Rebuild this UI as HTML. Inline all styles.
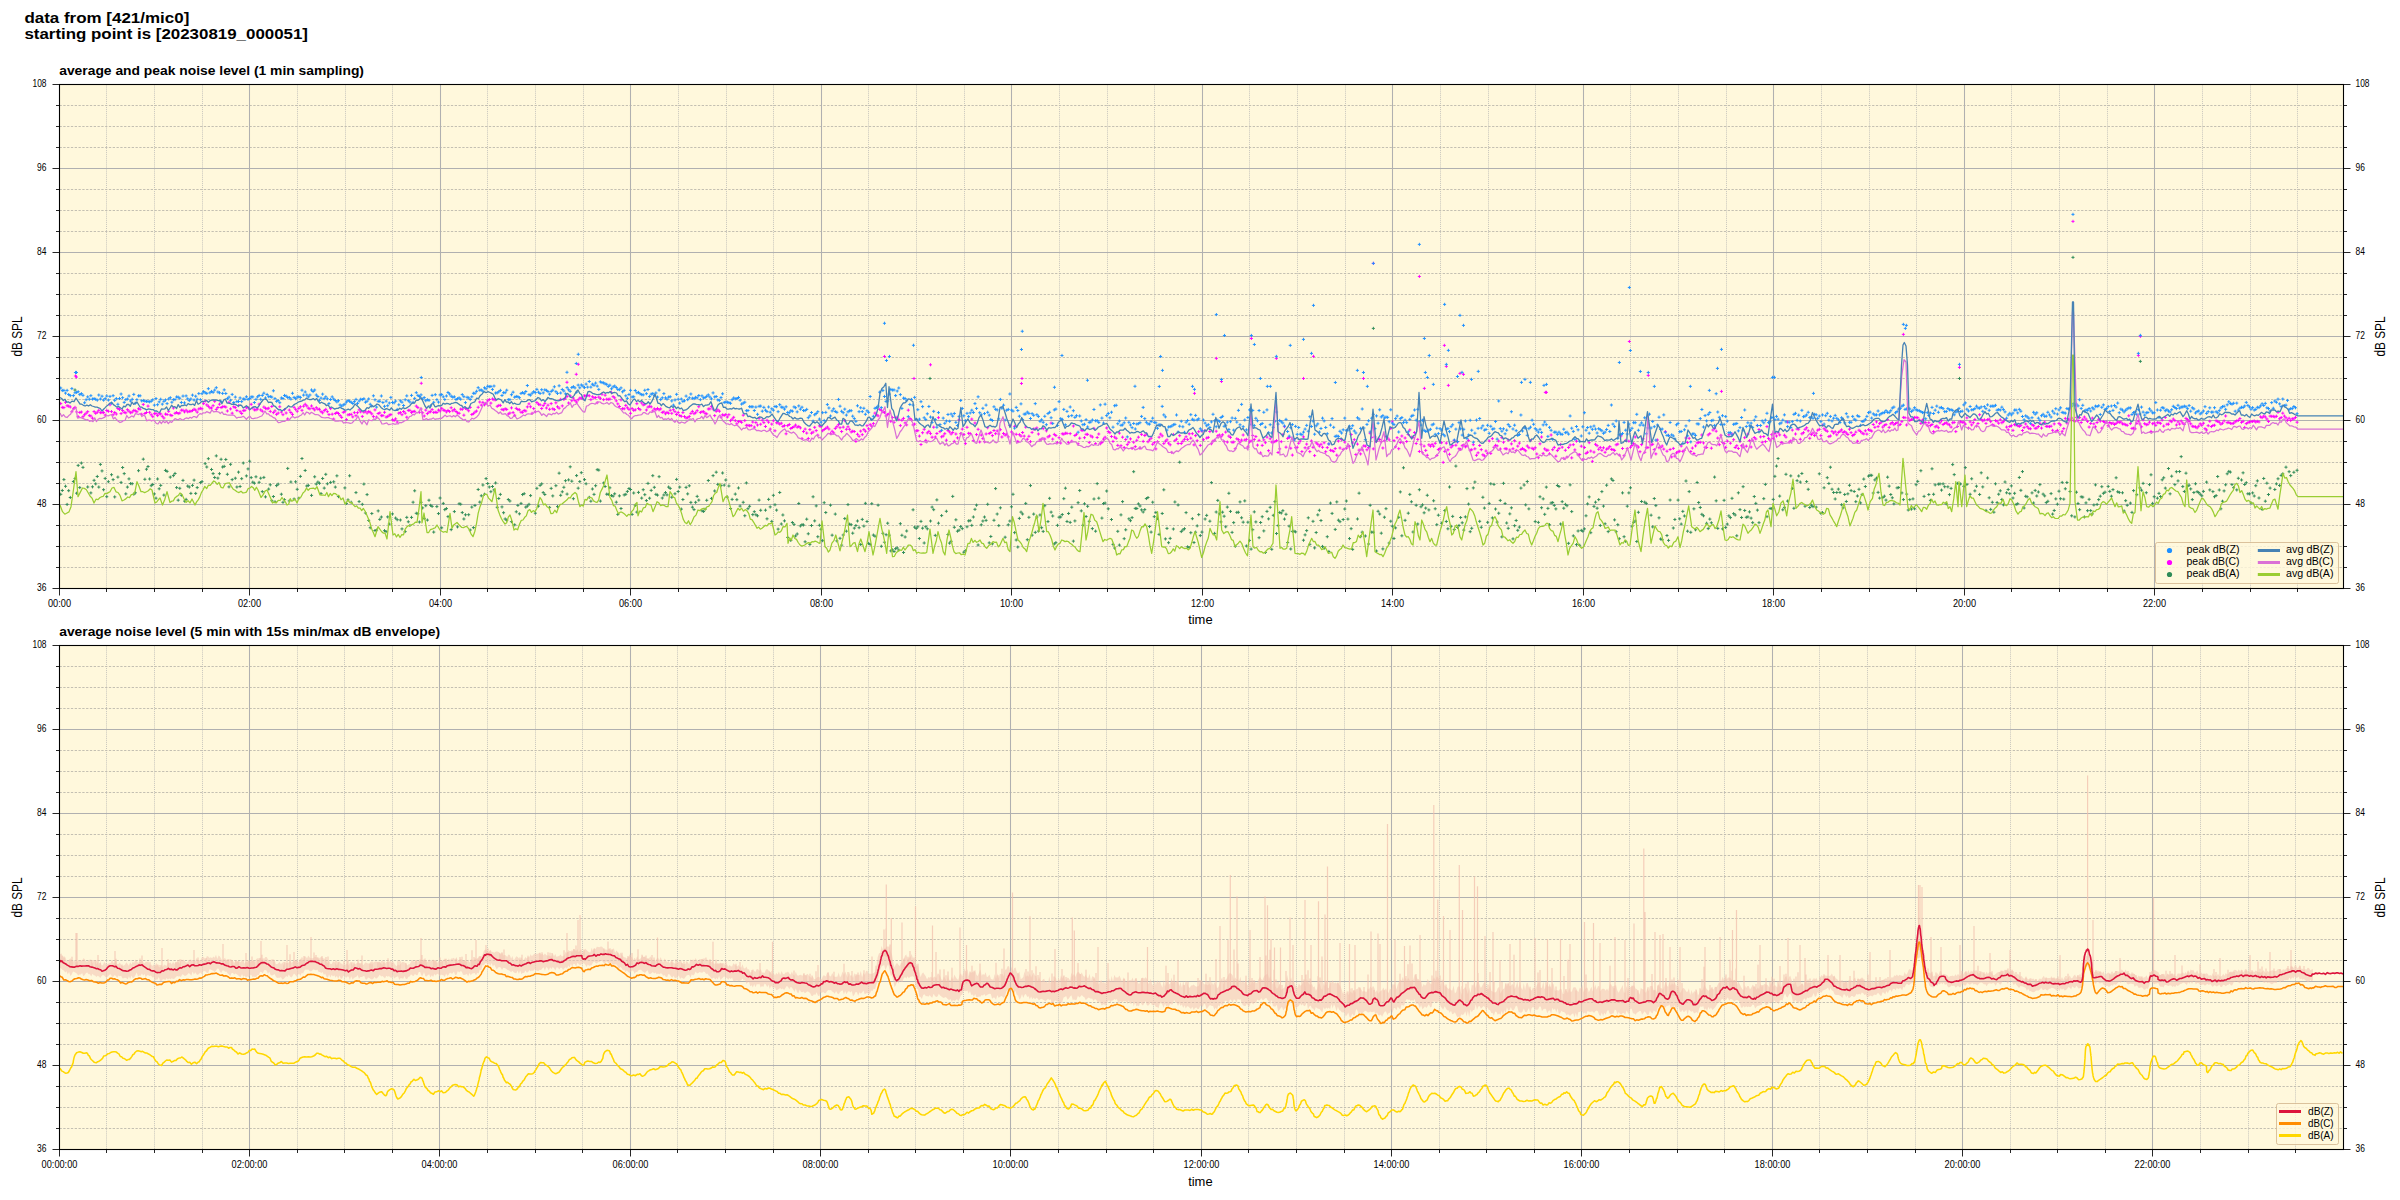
<!DOCTYPE html>
<html><head><meta charset="utf-8"><style>html,body{margin:0;padding:0;background:#fff;width:2400px;height:1200px;overflow:hidden}</style></head><body>
<svg width="2400" height="1200" viewBox="0 0 2400 1200" style="display:block;font-family:'Liberation Sans', sans-serif">
<rect width="2400" height="1200" fill="#ffffff"/>
<text x="24.40" y="22.90" font-size="15.00" text-anchor="start" font-weight="bold" textLength="164.90" lengthAdjust="spacingAndGlyphs">data from [421/mic0]</text>
<text x="24.40" y="38.70" font-size="15.00" text-anchor="start" font-weight="bold" textLength="283.60" lengthAdjust="spacingAndGlyphs">starting point is [20230819_000051]</text>
<text x="59.20" y="74.60" font-size="13.60" text-anchor="start" font-weight="bold" textLength="304.80" lengthAdjust="spacingAndGlyphs">average and peak noise level (1 min sampling)</text>
<text x="59.20" y="636.40" font-size="13.60" text-anchor="start" font-weight="bold" textLength="380.80" lengthAdjust="spacingAndGlyphs">average noise level (5 min with 15s min/max dB envelope)</text>
<rect x="59.5" y="84.5" width="2284.0" height="504.0" fill="#fff8dc"/>
<path d="M106.50 84.5V588.5M154.50 84.5V588.5M202.50 84.5V588.5M297.50 84.5V588.5M345.50 84.5V588.5M392.50 84.5V588.5M487.50 84.5V588.5M535.50 84.5V588.5M583.50 84.5V588.5M678.50 84.5V588.5M726.50 84.5V588.5M773.50 84.5V588.5M868.50 84.5V588.5M916.50 84.5V588.5M964.50 84.5V588.5M1059.50 84.5V588.5M1107.50 84.5V588.5M1154.50 84.5V588.5M1249.50 84.5V588.5M1297.50 84.5V588.5M1345.50 84.5V588.5M1440.50 84.5V588.5M1488.50 84.5V588.5M1535.50 84.5V588.5M1630.50 84.5V588.5M1678.50 84.5V588.5M1726.50 84.5V588.5M1821.50 84.5V588.5M1869.50 84.5V588.5M1916.50 84.5V588.5M2011.50 84.5V588.5M2059.50 84.5V588.5M2107.50 84.5V588.5M2202.50 84.5V588.5M2250.50 84.5V588.5M2297.50 84.5V588.5" stroke="#b0b0b0" stroke-opacity="0.72" stroke-width="1" stroke-dasharray="1 1.05" fill="none"/>
<path d="M59.5 567.50H2343.5M59.5 546.50H2343.5M59.5 525.50H2343.5M59.5 483.50H2343.5M59.5 462.50H2343.5M59.5 441.50H2343.5M59.5 399.50H2343.5M59.5 378.50H2343.5M59.5 357.50H2343.5M59.5 315.50H2343.5M59.5 294.50H2343.5M59.5 273.50H2343.5M59.5 231.50H2343.5M59.5 210.50H2343.5M59.5 189.50H2343.5M59.5 147.50H2343.5M59.5 126.50H2343.5M59.5 105.50H2343.5" stroke="#bdb9ad" stroke-width="0.9" stroke-dasharray="2.3 1.5" fill="none"/>
<path d="M59.5 504.50H2343.5M59.5 420.50H2343.5M59.5 336.50H2343.5M59.5 252.50H2343.5M59.5 168.50H2343.5M249.50 84.5V588.5M440.50 84.5V588.5M630.50 84.5V588.5M821.50 84.5V588.5M1011.50 84.5V588.5M1202.50 84.5V588.5M1392.50 84.5V588.5M1583.50 84.5V588.5M1773.50 84.5V588.5M1964.50 84.5V588.5M2154.50 84.5V588.5" stroke="#b0b0b0" stroke-width="1.05" fill="none"/>
<g id="data0"><path d="M59.2 494.3h3.1M60.7 492.7v3.1M60.8 490.5h3.1M62.3 488.9v3.1M62.4 479.6h3.1M63.9 478.0v3.1M64.0 486.3h3.1M65.5 484.7v3.1M65.5 504.4h3.1M67.1 502.9v3.1M67.1 490.7h3.1M68.7 489.1v3.1M68.7 497.5h3.1M70.3 495.9v3.1M71.9 481.5h3.1M73.4 480.0v3.1M73.5 478.6h3.1M75.0 477.0v3.1M75.1 493.2h3.1M76.6 491.7v3.1M76.6 465.4h3.1M78.2 463.9v3.1M78.2 487.6h3.1M79.8 486.0v3.1M79.8 463.1h3.1M81.4 461.5v3.1M81.4 467.4h3.1M83.0 465.8v3.1M86.2 487.0h3.1M87.7 485.4v3.1M89.3 492.9h3.1M90.9 491.4v3.1M90.9 486.8h3.1M92.5 485.3v3.1M92.5 480.3h3.1M94.1 478.8v3.1M94.1 483.9h3.1M95.7 482.3v3.1M95.7 476.5h3.1M97.3 474.9v3.1M97.3 487.1h3.1M98.8 485.5v3.1M98.9 464.4h3.1M100.4 462.8v3.1M100.5 470.9h3.1M102.0 469.4v3.1M102.0 489.7h3.1M103.6 488.2v3.1M103.6 478.4h3.1M105.2 476.9v3.1M105.2 496.7h3.1M106.8 495.1v3.1M106.8 481.7h3.1M108.4 480.1v3.1M110.0 474.7h3.1M111.5 473.2v3.1M111.6 479.6h3.1M113.1 478.1v3.1M113.2 496.9h3.1M114.7 495.4v3.1M116.3 477.1h3.1M117.9 475.5v3.1M119.5 482.4h3.1M121.1 480.9v3.1M121.1 467.5h3.1M122.6 466.0v3.1M122.7 473.6h3.1M124.2 472.1v3.1M124.3 493.9h3.1M125.8 492.3v3.1M125.9 487.1h3.1M127.4 485.5v3.1M127.4 478.9h3.1M129.0 477.3v3.1M129.0 483.6h3.1M130.6 482.0v3.1M130.6 483.7h3.1M132.2 482.2v3.1M132.2 494.2h3.1M133.8 492.6v3.1M133.8 492.8h3.1M135.3 491.3v3.1M137.0 470.7h3.1M138.5 469.1v3.1M141.7 459.2h3.1M143.3 457.6v3.1M143.3 479.3h3.1M144.9 477.7v3.1M144.9 469.2h3.1M146.5 467.7v3.1M146.5 466.5h3.1M148.0 465.0v3.1M148.1 479.0h3.1M149.6 477.4v3.1M149.7 485.7h3.1M151.2 484.1v3.1M151.2 484.5h3.1M152.8 482.9v3.1M152.8 493.9h3.1M154.4 492.4v3.1M154.4 498.2h3.1M156.0 496.6v3.1M156.0 479.0h3.1M157.6 477.4v3.1M157.6 488.8h3.1M159.2 487.2v3.1M159.2 485.4h3.1M160.7 483.8v3.1M162.4 495.1h3.1M163.9 493.5v3.1M163.9 470.4h3.1M165.5 468.8v3.1M165.5 471.4h3.1M167.1 469.8v3.1M168.7 477.1h3.1M170.3 475.6v3.1M171.9 475.6h3.1M173.4 474.1v3.1M173.5 473.5h3.1M175.0 471.9v3.1M175.1 487.6h3.1M176.6 486.0v3.1M176.6 500.2h3.1M178.2 498.6v3.1M178.2 488.3h3.1M179.8 486.8v3.1M179.8 495.2h3.1M181.4 493.6v3.1M181.4 480.4h3.1M183.0 478.8v3.1M183.0 501.1h3.1M184.5 499.5v3.1M184.6 499.4h3.1M186.1 497.8v3.1M186.2 486.1h3.1M187.7 484.5v3.1M187.7 487.0h3.1M189.3 485.5v3.1M189.3 493.4h3.1M190.9 491.8v3.1M190.9 485.4h3.1M192.5 483.8v3.1M192.5 480.1h3.1M194.1 478.6v3.1M194.1 493.4h3.1M195.7 491.9v3.1M195.7 487.6h3.1M197.2 486.0v3.1M198.9 482.6h3.1M200.4 481.1v3.1M200.4 481.6h3.1M202.0 480.0v3.1M203.6 463.7h3.1M205.2 462.1v3.1M205.2 467.0h3.1M206.8 465.4v3.1M206.8 458.7h3.1M208.4 457.1v3.1M210.0 469.5h3.1M211.5 467.9v3.1M211.6 473.6h3.1M213.1 472.0v3.1M213.1 477.5h3.1M214.7 475.9v3.1M214.7 455.9h3.1M216.3 454.3v3.1M216.3 478.1h3.1M217.9 476.6v3.1M217.9 473.7h3.1M219.5 472.1v3.1M219.5 459.3h3.1M221.1 457.7v3.1M221.1 467.0h3.1M222.6 465.4v3.1M222.7 466.4h3.1M224.2 464.8v3.1M224.3 459.5h3.1M225.8 457.9v3.1M225.8 474.3h3.1M227.4 472.7v3.1M227.4 486.9h3.1M229.0 485.3v3.1M229.0 464.3h3.1M230.6 462.8v3.1M230.6 479.6h3.1M232.2 478.1v3.1M233.8 478.2h3.1M235.3 476.7v3.1M235.4 487.0h3.1M236.9 485.5v3.1M237.0 472.1h3.1M238.5 470.6v3.1M238.5 486.5h3.1M240.1 484.9v3.1M240.1 478.7h3.1M241.7 477.1v3.1M241.7 463.0h3.1M243.3 461.5v3.1M244.9 475.9h3.1M246.4 474.4v3.1M246.5 468.9h3.1M248.0 467.4v3.1M248.1 461.2h3.1M249.6 459.6v3.1M249.6 477.6h3.1M251.2 476.0v3.1M251.2 482.2h3.1M252.8 480.6v3.1M252.8 483.2h3.1M254.4 481.6v3.1M254.4 476.8h3.1M256.0 475.2v3.1M257.6 482.3h3.1M259.1 480.8v3.1M259.2 478.2h3.1M260.7 476.6v3.1M260.8 491.6h3.1M262.3 490.1v3.1M262.3 477.4h3.1M263.9 475.9v3.1M263.9 496.9h3.1M265.5 495.3v3.1M267.1 489.1h3.1M268.7 487.5v3.1M268.7 484.8h3.1M270.3 483.3v3.1M270.3 500.7h3.1M271.8 499.1v3.1M271.9 496.5h3.1M273.4 495.0v3.1M273.5 501.7h3.1M275.0 500.2v3.1M275.0 485.6h3.1M276.6 484.1v3.1M276.6 484.1h3.1M278.2 482.6v3.1M279.8 494.2h3.1M281.4 492.7v3.1M281.4 502.3h3.1M283.0 500.7v3.1M283.0 499.7h3.1M284.5 498.2v3.1M286.2 468.4h3.1M287.7 466.9v3.1M287.7 500.9h3.1M289.3 499.3v3.1M289.3 482.0h3.1M290.9 480.4v3.1M292.5 499.0h3.1M294.1 497.5v3.1M294.1 481.8h3.1M295.6 480.2v3.1M295.7 489.3h3.1M297.2 487.7v3.1M297.3 498.2h3.1M298.8 496.7v3.1M298.9 476.4h3.1M300.4 474.8v3.1M300.4 458.5h3.1M302.0 457.0v3.1M303.6 470.5h3.1M305.2 468.9v3.1M305.2 486.0h3.1M306.8 484.5v3.1M306.8 485.4h3.1M308.3 483.9v3.1M310.0 495.4h3.1M311.5 493.8v3.1M313.1 476.8h3.1M314.7 475.2v3.1M314.7 484.1h3.1M316.3 482.5v3.1M316.3 482.1h3.1M317.9 480.5v3.1M317.9 483.3h3.1M319.5 481.7v3.1M319.5 493.6h3.1M321.0 492.0v3.1M321.1 478.5h3.1M322.6 476.9v3.1M322.7 488.1h3.1M324.2 486.5v3.1M324.2 474.3h3.1M325.8 472.8v3.1M325.8 483.8h3.1M327.4 482.2v3.1M329.0 482.4h3.1M330.6 480.8v3.1M332.2 481.8h3.1M333.7 480.2v3.1M333.8 487.1h3.1M335.3 485.5v3.1M335.4 475.8h3.1M336.9 474.3v3.1M336.9 496.6h3.1M338.5 495.1v3.1M343.3 487.9h3.1M344.9 486.4v3.1M344.9 503.4h3.1M346.4 501.9v3.1M346.5 499.9h3.1M348.0 498.3v3.1M348.1 475.8h3.1M349.6 474.2v3.1M349.6 502.3h3.1M351.2 500.7v3.1M354.4 492.6h3.1M356.0 491.0v3.1M357.6 501.6h3.1M359.1 500.0v3.1M360.8 504.3h3.1M362.3 502.8v3.1M362.3 484.1h3.1M363.9 482.5v3.1M363.9 513.0h3.1M365.5 511.4v3.1M365.5 494.6h3.1M367.1 493.0v3.1M367.1 520.4h3.1M368.7 518.9v3.1M368.7 527.7h3.1M370.2 526.2v3.1M370.3 513.5h3.1M371.8 512.0v3.1M373.4 530.5h3.1M375.0 529.0v3.1M375.0 530.1h3.1M376.6 528.6v3.1M376.6 510.9h3.1M378.2 509.4v3.1M378.2 519.4h3.1M379.8 517.8v3.1M379.8 517.0h3.1M381.4 515.5v3.1M383.0 530.7h3.1M384.5 529.1v3.1M384.6 531.6h3.1M386.1 530.1v3.1M386.1 516.9h3.1M387.7 515.4v3.1M387.7 524.1h3.1M389.3 522.5v3.1M390.9 513.9h3.1M392.5 512.4v3.1M394.1 518.1h3.1M395.6 516.5v3.1M395.7 519.7h3.1M397.2 518.2v3.1M398.8 520.0h3.1M400.4 518.5v3.1M400.4 528.9h3.1M402.0 527.4v3.1M403.6 531.6h3.1M405.2 530.0v3.1M405.2 517.4h3.1M406.8 515.8v3.1M406.8 521.8h3.1M408.3 520.2v3.1M408.4 525.5h3.1M409.9 523.9v3.1M410.0 517.4h3.1M411.5 515.8v3.1M411.5 502.2h3.1M413.1 500.7v3.1M413.1 490.8h3.1M414.7 489.2v3.1M414.7 513.3h3.1M416.3 511.7v3.1M416.3 513.7h3.1M417.9 512.1v3.1M417.9 522.0h3.1M419.4 520.5v3.1M419.5 502.3h3.1M421.0 500.7v3.1M421.1 507.9h3.1M422.6 506.4v3.1M422.7 518.4h3.1M424.2 516.9v3.1M424.2 505.7h3.1M425.8 504.1v3.1M425.8 520.1h3.1M427.4 518.5v3.1M427.4 500.2h3.1M429.0 498.7v3.1M429.0 505.3h3.1M430.6 503.8v3.1M430.6 506.4h3.1M432.1 504.8v3.1M432.2 532.1h3.1M433.7 530.5v3.1M435.3 506.6h3.1M436.9 505.0v3.1M436.9 513.6h3.1M438.5 512.0v3.1M438.5 498.0h3.1M440.1 496.5v3.1M440.1 527.8h3.1M441.7 526.3v3.1M441.7 503.4h3.1M443.3 501.9v3.1M443.3 509.6h3.1M444.8 508.1v3.1M444.9 508.6h3.1M446.4 507.0v3.1M446.5 516.6h3.1M448.0 515.1v3.1M449.6 529.6h3.1M451.2 528.1v3.1M452.8 511.6h3.1M454.4 510.0v3.1M456.0 526.9h3.1M457.5 525.3v3.1M457.6 503.8h3.1M459.1 502.2v3.1M459.2 504.2h3.1M460.7 502.6v3.1M460.7 512.6h3.1M462.3 511.0v3.1M462.3 519.0h3.1M463.9 517.4v3.1M463.9 514.8h3.1M465.5 513.3v3.1M467.1 514.7h3.1M468.7 513.2v3.1M468.7 530.0h3.1M470.2 528.5v3.1M470.3 507.1h3.1M471.8 505.5v3.1M471.9 527.6h3.1M473.4 526.1v3.1M473.4 505.5h3.1M475.0 503.9v3.1M476.6 489.5h3.1M478.2 487.9v3.1M478.2 502.1h3.1M479.8 500.5v3.1M479.8 495.8h3.1M481.3 494.2v3.1M481.4 485.0h3.1M482.9 483.5v3.1M483.0 494.2h3.1M484.5 492.7v3.1M484.5 478.6h3.1M486.1 477.0v3.1M486.1 483.5h3.1M487.7 482.0v3.1M487.7 487.0h3.1M489.3 485.5v3.1M489.3 491.7h3.1M490.9 490.1v3.1M490.9 486.5h3.1M492.5 485.0v3.1M492.5 489.9h3.1M494.0 488.4v3.1M494.1 483.0h3.1M495.6 481.4v3.1M495.7 507.3h3.1M497.2 505.8v3.1M497.2 498.5h3.1M498.8 496.9v3.1M498.8 494.4h3.1M500.4 492.8v3.1M500.4 506.9h3.1M502.0 505.4v3.1M502.0 512.7h3.1M503.6 511.2v3.1M503.6 519.0h3.1M505.2 517.4v3.1M505.2 520.2h3.1M506.7 518.6v3.1M506.8 499.5h3.1M508.3 498.0v3.1M508.4 501.0h3.1M509.9 499.5v3.1M509.9 521.7h3.1M511.5 520.1v3.1M513.1 524.8h3.1M514.7 523.3v3.1M514.7 511.8h3.1M516.3 510.2v3.1M516.3 505.4h3.1M517.9 503.8v3.1M517.9 513.8h3.1M519.4 512.3v3.1M519.5 503.4h3.1M521.0 501.9v3.1M521.1 494.5h3.1M522.6 493.0v3.1M522.6 493.7h3.1M524.2 492.1v3.1M524.2 507.1h3.1M525.8 505.6v3.1M525.8 506.1h3.1M527.4 504.5v3.1M527.4 504.3h3.1M529.0 502.8v3.1M529.0 495.6h3.1M530.6 494.0v3.1M533.8 513.2h3.1M535.3 511.7v3.1M535.3 488.3h3.1M536.9 486.8v3.1M536.9 506.1h3.1M538.5 504.5v3.1M538.5 485.4h3.1M540.1 483.8v3.1M540.1 483.9h3.1M541.7 482.3v3.1M541.7 492.6h3.1M543.2 491.0v3.1M543.3 494.5h3.1M544.8 492.9v3.1M548.0 507.4h3.1M549.6 505.9v3.1M549.6 488.4h3.1M551.2 486.8v3.1M551.2 495.9h3.1M552.8 494.4v3.1M554.4 485.7h3.1M555.9 484.1v3.1M556.0 506.6h3.1M557.5 505.0v3.1M557.6 473.2h3.1M559.1 471.6v3.1M559.1 495.3h3.1M560.7 493.7v3.1M560.7 491.8h3.1M562.3 490.2v3.1M562.3 487.3h3.1M563.9 485.7v3.1M563.9 480.7h3.1M565.5 479.2v3.1M565.5 494.1h3.1M567.1 492.5v3.1M567.1 479.9h3.1M568.6 478.3v3.1M568.7 466.8h3.1M570.2 465.3v3.1M570.3 481.2h3.1M571.8 479.6v3.1M571.8 498.7h3.1M573.4 497.2v3.1M575.0 475.6h3.1M576.6 474.0v3.1M576.6 488.2h3.1M578.2 486.6v3.1M578.2 481.6h3.1M579.8 480.0v3.1M579.8 472.7h3.1M581.3 471.1v3.1M583.0 479.6h3.1M584.5 478.0v3.1M584.5 483.8h3.1M586.1 482.2v3.1M587.7 497.3h3.1M589.3 495.8v3.1M589.3 501.2h3.1M590.9 499.6v3.1M590.9 489.0h3.1M592.4 487.4v3.1M592.5 494.4h3.1M594.0 492.8v3.1M594.1 485.7h3.1M595.6 484.2v3.1M595.7 469.7h3.1M597.2 468.1v3.1M597.2 470.1h3.1M598.8 468.5v3.1M598.8 501.1h3.1M600.4 499.5v3.1M602.0 483.0h3.1M603.6 481.5v3.1M603.6 486.5h3.1M605.1 484.9v3.1M605.2 494.2h3.1M606.7 492.6v3.1M606.8 494.3h3.1M608.3 492.8v3.1M608.3 487.8h3.1M609.9 486.2v3.1M609.9 495.5h3.1M611.5 494.0v3.1M611.5 496.2h3.1M613.1 494.6v3.1M613.1 493.8h3.1M614.7 492.3v3.1M614.7 502.2h3.1M616.3 500.6v3.1M616.3 514.4h3.1M617.8 512.8v3.1M617.9 495.9h3.1M619.4 494.3v3.1M619.5 508.5h3.1M621.0 507.0v3.1M622.6 494.9h3.1M624.2 493.4v3.1M624.2 494.3h3.1M625.8 492.8v3.1M625.8 491.4h3.1M627.4 489.9v3.1M627.4 488.5h3.1M629.0 487.0v3.1M629.0 489.5h3.1M630.5 487.9v3.1M630.6 514.4h3.1M632.1 512.8v3.1M632.2 493.0h3.1M633.7 491.4v3.1M633.7 505.3h3.1M635.3 503.8v3.1M635.3 512.1h3.1M636.9 510.5v3.1M636.9 492.4h3.1M638.5 490.8v3.1M640.1 498.1h3.1M641.7 496.5v3.1M641.7 489.7h3.1M643.2 488.2v3.1M643.3 494.7h3.1M644.8 493.1v3.1M644.9 500.6h3.1M646.4 499.0v3.1M646.4 483.4h3.1M648.0 481.8v3.1M648.0 498.2h3.1M649.6 496.7v3.1M649.6 490.4h3.1M651.2 488.8v3.1M651.2 475.7h3.1M652.8 474.1v3.1M652.8 487.3h3.1M654.3 485.8v3.1M654.4 494.4h3.1M655.9 492.8v3.1M656.0 495.1h3.1M657.5 493.5v3.1M657.6 476.7h3.1M659.1 475.1v3.1M660.7 498.0h3.1M662.3 496.5v3.1M662.3 495.0h3.1M663.9 493.4v3.1M663.9 492.6h3.1M665.5 491.0v3.1M665.5 494.9h3.1M667.0 493.3v3.1M667.1 487.1h3.1M668.6 485.5v3.1M668.7 488.4h3.1M670.2 486.9v3.1M670.2 497.2h3.1M671.8 495.7v3.1M673.4 493.8h3.1M675.0 492.2v3.1M675.0 479.4h3.1M676.6 477.8v3.1M676.6 491.5h3.1M678.2 490.0v3.1M678.2 487.1h3.1M679.7 485.6v3.1M679.8 509.1h3.1M681.3 507.5v3.1M681.4 499.5h3.1M682.9 498.0v3.1M684.5 487.4h3.1M686.1 485.8v3.1M686.1 493.9h3.1M687.7 492.3v3.1M687.7 485.8h3.1M689.3 484.2v3.1M689.3 502.4h3.1M690.9 500.9v3.1M690.9 507.2h3.1M692.4 505.6v3.1M692.5 509.6h3.1M694.0 508.0v3.1M694.1 502.3h3.1M695.6 500.8v3.1M695.6 496.4h3.1M697.2 494.8v3.1M697.2 500.1h3.1M698.8 498.6v3.1M700.4 510.8h3.1M702.0 509.3v3.1M702.0 511.5h3.1M703.6 509.9v3.1M703.6 509.2h3.1M705.1 507.6v3.1M705.2 500.3h3.1M706.7 498.7v3.1M706.8 480.5h3.1M708.3 479.0v3.1M709.9 498.4h3.1M711.5 496.9v3.1M711.5 475.6h3.1M713.1 474.1v3.1M713.1 491.0h3.1M714.7 489.4v3.1M714.7 472.2h3.1M716.2 470.6v3.1M716.3 484.4h3.1M717.8 482.8v3.1M719.5 485.6h3.1M721.0 484.1v3.1M721.0 473.0h3.1M722.6 471.4v3.1M722.6 485.1h3.1M724.2 483.6v3.1M724.2 480.0h3.1M725.8 478.5v3.1M725.8 497.1h3.1M727.4 495.5v3.1M727.4 486.0h3.1M728.9 484.4v3.1M729.0 508.5h3.1M730.5 506.9v3.1M730.6 499.4h3.1M732.1 497.8v3.1M733.7 494.1h3.1M735.3 492.5v3.1M735.3 499.7h3.1M736.9 498.1v3.1M736.9 488.0h3.1M738.5 486.4v3.1M738.5 506.1h3.1M740.1 504.5v3.1M741.7 502.3h3.1M743.2 500.7v3.1M743.3 515.7h3.1M744.8 514.2v3.1M744.8 482.9h3.1M746.4 481.4v3.1M746.4 508.7h3.1M748.0 507.1v3.1M748.0 506.3h3.1M749.6 504.7v3.1M751.2 514.6h3.1M752.8 513.1v3.1M752.8 511.7h3.1M754.3 510.2v3.1M754.4 514.8h3.1M755.9 513.2v3.1M756.0 515.8h3.1M757.5 514.2v3.1M757.5 500.1h3.1M759.1 498.5v3.1M759.1 510.3h3.1M760.7 508.7v3.1M763.9 510.2h3.1M765.5 508.6v3.1M765.5 518.8h3.1M767.0 517.3v3.1M767.1 499.4h3.1M768.6 497.8v3.1M768.7 506.9h3.1M770.2 505.4v3.1M770.2 521.4h3.1M771.8 519.8v3.1M771.8 495.3h3.1M773.4 493.8v3.1M773.4 504.8h3.1M775.0 503.2v3.1M775.0 510.1h3.1M776.6 508.6v3.1M776.6 529.1h3.1M778.1 527.6v3.1M778.2 492.5h3.1M779.7 490.9v3.1M779.8 524.0h3.1M781.3 522.4v3.1M781.3 515.0h3.1M782.9 513.4v3.1M782.9 520.9h3.1M784.5 519.3v3.1M786.1 537.4h3.1M787.7 535.9v3.1M789.3 540.4h3.1M790.8 538.9v3.1M790.9 522.5h3.1M792.4 521.0v3.1M792.5 524.4h3.1M794.0 522.9v3.1M794.0 536.0h3.1M795.6 534.4v3.1M795.6 534.0h3.1M797.2 532.4v3.1M797.2 503.5h3.1M798.8 501.9v3.1M798.8 525.9h3.1M800.4 524.4v3.1M800.4 524.7h3.1M802.0 523.1v3.1M802.0 525.0h3.1M803.5 523.4v3.1M803.6 541.8h3.1M805.1 540.2v3.1M805.2 519.2h3.1M806.7 517.6v3.1M806.7 533.8h3.1M808.3 532.2v3.1M808.3 544.4h3.1M809.9 542.8v3.1M809.9 525.5h3.1M811.5 524.0v3.1M811.5 496.8h3.1M813.1 495.2v3.1M813.1 520.9h3.1M814.7 519.3v3.1M814.7 505.9h3.1M816.2 504.3v3.1M816.3 536.7h3.1M817.8 535.2v3.1M817.9 525.3h3.1M819.4 523.7v3.1M819.4 529.2h3.1M821.0 527.6v3.1M821.0 540.7h3.1M822.6 539.1v3.1M822.6 502.7h3.1M824.2 501.1v3.1M824.2 512.5h3.1M825.8 511.0v3.1M829.0 505.2h3.1M830.5 503.6v3.1M830.6 535.2h3.1M832.1 533.6v3.1M833.7 514.1h3.1M835.3 512.5v3.1M835.3 540.9h3.1M836.9 539.4v3.1M838.5 538.3h3.1M840.0 536.8v3.1M840.1 545.1h3.1M841.6 543.6v3.1M841.7 535.0h3.1M843.2 533.5v3.1M843.2 518.6h3.1M844.8 517.0v3.1M844.8 531.2h3.1M846.4 529.6v3.1M846.4 504.6h3.1M848.0 503.0v3.1M848.0 524.2h3.1M849.6 522.6v3.1M849.6 524.7h3.1M851.2 523.1v3.1M851.2 533.2h3.1M852.7 531.6v3.1M852.8 528.1h3.1M854.3 526.6v3.1M854.4 525.5h3.1M855.9 524.0v3.1M855.9 521.0h3.1M857.5 519.4v3.1M857.5 527.7h3.1M859.1 526.1v3.1M859.1 544.5h3.1M860.7 543.0v3.1M860.7 519.4h3.1M862.3 517.8v3.1M862.3 526.1h3.1M863.9 524.5v3.1M863.9 503.3h3.1M865.4 501.8v3.1M865.5 521.5h3.1M867.0 519.9v3.1M867.1 543.4h3.1M868.6 541.8v3.1M868.6 544.4h3.1M870.2 542.8v3.1M870.2 503.7h3.1M871.8 502.1v3.1M871.8 535.1h3.1M873.4 533.5v3.1M873.4 536.2h3.1M875.0 534.6v3.1M876.6 505.2h3.1M878.1 503.6v3.1M879.8 546.3h3.1M881.3 544.7v3.1M881.3 533.3h3.1M882.9 531.7v3.1M882.9 542.2h3.1M884.5 540.7v3.1M884.5 534.7h3.1M886.1 533.2v3.1M886.1 523.2h3.1M887.7 521.7v3.1M887.7 535.2h3.1M889.3 533.6v3.1M889.3 550.9h3.1M890.8 549.3v3.1M890.9 549.9h3.1M892.4 548.3v3.1M892.5 551.5h3.1M894.0 549.9v3.1M894.0 548.7h3.1M895.6 547.2v3.1M895.6 547.9h3.1M897.2 546.4v3.1M897.2 550.1h3.1M898.8 548.5v3.1M898.8 523.7h3.1M900.4 522.1v3.1M900.4 535.3h3.1M901.9 533.7v3.1M902.0 552.5h3.1M903.5 550.9v3.1M903.6 537.0h3.1M905.1 535.4v3.1M905.1 531.0h3.1M906.7 529.4v3.1M911.5 509.8h3.1M913.1 508.2v3.1M913.1 527.1h3.1M914.6 525.6v3.1M914.7 528.4h3.1M916.2 526.9v3.1M916.3 526.8h3.1M917.8 525.2v3.1M917.8 538.5h3.1M919.4 537.0v3.1M919.4 521.4h3.1M921.0 519.8v3.1M921.0 528.2h3.1M922.6 526.6v3.1M922.6 543.0h3.1M924.2 541.4v3.1M924.2 526.7h3.1M925.8 525.2v3.1M925.8 528.8h3.1M927.3 527.3v3.1M929.0 521.0h3.1M930.5 519.5v3.1M930.5 507.1h3.1M932.1 505.6v3.1M932.1 509.7h3.1M933.7 508.1v3.1M933.7 535.4h3.1M935.3 533.8v3.1M935.3 499.9h3.1M936.9 498.3v3.1M936.9 523.2h3.1M938.5 521.6v3.1M940.1 515.6h3.1M941.6 514.0v3.1M944.8 511.3h3.1M946.4 509.7v3.1M946.4 534.5h3.1M948.0 532.9v3.1M948.0 543.1h3.1M949.6 541.6v3.1M949.6 541.3h3.1M951.1 539.8v3.1M951.2 496.4h3.1M952.7 494.8v3.1M952.8 527.3h3.1M954.3 525.7v3.1M954.4 519.8h3.1M955.9 518.2v3.1M955.9 531.2h3.1M957.5 529.6v3.1M957.5 530.2h3.1M959.1 528.6v3.1M959.1 526.6h3.1M960.7 525.0v3.1M960.7 528.6h3.1M962.3 527.1v3.1M962.3 552.2h3.1M963.8 550.6v3.1M963.9 550.8h3.1M965.4 549.2v3.1M965.5 526.8h3.1M967.0 525.2v3.1M967.0 520.9h3.1M968.6 519.3v3.1M968.6 520.7h3.1M970.2 519.1v3.1M970.2 525.4h3.1M971.8 523.8v3.1M971.8 517.0h3.1M973.4 515.4v3.1M973.4 509.3h3.1M975.0 507.8v3.1M975.0 505.1h3.1M976.5 503.6v3.1M976.6 545.0h3.1M978.1 543.4v3.1M979.7 524.8h3.1M981.3 523.3v3.1M981.3 521.0h3.1M982.9 519.5v3.1M982.9 517.0h3.1M984.5 515.5v3.1M984.5 520.4h3.1M986.1 518.8v3.1M986.1 504.3h3.1M987.7 502.7v3.1M987.7 542.9h3.1M989.2 541.3v3.1M989.3 536.5h3.1M990.8 534.9v3.1M990.9 543.8h3.1M992.4 542.3v3.1M992.4 520.3h3.1M994.0 518.7v3.1M994.0 488.6h3.1M995.6 487.0v3.1M995.6 514.0h3.1M997.2 512.5v3.1M997.2 525.6h3.1M998.8 524.0v3.1M998.8 507.8h3.1M1000.4 506.3v3.1M1003.6 537.2h3.1M1005.1 535.7v3.1M1006.7 524.8h3.1M1008.3 523.3v3.1M1008.3 521.0h3.1M1009.9 519.5v3.1M1009.9 506.8h3.1M1011.5 505.2v3.1M1011.5 494.3h3.1M1013.0 492.7v3.1M1013.1 532.6h3.1M1014.6 531.1v3.1M1014.7 540.0h3.1M1016.2 538.4v3.1M1016.3 547.0h3.1M1017.8 545.5v3.1M1017.8 518.4h3.1M1019.4 516.8v3.1M1019.4 512.1h3.1M1021.0 510.6v3.1M1021.0 514.0h3.1M1022.6 512.4v3.1M1024.2 503.4h3.1M1025.7 501.9v3.1M1025.8 539.7h3.1M1027.3 538.2v3.1M1027.4 517.3h3.1M1028.9 515.8v3.1M1028.9 485.6h3.1M1030.5 484.0v3.1M1030.5 535.2h3.1M1032.1 533.7v3.1M1032.1 514.1h3.1M1033.7 512.5v3.1M1033.7 532.4h3.1M1035.3 530.8v3.1M1035.3 517.0h3.1M1036.9 515.4v3.1M1036.9 531.1h3.1M1038.4 529.5v3.1M1038.5 515.0h3.1M1040.0 513.4v3.1M1040.1 527.7h3.1M1041.6 526.2v3.1M1041.6 531.4h3.1M1043.2 529.9v3.1M1043.2 505.7h3.1M1044.8 504.2v3.1M1046.4 521.6h3.1M1048.0 520.0v3.1M1048.0 498.3h3.1M1049.6 496.8v3.1M1049.6 512.1h3.1M1051.1 510.6v3.1M1051.2 516.0h3.1M1052.7 514.4v3.1M1052.8 543.9h3.1M1054.3 542.3v3.1M1054.3 542.7h3.1M1055.9 541.1v3.1M1055.9 525.3h3.1M1057.5 523.8v3.1M1057.5 517.2h3.1M1059.1 515.7v3.1M1059.1 517.0h3.1M1060.7 515.4v3.1M1060.7 514.5h3.1M1062.3 513.0v3.1M1062.3 498.7h3.1M1063.8 497.1v3.1M1063.9 488.2h3.1M1065.4 486.6v3.1M1065.5 521.5h3.1M1067.0 519.9v3.1M1067.0 513.5h3.1M1068.6 511.9v3.1M1068.6 522.4h3.1M1070.2 520.8v3.1M1070.2 507.2h3.1M1071.8 505.6v3.1M1071.8 541.1h3.1M1073.4 539.6v3.1M1073.4 520.9h3.1M1074.9 519.4v3.1M1076.6 502.7h3.1M1078.1 501.1v3.1M1078.2 490.5h3.1M1079.7 489.0v3.1M1079.7 510.9h3.1M1081.3 509.3v3.1M1081.3 525.3h3.1M1082.9 523.7v3.1M1082.9 503.8h3.1M1084.5 502.2v3.1M1084.5 516.5h3.1M1086.1 515.0v3.1M1086.1 506.3h3.1M1087.6 504.8v3.1M1087.7 521.3h3.1M1089.2 519.7v3.1M1090.8 528.6h3.1M1092.4 527.1v3.1M1092.4 499.0h3.1M1094.0 497.4v3.1M1094.0 531.2h3.1M1095.6 529.6v3.1M1095.6 483.6h3.1M1097.2 482.1v3.1M1097.2 498.2h3.1M1098.8 496.6v3.1M1100.4 518.1h3.1M1101.9 516.5v3.1M1102.0 503.5h3.1M1103.5 502.0v3.1M1103.5 503.0h3.1M1105.1 501.5v3.1M1105.1 491.0h3.1M1106.7 489.5v3.1M1106.7 508.8h3.1M1108.3 507.3v3.1M1109.9 519.5h3.1M1111.5 518.0v3.1M1111.5 544.4h3.1M1113.0 542.8v3.1M1113.1 548.0h3.1M1114.6 546.5v3.1M1116.2 531.3h3.1M1117.8 529.8v3.1M1117.8 545.1h3.1M1119.4 543.5v3.1M1119.4 514.9h3.1M1121.0 513.3v3.1M1121.0 501.6h3.1M1122.6 500.1v3.1M1122.6 538.7h3.1M1124.2 537.1v3.1M1124.2 529.8h3.1M1125.7 528.2v3.1M1127.4 518.8h3.1M1128.9 517.3v3.1M1128.9 520.7h3.1M1130.5 519.1v3.1M1130.5 517.6h3.1M1132.1 516.0v3.1M1132.1 471.7h3.1M1133.7 470.1v3.1M1133.7 508.4h3.1M1135.3 506.9v3.1M1135.3 508.5h3.1M1136.8 506.9v3.1M1136.9 503.9h3.1M1138.4 502.3v3.1M1138.5 506.0h3.1M1140.0 504.4v3.1M1140.0 509.9h3.1M1141.6 508.4v3.1M1141.6 512.0h3.1M1143.2 510.4v3.1M1143.2 509.6h3.1M1144.8 508.0v3.1M1144.8 498.6h3.1M1146.4 497.0v3.1M1146.4 497.5h3.1M1148.0 496.0v3.1M1148.0 526.5h3.1M1149.5 525.0v3.1M1149.6 532.1h3.1M1151.1 530.5v3.1M1151.2 502.2h3.1M1152.7 500.7v3.1M1152.7 516.7h3.1M1154.3 515.1v3.1M1154.3 512.5h3.1M1155.9 510.9v3.1M1155.9 518.5h3.1M1157.5 517.0v3.1M1157.5 534.4h3.1M1159.1 532.8v3.1M1160.7 513.5h3.1M1162.2 511.9v3.1M1162.3 489.8h3.1M1163.8 488.2v3.1M1163.9 538.9h3.1M1165.4 537.4v3.1M1165.4 528.4h3.1M1167.0 526.9v3.1M1167.0 542.7h3.1M1168.6 541.1v3.1M1168.6 538.4h3.1M1170.2 536.8v3.1M1171.8 529.0h3.1M1173.4 527.5v3.1M1173.4 502.0h3.1M1174.9 500.4v3.1M1176.6 505.0h3.1M1178.1 503.4v3.1M1178.1 462.2h3.1M1179.7 460.6v3.1M1179.7 531.6h3.1M1181.3 530.0v3.1M1181.3 529.9h3.1M1182.9 528.3v3.1M1182.9 528.7h3.1M1184.5 527.2v3.1M1184.5 512.6h3.1M1186.1 511.1v3.1M1186.1 546.8h3.1M1187.6 545.3v3.1M1187.7 547.6h3.1M1189.2 546.0v3.1M1189.3 532.7h3.1M1190.8 531.2v3.1M1190.8 518.7h3.1M1192.4 517.1v3.1M1192.4 542.5h3.1M1194.0 541.0v3.1M1194.0 532.2h3.1M1195.6 530.6v3.1M1195.6 525.9h3.1M1197.2 524.3v3.1M1197.2 514.6h3.1M1198.7 513.1v3.1M1198.8 535.6h3.1M1200.3 534.0v3.1M1200.4 532.1h3.1M1201.9 530.5v3.1M1203.5 519.0h3.1M1205.1 517.5v3.1M1205.1 515.4h3.1M1206.7 513.8v3.1M1208.3 521.2h3.1M1209.9 519.6v3.1M1209.9 482.6h3.1M1211.4 481.1v3.1M1213.1 533.4h3.1M1214.6 531.8v3.1M1214.6 512.0h3.1M1216.2 510.5v3.1M1216.2 500.4h3.1M1217.8 498.9v3.1M1217.8 513.8h3.1M1219.4 512.3v3.1M1219.4 521.9h3.1M1221.0 520.4v3.1M1221.0 512.2h3.1M1222.6 510.6v3.1M1222.6 516.2h3.1M1224.1 514.7v3.1M1224.2 526.8h3.1M1225.7 525.2v3.1M1225.8 507.1h3.1M1227.3 505.5v3.1M1227.3 493.3h3.1M1228.9 491.7v3.1M1228.9 511.4h3.1M1230.5 509.9v3.1M1230.5 532.4h3.1M1232.1 530.8v3.1M1232.1 522.6h3.1M1233.7 521.1v3.1M1233.7 546.3h3.1M1235.3 544.7v3.1M1235.3 512.4h3.1M1236.8 510.9v3.1M1236.9 512.3h3.1M1238.4 510.7v3.1M1238.5 501.9h3.1M1240.0 500.4v3.1M1240.0 517.8h3.1M1241.6 516.2v3.1M1241.6 522.2h3.1M1243.2 520.6v3.1M1243.2 500.9h3.1M1244.8 499.3v3.1M1244.8 546.0h3.1M1246.4 544.4v3.1M1246.4 522.2h3.1M1247.9 520.7v3.1M1248.0 540.4h3.1M1249.5 538.8v3.1M1249.6 549.1h3.1M1251.1 547.5v3.1M1251.2 529.7h3.1M1252.7 528.2v3.1M1252.7 511.9h3.1M1254.3 510.3v3.1M1254.3 521.9h3.1M1255.9 520.4v3.1M1257.5 537.7h3.1M1259.1 536.1v3.1M1259.1 522.5h3.1M1260.6 521.0v3.1M1260.7 516.7h3.1M1262.2 515.2v3.1M1262.3 530.9h3.1M1263.8 529.4v3.1M1263.8 552.5h3.1M1265.4 550.9v3.1M1265.4 511.4h3.1M1267.0 509.8v3.1M1267.0 518.9h3.1M1268.6 517.3v3.1M1268.6 507.3h3.1M1270.2 505.8v3.1M1270.2 549.3h3.1M1271.8 547.7v3.1M1271.8 515.3h3.1M1273.3 513.8v3.1M1273.4 501.6h3.1M1274.9 500.1v3.1M1275.0 533.5h3.1M1276.5 532.0v3.1M1276.5 525.6h3.1M1278.1 524.1v3.1M1278.1 512.5h3.1M1279.7 510.9v3.1M1279.7 513.0h3.1M1281.3 511.5v3.1M1281.3 510.7h3.1M1282.9 509.1v3.1M1282.9 519.1h3.1M1284.5 517.5v3.1M1284.5 514.3h3.1M1286.0 512.7v3.1M1286.1 542.6h3.1M1287.6 541.0v3.1M1287.7 526.2h3.1M1289.2 524.6v3.1M1289.2 549.0h3.1M1290.8 547.4v3.1M1290.8 531.4h3.1M1292.4 529.8v3.1M1292.4 531.2h3.1M1294.0 529.7v3.1M1294.0 531.9h3.1M1295.6 530.3v3.1M1301.9 540.2h3.1M1303.5 538.7v3.1M1303.5 534.9h3.1M1305.1 533.3v3.1M1305.1 530.6h3.1M1306.7 529.1v3.1M1306.7 517.8h3.1M1308.3 516.3v3.1M1308.3 544.3h3.1M1309.8 542.8v3.1M1311.5 521.3h3.1M1313.0 519.8v3.1M1313.1 547.9h3.1M1314.6 546.4v3.1M1314.6 532.5h3.1M1316.2 531.0v3.1M1316.2 514.9h3.1M1317.8 513.3v3.1M1317.8 510.3h3.1M1319.4 508.7v3.1M1319.4 520.5h3.1M1321.0 519.0v3.1M1321.0 546.4h3.1M1322.5 544.9v3.1M1322.6 548.4h3.1M1324.1 546.8v3.1M1325.7 536.7h3.1M1327.3 535.2v3.1M1327.3 551.5h3.1M1328.9 549.9v3.1M1328.9 503.1h3.1M1330.5 501.6v3.1M1330.5 513.4h3.1M1332.1 511.9v3.1M1333.7 529.4h3.1M1335.2 527.9v3.1M1335.3 501.9h3.1M1336.8 500.4v3.1M1336.9 520.2h3.1M1338.4 518.6v3.1M1338.4 521.7h3.1M1340.0 520.1v3.1M1341.6 519.5h3.1M1343.2 518.0v3.1M1343.2 509.0h3.1M1344.8 507.4v3.1M1344.8 501.0h3.1M1346.4 499.5v3.1M1346.4 519.1h3.1M1347.9 517.5v3.1M1348.0 538.6h3.1M1349.5 537.0v3.1M1349.6 528.7h3.1M1351.1 527.1v3.1M1351.1 549.4h3.1M1352.7 547.8v3.1M1355.9 519.0h3.1M1357.5 517.4v3.1M1357.5 493.2h3.1M1359.1 491.6v3.1M1359.1 536.7h3.1M1360.6 535.1v3.1M1360.7 532.2h3.1M1362.2 530.6v3.1M1363.8 536.0h3.1M1365.4 534.4v3.1M1367.0 544.0h3.1M1368.6 542.4v3.1M1368.6 505.3h3.1M1370.2 503.7v3.1M1370.2 532.1h3.1M1371.7 530.6v3.1M1371.8 532.2h3.1M1373.3 530.7v3.1M1375.0 551.0h3.1M1376.5 549.5v3.1M1376.5 511.3h3.1M1378.1 509.7v3.1M1378.1 514.0h3.1M1379.7 512.4v3.1M1379.7 533.2h3.1M1381.3 531.6v3.1M1381.3 548.9h3.1M1382.9 547.4v3.1M1382.9 517.2h3.1M1384.4 515.7v3.1M1384.5 508.7h3.1M1386.0 507.1v3.1M1387.6 543.0h3.1M1389.2 541.5v3.1M1389.2 521.2h3.1M1390.8 519.7v3.1M1390.8 526.2h3.1M1392.4 524.6v3.1M1392.4 538.5h3.1M1394.0 536.9v3.1M1394.0 527.9h3.1M1395.6 526.3v3.1M1397.2 517.3h3.1M1398.7 515.8v3.1M1398.8 491.9h3.1M1400.3 490.4v3.1M1400.3 535.8h3.1M1401.9 534.2v3.1M1401.9 467.8h3.1M1403.5 466.2v3.1M1403.5 520.3h3.1M1405.1 518.8v3.1M1406.7 513.2h3.1M1408.3 511.6v3.1M1408.3 494.4h3.1M1409.8 492.9v3.1M1409.9 501.8h3.1M1411.4 500.2v3.1M1411.5 532.0h3.1M1413.0 530.4v3.1M1414.6 505.3h3.1M1416.2 503.7v3.1M1416.2 524.0h3.1M1417.8 522.5v3.1M1417.8 489.7h3.1M1419.4 488.2v3.1M1419.4 506.8h3.1M1421.0 505.2v3.1M1421.0 504.9h3.1M1422.5 503.3v3.1M1422.6 512.8h3.1M1424.1 511.2v3.1M1424.2 508.1h3.1M1425.7 506.6v3.1M1425.7 495.3h3.1M1427.3 493.7v3.1M1427.3 509.9h3.1M1428.9 508.4v3.1M1432.1 500.8h3.1M1433.6 499.2v3.1M1433.7 508.8h3.1M1435.2 507.2v3.1M1435.3 524.7h3.1M1436.8 523.1v3.1M1436.8 515.2h3.1M1438.4 513.6v3.1M1440.0 523.2h3.1M1441.6 521.6v3.1M1443.2 510.6h3.1M1444.8 509.0v3.1M1444.8 521.5h3.1M1446.3 519.9v3.1M1446.4 528.8h3.1M1447.9 527.2v3.1M1448.0 487.0h3.1M1449.5 485.4v3.1M1449.5 526.4h3.1M1451.1 524.8v3.1M1451.1 516.4h3.1M1452.7 514.8v3.1M1452.7 529.6h3.1M1454.3 528.0v3.1M1454.3 466.1h3.1M1455.9 464.5v3.1M1455.9 527.4h3.1M1457.5 525.8v3.1M1457.5 525.5h3.1M1459.0 523.9v3.1M1459.1 517.5h3.1M1460.6 516.0v3.1M1460.7 522.8h3.1M1462.2 521.2v3.1M1462.2 530.1h3.1M1463.8 528.5v3.1M1463.8 516.9h3.1M1465.4 515.3v3.1M1465.4 488.6h3.1M1467.0 487.1v3.1M1467.0 504.1h3.1M1468.6 502.5v3.1M1468.6 531.7h3.1M1470.2 530.1v3.1M1470.2 528.3h3.1M1471.7 526.7v3.1M1471.8 487.9h3.1M1473.3 486.4v3.1M1473.4 482.0h3.1M1474.9 480.5v3.1M1478.1 521.3h3.1M1479.7 519.8v3.1M1479.7 527.3h3.1M1481.3 525.7v3.1M1481.3 497.3h3.1M1482.9 495.7v3.1M1482.9 508.1h3.1M1484.4 506.5v3.1M1486.1 522.3h3.1M1487.6 520.8v3.1M1487.6 503.4h3.1M1489.2 501.9v3.1M1489.2 483.8h3.1M1490.8 482.2v3.1M1490.8 517.9h3.1M1492.4 516.4v3.1M1492.4 484.4h3.1M1494.0 482.8v3.1M1494.0 509.0h3.1M1495.5 507.5v3.1M1495.6 522.1h3.1M1497.1 520.5v3.1M1497.2 513.2h3.1M1498.7 511.7v3.1M1498.7 500.4h3.1M1500.3 498.9v3.1M1500.3 536.9h3.1M1501.9 535.3v3.1M1501.9 483.3h3.1M1503.5 481.8v3.1M1503.5 503.5h3.1M1505.1 501.9v3.1M1505.1 523.0h3.1M1506.7 521.4v3.1M1506.7 528.3h3.1M1508.2 526.7v3.1M1508.3 513.9h3.1M1509.8 512.3v3.1M1509.9 507.8h3.1M1511.4 506.3v3.1M1511.4 538.9h3.1M1513.0 537.3v3.1M1513.0 525.7h3.1M1514.6 524.2v3.1M1514.6 520.5h3.1M1516.2 518.9v3.1M1516.2 530.3h3.1M1517.8 528.8v3.1M1517.8 527.1h3.1M1519.4 525.6v3.1M1519.4 488.1h3.1M1520.9 486.5v3.1M1522.6 485.0h3.1M1524.1 483.5v3.1M1524.1 504.9h3.1M1525.7 503.3v3.1M1525.7 481.5h3.1M1527.3 479.9v3.1M1527.3 508.9h3.1M1528.9 507.3v3.1M1533.7 521.6h3.1M1535.2 520.0v3.1M1536.8 522.4h3.1M1538.4 520.8v3.1M1538.4 496.8h3.1M1540.0 495.2v3.1M1540.0 507.7h3.1M1541.6 506.2v3.1M1541.6 498.9h3.1M1543.2 497.3v3.1M1543.2 514.3h3.1M1544.7 512.8v3.1M1544.8 487.1h3.1M1546.3 485.6v3.1M1546.4 508.4h3.1M1547.9 506.8v3.1M1548.0 524.8h3.1M1549.5 523.2v3.1M1549.5 503.0h3.1M1551.1 501.4v3.1M1551.1 502.5h3.1M1552.7 501.0v3.1M1552.7 505.4h3.1M1554.3 503.8v3.1M1554.3 508.9h3.1M1555.9 507.4v3.1M1555.9 485.5h3.1M1557.4 483.9v3.1M1557.5 486.5h3.1M1559.0 485.0v3.1M1559.1 524.0h3.1M1560.6 522.5v3.1M1560.6 501.7h3.1M1562.2 500.1v3.1M1562.2 508.2h3.1M1563.8 506.7v3.1M1563.8 504.4h3.1M1565.4 502.8v3.1M1565.4 505.7h3.1M1567.0 504.2v3.1M1567.0 543.3h3.1M1568.6 541.8v3.1M1568.6 484.9h3.1M1570.1 483.3v3.1M1570.2 511.6h3.1M1571.7 510.0v3.1M1571.8 535.9h3.1M1573.3 534.3v3.1M1574.9 544.6h3.1M1576.5 543.1v3.1M1576.5 531.0h3.1M1578.1 529.4v3.1M1578.1 545.3h3.1M1579.7 543.7v3.1M1579.7 530.4h3.1M1581.3 528.8v3.1M1581.3 531.2h3.1M1582.8 529.6v3.1M1582.9 528.9h3.1M1584.4 527.3v3.1M1584.5 515.8h3.1M1586.0 514.2v3.1M1586.0 503.9h3.1M1587.6 502.3v3.1M1587.6 496.9h3.1M1589.2 495.4v3.1M1589.2 532.7h3.1M1590.8 531.1v3.1M1592.4 506.4h3.1M1594.0 504.9v3.1M1594.0 502.2h3.1M1595.5 500.6v3.1M1595.6 508.2h3.1M1597.1 506.7v3.1M1597.2 499.6h3.1M1598.7 498.1v3.1M1598.7 525.5h3.1M1600.3 523.9v3.1M1600.3 491.6h3.1M1601.9 490.1v3.1M1601.9 506.1h3.1M1603.5 504.6v3.1M1603.5 523.8h3.1M1605.1 522.3v3.1M1605.1 485.2h3.1M1606.6 483.7v3.1M1606.7 531.6h3.1M1608.2 530.1v3.1M1609.9 478.9h3.1M1611.4 477.4v3.1M1611.4 480.5h3.1M1613.0 478.9v3.1M1613.0 519.9h3.1M1614.6 518.3v3.1M1614.6 531.7h3.1M1616.2 530.2v3.1M1616.2 524.7h3.1M1617.8 523.2v3.1M1617.8 538.7h3.1M1619.3 537.1v3.1M1621.0 492.9h3.1M1622.5 491.3v3.1M1622.5 536.7h3.1M1624.1 535.2v3.1M1624.1 541.4h3.1M1625.7 539.8v3.1M1625.7 506.2h3.1M1627.3 504.6v3.1M1627.3 492.9h3.1M1628.9 491.3v3.1M1628.9 487.8h3.1M1630.5 486.2v3.1M1630.5 526.2h3.1M1632.0 524.7v3.1M1632.1 522.3h3.1M1633.6 520.7v3.1M1633.7 521.0h3.1M1635.2 519.4v3.1M1635.2 541.5h3.1M1636.8 540.0v3.1M1636.8 512.3h3.1M1638.4 510.7v3.1M1640.0 501.5h3.1M1641.6 499.9v3.1M1643.2 502.2h3.1M1644.7 500.6v3.1M1644.8 503.4h3.1M1646.3 501.8v3.1M1649.5 515.2h3.1M1651.1 513.6v3.1M1651.1 526.9h3.1M1652.7 525.3v3.1M1652.7 498.5h3.1M1654.3 497.0v3.1M1654.3 505.6h3.1M1655.9 504.0v3.1M1657.5 517.8h3.1M1659.0 516.3v3.1M1659.1 539.0h3.1M1660.6 537.4v3.1M1660.6 539.7h3.1M1662.2 538.1v3.1M1665.4 535.5h3.1M1667.0 534.0v3.1M1667.0 540.4h3.1M1668.5 538.8v3.1M1668.6 500.0h3.1M1670.1 498.5v3.1M1671.8 528.0h3.1M1673.3 526.5v3.1M1673.3 519.5h3.1M1674.9 517.9v3.1M1676.5 500.1h3.1M1678.1 498.5v3.1M1678.1 518.8h3.1M1679.7 517.3v3.1M1679.7 524.1h3.1M1681.2 522.5v3.1M1681.3 511.4h3.1M1682.8 509.8v3.1M1682.9 516.0h3.1M1684.4 514.4v3.1M1684.4 481.0h3.1M1686.0 479.4v3.1M1686.0 531.2h3.1M1687.6 529.6v3.1M1687.6 491.6h3.1M1689.2 490.0v3.1M1689.2 532.3h3.1M1690.8 530.7v3.1M1692.4 508.8h3.1M1693.9 507.3v3.1M1694.0 529.8h3.1M1695.5 528.2v3.1M1695.6 482.5h3.1M1697.1 480.9v3.1M1697.1 502.5h3.1M1698.7 501.0v3.1M1698.7 507.5h3.1M1700.3 505.9v3.1M1700.3 514.3h3.1M1701.9 512.8v3.1M1701.9 515.8h3.1M1703.5 514.2v3.1M1705.1 523.3h3.1M1706.6 521.7v3.1M1706.7 528.6h3.1M1708.2 527.0v3.1M1708.3 519.1h3.1M1709.8 517.5v3.1M1709.8 522.8h3.1M1711.4 521.3v3.1M1713.0 477.1h3.1M1714.6 475.5v3.1M1714.6 500.8h3.1M1716.2 499.3v3.1M1716.2 528.4h3.1M1717.8 526.8v3.1M1721.0 528.9h3.1M1722.5 527.3v3.1M1722.5 500.3h3.1M1724.1 498.8v3.1M1724.1 527.4h3.1M1725.7 525.9v3.1M1725.7 524.1h3.1M1727.3 522.6v3.1M1727.3 515.9h3.1M1728.9 514.3v3.1M1728.9 517.6h3.1M1730.4 516.1v3.1M1730.5 498.3h3.1M1732.0 496.8v3.1M1732.1 513.6h3.1M1733.6 512.1v3.1M1733.6 515.0h3.1M1735.2 513.4v3.1M1735.2 535.8h3.1M1736.8 534.2v3.1M1736.8 492.8h3.1M1738.4 491.3v3.1M1738.4 509.6h3.1M1740.0 508.0v3.1M1740.0 517.5h3.1M1741.6 515.9v3.1M1741.6 486.7h3.1M1743.1 485.1v3.1M1743.2 510.5h3.1M1744.7 508.9v3.1M1744.8 517.3h3.1M1746.3 515.7v3.1M1746.3 516.9h3.1M1747.9 515.3v3.1M1747.9 511.9h3.1M1749.5 510.3v3.1M1749.5 518.1h3.1M1751.1 516.6v3.1M1751.1 522.7h3.1M1752.7 521.1v3.1M1752.7 496.5h3.1M1754.3 495.0v3.1M1754.3 503.4h3.1M1755.8 501.8v3.1M1755.9 510.1h3.1M1757.4 508.6v3.1M1757.5 522.7h3.1M1759.0 521.1v3.1M1762.2 498.7h3.1M1763.8 497.1v3.1M1763.8 484.4h3.1M1765.4 482.8v3.1M1765.4 516.7h3.1M1767.0 515.1v3.1M1768.6 508.5h3.1M1770.1 506.9v3.1M1770.2 508.6h3.1M1771.7 507.0v3.1M1771.7 499.4h3.1M1773.3 497.8v3.1M1773.3 476.3h3.1M1774.9 474.8v3.1M1774.9 466.1h3.1M1776.5 464.5v3.1M1776.5 458.5h3.1M1778.1 457.0v3.1M1778.1 496.1h3.1M1779.7 494.5v3.1M1781.3 509.8h3.1M1782.8 508.2v3.1M1782.9 507.4h3.1M1784.4 505.9v3.1M1784.4 474.3h3.1M1786.0 472.7v3.1M1786.0 501.1h3.1M1787.6 499.5v3.1M1789.2 475.9h3.1M1790.8 474.3v3.1M1790.8 488.4h3.1M1792.3 486.9v3.1M1792.4 508.3h3.1M1793.9 506.7v3.1M1795.5 480.7h3.1M1797.1 479.1v3.1M1797.1 476.0h3.1M1798.7 474.4v3.1M1798.7 482.1h3.1M1800.3 480.5v3.1M1800.3 473.5h3.1M1801.9 471.9v3.1M1803.5 506.2h3.1M1805.0 504.7v3.1M1805.1 481.6h3.1M1806.6 480.1v3.1M1806.7 489.3h3.1M1808.2 487.8v3.1M1808.2 507.5h3.1M1809.8 506.0v3.1M1809.8 505.2h3.1M1811.4 503.7v3.1M1811.4 506.6h3.1M1813.0 505.1v3.1M1814.6 507.1h3.1M1816.2 505.6v3.1M1817.8 473.8h3.1M1819.3 472.3v3.1M1819.4 513.3h3.1M1820.9 511.8v3.1M1820.9 512.7h3.1M1822.5 511.1v3.1M1822.5 487.8h3.1M1824.1 486.2v3.1M1825.7 477.7h3.1M1827.3 476.1v3.1M1827.3 483.5h3.1M1828.9 481.9v3.1M1828.9 467.2h3.1M1830.4 465.7v3.1M1830.5 489.2h3.1M1832.0 487.7v3.1M1832.1 492.5h3.1M1833.6 490.9v3.1M1833.6 499.0h3.1M1835.2 497.4v3.1M1835.2 492.5h3.1M1836.8 490.9v3.1M1836.8 489.1h3.1M1838.4 487.6v3.1M1838.4 492.4h3.1M1840.0 490.8v3.1M1840.0 504.8h3.1M1841.6 503.2v3.1M1841.6 507.8h3.1M1843.1 506.3v3.1M1843.2 494.5h3.1M1844.7 492.9v3.1M1844.8 501.5h3.1M1846.3 499.9v3.1M1846.3 493.8h3.1M1847.9 492.3v3.1M1847.9 485.3h3.1M1849.5 483.7v3.1M1849.5 490.6h3.1M1851.1 489.0v3.1M1852.7 491.5h3.1M1854.2 489.9v3.1M1854.3 501.7h3.1M1855.8 500.1v3.1M1855.9 496.0h3.1M1857.4 494.4v3.1M1857.4 489.3h3.1M1859.0 487.7v3.1M1859.0 502.9h3.1M1860.6 501.3v3.1M1860.6 494.4h3.1M1862.2 492.9v3.1M1862.2 479.1h3.1M1863.8 477.5v3.1M1863.8 486.5h3.1M1865.4 485.0v3.1M1867.0 476.1h3.1M1868.5 474.5v3.1M1868.6 475.3h3.1M1870.1 473.7v3.1M1870.1 475.3h3.1M1871.7 473.8v3.1M1871.7 493.0h3.1M1873.3 491.5v3.1M1873.3 479.9h3.1M1874.9 478.4v3.1M1874.9 478.2h3.1M1876.5 476.6v3.1M1876.5 492.4h3.1M1878.1 490.8v3.1M1878.1 498.1h3.1M1879.6 496.5v3.1M1881.3 497.6h3.1M1882.8 496.1v3.1M1882.8 496.2h3.1M1884.4 494.6v3.1M1884.4 500.1h3.1M1886.0 498.6v3.1M1886.0 477.2h3.1M1887.6 475.6v3.1M1887.6 486.1h3.1M1889.2 484.6v3.1M1889.2 494.5h3.1M1890.8 493.0v3.1M1890.8 497.8h3.1M1892.3 496.2v3.1M1892.4 503.9h3.1M1893.9 502.3v3.1M1895.5 487.9h3.1M1897.1 486.3v3.1M1897.1 487.5h3.1M1898.7 486.0v3.1M1900.3 492.9h3.1M1901.9 491.4v3.1M1901.9 499.6h3.1M1903.4 498.0v3.1M1905.1 494.1h3.1M1906.6 492.5v3.1M1906.7 510.0h3.1M1908.2 508.4v3.1M1908.2 499.6h3.1M1909.8 498.1v3.1M1909.8 509.1h3.1M1911.4 507.6v3.1M1911.4 498.9h3.1M1913.0 497.3v3.1M1913.0 508.8h3.1M1914.6 507.2v3.1M1914.6 484.7h3.1M1916.1 483.1v3.1M1916.2 481.4h3.1M1917.7 479.8v3.1M1919.3 470.7h3.1M1920.9 469.2v3.1M1922.5 496.4h3.1M1924.1 494.8v3.1M1927.3 494.5h3.1M1928.8 493.0v3.1M1928.9 500.4h3.1M1930.4 498.8v3.1M1930.5 468.8h3.1M1932.0 467.2v3.1M1932.0 494.3h3.1M1933.6 492.7v3.1M1933.6 484.9h3.1M1935.2 483.3v3.1M1936.8 484.2h3.1M1938.4 482.6v3.1M1938.4 483.9h3.1M1940.0 482.4v3.1M1940.0 490.1h3.1M1941.5 488.6v3.1M1941.6 483.9h3.1M1943.1 482.3v3.1M1943.2 486.7h3.1M1944.7 485.2v3.1M1944.7 503.9h3.1M1946.3 502.3v3.1M1946.3 486.8h3.1M1947.9 485.3v3.1M1947.9 494.6h3.1M1949.5 493.1v3.1M1949.5 488.4h3.1M1951.1 486.8v3.1M1951.1 464.6h3.1M1952.7 463.0v3.1M1952.7 474.6h3.1M1954.2 473.1v3.1M1955.9 483.4h3.1M1957.4 481.8v3.1M1959.0 484.0h3.1M1960.6 482.4v3.1M1962.2 486.3h3.1M1963.8 484.7v3.1M1963.8 467.6h3.1M1965.3 466.1v3.1M1965.4 484.4h3.1M1966.9 482.9v3.1M1968.6 494.3h3.1M1970.1 492.7v3.1M1970.1 478.8h3.1M1971.7 477.2v3.1M1973.3 490.9h3.1M1974.9 489.3v3.1M1974.9 486.2h3.1M1976.5 484.7v3.1M1978.1 494.5h3.1M1979.6 492.9v3.1M1979.7 472.8h3.1M1981.2 471.3v3.1M1981.2 486.9h3.1M1982.8 485.4v3.1M1984.4 510.4h3.1M1986.0 508.9v3.1M1986.0 478.0h3.1M1987.6 476.4v3.1M1987.6 497.8h3.1M1989.2 496.2v3.1M1989.2 509.4h3.1M1990.7 507.8v3.1M1990.8 502.3h3.1M1992.3 500.7v3.1M1992.4 512.2h3.1M1993.9 510.6v3.1M1993.9 483.8h3.1M1995.5 482.3v3.1M1995.5 502.6h3.1M1997.1 501.0v3.1M1997.1 494.2h3.1M1998.7 492.7v3.1M1998.7 490.8h3.1M2000.3 489.2v3.1M2000.3 499.5h3.1M2001.9 497.9v3.1M2001.9 504.9h3.1M2003.4 503.3v3.1M2003.5 482.0h3.1M2005.0 480.4v3.1M2005.1 492.8h3.1M2006.6 491.2v3.1M2006.6 489.5h3.1M2008.2 487.9v3.1M2008.2 493.6h3.1M2009.8 492.1v3.1M2009.8 485.9h3.1M2011.4 484.4v3.1M2011.4 498.0h3.1M2013.0 496.5v3.1M2013.0 493.3h3.1M2014.6 491.8v3.1M2014.6 504.4h3.1M2016.1 502.9v3.1M2016.2 503.7h3.1M2017.7 502.2v3.1M2017.8 477.5h3.1M2019.3 475.9v3.1M2019.3 490.3h3.1M2020.9 488.8v3.1M2020.9 471.6h3.1M2022.5 470.0v3.1M2022.5 508.0h3.1M2024.1 506.4v3.1M2024.1 496.3h3.1M2025.7 494.7v3.1M2025.7 496.8h3.1M2027.2 495.3v3.1M2030.5 492.9h3.1M2032.0 491.3v3.1M2032.0 503.0h3.1M2033.6 501.4v3.1M2033.6 490.4h3.1M2035.2 488.9v3.1M2035.2 496.0h3.1M2036.8 494.4v3.1M2036.8 492.0h3.1M2038.4 490.4v3.1M2038.4 484.6h3.1M2039.9 483.1v3.1M2041.6 494.1h3.1M2043.1 492.6v3.1M2043.1 495.9h3.1M2044.7 494.3v3.1M2044.7 502.6h3.1M2046.3 501.1v3.1M2046.3 501.3h3.1M2047.9 499.7v3.1M2049.5 493.6h3.1M2051.1 492.0v3.1M2051.1 514.1h3.1M2052.6 512.5v3.1M2052.7 510.5h3.1M2054.2 508.9v3.1M2054.3 498.9h3.1M2055.8 497.3v3.1M2055.8 504.2h3.1M2057.4 502.6v3.1M2057.4 491.2h3.1M2059.0 489.6v3.1M2059.0 498.7h3.1M2060.6 497.2v3.1M2060.6 482.4h3.1M2062.2 480.9v3.1M2062.2 499.1h3.1M2063.8 497.6v3.1M2063.8 488.8h3.1M2065.3 487.2v3.1M2065.4 482.5h3.1M2066.9 480.9v3.1M2068.5 491.5h3.1M2070.1 490.0v3.1M2070.1 515.8h3.1M2071.7 514.3v3.1M2073.3 516.9h3.1M2074.9 515.4v3.1M2074.9 492.2h3.1M2076.5 490.6v3.1M2076.5 503.5h3.1M2078.0 501.9v3.1M2078.1 509.7h3.1M2079.6 508.1v3.1M2079.7 496.8h3.1M2081.2 495.3v3.1M2081.2 497.1h3.1M2082.8 495.6v3.1M2082.8 517.0h3.1M2084.4 515.4v3.1M2084.4 502.9h3.1M2086.0 501.3v3.1M2086.0 510.7h3.1M2087.6 509.1v3.1M2087.6 499.3h3.1M2089.1 497.8v3.1M2089.2 510.6h3.1M2090.7 509.1v3.1M2090.8 513.9h3.1M2092.3 512.4v3.1M2092.3 505.0h3.1M2093.9 503.4v3.1M2093.9 484.9h3.1M2095.5 483.3v3.1M2095.5 504.4h3.1M2097.1 502.9v3.1M2097.1 499.6h3.1M2098.7 498.1v3.1M2098.7 496.2h3.1M2100.3 494.6v3.1M2100.3 486.7h3.1M2101.8 485.1v3.1M2101.9 493.3h3.1M2103.4 491.8v3.1M2103.5 492.2h3.1M2105.0 490.6v3.1M2106.6 486.4h3.1M2108.2 484.9v3.1M2108.2 491.4h3.1M2109.8 489.8v3.1M2109.8 496.2h3.1M2111.4 494.7v3.1M2111.4 489.6h3.1M2113.0 488.1v3.1M2114.6 477.8h3.1M2116.1 476.2v3.1M2116.2 491.8h3.1M2117.7 490.2v3.1M2117.7 492.4h3.1M2119.3 490.9v3.1M2120.9 492.8h3.1M2122.5 491.2v3.1M2122.5 511.0h3.1M2124.1 509.4v3.1M2124.1 500.7h3.1M2125.7 499.1v3.1M2125.7 505.3h3.1M2127.2 503.7v3.1M2128.9 503.1h3.1M2130.4 501.6v3.1M2130.4 512.4h3.1M2132.0 510.8v3.1M2132.0 490.6h3.1M2133.6 489.1v3.1M2135.2 494.7h3.1M2136.8 493.1v3.1M2138.4 487.9h3.1M2139.9 486.4v3.1M2140.0 490.2h3.1M2141.5 488.6v3.1M2141.6 483.4h3.1M2143.1 481.8v3.1M2144.7 492.7h3.1M2146.3 491.2v3.1M2147.9 484.6h3.1M2149.5 483.0v3.1M2149.5 474.8h3.1M2151.0 473.2v3.1M2151.1 503.4h3.1M2152.6 501.8v3.1M2152.7 496.7h3.1M2154.2 495.2v3.1M2155.8 498.2h3.1M2157.4 496.6v3.1M2157.4 493.4h3.1M2159.0 491.8v3.1M2159.0 496.5h3.1M2160.6 495.0v3.1M2160.6 479.8h3.1M2162.2 478.3v3.1M2162.2 477.8h3.1M2163.7 476.2v3.1M2163.8 488.1h3.1M2165.3 486.6v3.1M2166.9 468.5h3.1M2168.5 467.0v3.1M2168.5 493.8h3.1M2170.1 492.3v3.1M2170.1 476.2h3.1M2171.7 474.6v3.1M2173.3 484.6h3.1M2174.9 483.1v3.1M2174.9 471.7h3.1M2176.4 470.2v3.1M2176.5 480.9h3.1M2178.0 479.3v3.1M2178.1 471.5h3.1M2179.6 470.0v3.1M2179.6 456.6h3.1M2181.2 455.1v3.1M2181.2 486.6h3.1M2182.8 485.0v3.1M2182.8 491.5h3.1M2184.4 489.9v3.1M2184.4 473.2h3.1M2186.0 471.6v3.1M2186.0 486.2h3.1M2187.6 484.6v3.1M2187.6 485.2h3.1M2189.1 483.6v3.1M2189.2 488.9h3.1M2190.7 487.4v3.1M2190.8 499.6h3.1M2192.3 498.0v3.1M2192.3 492.5h3.1M2193.9 491.0v3.1M2193.9 483.8h3.1M2195.5 482.2v3.1M2195.5 491.7h3.1M2197.1 490.2v3.1M2197.1 492.5h3.1M2198.7 490.9v3.1M2198.7 494.2h3.1M2200.2 492.7v3.1M2200.3 495.8h3.1M2201.8 494.3v3.1M2201.9 491.4h3.1M2203.4 489.8v3.1M2205.0 482.1h3.1M2206.6 480.6v3.1M2208.2 489.9h3.1M2209.8 488.4v3.1M2211.4 491.6h3.1M2212.9 490.1v3.1M2213.0 496.7h3.1M2214.5 495.2v3.1M2214.6 495.6h3.1M2216.1 494.0v3.1M2216.1 476.5h3.1M2217.7 475.0v3.1M2217.7 490.0h3.1M2219.3 488.4v3.1M2219.3 508.8h3.1M2220.9 507.3v3.1M2220.9 501.2h3.1M2222.5 499.7v3.1M2222.5 490.9h3.1M2224.1 489.4v3.1M2224.1 484.8h3.1M2225.6 483.2v3.1M2225.7 473.8h3.1M2227.2 472.2v3.1M2227.3 471.4h3.1M2228.8 469.9v3.1M2228.8 472.1h3.1M2230.4 470.5v3.1M2230.4 484.6h3.1M2232.0 483.0v3.1M2232.0 487.7h3.1M2233.6 486.1v3.1M2235.2 489.9h3.1M2236.8 488.4v3.1M2236.8 478.3h3.1M2238.3 476.7v3.1M2240.0 480.0h3.1M2241.5 478.4v3.1M2241.5 472.8h3.1M2243.1 471.3v3.1M2243.1 484.5h3.1M2244.7 482.9v3.1M2244.7 482.7h3.1M2246.3 481.2v3.1M2246.3 493.8h3.1M2247.9 492.2v3.1M2247.9 493.9h3.1M2249.5 492.3v3.1M2249.5 502.9h3.1M2251.0 501.4v3.1M2251.1 492.9h3.1M2252.6 491.4v3.1M2252.7 496.0h3.1M2254.2 494.4v3.1M2254.2 485.7h3.1M2255.8 484.1v3.1M2255.8 480.9h3.1M2257.4 479.3v3.1M2257.4 498.0h3.1M2259.0 496.4v3.1M2260.6 509.4h3.1M2262.1 507.8v3.1M2262.2 478.5h3.1M2263.7 476.9v3.1M2263.8 501.2h3.1M2265.3 499.6v3.1M2265.4 483.2h3.1M2266.9 481.6v3.1M2266.9 494.5h3.1M2268.5 493.0v3.1M2268.5 488.1h3.1M2270.1 486.5v3.1M2273.3 489.5h3.1M2274.8 487.9v3.1M2274.9 483.9h3.1M2276.4 482.3v3.1M2276.5 478.8h3.1M2278.0 477.2v3.1M2278.0 485.5h3.1M2279.6 483.9v3.1M2279.6 475.4h3.1M2281.2 473.8v3.1M2281.2 473.8h3.1M2282.8 472.3v3.1M2284.4 467.2h3.1M2286.0 465.6v3.1M2287.6 471.7h3.1M2289.1 470.1v3.1M2289.2 475.6h3.1M2290.7 474.1v3.1M2292.3 472.3h3.1M2293.9 470.7v3.1M2295.5 470.3h3.1M2297.1 468.8v3.1M2071.4 257.4h3.1M2073.0 255.8v3.1M1957.9 378.5h3.1M1959.5 376.9v3.1M2138.8 361.4h3.1M2140.4 359.8v3.1M928.4 378.5h3.1M930.0 376.9v3.1M73.4 390.0h3.1M75.0 388.4v3.1M1371.8 328.4h3.1M1373.4 326.8v3.1" stroke="#2e8b57" stroke-width="0.95" fill="none"/>
<path d="M59.2 403.6h3.1M60.7 402.0v3.1M60.8 407.4h3.1M62.3 405.8v3.1M62.4 407.6h3.1M63.9 406.1v3.1M64.0 402.3h3.1M65.5 400.8v3.1M65.5 405.8h3.1M67.1 404.2v3.1M67.1 406.1h3.1M68.7 404.6v3.1M68.7 407.0h3.1M70.3 405.4v3.1M70.3 411.7h3.1M71.9 410.1v3.1M71.9 408.8h3.1M73.4 407.2v3.1M73.5 407.4h3.1M75.0 405.8v3.1M75.1 411.9h3.1M76.6 410.3v3.1M76.6 416.7h3.1M78.2 415.2v3.1M78.2 412.5h3.1M79.8 410.9v3.1M79.8 412.0h3.1M81.4 410.5v3.1M81.4 416.7h3.1M83.0 415.2v3.1M83.0 414.8h3.1M84.6 413.2v3.1M84.6 413.2h3.1M86.1 411.7v3.1M86.2 411.7h3.1M87.7 410.2v3.1M87.8 415.6h3.1M89.3 414.0v3.1M89.3 416.0h3.1M90.9 414.5v3.1M90.9 418.2h3.1M92.5 416.6v3.1M92.5 411.6h3.1M94.1 410.1v3.1M94.1 413.3h3.1M95.7 411.8v3.1M95.7 412.2h3.1M97.3 410.7v3.1M97.3 410.3h3.1M98.8 408.8v3.1M98.9 412.7h3.1M100.4 411.1v3.1M100.5 412.6h3.1M102.0 411.0v3.1M102.0 412.5h3.1M103.6 410.9v3.1M103.6 415.0h3.1M105.2 413.5v3.1M105.2 410.5h3.1M106.8 408.9v3.1M106.8 411.3h3.1M108.4 409.7v3.1M108.4 404.8h3.1M110.0 403.2v3.1M110.0 411.6h3.1M111.5 410.0v3.1M111.6 414.8h3.1M113.1 413.2v3.1M113.2 412.5h3.1M114.7 411.0v3.1M114.7 414.0h3.1M116.3 412.5v3.1M116.3 408.5h3.1M117.9 407.0v3.1M117.9 409.4h3.1M119.5 407.9v3.1M119.5 413.6h3.1M121.1 412.0v3.1M121.1 410.5h3.1M122.6 409.0v3.1M122.7 412.4h3.1M124.2 410.8v3.1M124.3 412.8h3.1M125.8 411.3v3.1M125.9 409.7h3.1M127.4 408.2v3.1M127.4 411.2h3.1M129.0 409.6v3.1M129.0 412.8h3.1M130.6 411.2v3.1M130.6 412.1h3.1M132.2 410.5v3.1M132.2 410.4h3.1M133.8 408.8v3.1M133.8 410.8h3.1M135.3 409.3v3.1M135.4 411.8h3.1M136.9 410.2v3.1M137.0 408.8h3.1M138.5 407.2v3.1M138.5 409.2h3.1M140.1 407.7v3.1M140.1 414.3h3.1M141.7 412.7v3.1M141.7 404.4h3.1M143.3 402.9v3.1M143.3 413.5h3.1M144.9 412.0v3.1M144.9 412.5h3.1M146.5 410.9v3.1M146.5 406.1h3.1M148.0 404.5v3.1M148.1 412.3h3.1M149.6 410.8v3.1M149.7 414.8h3.1M151.2 413.2v3.1M151.2 416.7h3.1M152.8 415.1v3.1M152.8 413.7h3.1M154.4 412.1v3.1M154.4 413.6h3.1M156.0 412.0v3.1M156.0 415.6h3.1M157.6 414.0v3.1M157.6 413.7h3.1M159.2 412.1v3.1M159.2 413.9h3.1M160.7 412.4v3.1M160.8 416.3h3.1M162.3 414.7v3.1M162.4 418.0h3.1M163.9 416.5v3.1M163.9 414.1h3.1M165.5 412.5v3.1M165.5 414.5h3.1M167.1 412.9v3.1M167.1 411.3h3.1M168.7 409.8v3.1M168.7 415.0h3.1M170.3 413.5v3.1M170.3 415.5h3.1M171.9 414.0v3.1M171.9 408.0h3.1M173.4 406.5v3.1M173.5 413.3h3.1M175.0 411.7v3.1M175.1 412.5h3.1M176.6 411.0v3.1M176.6 413.5h3.1M178.2 412.0v3.1M178.2 413.0h3.1M179.8 411.5v3.1M179.8 410.2h3.1M181.4 408.6v3.1M181.4 410.3h3.1M183.0 408.7v3.1M183.0 411.9h3.1M184.5 410.3v3.1M184.6 410.2h3.1M186.1 408.7v3.1M186.2 411.9h3.1M187.7 410.3v3.1M187.7 411.4h3.1M189.3 409.8v3.1M189.3 411.2h3.1M190.9 409.7v3.1M190.9 410.6h3.1M192.5 409.0v3.1M192.5 409.2h3.1M194.1 407.7v3.1M194.1 410.1h3.1M195.7 408.6v3.1M195.7 412.1h3.1M197.2 410.6v3.1M197.3 409.0h3.1M198.8 407.5v3.1M198.9 408.3h3.1M200.4 406.7v3.1M200.4 408.8h3.1M202.0 407.3v3.1M202.0 403.6h3.1M203.6 402.0v3.1M203.6 401.2h3.1M205.2 399.6v3.1M205.2 404.9h3.1M206.8 403.3v3.1M206.8 406.3h3.1M208.4 404.7v3.1M208.4 407.9h3.1M209.9 406.4v3.1M210.0 408.0h3.1M211.5 406.5v3.1M211.6 405.7h3.1M213.1 404.1v3.1M213.1 401.3h3.1M214.7 399.8v3.1M214.7 409.4h3.1M216.3 407.8v3.1M216.3 407.5h3.1M217.9 405.9v3.1M217.9 404.2h3.1M219.5 402.6v3.1M219.5 407.5h3.1M221.1 406.0v3.1M221.1 406.8h3.1M222.6 405.3v3.1M222.7 406.5h3.1M224.2 405.0v3.1M224.3 407.1h3.1M225.8 405.5v3.1M225.8 411.0h3.1M227.4 409.4v3.1M227.4 402.3h3.1M229.0 400.7v3.1M229.0 408.9h3.1M230.6 407.3v3.1M230.6 413.2h3.1M232.2 411.7v3.1M232.2 406.8h3.1M233.8 405.3v3.1M233.8 407.6h3.1M235.3 406.1v3.1M235.4 410.5h3.1M236.9 409.0v3.1M237.0 405.6h3.1M238.5 404.1v3.1M238.5 411.7h3.1M240.1 410.2v3.1M240.1 413.5h3.1M241.7 412.0v3.1M241.7 410.7h3.1M243.3 409.1v3.1M243.3 410.4h3.1M244.9 408.9v3.1M244.9 407.7h3.1M246.4 406.1v3.1M246.5 407.6h3.1M248.0 406.1v3.1M248.1 409.3h3.1M249.6 407.7v3.1M249.6 404.3h3.1M251.2 402.8v3.1M251.2 407.8h3.1M252.8 406.3v3.1M252.8 409.9h3.1M254.4 408.3v3.1M254.4 409.8h3.1M256.0 408.3v3.1M256.0 409.0h3.1M257.6 407.4v3.1M257.6 404.2h3.1M259.1 402.7v3.1M259.2 409.9h3.1M260.7 408.3v3.1M260.8 411.2h3.1M262.3 409.6v3.1M262.3 407.1h3.1M263.9 405.5v3.1M263.9 408.3h3.1M265.5 406.7v3.1M265.5 408.8h3.1M267.1 407.2v3.1M267.1 408.2h3.1M268.7 406.7v3.1M268.7 411.4h3.1M270.3 409.8v3.1M270.3 406.5h3.1M271.8 404.9v3.1M271.9 412.6h3.1M273.4 411.1v3.1M273.5 410.9h3.1M275.0 409.3v3.1M275.0 414.3h3.1M276.6 412.8v3.1M276.6 413.1h3.1M278.2 411.5v3.1M278.2 406.8h3.1M279.8 405.2v3.1M279.8 412.1h3.1M281.4 410.5v3.1M281.4 414.7h3.1M283.0 413.1v3.1M283.0 409.6h3.1M284.5 408.1v3.1M284.6 413.0h3.1M286.1 411.4v3.1M286.2 418.9h3.1M287.7 417.4v3.1M287.7 410.1h3.1M289.3 408.5v3.1M289.3 412.5h3.1M290.9 410.9v3.1M290.9 414.4h3.1M292.5 412.9v3.1M292.5 407.3h3.1M294.1 405.7v3.1M294.1 409.3h3.1M295.6 407.8v3.1M295.7 411.2h3.1M297.2 409.7v3.1M297.3 408.4h3.1M298.8 406.8v3.1M298.9 406.8h3.1M300.4 405.2v3.1M300.4 410.3h3.1M302.0 408.8v3.1M302.0 406.2h3.1M303.6 404.6v3.1M303.6 404.3h3.1M305.2 402.7v3.1M305.2 405.9h3.1M306.8 404.4v3.1M306.8 408.2h3.1M308.3 406.6v3.1M308.4 408.8h3.1M309.9 407.2v3.1M310.0 406.0h3.1M311.5 404.4v3.1M311.5 408.5h3.1M313.1 407.0v3.1M313.1 409.9h3.1M314.7 408.4v3.1M314.7 407.7h3.1M316.3 406.1v3.1M316.3 409.2h3.1M317.9 407.6v3.1M317.9 409.3h3.1M319.5 407.7v3.1M319.5 411.7h3.1M321.0 410.1v3.1M321.1 412.8h3.1M322.6 411.3v3.1M322.7 410.6h3.1M324.2 409.1v3.1M324.2 409.4h3.1M325.8 407.8v3.1M325.8 411.7h3.1M327.4 410.2v3.1M327.4 414.6h3.1M329.0 413.0v3.1M329.0 408.6h3.1M330.6 407.0v3.1M330.6 414.2h3.1M332.2 412.6v3.1M332.2 419.1h3.1M333.7 417.6v3.1M333.8 413.5h3.1M335.3 411.9v3.1M335.4 412.6h3.1M336.9 411.0v3.1M336.9 413.5h3.1M338.5 411.9v3.1M338.5 415.6h3.1M340.1 414.0v3.1M340.1 417.4h3.1M341.7 415.8v3.1M341.7 412.3h3.1M343.3 410.7v3.1M343.3 411.7h3.1M344.9 410.2v3.1M344.9 419.6h3.1M346.4 418.0v3.1M346.5 414.9h3.1M348.0 413.3v3.1M348.1 414.6h3.1M349.6 413.0v3.1M349.6 414.4h3.1M351.2 412.8v3.1M351.2 416.9h3.1M352.8 415.3v3.1M352.8 412.7h3.1M354.4 411.1v3.1M354.4 415.7h3.1M356.0 414.2v3.1M356.0 412.7h3.1M357.5 411.2v3.1M357.6 409.9h3.1M359.1 408.3v3.1M359.2 411.8h3.1M360.7 410.2v3.1M360.8 416.4h3.1M362.3 414.9v3.1M362.3 412.2h3.1M363.9 410.6v3.1M363.9 411.1h3.1M365.5 409.5v3.1M365.5 413.0h3.1M367.1 411.5v3.1M367.1 411.5h3.1M368.7 410.0v3.1M368.7 412.3h3.1M370.2 410.7v3.1M370.3 413.9h3.1M371.8 412.3v3.1M371.9 416.6h3.1M373.4 415.0v3.1M373.4 409.9h3.1M375.0 408.3v3.1M375.0 417.1h3.1M376.6 415.5v3.1M376.6 413.5h3.1M378.2 412.0v3.1M378.2 412.9h3.1M379.8 411.4v3.1M379.8 415.7h3.1M381.4 414.1v3.1M381.4 415.6h3.1M382.9 414.0v3.1M383.0 412.3h3.1M384.5 410.8v3.1M384.6 417.1h3.1M386.1 415.5v3.1M386.1 416.6h3.1M387.7 415.0v3.1M387.7 415.1h3.1M389.3 413.6v3.1M389.3 414.6h3.1M390.9 413.1v3.1M390.9 419.8h3.1M392.5 418.2v3.1M392.5 420.5h3.1M394.1 418.9v3.1M394.1 418.9h3.1M395.6 417.3v3.1M395.7 422.0h3.1M397.2 420.4v3.1M397.3 413.2h3.1M398.8 411.7v3.1M398.8 412.5h3.1M400.4 411.0v3.1M400.4 414.7h3.1M402.0 413.1v3.1M402.0 411.5h3.1M403.6 409.9v3.1M403.6 413.2h3.1M405.2 411.6v3.1M405.2 417.2h3.1M406.8 415.7v3.1M406.8 410.4h3.1M408.3 408.8v3.1M408.4 410.4h3.1M409.9 408.8v3.1M410.0 412.4h3.1M411.5 410.9v3.1M411.5 411.5h3.1M413.1 410.0v3.1M413.1 411.4h3.1M414.7 409.8v3.1M414.7 406.1h3.1M416.3 404.6v3.1M416.3 407.6h3.1M417.9 406.0v3.1M417.9 412.3h3.1M419.4 410.7v3.1M419.5 409.0h3.1M421.0 407.4v3.1M421.1 412.8h3.1M422.6 411.3v3.1M422.7 416.0h3.1M424.2 414.5v3.1M424.2 410.1h3.1M425.8 408.5v3.1M425.8 413.6h3.1M427.4 412.1v3.1M427.4 412.0h3.1M429.0 410.5v3.1M429.0 411.7h3.1M430.6 410.2v3.1M430.6 409.6h3.1M432.1 408.0v3.1M432.2 412.5h3.1M433.7 410.9v3.1M433.8 412.2h3.1M435.3 410.6v3.1M435.3 412.5h3.1M436.9 410.9v3.1M436.9 410.1h3.1M438.5 408.5v3.1M438.5 410.9h3.1M440.1 409.4v3.1M440.1 408.3h3.1M441.7 406.8v3.1M441.7 410.1h3.1M443.3 408.5v3.1M443.3 410.4h3.1M444.8 408.9v3.1M444.9 411.9h3.1M446.4 410.4v3.1M446.5 410.5h3.1M448.0 408.9v3.1M448.0 411.6h3.1M449.6 410.0v3.1M449.6 407.8h3.1M451.2 406.3v3.1M451.2 410.8h3.1M452.8 409.2v3.1M452.8 409.4h3.1M454.4 407.8v3.1M454.4 411.5h3.1M456.0 409.9v3.1M456.0 412.9h3.1M457.5 411.4v3.1M457.6 413.3h3.1M459.1 411.7v3.1M459.2 409.1h3.1M460.7 407.6v3.1M460.7 409.3h3.1M462.3 407.7v3.1M462.3 415.2h3.1M463.9 413.6v3.1M463.9 408.4h3.1M465.5 406.8v3.1M465.5 409.2h3.1M467.1 407.6v3.1M467.1 410.8h3.1M468.7 409.3v3.1M468.7 407.4h3.1M470.2 405.8v3.1M470.3 414.5h3.1M471.8 413.0v3.1M471.9 413.7h3.1M473.4 412.1v3.1M473.4 412.1h3.1M475.0 410.5v3.1M475.0 411.1h3.1M476.6 409.5v3.1M476.6 407.3h3.1M478.2 405.7v3.1M478.2 402.0h3.1M479.8 400.5v3.1M479.8 405.1h3.1M481.3 403.5v3.1M481.4 402.4h3.1M482.9 400.8v3.1M483.0 404.8h3.1M484.5 403.3v3.1M484.5 403.5h3.1M486.1 402.0v3.1M486.1 400.9h3.1M487.7 399.4v3.1M487.7 399.5h3.1M489.3 398.0v3.1M489.3 403.1h3.1M490.9 401.6v3.1M490.9 399.0h3.1M492.5 397.4v3.1M492.5 399.7h3.1M494.0 398.2v3.1M494.1 399.8h3.1M495.6 398.2v3.1M495.7 406.3h3.1M497.2 404.8v3.1M497.2 405.4h3.1M498.8 403.9v3.1M498.8 405.4h3.1M500.4 403.8v3.1M500.4 409.4h3.1M502.0 407.9v3.1M502.0 409.9h3.1M503.6 408.3v3.1M503.6 408.8h3.1M505.2 407.3v3.1M505.2 409.4h3.1M506.7 407.8v3.1M506.8 414.0h3.1M508.3 412.5v3.1M508.4 413.1h3.1M509.9 411.5v3.1M509.9 407.9h3.1M511.5 406.3v3.1M511.5 412.6h3.1M513.1 411.0v3.1M513.1 415.3h3.1M514.7 413.7v3.1M514.7 408.4h3.1M516.3 406.8v3.1M516.3 409.5h3.1M517.9 408.0v3.1M517.9 409.8h3.1M519.4 408.2v3.1M519.5 412.2h3.1M521.0 410.6v3.1M521.1 412.3h3.1M522.6 410.7v3.1M522.6 410.5h3.1M524.2 408.9v3.1M524.2 411.0h3.1M525.8 409.4v3.1M525.8 406.9h3.1M527.4 405.4v3.1M527.4 403.9h3.1M529.0 402.3v3.1M529.0 406.8h3.1M530.6 405.2v3.1M530.6 413.3h3.1M532.1 411.8v3.1M532.2 408.6h3.1M533.7 407.1v3.1M533.8 411.7h3.1M535.3 410.2v3.1M535.3 402.6h3.1M536.9 401.0v3.1M536.9 404.2h3.1M538.5 402.7v3.1M538.5 404.8h3.1M540.1 403.2v3.1M540.1 408.5h3.1M541.7 407.0v3.1M541.7 405.6h3.1M543.2 404.1v3.1M543.3 403.4h3.1M544.8 401.9v3.1M544.9 408.0h3.1M546.4 406.4v3.1M546.4 405.2h3.1M548.0 403.6v3.1M548.0 409.3h3.1M549.6 407.7v3.1M549.6 403.6h3.1M551.2 402.1v3.1M551.2 408.8h3.1M552.8 407.3v3.1M552.8 409.6h3.1M554.4 408.0v3.1M554.4 402.8h3.1M555.9 401.2v3.1M556.0 406.8h3.1M557.5 405.2v3.1M557.6 408.2h3.1M559.1 406.6v3.1M559.1 399.4h3.1M560.7 397.8v3.1M560.7 405.9h3.1M562.3 404.4v3.1M562.3 399.5h3.1M563.9 397.9v3.1M563.9 398.0h3.1M565.5 396.5v3.1M565.5 396.4h3.1M567.1 394.8v3.1M567.1 403.0h3.1M568.6 401.5v3.1M568.7 396.0h3.1M570.2 394.4v3.1M570.3 400.7h3.1M571.8 399.2v3.1M571.8 398.1h3.1M573.4 396.5v3.1M573.4 400.6h3.1M575.0 399.0v3.1M575.0 402.1h3.1M576.6 400.6v3.1M576.6 399.8h3.1M578.2 398.3v3.1M578.2 398.1h3.1M579.8 396.6v3.1M579.8 398.0h3.1M581.3 396.5v3.1M581.4 398.7h3.1M582.9 397.1v3.1M583.0 395.8h3.1M584.5 394.3v3.1M584.5 395.8h3.1M586.1 394.2v3.1M586.1 395.4h3.1M587.7 393.8v3.1M587.7 395.8h3.1M589.3 394.2v3.1M589.3 399.7h3.1M590.9 398.1v3.1M590.9 396.8h3.1M592.4 395.2v3.1M592.5 397.9h3.1M594.0 396.3v3.1M594.1 397.5h3.1M595.6 396.0v3.1M595.7 402.7h3.1M597.2 401.1v3.1M597.2 397.1h3.1M598.8 395.5v3.1M598.8 398.3h3.1M600.4 396.8v3.1M600.4 394.2h3.1M602.0 392.7v3.1M602.0 399.7h3.1M603.6 398.1v3.1M603.6 395.2h3.1M605.1 393.6v3.1M605.2 399.2h3.1M606.7 397.7v3.1M606.8 399.4h3.1M608.3 397.8v3.1M608.3 399.1h3.1M609.9 397.5v3.1M609.9 392.7h3.1M611.5 391.1v3.1M611.5 396.7h3.1M613.1 395.1v3.1M613.1 397.9h3.1M614.7 396.3v3.1M614.7 400.9h3.1M616.3 399.3v3.1M616.3 403.9h3.1M617.8 402.4v3.1M617.9 406.5h3.1M619.4 404.9v3.1M619.5 399.9h3.1M621.0 398.3v3.1M621.0 408.6h3.1M622.6 407.1v3.1M622.6 408.8h3.1M624.2 407.2v3.1M624.2 405.4h3.1M625.8 403.9v3.1M625.8 407.8h3.1M627.4 406.2v3.1M627.4 409.3h3.1M629.0 407.8v3.1M629.0 413.3h3.1M630.5 411.7v3.1M630.6 408.6h3.1M632.1 407.0v3.1M632.2 410.4h3.1M633.7 408.8v3.1M633.7 409.9h3.1M635.3 408.3v3.1M635.3 403.7h3.1M636.9 402.1v3.1M636.9 408.5h3.1M638.5 406.9v3.1M638.5 409.7h3.1M640.1 408.1v3.1M640.1 402.9h3.1M641.7 401.4v3.1M641.7 404.9h3.1M643.2 403.3v3.1M643.3 404.3h3.1M644.8 402.8v3.1M644.9 410.0h3.1M646.4 408.5v3.1M646.4 407.1h3.1M648.0 405.5v3.1M648.0 406.3h3.1M649.6 404.7v3.1M649.6 406.9h3.1M651.2 405.3v3.1M651.2 411.0h3.1M652.8 409.4v3.1M652.8 408.9h3.1M654.3 407.3v3.1M654.4 409.8h3.1M655.9 408.2v3.1M656.0 408.5h3.1M657.5 406.9v3.1M657.6 409.8h3.1M659.1 408.3v3.1M659.1 408.9h3.1M660.7 407.3v3.1M660.7 412.4h3.1M662.3 410.8v3.1M662.3 411.9h3.1M663.9 410.3v3.1M663.9 413.8h3.1M665.5 412.2v3.1M665.5 412.4h3.1M667.0 410.8v3.1M667.1 413.2h3.1M668.6 411.6v3.1M668.7 410.3h3.1M670.2 408.7v3.1M670.2 413.3h3.1M671.8 411.8v3.1M671.8 409.7h3.1M673.4 408.2v3.1M673.4 411.7h3.1M675.0 410.2v3.1M675.0 414.5h3.1M676.6 413.0v3.1M676.6 412.6h3.1M678.2 411.0v3.1M678.2 415.5h3.1M679.7 414.0v3.1M679.8 416.3h3.1M681.3 414.7v3.1M681.4 412.6h3.1M682.9 411.0v3.1M682.9 416.6h3.1M684.5 415.1v3.1M684.5 418.0h3.1M686.1 416.4v3.1M686.1 417.7h3.1M687.7 416.2v3.1M687.7 416.4h3.1M689.3 414.8v3.1M689.3 413.4h3.1M690.9 411.8v3.1M690.9 411.4h3.1M692.4 409.8v3.1M692.5 413.7h3.1M694.0 412.1v3.1M694.1 412.8h3.1M695.6 411.2v3.1M695.6 410.7h3.1M697.2 409.1v3.1M697.2 406.7h3.1M698.8 405.2v3.1M698.8 412.4h3.1M700.4 410.9v3.1M700.4 411.8h3.1M702.0 410.2v3.1M702.0 411.7h3.1M703.6 410.1v3.1M703.6 413.3h3.1M705.1 411.8v3.1M705.2 413.9h3.1M706.7 412.4v3.1M706.8 409.0h3.1M708.3 407.4v3.1M708.3 408.8h3.1M709.9 407.3v3.1M709.9 406.4h3.1M711.5 404.8v3.1M711.5 409.0h3.1M713.1 407.4v3.1M713.1 415.6h3.1M714.7 414.1v3.1M714.7 411.3h3.1M716.2 409.7v3.1M716.3 409.9h3.1M717.8 408.3v3.1M717.9 411.2h3.1M719.4 409.7v3.1M719.5 417.2h3.1M721.0 415.6v3.1M721.0 414.8h3.1M722.6 413.3v3.1M722.6 415.4h3.1M724.2 413.8v3.1M724.2 414.6h3.1M725.8 413.0v3.1M725.8 417.0h3.1M727.4 415.4v3.1M727.4 414.7h3.1M728.9 413.2v3.1M729.0 420.7h3.1M730.5 419.2v3.1M730.6 419.1h3.1M732.1 417.6v3.1M732.1 417.3h3.1M733.7 415.8v3.1M733.7 420.7h3.1M735.3 419.1v3.1M735.3 423.8h3.1M736.9 422.2v3.1M736.9 421.5h3.1M738.5 420.0v3.1M738.5 421.4h3.1M740.1 419.9v3.1M740.1 422.3h3.1M741.6 420.7v3.1M741.7 415.2h3.1M743.2 413.6v3.1M743.3 420.6h3.1M744.8 419.0v3.1M744.8 425.3h3.1M746.4 423.8v3.1M746.4 425.4h3.1M748.0 423.8v3.1M748.0 425.7h3.1M749.6 424.1v3.1M749.6 425.6h3.1M751.2 424.0v3.1M751.2 422.0h3.1M752.8 420.4v3.1M752.8 427.1h3.1M754.3 425.6v3.1M754.4 422.6h3.1M755.9 421.1v3.1M756.0 425.0h3.1M757.5 423.5v3.1M757.5 418.3h3.1M759.1 416.7v3.1M759.1 424.2h3.1M760.7 422.7v3.1M760.7 420.2h3.1M762.3 418.6v3.1M762.3 422.6h3.1M763.9 421.0v3.1M763.9 426.5h3.1M765.5 424.9v3.1M765.5 420.3h3.1M767.0 418.7v3.1M767.1 422.2h3.1M768.6 420.7v3.1M768.7 429.1h3.1M770.2 427.5v3.1M770.2 424.1h3.1M771.8 422.6v3.1M771.8 420.8h3.1M773.4 419.2v3.1M773.4 430.8h3.1M775.0 429.2v3.1M775.0 422.8h3.1M776.6 421.2v3.1M776.6 422.9h3.1M778.1 421.4v3.1M778.2 424.1h3.1M779.7 422.5v3.1M779.8 423.2h3.1M781.3 421.7v3.1M781.3 426.4h3.1M782.9 424.8v3.1M782.9 425.7h3.1M784.5 424.2v3.1M784.5 433.8h3.1M786.1 432.2v3.1M786.1 425.6h3.1M787.7 424.1v3.1M787.7 424.5h3.1M789.3 422.9v3.1M789.3 428.5h3.1M790.8 427.0v3.1M790.9 427.5h3.1M792.4 426.0v3.1M792.5 426.8h3.1M794.0 425.2v3.1M794.0 425.1h3.1M795.6 423.5v3.1M795.6 427.2h3.1M797.2 425.6v3.1M797.2 426.5h3.1M798.8 424.9v3.1M798.8 427.9h3.1M800.4 426.3v3.1M800.4 438.6h3.1M802.0 437.0v3.1M802.0 431.5h3.1M803.5 430.0v3.1M803.6 429.1h3.1M805.1 427.5v3.1M805.2 433.1h3.1M806.7 431.5v3.1M806.7 438.5h3.1M808.3 436.9v3.1M808.3 429.6h3.1M809.9 428.0v3.1M809.9 433.2h3.1M811.5 431.6v3.1M811.5 432.1h3.1M813.1 430.6v3.1M813.1 427.3h3.1M814.7 425.8v3.1M814.7 430.6h3.1M816.2 429.1v3.1M816.3 435.2h3.1M817.8 433.6v3.1M817.9 425.9h3.1M819.4 424.3v3.1M819.4 426.6h3.1M821.0 425.0v3.1M821.0 430.8h3.1M822.6 429.2v3.1M822.6 429.5h3.1M824.2 427.9v3.1M824.2 428.4h3.1M825.8 426.8v3.1M825.8 427.1h3.1M827.4 425.6v3.1M827.4 429.0h3.1M828.9 427.5v3.1M829.0 433.7h3.1M830.5 432.1v3.1M830.6 431.3h3.1M832.1 429.7v3.1M832.1 432.9h3.1M833.7 431.3v3.1M833.7 428.4h3.1M835.3 426.9v3.1M835.3 426.7h3.1M836.9 425.2v3.1M836.9 424.7h3.1M838.5 423.1v3.1M838.5 427.7h3.1M840.0 426.2v3.1M840.1 431.5h3.1M841.6 430.0v3.1M841.7 427.1h3.1M843.2 425.5v3.1M843.2 420.7h3.1M844.8 419.1v3.1M844.8 429.3h3.1M846.4 427.7v3.1M846.4 426.8h3.1M848.0 425.3v3.1M848.0 429.3h3.1M849.6 427.7v3.1M849.6 431.9h3.1M851.2 430.4v3.1M851.2 431.2h3.1M852.7 429.7v3.1M852.8 431.5h3.1M854.3 430.0v3.1M854.4 441.4h3.1M855.9 439.8v3.1M855.9 434.3h3.1M857.5 432.7v3.1M857.5 436.3h3.1M859.1 434.7v3.1M859.1 431.1h3.1M860.7 429.6v3.1M860.7 434.7h3.1M862.3 433.1v3.1M862.3 429.6h3.1M863.9 428.0v3.1M863.9 431.2h3.1M865.4 429.7v3.1M865.5 425.7h3.1M867.0 424.2v3.1M867.1 428.8h3.1M868.6 427.2v3.1M868.6 424.7h3.1M870.2 423.1v3.1M870.2 426.2h3.1M871.8 424.7v3.1M871.8 423.6h3.1M873.4 422.0v3.1M873.4 413.1h3.1M875.0 411.5v3.1M875.0 414.8h3.1M876.6 413.3v3.1M876.6 415.9h3.1M878.1 414.3v3.1M878.2 409.4h3.1M879.7 407.8v3.1M879.8 410.3h3.1M881.3 408.7v3.1M881.3 411.9h3.1M882.9 410.3v3.1M882.9 412.6h3.1M884.5 411.0v3.1M884.5 415.9h3.1M886.1 414.4v3.1M886.1 414.5h3.1M887.7 413.0v3.1M887.7 413.4h3.1M889.3 411.9v3.1M889.3 421.3h3.1M890.8 419.8v3.1M890.9 417.5h3.1M892.4 415.9v3.1M892.5 422.3h3.1M894.0 420.8v3.1M894.0 417.8h3.1M895.6 416.3v3.1M895.6 417.2h3.1M897.2 415.7v3.1M897.2 419.6h3.1M898.8 418.1v3.1M898.8 425.6h3.1M900.4 424.0v3.1M900.4 420.2h3.1M901.9 418.6v3.1M902.0 418.4h3.1M903.5 416.8v3.1M903.6 422.9h3.1M905.1 421.4v3.1M905.1 424.9h3.1M906.7 423.3v3.1M906.7 410.2h3.1M908.3 408.6v3.1M908.3 418.5h3.1M909.9 416.9v3.1M909.9 420.0h3.1M911.5 418.4v3.1M911.5 424.9h3.1M913.1 423.3v3.1M913.1 424.1h3.1M914.6 422.6v3.1M914.7 430.9h3.1M916.2 429.4v3.1M916.3 430.7h3.1M917.8 429.1v3.1M917.8 436.1h3.1M919.4 434.5v3.1M919.4 444.5h3.1M921.0 443.0v3.1M921.0 432.7h3.1M922.6 431.2v3.1M922.6 429.3h3.1M924.2 427.7v3.1M924.2 440.4h3.1M925.8 438.8v3.1M925.8 432.9h3.1M927.3 431.3v3.1M927.4 431.4h3.1M928.9 429.8v3.1M929.0 433.6h3.1M930.5 432.0v3.1M930.5 437.2h3.1M932.1 435.7v3.1M932.1 427.2h3.1M933.7 425.6v3.1M933.7 437.0h3.1M935.3 435.5v3.1M935.3 433.5h3.1M936.9 432.0v3.1M936.9 417.7h3.1M938.5 416.1v3.1M938.5 431.6h3.1M940.0 430.0v3.1M940.1 436.8h3.1M941.6 435.3v3.1M941.7 436.0h3.1M943.2 434.4v3.1M943.2 433.7h3.1M944.8 432.1v3.1M944.8 440.2h3.1M946.4 438.6v3.1M946.4 430.6h3.1M948.0 429.0v3.1M948.0 431.9h3.1M949.6 430.3v3.1M949.6 434.0h3.1M951.1 432.4v3.1M951.2 432.5h3.1M952.7 431.0v3.1M952.8 441.4h3.1M954.3 439.8v3.1M954.4 434.0h3.1M955.9 432.4v3.1M955.9 437.9h3.1M957.5 436.3v3.1M957.5 419.8h3.1M959.1 418.2v3.1M959.1 433.7h3.1M960.7 432.1v3.1M960.7 429.1h3.1M962.3 427.5v3.1M962.3 434.5h3.1M963.8 432.9v3.1M963.9 443.6h3.1M965.4 442.0v3.1M965.5 427.3h3.1M967.0 425.7v3.1M967.0 433.3h3.1M968.6 431.8v3.1M968.6 433.5h3.1M970.2 432.0v3.1M970.2 419.1h3.1M971.8 417.6v3.1M971.8 440.6h3.1M973.4 439.0v3.1M973.4 423.0h3.1M975.0 421.5v3.1M975.0 434.6h3.1M976.5 433.0v3.1M976.6 429.3h3.1M978.1 427.7v3.1M978.2 442.0h3.1M979.7 440.4v3.1M979.7 435.1h3.1M981.3 433.5v3.1M981.3 438.6h3.1M982.9 437.0v3.1M982.9 441.8h3.1M984.5 440.2v3.1M984.5 434.0h3.1M986.1 432.4v3.1M986.1 427.7h3.1M987.7 426.2v3.1M987.7 433.5h3.1M989.2 431.9v3.1M989.3 432.6h3.1M990.8 431.0v3.1M990.9 435.6h3.1M992.4 434.1v3.1M992.4 430.5h3.1M994.0 428.9v3.1M994.0 433.7h3.1M995.6 432.1v3.1M995.6 431.0h3.1M997.2 429.4v3.1M997.2 434.0h3.1M998.8 432.4v3.1M998.8 429.7h3.1M1000.4 428.1v3.1M1000.4 437.0h3.1M1001.9 435.4v3.1M1002.0 433.5h3.1M1003.5 432.0v3.1M1003.6 435.1h3.1M1005.1 433.5v3.1M1005.1 434.2h3.1M1006.7 432.6v3.1M1006.7 436.9h3.1M1008.3 435.3v3.1M1008.3 425.5h3.1M1009.9 423.9v3.1M1009.9 432.0h3.1M1011.5 430.4v3.1M1011.5 433.7h3.1M1013.0 432.2v3.1M1013.1 426.4h3.1M1014.6 424.8v3.1M1014.7 434.3h3.1M1016.2 432.7v3.1M1016.3 441.4h3.1M1017.8 439.9v3.1M1017.8 434.7h3.1M1019.4 433.1v3.1M1019.4 436.1h3.1M1021.0 434.5v3.1M1021.0 432.5h3.1M1022.6 431.0v3.1M1022.6 436.1h3.1M1024.2 434.6v3.1M1024.2 427.1h3.1M1025.7 425.5v3.1M1025.8 439.2h3.1M1027.3 437.7v3.1M1027.4 436.3h3.1M1028.9 434.7v3.1M1028.9 441.7h3.1M1030.5 440.1v3.1M1030.5 432.4h3.1M1032.1 430.8v3.1M1032.1 429.1h3.1M1033.7 427.5v3.1M1033.7 429.1h3.1M1035.3 427.5v3.1M1035.3 428.0h3.1M1036.9 426.4v3.1M1036.9 434.0h3.1M1038.4 432.5v3.1M1038.5 439.9h3.1M1040.0 438.3v3.1M1040.1 439.2h3.1M1041.6 437.6v3.1M1041.6 428.6h3.1M1043.2 427.1v3.1M1043.2 439.0h3.1M1044.8 437.4v3.1M1044.8 430.8h3.1M1046.4 429.3v3.1M1046.4 436.9h3.1M1048.0 435.4v3.1M1048.0 435.9h3.1M1049.6 434.4v3.1M1049.6 423.1h3.1M1051.1 421.5v3.1M1051.2 439.1h3.1M1052.7 437.6v3.1M1052.8 434.4h3.1M1054.3 432.8v3.1M1054.3 435.6h3.1M1055.9 434.0v3.1M1055.9 442.6h3.1M1057.5 441.0v3.1M1057.5 437.7h3.1M1059.1 436.2v3.1M1059.1 443.0h3.1M1060.7 441.4v3.1M1060.7 433.8h3.1M1062.3 432.3v3.1M1062.3 434.2h3.1M1063.8 432.6v3.1M1063.9 433.2h3.1M1065.4 431.7v3.1M1065.5 433.4h3.1M1067.0 431.8v3.1M1067.0 442.4h3.1M1068.6 440.9v3.1M1068.6 433.6h3.1M1070.2 432.1v3.1M1070.2 441.2h3.1M1071.8 439.7v3.1M1071.8 426.0h3.1M1073.4 424.5v3.1M1073.4 435.5h3.1M1074.9 434.0v3.1M1075.0 434.2h3.1M1076.5 432.7v3.1M1076.6 443.8h3.1M1078.1 442.3v3.1M1078.2 438.2h3.1M1079.7 436.6v3.1M1079.7 430.1h3.1M1081.3 428.6v3.1M1081.3 430.5h3.1M1082.9 428.9v3.1M1082.9 437.7h3.1M1084.5 436.1v3.1M1084.5 434.3h3.1M1086.1 432.8v3.1M1086.1 434.4h3.1M1087.6 432.8v3.1M1087.7 442.4h3.1M1089.2 440.9v3.1M1089.3 435.9h3.1M1090.8 434.4v3.1M1090.8 437.0h3.1M1092.4 435.4v3.1M1092.4 428.4h3.1M1094.0 426.9v3.1M1094.0 443.6h3.1M1095.6 442.1v3.1M1095.6 437.5h3.1M1097.2 435.9v3.1M1097.2 434.0h3.1M1098.8 432.5v3.1M1098.8 443.8h3.1M1100.3 442.2v3.1M1100.4 442.5h3.1M1101.9 440.9v3.1M1102.0 439.1h3.1M1103.5 437.5v3.1M1103.5 437.2h3.1M1105.1 435.7v3.1M1105.1 428.0h3.1M1106.7 426.4v3.1M1106.7 431.7h3.1M1108.3 430.2v3.1M1108.3 432.7h3.1M1109.9 431.1v3.1M1109.9 436.5h3.1M1111.5 435.0v3.1M1111.5 441.4h3.1M1113.0 439.8v3.1M1113.1 437.1h3.1M1114.6 435.5v3.1M1114.7 438.3h3.1M1116.2 436.8v3.1M1116.2 445.4h3.1M1117.8 443.8v3.1M1117.8 433.1h3.1M1119.4 431.5v3.1M1119.4 445.7h3.1M1121.0 444.2v3.1M1121.0 437.2h3.1M1122.6 435.6v3.1M1122.6 447.6h3.1M1124.2 446.0v3.1M1124.2 439.5h3.1M1125.7 437.9v3.1M1125.8 444.6h3.1M1127.3 443.1v3.1M1127.4 442.3h3.1M1128.9 440.8v3.1M1128.9 438.9h3.1M1130.5 437.4v3.1M1130.5 448.4h3.1M1132.1 446.9v3.1M1132.1 442.2h3.1M1133.7 440.7v3.1M1133.7 446.6h3.1M1135.3 445.1v3.1M1135.3 440.3h3.1M1136.8 438.7v3.1M1136.9 437.2h3.1M1138.4 435.6v3.1M1138.5 448.3h3.1M1140.0 446.8v3.1M1140.0 434.4h3.1M1141.6 432.9v3.1M1141.6 441.4h3.1M1143.2 439.8v3.1M1143.2 435.5h3.1M1144.8 434.0v3.1M1144.8 434.0h3.1M1146.4 432.4v3.1M1146.4 441.8h3.1M1148.0 440.2v3.1M1148.0 439.9h3.1M1149.5 438.3v3.1M1149.6 438.2h3.1M1151.1 436.6v3.1M1151.2 444.3h3.1M1152.7 442.7v3.1M1152.7 442.6h3.1M1154.3 441.1v3.1M1154.3 448.9h3.1M1155.9 447.4v3.1M1155.9 441.7h3.1M1157.5 440.2v3.1M1157.5 437.2h3.1M1159.1 435.6v3.1M1159.1 434.1h3.1M1160.7 432.6v3.1M1160.7 435.9h3.1M1162.2 434.3v3.1M1162.3 443.6h3.1M1163.8 442.0v3.1M1163.9 441.2h3.1M1165.4 439.7v3.1M1165.4 439.9h3.1M1167.0 438.3v3.1M1167.0 443.1h3.1M1168.6 441.6v3.1M1168.6 444.8h3.1M1170.2 443.3v3.1M1170.2 452.4h3.1M1171.8 450.9v3.1M1171.8 434.5h3.1M1173.4 432.9v3.1M1173.4 440.7h3.1M1174.9 439.1v3.1M1175.0 439.2h3.1M1176.5 437.6v3.1M1176.6 443.5h3.1M1178.1 442.0v3.1M1178.1 435.7h3.1M1179.7 434.1v3.1M1179.7 443.5h3.1M1181.3 441.9v3.1M1181.3 441.3h3.1M1182.9 439.7v3.1M1182.9 439.3h3.1M1184.5 437.7v3.1M1184.5 436.8h3.1M1186.1 435.3v3.1M1186.1 439.6h3.1M1187.6 438.0v3.1M1187.7 433.8h3.1M1189.2 432.3v3.1M1189.3 438.2h3.1M1190.8 436.6v3.1M1190.8 433.7h3.1M1192.4 432.1v3.1M1192.4 444.9h3.1M1194.0 443.3v3.1M1194.0 435.6h3.1M1195.6 434.1v3.1M1195.6 440.7h3.1M1197.2 439.2v3.1M1197.2 431.7h3.1M1198.7 430.1v3.1M1198.8 445.4h3.1M1200.3 443.8v3.1M1200.4 431.0h3.1M1201.9 429.4v3.1M1201.9 439.7h3.1M1203.5 438.1v3.1M1203.5 430.7h3.1M1205.1 429.1v3.1M1205.1 438.1h3.1M1206.7 436.5v3.1M1206.7 437.4h3.1M1208.3 435.9v3.1M1208.3 431.5h3.1M1209.9 430.0v3.1M1209.9 443.7h3.1M1211.4 442.2v3.1M1211.5 441.1h3.1M1213.0 439.6v3.1M1213.1 440.3h3.1M1214.6 438.7v3.1M1214.6 431.2h3.1M1216.2 429.7v3.1M1216.2 435.8h3.1M1217.8 434.3v3.1M1217.8 435.0h3.1M1219.4 433.5v3.1M1219.4 436.7h3.1M1221.0 435.1v3.1M1221.0 434.8h3.1M1222.6 433.2v3.1M1222.6 441.5h3.1M1224.1 440.0v3.1M1224.2 432.1h3.1M1225.7 430.5v3.1M1225.8 442.1h3.1M1227.3 440.5v3.1M1227.3 436.1h3.1M1228.9 434.5v3.1M1228.9 437.4h3.1M1230.5 435.8v3.1M1230.5 442.3h3.1M1232.1 440.7v3.1M1232.1 442.1h3.1M1233.7 440.5v3.1M1233.7 448.7h3.1M1235.3 447.1v3.1M1235.3 438.8h3.1M1236.8 437.2v3.1M1236.9 439.7h3.1M1238.4 438.1v3.1M1238.5 442.1h3.1M1240.0 440.5v3.1M1240.0 440.1h3.1M1241.6 438.5v3.1M1241.6 435.0h3.1M1243.2 433.4v3.1M1243.2 440.1h3.1M1244.8 438.5v3.1M1244.8 439.4h3.1M1246.4 437.8v3.1M1246.4 446.9h3.1M1247.9 445.4v3.1M1248.0 441.9h3.1M1249.5 440.3v3.1M1249.6 440.9h3.1M1251.1 439.4v3.1M1251.2 435.5h3.1M1252.7 433.9v3.1M1252.7 439.5h3.1M1254.3 437.9v3.1M1254.3 436.6h3.1M1255.9 435.1v3.1M1255.9 445.1h3.1M1257.5 443.6v3.1M1257.5 440.4h3.1M1259.1 438.8v3.1M1259.1 453.0h3.1M1260.6 451.4v3.1M1260.7 445.4h3.1M1262.2 443.8v3.1M1262.3 439.9h3.1M1263.8 438.4v3.1M1263.8 442.7h3.1M1265.4 441.1v3.1M1265.4 437.1h3.1M1267.0 435.5v3.1M1267.0 450.7h3.1M1268.6 449.2v3.1M1268.6 438.8h3.1M1270.2 437.2v3.1M1270.2 442.0h3.1M1271.8 440.5v3.1M1271.8 442.1h3.1M1273.3 440.5v3.1M1273.4 441.6h3.1M1274.9 440.1v3.1M1275.0 440.6h3.1M1276.5 439.1v3.1M1276.5 452.5h3.1M1278.1 450.9v3.1M1278.1 448.9h3.1M1279.7 447.4v3.1M1279.7 441.7h3.1M1281.3 440.1v3.1M1281.3 434.5h3.1M1282.9 433.0v3.1M1282.9 426.7h3.1M1284.5 425.1v3.1M1284.5 447.2h3.1M1286.0 445.6v3.1M1286.1 438.4h3.1M1287.6 436.8v3.1M1287.7 437.5h3.1M1289.2 436.0v3.1M1289.2 448.2h3.1M1290.8 446.7v3.1M1290.8 455.1h3.1M1292.4 453.5v3.1M1292.4 439.7h3.1M1294.0 438.1v3.1M1294.0 447.7h3.1M1295.6 446.1v3.1M1295.6 447.3h3.1M1297.2 445.8v3.1M1297.2 443.2h3.1M1298.7 441.6v3.1M1298.8 441.0h3.1M1300.3 439.4v3.1M1300.4 451.6h3.1M1301.9 450.1v3.1M1301.9 436.9h3.1M1303.5 435.4v3.1M1303.5 447.8h3.1M1305.1 446.3v3.1M1305.1 444.1h3.1M1306.7 442.6v3.1M1306.7 448.1h3.1M1308.3 446.5v3.1M1308.3 451.6h3.1M1309.8 450.1v3.1M1309.9 441.0h3.1M1311.4 439.4v3.1M1311.5 447.3h3.1M1313.0 445.7v3.1M1313.1 455.6h3.1M1314.6 454.0v3.1M1314.6 442.9h3.1M1316.2 441.3v3.1M1316.2 444.2h3.1M1317.8 442.6v3.1M1317.8 446.1h3.1M1319.4 444.5v3.1M1319.4 444.3h3.1M1321.0 442.7v3.1M1321.0 447.3h3.1M1322.5 445.7v3.1M1322.6 442.8h3.1M1324.1 441.2v3.1M1324.2 451.7h3.1M1325.7 450.2v3.1M1325.7 447.6h3.1M1327.3 446.0v3.1M1327.3 444.0h3.1M1328.9 442.5v3.1M1328.9 450.3h3.1M1330.5 448.7v3.1M1330.5 450.7h3.1M1332.1 449.1v3.1M1332.1 451.4h3.1M1333.7 449.8v3.1M1333.7 448.6h3.1M1335.2 447.0v3.1M1335.3 455.2h3.1M1336.8 453.6v3.1M1336.9 441.0h3.1M1338.4 439.5v3.1M1338.4 448.0h3.1M1340.0 446.4v3.1M1340.0 439.6h3.1M1341.6 438.0v3.1M1341.6 449.4h3.1M1343.2 447.8v3.1M1343.2 442.1h3.1M1344.8 440.5v3.1M1344.8 448.2h3.1M1346.4 446.6v3.1M1346.4 446.2h3.1M1347.9 444.6v3.1M1348.0 446.3h3.1M1349.5 444.8v3.1M1349.6 434.5h3.1M1351.1 433.0v3.1M1351.1 442.9h3.1M1352.7 441.3v3.1M1352.7 439.7h3.1M1354.3 438.1v3.1M1354.3 454.5h3.1M1355.9 452.9v3.1M1355.9 444.1h3.1M1357.5 442.5v3.1M1357.5 450.1h3.1M1359.1 448.5v3.1M1359.1 453.9h3.1M1360.6 452.4v3.1M1360.7 449.8h3.1M1362.2 448.3v3.1M1362.3 445.9h3.1M1363.8 444.3v3.1M1363.8 446.2h3.1M1365.4 444.6v3.1M1365.4 449.8h3.1M1367.0 448.3v3.1M1367.0 447.6h3.1M1368.6 446.0v3.1M1368.6 433.3h3.1M1370.2 431.7v3.1M1370.2 437.4h3.1M1371.7 435.8v3.1M1371.8 448.9h3.1M1373.3 447.3v3.1M1373.4 436.9h3.1M1374.9 435.4v3.1M1375.0 441.5h3.1M1376.5 439.9v3.1M1376.5 439.1h3.1M1378.1 437.6v3.1M1378.1 439.5h3.1M1379.7 437.9v3.1M1379.7 441.8h3.1M1381.3 440.3v3.1M1381.3 448.0h3.1M1382.9 446.5v3.1M1382.9 440.7h3.1M1384.4 439.1v3.1M1384.5 436.5h3.1M1386.0 434.9v3.1M1386.1 438.0h3.1M1387.6 436.4v3.1M1387.6 439.9h3.1M1389.2 438.3v3.1M1389.2 428.4h3.1M1390.8 426.9v3.1M1390.8 421.9h3.1M1392.4 420.3v3.1M1392.4 440.6h3.1M1394.0 439.1v3.1M1394.0 446.8h3.1M1395.6 445.2v3.1M1395.6 437.7h3.1M1397.1 436.2v3.1M1397.2 448.7h3.1M1398.7 447.2v3.1M1398.8 442.5h3.1M1400.3 441.0v3.1M1400.3 436.0h3.1M1401.9 434.5v3.1M1401.9 443.1h3.1M1403.5 441.5v3.1M1403.5 438.0h3.1M1405.1 436.4v3.1M1405.1 441.5h3.1M1406.7 440.0v3.1M1406.7 434.5h3.1M1408.3 433.0v3.1M1408.3 430.0h3.1M1409.8 428.5v3.1M1409.9 437.3h3.1M1411.4 435.7v3.1M1411.5 437.4h3.1M1413.0 435.8v3.1M1413.0 432.5h3.1M1414.6 431.0v3.1M1414.6 443.5h3.1M1416.2 442.0v3.1M1416.2 439.4h3.1M1417.8 437.9v3.1M1417.8 451.5h3.1M1419.4 449.9v3.1M1419.4 444.4h3.1M1421.0 442.8v3.1M1421.0 452.8h3.1M1422.5 451.3v3.1M1422.6 446.1h3.1M1424.1 444.5v3.1M1424.2 450.4h3.1M1425.7 448.9v3.1M1425.7 455.3h3.1M1427.3 453.7v3.1M1427.3 444.8h3.1M1428.9 443.2v3.1M1428.9 446.2h3.1M1430.5 444.6v3.1M1430.5 444.4h3.1M1432.1 442.8v3.1M1432.1 446.2h3.1M1433.6 444.7v3.1M1433.7 443.3h3.1M1435.2 441.7v3.1M1435.3 455.5h3.1M1436.8 453.9v3.1M1436.8 449.6h3.1M1438.4 448.0v3.1M1438.4 448.4h3.1M1440.0 446.8v3.1M1440.0 442.7h3.1M1441.6 441.1v3.1M1441.6 462.4h3.1M1443.2 460.8v3.1M1443.2 451.4h3.1M1444.8 449.8v3.1M1444.8 443.1h3.1M1446.3 441.5v3.1M1446.4 449.8h3.1M1447.9 448.3v3.1M1448.0 454.3h3.1M1449.5 452.7v3.1M1449.5 447.2h3.1M1451.1 445.6v3.1M1451.1 445.7h3.1M1452.7 444.1v3.1M1452.7 440.6h3.1M1454.3 439.0v3.1M1454.3 445.2h3.1M1455.9 443.6v3.1M1455.9 442.0h3.1M1457.5 440.5v3.1M1457.5 448.8h3.1M1459.0 447.3v3.1M1459.1 449.3h3.1M1460.6 447.8v3.1M1460.7 445.7h3.1M1462.2 444.1v3.1M1462.2 445.0h3.1M1463.8 443.5v3.1M1463.8 446.8h3.1M1465.4 445.3v3.1M1465.4 445.9h3.1M1467.0 444.3v3.1M1467.0 440.6h3.1M1468.6 439.0v3.1M1468.6 450.2h3.1M1470.2 448.7v3.1M1470.2 449.8h3.1M1471.7 448.2v3.1M1471.8 444.7h3.1M1473.3 443.1v3.1M1473.4 448.8h3.1M1474.9 447.2v3.1M1474.9 455.3h3.1M1476.5 453.7v3.1M1476.5 452.8h3.1M1478.1 451.3v3.1M1478.1 445.5h3.1M1479.7 443.9v3.1M1479.7 449.6h3.1M1481.3 448.1v3.1M1481.3 454.8h3.1M1482.9 453.3v3.1M1482.9 455.9h3.1M1484.4 454.3v3.1M1484.5 451.0h3.1M1486.0 449.4v3.1M1486.1 453.4h3.1M1487.6 451.9v3.1M1487.6 440.9h3.1M1489.2 439.3v3.1M1489.2 453.4h3.1M1490.8 451.9v3.1M1490.8 438.7h3.1M1492.4 437.1v3.1M1492.4 447.3h3.1M1494.0 445.7v3.1M1494.0 445.4h3.1M1495.5 443.8v3.1M1495.6 445.9h3.1M1497.1 444.4v3.1M1497.2 441.0h3.1M1498.7 439.4v3.1M1498.7 449.0h3.1M1500.3 447.4v3.1M1500.3 437.6h3.1M1501.9 436.0v3.1M1501.9 442.2h3.1M1503.5 440.7v3.1M1503.5 448.7h3.1M1505.1 447.1v3.1M1505.1 448.9h3.1M1506.7 447.3v3.1M1506.7 440.1h3.1M1508.2 438.5v3.1M1508.3 450.0h3.1M1509.8 448.4v3.1M1509.9 443.9h3.1M1511.4 442.3v3.1M1511.4 448.8h3.1M1513.0 447.2v3.1M1513.0 440.7h3.1M1514.6 439.2v3.1M1514.6 450.5h3.1M1516.2 448.9v3.1M1516.2 446.1h3.1M1517.8 444.6v3.1M1517.8 443.1h3.1M1519.4 441.6v3.1M1519.4 449.5h3.1M1520.9 447.9v3.1M1521.0 448.4h3.1M1522.5 446.9v3.1M1522.6 449.6h3.1M1524.1 448.0v3.1M1524.1 450.8h3.1M1525.7 449.2v3.1M1525.7 446.0h3.1M1527.3 444.4v3.1M1527.3 447.7h3.1M1528.9 446.2v3.1M1528.9 440.6h3.1M1530.5 439.0v3.1M1530.5 448.3h3.1M1532.1 446.7v3.1M1532.1 449.2h3.1M1533.6 447.7v3.1M1533.7 447.8h3.1M1535.2 446.2v3.1M1535.3 454.0h3.1M1536.8 452.4v3.1M1536.8 457.7h3.1M1538.4 456.1v3.1M1538.4 443.8h3.1M1540.0 442.3v3.1M1540.0 437.0h3.1M1541.6 435.4v3.1M1541.6 453.4h3.1M1543.2 451.9v3.1M1543.2 448.9h3.1M1544.7 447.3v3.1M1544.8 450.2h3.1M1546.3 448.7v3.1M1546.4 450.2h3.1M1547.9 448.7v3.1M1548.0 453.8h3.1M1549.5 452.2v3.1M1549.5 435.0h3.1M1551.1 433.4v3.1M1551.1 449.7h3.1M1552.7 448.1v3.1M1552.7 447.4h3.1M1554.3 445.8v3.1M1554.3 456.2h3.1M1555.9 454.6v3.1M1555.9 450.6h3.1M1557.4 449.0v3.1M1557.5 448.4h3.1M1559.0 446.9v3.1M1559.1 444.4h3.1M1560.6 442.9v3.1M1560.6 447.2h3.1M1562.2 445.7v3.1M1562.2 458.4h3.1M1563.8 456.9v3.1M1563.8 450.3h3.1M1565.4 448.7v3.1M1565.4 457.1h3.1M1567.0 455.6v3.1M1567.0 447.5h3.1M1568.6 445.9v3.1M1568.6 445.0h3.1M1570.1 443.5v3.1M1570.2 457.9h3.1M1571.7 456.3v3.1M1571.8 444.7h3.1M1573.3 443.1v3.1M1573.3 449.9h3.1M1574.9 448.3v3.1M1574.9 441.2h3.1M1576.5 439.6v3.1M1576.5 454.8h3.1M1578.1 453.2v3.1M1578.1 454.6h3.1M1579.7 453.1v3.1M1579.7 446.2h3.1M1581.3 444.7v3.1M1581.3 459.7h3.1M1582.8 458.1v3.1M1582.9 447.5h3.1M1584.4 445.9v3.1M1584.5 453.4h3.1M1586.0 451.8v3.1M1586.0 452.3h3.1M1587.6 450.7v3.1M1587.6 442.7h3.1M1589.2 441.1v3.1M1589.2 451.0h3.1M1590.8 449.5v3.1M1590.8 461.3h3.1M1592.4 459.8v3.1M1592.4 452.1h3.1M1594.0 450.6v3.1M1594.0 444.3h3.1M1595.5 442.8v3.1M1595.6 445.7h3.1M1597.1 444.2v3.1M1597.2 449.3h3.1M1598.7 447.7v3.1M1598.7 447.4h3.1M1600.3 445.9v3.1M1600.3 450.3h3.1M1601.9 448.7v3.1M1601.9 447.8h3.1M1603.5 446.2v3.1M1603.5 452.3h3.1M1605.1 450.7v3.1M1605.1 449.2h3.1M1606.6 447.6v3.1M1606.7 448.2h3.1M1608.2 446.7v3.1M1608.3 446.6h3.1M1609.8 445.0v3.1M1609.9 449.4h3.1M1611.4 447.8v3.1M1611.4 449.6h3.1M1613.0 448.1v3.1M1613.0 450.4h3.1M1614.6 448.8v3.1M1614.6 444.8h3.1M1616.2 443.2v3.1M1616.2 444.1h3.1M1617.8 442.6v3.1M1617.8 455.1h3.1M1619.3 453.6v3.1M1619.4 435.9h3.1M1620.9 434.4v3.1M1621.0 448.5h3.1M1622.5 446.9v3.1M1622.5 455.7h3.1M1624.1 454.1v3.1M1624.1 440.3h3.1M1625.7 438.8v3.1M1625.7 448.6h3.1M1627.3 447.0v3.1M1627.3 441.2h3.1M1628.9 439.6v3.1M1628.9 447.3h3.1M1630.5 445.7v3.1M1630.5 445.5h3.1M1632.0 443.9v3.1M1632.1 443.6h3.1M1633.6 442.0v3.1M1633.7 437.0h3.1M1635.2 435.5v3.1M1635.2 445.8h3.1M1636.8 444.2v3.1M1636.8 447.1h3.1M1638.4 445.6v3.1M1638.4 451.7h3.1M1640.0 450.2v3.1M1640.0 444.6h3.1M1641.6 443.1v3.1M1641.6 438.8h3.1M1643.2 437.3v3.1M1643.2 452.3h3.1M1644.7 450.8v3.1M1644.8 447.7h3.1M1646.3 446.1v3.1M1646.4 447.6h3.1M1647.9 446.0v3.1M1647.9 441.9h3.1M1649.5 440.3v3.1M1649.5 444.9h3.1M1651.1 443.3v3.1M1651.1 444.3h3.1M1652.7 442.7v3.1M1652.7 449.6h3.1M1654.3 448.0v3.1M1654.3 453.9h3.1M1655.9 452.4v3.1M1655.9 440.0h3.1M1657.4 438.4v3.1M1657.5 447.7h3.1M1659.0 446.2v3.1M1659.1 447.4h3.1M1660.6 445.8v3.1M1660.6 446.0h3.1M1662.2 444.4v3.1M1662.2 449.1h3.1M1663.8 447.5v3.1M1663.8 431.6h3.1M1665.4 430.1v3.1M1665.4 451.2h3.1M1667.0 449.6v3.1M1667.0 435.4h3.1M1668.5 433.8v3.1M1668.6 449.5h3.1M1670.1 447.9v3.1M1670.2 456.9h3.1M1671.7 455.4v3.1M1671.8 448.4h3.1M1673.3 446.9v3.1M1673.3 456.1h3.1M1674.9 454.5v3.1M1674.9 452.9h3.1M1676.5 451.3v3.1M1676.5 451.8h3.1M1678.1 450.3v3.1M1678.1 451.2h3.1M1679.7 449.7v3.1M1679.7 446.0h3.1M1681.2 444.4v3.1M1681.3 451.4h3.1M1682.8 449.8v3.1M1682.9 450.2h3.1M1684.4 448.7v3.1M1684.4 438.0h3.1M1686.0 436.4v3.1M1686.0 442.5h3.1M1687.6 440.9v3.1M1687.6 438.3h3.1M1689.2 436.8v3.1M1689.2 451.5h3.1M1690.8 450.0v3.1M1690.8 448.1h3.1M1692.4 446.5v3.1M1692.4 453.5h3.1M1693.9 451.9v3.1M1694.0 445.9h3.1M1695.5 444.3v3.1M1695.6 442.9h3.1M1697.1 441.4v3.1M1697.1 442.5h3.1M1698.7 441.0v3.1M1698.7 442.3h3.1M1700.3 440.7v3.1M1700.3 435.0h3.1M1701.9 433.4v3.1M1701.9 442.9h3.1M1703.5 441.4v3.1M1703.5 447.3h3.1M1705.1 445.7v3.1M1705.1 447.5h3.1M1706.6 445.9v3.1M1706.7 434.9h3.1M1708.2 433.4v3.1M1708.3 433.7h3.1M1709.8 432.1v3.1M1709.8 448.2h3.1M1711.4 446.6v3.1M1711.4 430.0h3.1M1713.0 428.5v3.1M1713.0 428.4h3.1M1714.6 426.9v3.1M1714.6 431.2h3.1M1716.2 429.6v3.1M1716.2 438.1h3.1M1717.8 436.5v3.1M1717.8 444.7h3.1M1719.3 443.1v3.1M1719.4 435.3h3.1M1720.9 433.8v3.1M1721.0 442.4h3.1M1722.5 440.9v3.1M1722.5 443.5h3.1M1724.1 442.0v3.1M1724.1 447.4h3.1M1725.7 445.9v3.1M1725.7 441.1h3.1M1727.3 439.5v3.1M1727.3 434.8h3.1M1728.9 433.3v3.1M1728.9 443.2h3.1M1730.4 441.6v3.1M1730.5 434.0h3.1M1732.0 432.4v3.1M1732.1 439.7h3.1M1733.6 438.1v3.1M1733.6 447.5h3.1M1735.2 445.9v3.1M1735.2 445.7h3.1M1736.8 444.2v3.1M1736.8 448.5h3.1M1738.4 446.9v3.1M1738.4 441.4h3.1M1740.0 439.9v3.1M1740.0 445.8h3.1M1741.6 444.2v3.1M1741.6 447.3h3.1M1743.1 445.7v3.1M1743.2 437.7h3.1M1744.7 436.1v3.1M1744.8 446.2h3.1M1746.3 444.6v3.1M1746.3 434.1h3.1M1747.9 432.5v3.1M1747.9 440.6h3.1M1749.5 439.1v3.1M1749.5 447.0h3.1M1751.1 445.5v3.1M1751.1 440.2h3.1M1752.7 438.6v3.1M1752.7 437.5h3.1M1754.3 436.0v3.1M1754.3 439.0h3.1M1755.8 437.4v3.1M1755.9 425.6h3.1M1757.4 424.0v3.1M1757.5 429.5h3.1M1759.0 428.0v3.1M1759.0 436.9h3.1M1760.6 435.3v3.1M1760.6 442.3h3.1M1762.2 440.7v3.1M1762.2 436.5h3.1M1763.8 435.0v3.1M1763.8 441.6h3.1M1765.4 440.1v3.1M1765.4 426.6h3.1M1767.0 425.1v3.1M1767.0 438.4h3.1M1768.5 436.9v3.1M1768.6 440.1h3.1M1770.1 438.5v3.1M1770.2 434.6h3.1M1771.7 433.1v3.1M1771.7 438.4h3.1M1773.3 436.8v3.1M1773.3 433.6h3.1M1774.9 432.0v3.1M1774.9 436.0h3.1M1776.5 434.5v3.1M1776.5 432.7h3.1M1778.1 431.1v3.1M1778.1 434.9h3.1M1779.7 433.3v3.1M1779.7 442.4h3.1M1781.2 440.9v3.1M1781.3 443.3h3.1M1782.8 441.7v3.1M1782.9 435.3h3.1M1784.4 433.7v3.1M1784.4 437.1h3.1M1786.0 435.5v3.1M1786.0 422.1h3.1M1787.6 420.5v3.1M1787.6 442.2h3.1M1789.2 440.7v3.1M1789.2 440.9h3.1M1790.8 439.4v3.1M1790.8 430.1h3.1M1792.3 428.5v3.1M1792.4 439.2h3.1M1793.9 437.7v3.1M1794.0 434.0h3.1M1795.5 432.4v3.1M1795.5 429.0h3.1M1797.1 427.4v3.1M1797.1 429.1h3.1M1798.7 427.6v3.1M1798.7 439.3h3.1M1800.3 437.7v3.1M1800.3 433.8h3.1M1801.9 432.3v3.1M1801.9 432.7h3.1M1803.5 431.1v3.1M1803.5 429.3h3.1M1805.0 427.8v3.1M1805.1 427.8h3.1M1806.6 426.3v3.1M1806.7 430.8h3.1M1808.2 429.3v3.1M1808.2 438.3h3.1M1809.8 436.7v3.1M1809.8 434.6h3.1M1811.4 433.0v3.1M1811.4 433.0h3.1M1813.0 431.4v3.1M1813.0 435.5h3.1M1814.6 434.0v3.1M1814.6 433.3h3.1M1816.2 431.8v3.1M1816.2 430.2h3.1M1817.7 428.7v3.1M1817.8 429.3h3.1M1819.3 427.7v3.1M1819.4 435.6h3.1M1820.9 434.0v3.1M1820.9 425.3h3.1M1822.5 423.7v3.1M1822.5 428.8h3.1M1824.1 427.2v3.1M1824.1 430.2h3.1M1825.7 428.6v3.1M1825.7 431.3h3.1M1827.3 429.7v3.1M1827.3 436.6h3.1M1828.9 435.0v3.1M1828.9 436.0h3.1M1830.4 434.4v3.1M1830.5 431.3h3.1M1832.0 429.7v3.1M1832.1 433.1h3.1M1833.6 431.5v3.1M1833.6 431.8h3.1M1835.2 430.2v3.1M1835.2 434.8h3.1M1836.8 433.2v3.1M1836.8 432.4h3.1M1838.4 430.8v3.1M1838.4 431.3h3.1M1840.0 429.8v3.1M1840.0 429.9h3.1M1841.6 428.3v3.1M1841.6 432.4h3.1M1843.1 430.8v3.1M1843.2 431.7h3.1M1844.7 430.1v3.1M1844.8 433.0h3.1M1846.3 431.5v3.1M1846.3 434.5h3.1M1847.9 432.9v3.1M1847.9 429.2h3.1M1849.5 427.7v3.1M1849.5 432.7h3.1M1851.1 431.1v3.1M1851.1 435.6h3.1M1852.7 434.0v3.1M1852.7 434.5h3.1M1854.2 433.0v3.1M1854.3 432.1h3.1M1855.8 430.5v3.1M1855.9 441.2h3.1M1857.4 439.7v3.1M1857.4 430.2h3.1M1859.0 428.7v3.1M1859.0 431.4h3.1M1860.6 429.9v3.1M1860.6 433.1h3.1M1862.2 431.6v3.1M1862.2 433.9h3.1M1863.8 432.3v3.1M1863.8 430.8h3.1M1865.4 429.2v3.1M1865.4 434.1h3.1M1866.9 432.5v3.1M1867.0 429.7h3.1M1868.5 428.1v3.1M1868.6 430.3h3.1M1870.1 428.7v3.1M1870.1 431.1h3.1M1871.7 429.5v3.1M1871.7 424.5h3.1M1873.3 422.9v3.1M1873.3 427.3h3.1M1874.9 425.7v3.1M1874.9 421.9h3.1M1876.5 420.4v3.1M1876.5 426.6h3.1M1878.1 425.0v3.1M1878.1 423.6h3.1M1879.6 422.1v3.1M1879.7 422.1h3.1M1881.2 420.6v3.1M1881.3 427.1h3.1M1882.8 425.6v3.1M1882.8 425.3h3.1M1884.4 423.8v3.1M1884.4 424.6h3.1M1886.0 423.0v3.1M1886.0 419.5h3.1M1887.6 417.9v3.1M1887.6 427.4h3.1M1889.2 425.8v3.1M1889.2 423.8h3.1M1890.8 422.2v3.1M1890.8 422.5h3.1M1892.3 420.9v3.1M1892.4 424.7h3.1M1893.9 423.1v3.1M1894.0 423.5h3.1M1895.5 421.9v3.1M1895.5 422.7h3.1M1897.1 421.1v3.1M1897.1 425.3h3.1M1898.7 423.7v3.1M1898.7 424.4h3.1M1900.3 422.8v3.1M1900.3 421.6h3.1M1901.9 420.1v3.1M1901.9 417.4h3.1M1903.4 415.9v3.1M1903.5 417.7h3.1M1905.0 416.2v3.1M1905.1 425.0h3.1M1906.6 423.4v3.1M1906.7 418.1h3.1M1908.2 416.6v3.1M1908.2 420.5h3.1M1909.8 418.9v3.1M1909.8 419.4h3.1M1911.4 417.9v3.1M1911.4 419.2h3.1M1913.0 417.6v3.1M1913.0 417.5h3.1M1914.6 415.9v3.1M1914.6 417.5h3.1M1916.1 415.9v3.1M1916.2 417.7h3.1M1917.7 416.2v3.1M1917.8 420.1h3.1M1919.3 418.6v3.1M1919.3 423.4h3.1M1920.9 421.9v3.1M1920.9 420.1h3.1M1922.5 418.5v3.1M1922.5 422.5h3.1M1924.1 421.0v3.1M1924.1 422.7h3.1M1925.7 421.1v3.1M1925.7 425.6h3.1M1927.3 424.0v3.1M1927.3 422.8h3.1M1928.8 421.2v3.1M1928.9 425.6h3.1M1930.4 424.1v3.1M1930.5 424.5h3.1M1932.0 422.9v3.1M1932.0 431.6h3.1M1933.6 430.1v3.1M1933.6 426.8h3.1M1935.2 425.3v3.1M1935.2 426.0h3.1M1936.8 424.5v3.1M1936.8 427.7h3.1M1938.4 426.2v3.1M1938.4 422.8h3.1M1940.0 421.2v3.1M1940.0 420.7h3.1M1941.5 419.1v3.1M1941.6 424.5h3.1M1943.1 423.0v3.1M1943.2 423.4h3.1M1944.7 421.8v3.1M1944.7 422.8h3.1M1946.3 421.2v3.1M1946.3 424.1h3.1M1947.9 422.5v3.1M1947.9 424.9h3.1M1949.5 423.4v3.1M1949.5 427.1h3.1M1951.1 425.5v3.1M1951.1 422.8h3.1M1952.7 421.2v3.1M1952.7 422.4h3.1M1954.2 420.8v3.1M1954.3 431.6h3.1M1955.8 430.0v3.1M1955.9 426.5h3.1M1957.4 424.9v3.1M1957.4 422.3h3.1M1959.0 420.7v3.1M1959.0 421.7h3.1M1960.6 420.1v3.1M1960.6 422.3h3.1M1962.2 420.8v3.1M1962.2 422.2h3.1M1963.8 420.6v3.1M1963.8 424.1h3.1M1965.3 422.5v3.1M1965.4 417.9h3.1M1966.9 416.3v3.1M1967.0 428.2h3.1M1968.5 426.6v3.1M1968.6 421.9h3.1M1970.1 420.3v3.1M1970.1 424.9h3.1M1971.7 423.4v3.1M1971.7 422.6h3.1M1973.3 421.1v3.1M1973.3 419.5h3.1M1974.9 417.9v3.1M1974.9 426.0h3.1M1976.5 424.5v3.1M1976.5 423.5h3.1M1978.0 422.0v3.1M1978.1 414.7h3.1M1979.6 413.2v3.1M1979.7 419.4h3.1M1981.2 417.8v3.1M1981.2 420.9h3.1M1982.8 419.4v3.1M1982.8 419.9h3.1M1984.4 418.3v3.1M1984.4 423.4h3.1M1986.0 421.8v3.1M1986.0 419.6h3.1M1987.6 418.1v3.1M1987.6 419.2h3.1M1989.2 417.6v3.1M1989.2 421.6h3.1M1990.7 420.1v3.1M1990.8 424.8h3.1M1992.3 423.3v3.1M1992.4 425.4h3.1M1993.9 423.8v3.1M1993.9 420.6h3.1M1995.5 419.1v3.1M1995.5 421.2h3.1M1997.1 419.7v3.1M1997.1 423.2h3.1M1998.7 421.7v3.1M1998.7 419.8h3.1M2000.3 418.2v3.1M2000.3 422.7h3.1M2001.9 421.2v3.1M2001.9 421.7h3.1M2003.4 420.1v3.1M2003.5 419.5h3.1M2005.0 418.0v3.1M2005.1 427.1h3.1M2006.6 425.5v3.1M2006.6 429.8h3.1M2008.2 428.2v3.1M2008.2 426.5h3.1M2009.8 424.9v3.1M2009.8 425.7h3.1M2011.4 424.2v3.1M2011.4 430.4h3.1M2013.0 428.8v3.1M2013.0 424.6h3.1M2014.6 423.1v3.1M2014.6 424.9h3.1M2016.1 423.4v3.1M2016.2 425.6h3.1M2017.7 424.1v3.1M2017.8 426.5h3.1M2019.3 424.9v3.1M2019.3 425.3h3.1M2020.9 423.7v3.1M2020.9 430.5h3.1M2022.5 429.0v3.1M2022.5 427.6h3.1M2024.1 426.0v3.1M2024.1 424.0h3.1M2025.7 422.4v3.1M2025.7 426.7h3.1M2027.2 425.1v3.1M2027.3 428.4h3.1M2028.8 426.9v3.1M2028.9 428.8h3.1M2030.4 427.2v3.1M2030.5 424.7h3.1M2032.0 423.2v3.1M2032.0 425.7h3.1M2033.6 424.1v3.1M2033.6 428.3h3.1M2035.2 426.8v3.1M2035.2 428.1h3.1M2036.8 426.5v3.1M2036.8 426.5h3.1M2038.4 424.9v3.1M2038.4 423.3h3.1M2039.9 421.7v3.1M2040.0 428.1h3.1M2041.5 426.5v3.1M2041.6 424.0h3.1M2043.1 422.4v3.1M2043.1 422.2h3.1M2044.7 420.7v3.1M2044.7 426.4h3.1M2046.3 424.8v3.1M2046.3 426.4h3.1M2047.9 424.9v3.1M2047.9 426.6h3.1M2049.5 425.1v3.1M2049.5 426.2h3.1M2051.1 424.6v3.1M2051.1 430.3h3.1M2052.6 428.8v3.1M2052.7 423.9h3.1M2054.2 422.4v3.1M2054.3 431.7h3.1M2055.8 430.1v3.1M2055.8 430.4h3.1M2057.4 428.8v3.1M2057.4 423.4h3.1M2059.0 421.9v3.1M2059.0 424.9h3.1M2060.6 423.4v3.1M2060.6 431.3h3.1M2062.2 429.8v3.1M2062.2 428.6h3.1M2063.8 427.1v3.1M2063.8 418.4h3.1M2065.3 416.9v3.1M2065.4 423.0h3.1M2066.9 421.5v3.1M2067.0 419.4h3.1M2068.5 417.8v3.1M2068.5 419.9h3.1M2070.1 418.4v3.1M2070.1 418.0h3.1M2071.7 416.5v3.1M2071.7 420.4h3.1M2073.3 418.8v3.1M2073.3 421.3h3.1M2074.9 419.8v3.1M2074.9 417.4h3.1M2076.5 415.9v3.1M2076.5 420.6h3.1M2078.0 419.1v3.1M2078.1 417.6h3.1M2079.6 416.0v3.1M2079.7 422.5h3.1M2081.2 421.0v3.1M2081.2 419.3h3.1M2082.8 417.8v3.1M2082.8 417.0h3.1M2084.4 415.5v3.1M2084.4 419.1h3.1M2086.0 417.5v3.1M2086.0 421.4h3.1M2087.6 419.9v3.1M2087.6 427.1h3.1M2089.1 425.5v3.1M2089.2 423.5h3.1M2090.7 421.9v3.1M2090.8 418.1h3.1M2092.3 416.6v3.1M2092.3 423.9h3.1M2093.9 422.4v3.1M2093.9 426.8h3.1M2095.5 425.3v3.1M2095.5 422.5h3.1M2097.1 421.0v3.1M2097.1 419.3h3.1M2098.7 417.8v3.1M2098.7 421.1h3.1M2100.3 419.6v3.1M2100.3 428.2h3.1M2101.8 426.7v3.1M2101.9 421.5h3.1M2103.4 419.9v3.1M2103.5 422.4h3.1M2105.0 420.9v3.1M2105.0 422.2h3.1M2106.6 420.7v3.1M2106.6 425.8h3.1M2108.2 424.3v3.1M2108.2 422.5h3.1M2109.8 421.0v3.1M2109.8 423.7h3.1M2111.4 422.1v3.1M2111.4 423.0h3.1M2113.0 421.5v3.1M2113.0 424.5h3.1M2114.5 422.9v3.1M2114.6 423.4h3.1M2116.1 421.9v3.1M2116.2 421.9h3.1M2117.7 420.3v3.1M2117.7 422.3h3.1M2119.3 420.8v3.1M2119.3 422.0h3.1M2120.9 420.4v3.1M2120.9 423.9h3.1M2122.5 422.3v3.1M2122.5 424.1h3.1M2124.1 422.5v3.1M2124.1 424.7h3.1M2125.7 423.2v3.1M2125.7 425.3h3.1M2127.2 423.7v3.1M2127.3 415.8h3.1M2128.8 414.2v3.1M2128.9 423.6h3.1M2130.4 422.0v3.1M2130.4 428.4h3.1M2132.0 426.9v3.1M2132.0 428.2h3.1M2133.6 426.7v3.1M2133.6 428.8h3.1M2135.2 427.2v3.1M2135.2 423.4h3.1M2136.8 421.8v3.1M2136.8 421.2h3.1M2138.4 419.6v3.1M2138.4 424.0h3.1M2139.9 422.5v3.1M2140.0 426.8h3.1M2141.5 425.3v3.1M2141.6 419.9h3.1M2143.1 418.3v3.1M2143.1 423.7h3.1M2144.7 422.1v3.1M2144.7 424.7h3.1M2146.3 423.2v3.1M2146.3 424.3h3.1M2147.9 422.8v3.1M2147.9 422.2h3.1M2149.5 420.6v3.1M2149.5 431.5h3.1M2151.0 429.9v3.1M2151.1 423.7h3.1M2152.6 422.2v3.1M2152.7 423.1h3.1M2154.2 421.6v3.1M2154.2 425.3h3.1M2155.8 423.7v3.1M2155.8 422.7h3.1M2157.4 421.1v3.1M2157.4 422.8h3.1M2159.0 421.2v3.1M2159.0 423.3h3.1M2160.6 421.8v3.1M2160.6 420.0h3.1M2162.2 418.4v3.1M2162.2 426.1h3.1M2163.7 424.5v3.1M2163.8 417.4h3.1M2165.3 415.8v3.1M2165.4 424.2h3.1M2166.9 422.7v3.1M2166.9 424.2h3.1M2168.5 422.6v3.1M2168.5 420.9h3.1M2170.1 419.4v3.1M2170.1 421.7h3.1M2171.7 420.1v3.1M2171.7 419.1h3.1M2173.3 417.5v3.1M2173.3 420.6h3.1M2174.9 419.0v3.1M2174.9 425.0h3.1M2176.4 423.4v3.1M2176.5 421.9h3.1M2178.0 420.4v3.1M2178.1 424.1h3.1M2179.6 422.5v3.1M2179.6 421.1h3.1M2181.2 419.5v3.1M2181.2 423.0h3.1M2182.8 421.5v3.1M2182.8 424.4h3.1M2184.4 422.8v3.1M2184.4 418.4h3.1M2186.0 416.8v3.1M2186.0 419.7h3.1M2187.6 418.1v3.1M2187.6 421.4h3.1M2189.1 419.8v3.1M2189.2 423.8h3.1M2190.7 422.2v3.1M2190.8 426.2h3.1M2192.3 424.7v3.1M2192.3 426.6h3.1M2193.9 425.0v3.1M2193.9 426.9h3.1M2195.5 425.3v3.1M2195.5 427.9h3.1M2197.1 426.3v3.1M2197.1 426.2h3.1M2198.7 424.6v3.1M2198.7 423.8h3.1M2200.2 422.3v3.1M2200.3 425.2h3.1M2201.8 423.7v3.1M2201.9 423.2h3.1M2203.4 421.7v3.1M2203.5 428.7h3.1M2205.0 427.2v3.1M2205.0 430.0h3.1M2206.6 428.4v3.1M2206.6 425.7h3.1M2208.2 424.1v3.1M2208.2 421.2h3.1M2209.8 419.7v3.1M2209.8 426.5h3.1M2211.4 425.0v3.1M2211.4 425.5h3.1M2212.9 423.9v3.1M2213.0 425.2h3.1M2214.5 423.7v3.1M2214.6 420.8h3.1M2216.1 419.3v3.1M2216.1 421.4h3.1M2217.7 419.8v3.1M2217.7 422.3h3.1M2219.3 420.7v3.1M2219.3 424.2h3.1M2220.9 422.6v3.1M2220.9 423.2h3.1M2222.5 421.6v3.1M2222.5 420.9h3.1M2224.1 419.4v3.1M2224.1 416.0h3.1M2225.6 414.4v3.1M2225.7 422.6h3.1M2227.2 421.1v3.1M2227.3 422.4h3.1M2228.8 420.8v3.1M2228.8 423.3h3.1M2230.4 421.8v3.1M2230.4 423.6h3.1M2232.0 422.1v3.1M2232.0 423.2h3.1M2233.6 421.7v3.1M2233.6 421.8h3.1M2235.2 420.2v3.1M2235.2 420.8h3.1M2236.8 419.3v3.1M2236.8 420.5h3.1M2238.3 418.9v3.1M2238.4 418.6h3.1M2239.9 417.1v3.1M2240.0 422.3h3.1M2241.5 420.7v3.1M2241.5 421.3h3.1M2243.1 419.7v3.1M2243.1 427.5h3.1M2244.7 425.9v3.1M2244.7 423.6h3.1M2246.3 422.1v3.1M2246.3 422.7h3.1M2247.9 421.1v3.1M2247.9 421.9h3.1M2249.5 420.4v3.1M2249.5 421.6h3.1M2251.0 420.0v3.1M2251.1 421.4h3.1M2252.6 419.9v3.1M2252.7 421.0h3.1M2254.2 419.4v3.1M2254.2 422.0h3.1M2255.8 420.5v3.1M2255.8 421.4h3.1M2257.4 419.8v3.1M2257.4 421.9h3.1M2259.0 420.3v3.1M2259.0 416.9h3.1M2260.6 415.3v3.1M2260.6 417.7h3.1M2262.1 416.1v3.1M2262.2 416.1h3.1M2263.7 414.6v3.1M2263.8 417.0h3.1M2265.3 415.4v3.1M2265.4 419.0h3.1M2266.9 417.5v3.1M2266.9 421.5h3.1M2268.5 419.9v3.1M2268.5 416.1h3.1M2270.1 414.5v3.1M2270.1 416.3h3.1M2271.7 414.8v3.1M2271.7 416.4h3.1M2273.3 414.8v3.1M2273.3 416.9h3.1M2274.8 415.3v3.1M2274.9 416.3h3.1M2276.4 414.7v3.1M2276.5 412.3h3.1M2278.0 410.7v3.1M2278.0 418.8h3.1M2279.6 417.3v3.1M2279.6 417.5h3.1M2281.2 416.0v3.1M2281.2 413.2h3.1M2282.8 411.6v3.1M2282.8 416.1h3.1M2284.4 414.5v3.1M2284.4 417.8h3.1M2286.0 416.3v3.1M2286.0 420.2h3.1M2287.5 418.7v3.1M2287.6 418.3h3.1M2289.1 416.7v3.1M2289.2 420.5h3.1M2290.7 419.0v3.1M2290.7 418.8h3.1M2292.3 417.2v3.1M2292.3 418.9h3.1M2293.9 417.3v3.1M2293.9 417.4h3.1M2295.5 415.8v3.1M2295.5 422.2h3.1M2297.1 420.6v3.1M2071.4 221.4h3.1M2073.0 219.8v3.1M1901.8 334.4h3.1M1903.4 332.8v3.1M1957.9 367.4h3.1M1959.5 365.8v3.1M2136.8 355.4h3.1M2138.4 353.8v3.1M2138.8 336.4h3.1M2140.4 334.8v3.1M882.9 356.5h3.1M884.5 354.9v3.1M928.9 364.8h3.1M930.5 363.2v3.1M912.4 378.5h3.1M914.0 376.9v3.1M1020.4 378.5h3.1M1022.0 376.9v3.1M1019.9 383.5h3.1M1021.5 381.9v3.1M1371.8 263.4h3.1M1373.4 261.8v3.1M1417.8 276.5h3.1M1419.4 274.9v3.1M1249.8 338.5h3.1M1251.4 336.9v3.1M1442.8 345.4h3.1M1444.4 343.8v3.1M1214.8 358.4h3.1M1216.4 356.8v3.1M1274.8 358.4h3.1M1276.4 356.8v3.1M1311.9 356.4h3.1M1313.5 354.8v3.1M1361.9 378.5h3.1M1363.5 376.9v3.1M1301.9 378.5h3.1M1303.5 376.9v3.1M1219.9 381.5h3.1M1221.5 379.9v3.1M1192.9 393.4h3.1M1194.5 391.8v3.1M1444.8 366.4h3.1M1446.4 364.8v3.1M1446.8 385.4h3.1M1448.4 383.8v3.1M1458.4 373.4h3.1M1460.0 371.8v3.1M1461.9 374.4h3.1M1463.5 372.8v3.1M1422.8 388.4h3.1M1424.4 386.8v3.1M1543.8 392.4h3.1M1545.4 390.8v3.1M1544.9 392.4h3.1M1546.5 390.8v3.1M1627.8 341.5h3.1M1629.4 339.9v3.1M1646.7 375.4h3.1M1648.3 373.8v3.1M1719.9 391.4h3.1M1721.5 389.8v3.1M73.9 376.0h3.1M75.5 374.4v3.1M74.9 377.0h3.1M76.5 375.4v3.1M419.7 383.3h3.1M421.3 381.7v3.1M576.7 364.3h3.1M578.3 362.7v3.1M574.7 374.3h3.1M576.3 372.7v3.1M565.4 382.3h3.1M567.0 380.7v3.1" stroke="#ff00ff" stroke-width="0.95" fill="none"/>
<path d="M59.2 388.0h3.1M60.7 386.5v3.1M60.8 390.6h3.1M62.3 389.0v3.1M62.4 390.4h3.1M63.9 388.8v3.1M64.0 393.1h3.1M65.5 391.6v3.1M65.5 390.4h3.1M67.1 388.8v3.1M67.1 394.5h3.1M68.7 393.0v3.1M68.7 395.6h3.1M70.3 394.1v3.1M70.3 388.6h3.1M71.9 387.0v3.1M71.9 395.6h3.1M73.4 394.1v3.1M73.5 392.8h3.1M75.0 391.2v3.1M75.1 392.3h3.1M76.6 390.8v3.1M76.6 391.7h3.1M78.2 390.2v3.1M78.2 394.6h3.1M79.8 393.0v3.1M79.8 393.6h3.1M81.4 392.1v3.1M81.4 395.3h3.1M83.0 393.7v3.1M83.0 402.8h3.1M84.6 401.2v3.1M84.6 399.8h3.1M86.1 398.2v3.1M86.2 396.9h3.1M87.7 395.3v3.1M87.8 399.2h3.1M89.3 397.7v3.1M89.3 395.7h3.1M90.9 394.1v3.1M90.9 399.1h3.1M92.5 397.5v3.1M92.5 398.6h3.1M94.1 397.1v3.1M94.1 399.3h3.1M95.7 397.7v3.1M95.7 400.1h3.1M97.3 398.6v3.1M97.3 395.0h3.1M98.8 393.5v3.1M98.9 399.0h3.1M100.4 397.4v3.1M100.5 396.2h3.1M102.0 394.7v3.1M102.0 400.2h3.1M103.6 398.6v3.1M103.6 398.6h3.1M105.2 397.1v3.1M105.2 396.0h3.1M106.8 394.4v3.1M106.8 400.1h3.1M108.4 398.5v3.1M108.4 396.4h3.1M110.0 394.9v3.1M110.0 403.2h3.1M111.5 401.6v3.1M111.6 395.7h3.1M113.1 394.1v3.1M113.2 400.4h3.1M114.7 398.9v3.1M114.7 398.6h3.1M116.3 397.0v3.1M116.3 404.3h3.1M117.9 402.7v3.1M117.9 398.5h3.1M119.5 396.9v3.1M119.5 394.0h3.1M121.1 392.5v3.1M121.1 397.7h3.1M122.6 396.2v3.1M122.7 402.4h3.1M124.2 400.8v3.1M124.3 399.7h3.1M125.8 398.1v3.1M125.9 399.0h3.1M127.4 397.4v3.1M127.4 396.0h3.1M129.0 394.4v3.1M129.0 401.0h3.1M130.6 399.4v3.1M130.6 399.3h3.1M132.2 397.7v3.1M132.2 394.4h3.1M133.8 392.8v3.1M133.8 403.3h3.1M135.3 401.7v3.1M135.4 399.7h3.1M136.9 398.2v3.1M137.0 395.8h3.1M138.5 394.3v3.1M138.5 395.8h3.1M140.1 394.2v3.1M140.1 400.8h3.1M141.7 399.3v3.1M141.7 400.5h3.1M143.3 398.9v3.1M143.3 401.2h3.1M144.9 399.6v3.1M144.9 401.4h3.1M146.5 399.8v3.1M146.5 401.4h3.1M148.0 399.9v3.1M148.1 401.8h3.1M149.6 400.3v3.1M149.7 401.2h3.1M151.2 399.6v3.1M151.2 399.8h3.1M152.8 398.2v3.1M152.8 405.1h3.1M154.4 403.6v3.1M154.4 398.5h3.1M156.0 397.0v3.1M156.0 404.7h3.1M157.6 403.2v3.1M157.6 401.9h3.1M159.2 400.3v3.1M159.2 399.3h3.1M160.7 397.7v3.1M160.8 404.1h3.1M162.3 402.6v3.1M162.4 401.3h3.1M163.9 399.7v3.1M163.9 399.9h3.1M165.5 398.4v3.1M165.5 403.6h3.1M167.1 402.0v3.1M167.1 399.0h3.1M168.7 397.4v3.1M168.7 397.7h3.1M170.3 396.2v3.1M170.3 402.2h3.1M171.9 400.7v3.1M171.9 399.6h3.1M173.4 398.1v3.1M173.5 399.6h3.1M175.0 398.0v3.1M175.1 397.0h3.1M176.6 395.4v3.1M176.6 397.2h3.1M178.2 395.6v3.1M178.2 398.2h3.1M179.8 396.7v3.1M179.8 402.5h3.1M181.4 400.9v3.1M181.4 396.1h3.1M183.0 394.5v3.1M183.0 402.9h3.1M184.5 401.3v3.1M184.6 395.9h3.1M186.1 394.4v3.1M186.2 398.8h3.1M187.7 397.3v3.1M187.7 400.6h3.1M189.3 399.0v3.1M189.3 399.0h3.1M190.9 397.4v3.1M190.9 395.1h3.1M192.5 393.6v3.1M192.5 400.1h3.1M194.1 398.5v3.1M194.1 396.2h3.1M195.7 394.7v3.1M195.7 399.2h3.1M197.2 397.7v3.1M197.3 393.6h3.1M198.8 392.0v3.1M198.9 399.7h3.1M200.4 398.1v3.1M200.4 393.7h3.1M202.0 392.1v3.1M202.0 391.6h3.1M203.6 390.1v3.1M203.6 392.8h3.1M205.2 391.2v3.1M205.2 393.4h3.1M206.8 391.8v3.1M206.8 388.7h3.1M208.4 387.1v3.1M208.4 392.8h3.1M209.9 391.2v3.1M210.0 391.4h3.1M211.5 389.9v3.1M211.6 392.3h3.1M213.1 390.8v3.1M213.1 390.1h3.1M214.7 388.5v3.1M214.7 387.7h3.1M216.3 386.1v3.1M216.3 392.0h3.1M217.9 390.5v3.1M217.9 392.8h3.1M219.5 391.2v3.1M219.5 401.7h3.1M221.1 400.1v3.1M221.1 393.4h3.1M222.6 391.8v3.1M222.7 389.9h3.1M224.2 388.3v3.1M224.3 393.5h3.1M225.8 391.9v3.1M225.8 398.6h3.1M227.4 397.0v3.1M227.4 397.1h3.1M229.0 395.6v3.1M229.0 400.2h3.1M230.6 398.7v3.1M230.6 394.4h3.1M232.2 392.9v3.1M232.2 402.5h3.1M233.8 401.0v3.1M233.8 397.1h3.1M235.3 395.5v3.1M235.4 401.6h3.1M236.9 400.0v3.1M237.0 401.5h3.1M238.5 399.9v3.1M238.5 397.9h3.1M240.1 396.4v3.1M240.1 401.6h3.1M241.7 400.0v3.1M241.7 398.9h3.1M243.3 397.4v3.1M243.3 399.3h3.1M244.9 397.7v3.1M244.9 396.8h3.1M246.4 395.2v3.1M246.5 399.3h3.1M248.0 397.8v3.1M248.1 398.5h3.1M249.6 396.9v3.1M249.6 396.9h3.1M251.2 395.4v3.1M251.2 396.9h3.1M252.8 395.4v3.1M252.8 402.5h3.1M254.4 401.0v3.1M254.4 399.3h3.1M256.0 397.8v3.1M256.0 396.9h3.1M257.6 395.3v3.1M257.6 395.5h3.1M259.1 393.9v3.1M259.2 399.3h3.1M260.7 397.7v3.1M260.8 395.4h3.1M262.3 393.8v3.1M262.3 393.2h3.1M263.9 391.6v3.1M263.9 398.0h3.1M265.5 396.4v3.1M265.5 394.5h3.1M267.1 392.9v3.1M267.1 396.7h3.1M268.7 395.1v3.1M268.7 396.6h3.1M270.3 395.0v3.1M270.3 397.1h3.1M271.8 395.5v3.1M271.9 390.8h3.1M273.4 389.2v3.1M273.5 398.6h3.1M275.0 397.0v3.1M275.0 401.3h3.1M276.6 399.7v3.1M276.6 400.5h3.1M278.2 399.0v3.1M278.2 402.7h3.1M279.8 401.1v3.1M279.8 398.0h3.1M281.4 396.4v3.1M281.4 398.5h3.1M283.0 397.0v3.1M283.0 395.5h3.1M284.5 393.9v3.1M284.6 396.1h3.1M286.1 394.5v3.1M286.2 397.4h3.1M287.7 395.9v3.1M287.7 397.6h3.1M289.3 396.0v3.1M289.3 399.1h3.1M290.9 397.5v3.1M290.9 393.3h3.1M292.5 391.7v3.1M292.5 397.4h3.1M294.1 395.9v3.1M294.1 398.7h3.1M295.6 397.2v3.1M295.7 397.0h3.1M297.2 395.4v3.1M297.3 396.8h3.1M298.8 395.3v3.1M298.9 397.4h3.1M300.4 395.8v3.1M300.4 390.2h3.1M302.0 388.7v3.1M302.0 395.1h3.1M303.6 393.5v3.1M303.6 392.0h3.1M305.2 390.4v3.1M305.2 395.0h3.1M306.8 393.4v3.1M306.8 396.9h3.1M308.3 395.3v3.1M308.4 395.0h3.1M309.9 393.5v3.1M310.0 390.0h3.1M311.5 388.4v3.1M311.5 391.5h3.1M313.1 390.0v3.1M313.1 390.0h3.1M314.7 388.5v3.1M314.7 395.0h3.1M316.3 393.4v3.1M316.3 396.5h3.1M317.9 395.0v3.1M317.9 400.4h3.1M319.5 398.8v3.1M319.5 398.1h3.1M321.0 396.5v3.1M321.1 394.1h3.1M322.6 392.6v3.1M322.7 398.6h3.1M324.2 397.1v3.1M324.2 396.8h3.1M325.8 395.3v3.1M325.8 398.8h3.1M327.4 397.3v3.1M327.4 403.5h3.1M329.0 402.0v3.1M329.0 399.5h3.1M330.6 397.9v3.1M330.6 396.9h3.1M332.2 395.3v3.1M332.2 399.0h3.1M333.7 397.5v3.1M333.8 400.5h3.1M335.3 399.0v3.1M335.4 401.9h3.1M336.9 400.3v3.1M336.9 400.7h3.1M338.5 399.2v3.1M338.5 405.0h3.1M340.1 403.4v3.1M340.1 406.1h3.1M341.7 404.6v3.1M341.7 404.9h3.1M343.3 403.4v3.1M343.3 404.2h3.1M344.9 402.7v3.1M344.9 402.0h3.1M346.4 400.5v3.1M346.5 400.6h3.1M348.0 399.0v3.1M348.1 401.3h3.1M349.6 399.7v3.1M349.6 402.3h3.1M351.2 400.7v3.1M351.2 403.5h3.1M352.8 402.0v3.1M352.8 401.6h3.1M354.4 400.0v3.1M354.4 399.4h3.1M356.0 397.8v3.1M356.0 403.4h3.1M357.5 401.9v3.1M357.6 401.0h3.1M359.1 399.5v3.1M359.2 399.2h3.1M360.7 397.7v3.1M360.8 399.5h3.1M362.3 398.0v3.1M362.3 398.7h3.1M363.9 397.2v3.1M363.9 402.2h3.1M365.5 400.6v3.1M365.5 401.2h3.1M367.1 399.6v3.1M367.1 398.9h3.1M368.7 397.4v3.1M368.7 404.3h3.1M370.2 402.7v3.1M370.3 406.2h3.1M371.8 404.6v3.1M371.9 395.8h3.1M373.4 394.3v3.1M373.4 399.8h3.1M375.0 398.3v3.1M375.0 407.1h3.1M376.6 405.6v3.1M376.6 401.3h3.1M378.2 399.7v3.1M378.2 401.3h3.1M379.8 399.7v3.1M379.8 396.0h3.1M381.4 394.4v3.1M381.4 402.5h3.1M382.9 400.9v3.1M383.0 406.3h3.1M384.5 404.8v3.1M384.6 401.1h3.1M386.1 399.6v3.1M386.1 405.7h3.1M387.7 404.2v3.1M387.7 403.0h3.1M389.3 401.5v3.1M389.3 397.4h3.1M390.9 395.9v3.1M390.9 402.5h3.1M392.5 400.9v3.1M392.5 402.8h3.1M394.1 401.3v3.1M394.1 401.1h3.1M395.6 399.5v3.1M395.7 409.5h3.1M397.2 407.9v3.1M397.3 404.8h3.1M398.8 403.2v3.1M398.8 400.8h3.1M400.4 399.3v3.1M400.4 402.2h3.1M402.0 400.6v3.1M402.0 405.5h3.1M403.6 403.9v3.1M403.6 399.8h3.1M405.2 398.2v3.1M405.2 395.9h3.1M406.8 394.3v3.1M406.8 400.7h3.1M408.3 399.1v3.1M408.4 402.0h3.1M409.9 400.5v3.1M410.0 395.4h3.1M411.5 393.8v3.1M411.5 402.4h3.1M413.1 400.8v3.1M413.1 398.4h3.1M414.7 396.8v3.1M414.7 392.7h3.1M416.3 391.1v3.1M416.3 395.4h3.1M417.9 393.8v3.1M417.9 396.5h3.1M419.4 394.9v3.1M419.5 394.9h3.1M421.0 393.3v3.1M421.1 399.2h3.1M422.6 397.6v3.1M422.7 397.6h3.1M424.2 396.1v3.1M424.2 400.7h3.1M425.8 399.2v3.1M425.8 399.8h3.1M427.4 398.2v3.1M427.4 400.3h3.1M429.0 398.8v3.1M429.0 405.9h3.1M430.6 404.3v3.1M430.6 395.4h3.1M432.1 393.8v3.1M432.2 402.3h3.1M433.7 400.8v3.1M433.8 394.7h3.1M435.3 393.1v3.1M435.3 399.7h3.1M436.9 398.2v3.1M436.9 402.1h3.1M438.5 400.6v3.1M438.5 394.9h3.1M440.1 393.4v3.1M440.1 394.6h3.1M441.7 393.0v3.1M441.7 396.9h3.1M443.3 395.3v3.1M443.3 399.5h3.1M444.8 398.0v3.1M444.9 396.0h3.1M446.4 394.4v3.1M446.5 392.5h3.1M448.0 390.9v3.1M448.0 394.0h3.1M449.6 392.5v3.1M449.6 396.2h3.1M451.2 394.6v3.1M451.2 397.2h3.1M452.8 395.6v3.1M452.8 396.9h3.1M454.4 395.3v3.1M454.4 399.5h3.1M456.0 398.0v3.1M456.0 398.7h3.1M457.5 397.2v3.1M457.6 397.9h3.1M459.1 396.4v3.1M459.2 399.2h3.1M460.7 397.7v3.1M460.7 394.6h3.1M462.3 393.1v3.1M462.3 396.7h3.1M463.9 395.1v3.1M463.9 402.6h3.1M465.5 401.1v3.1M465.5 397.3h3.1M467.1 395.7v3.1M467.1 397.9h3.1M468.7 396.3v3.1M468.7 399.5h3.1M470.2 398.0v3.1M470.3 396.8h3.1M471.8 395.3v3.1M471.9 393.3h3.1M473.4 391.7v3.1M473.4 393.3h3.1M475.0 391.8v3.1M475.0 391.3h3.1M476.6 389.7v3.1M476.6 387.7h3.1M478.2 386.1v3.1M478.2 390.2h3.1M479.8 388.6v3.1M479.8 390.0h3.1M481.3 388.5v3.1M481.4 391.1h3.1M482.9 389.5v3.1M483.0 387.8h3.1M484.5 386.3v3.1M484.5 388.8h3.1M486.1 387.3v3.1M486.1 386.3h3.1M487.7 384.7v3.1M487.7 386.7h3.1M489.3 385.1v3.1M489.3 386.4h3.1M490.9 384.9v3.1M490.9 389.4h3.1M492.5 387.8v3.1M492.5 386.0h3.1M494.0 384.5v3.1M494.1 393.0h3.1M495.6 391.5v3.1M495.7 392.8h3.1M497.2 391.3v3.1M497.2 391.8h3.1M498.8 390.2v3.1M498.8 390.4h3.1M500.4 388.8v3.1M500.4 395.5h3.1M502.0 393.9v3.1M502.0 392.7h3.1M503.6 391.2v3.1M503.6 392.7h3.1M505.2 391.1v3.1M505.2 390.2h3.1M506.7 388.7v3.1M506.8 399.6h3.1M508.3 398.0v3.1M508.4 399.7h3.1M509.9 398.1v3.1M509.9 394.7h3.1M511.5 393.2v3.1M511.5 392.2h3.1M513.1 390.6v3.1M513.1 397.2h3.1M514.7 395.6v3.1M514.7 396.5h3.1M516.3 394.9v3.1M516.3 396.7h3.1M517.9 395.2v3.1M517.9 397.7h3.1M519.4 396.2v3.1M519.5 393.4h3.1M521.0 391.9v3.1M521.1 392.6h3.1M522.6 391.0v3.1M522.6 393.6h3.1M524.2 392.0v3.1M524.2 391.5h3.1M525.8 390.0v3.1M525.8 385.5h3.1M527.4 384.0v3.1M527.4 394.6h3.1M529.0 393.1v3.1M529.0 395.1h3.1M530.6 393.6v3.1M530.6 393.2h3.1M532.1 391.7v3.1M532.2 391.7h3.1M533.7 390.1v3.1M533.8 392.6h3.1M535.3 391.0v3.1M535.3 389.4h3.1M536.9 387.8v3.1M536.9 392.2h3.1M538.5 390.6v3.1M538.5 393.5h3.1M540.1 391.9v3.1M540.1 389.7h3.1M541.7 388.2v3.1M541.7 392.9h3.1M543.2 391.4v3.1M543.3 389.9h3.1M544.8 388.3v3.1M544.9 390.3h3.1M546.4 388.8v3.1M546.4 391.6h3.1M548.0 390.0v3.1M548.0 394.1h3.1M549.6 392.6v3.1M549.6 391.4h3.1M551.2 389.8v3.1M551.2 390.2h3.1M552.8 388.6v3.1M552.8 386.8h3.1M554.4 385.2v3.1M554.4 391.7h3.1M555.9 390.2v3.1M556.0 393.4h3.1M557.5 391.9v3.1M557.6 385.8h3.1M559.1 384.2v3.1M559.1 393.0h3.1M560.7 391.4v3.1M560.7 389.5h3.1M562.3 387.9v3.1M562.3 391.0h3.1M563.9 389.4v3.1M563.9 393.9h3.1M565.5 392.4v3.1M565.5 387.6h3.1M567.1 386.1v3.1M567.1 389.8h3.1M568.6 388.2v3.1M568.7 391.3h3.1M570.2 389.7v3.1M570.3 387.6h3.1M571.8 386.0v3.1M571.8 386.7h3.1M573.4 385.1v3.1M573.4 387.9h3.1M575.0 386.3v3.1M575.0 392.2h3.1M576.6 390.6v3.1M576.6 385.1h3.1M578.2 383.6v3.1M578.2 387.8h3.1M579.8 386.2v3.1M579.8 385.0h3.1M581.3 383.4v3.1M581.4 386.1h3.1M582.9 384.5v3.1M583.0 387.6h3.1M584.5 386.0v3.1M584.5 384.1h3.1M586.1 382.5v3.1M586.1 387.1h3.1M587.7 385.6v3.1M587.7 381.5h3.1M589.3 379.9v3.1M589.3 387.1h3.1M590.9 385.5v3.1M590.9 384.2h3.1M592.4 382.7v3.1M592.5 385.3h3.1M594.0 383.7v3.1M594.1 383.1h3.1M595.6 381.5v3.1M595.7 386.1h3.1M597.2 384.5v3.1M597.2 389.4h3.1M598.8 387.8v3.1M598.8 381.9h3.1M600.4 380.3v3.1M600.4 382.6h3.1M602.0 381.0v3.1M602.0 382.8h3.1M603.6 381.3v3.1M603.6 383.9h3.1M605.1 382.3v3.1M605.2 384.3h3.1M606.7 382.8v3.1M606.8 386.4h3.1M608.3 384.8v3.1M608.3 385.2h3.1M609.9 383.6v3.1M609.9 388.8h3.1M611.5 387.3v3.1M611.5 386.9h3.1M613.1 385.3v3.1M613.1 386.0h3.1M614.7 384.5v3.1M614.7 387.5h3.1M616.3 386.0v3.1M616.3 389.4h3.1M617.8 387.9v3.1M617.9 389.7h3.1M619.4 388.1v3.1M619.5 387.9h3.1M621.0 386.4v3.1M621.0 391.8h3.1M622.6 390.3v3.1M622.6 390.4h3.1M624.2 388.8v3.1M624.2 395.8h3.1M625.8 394.3v3.1M625.8 398.4h3.1M627.4 396.8v3.1M627.4 394.5h3.1M629.0 392.9v3.1M629.0 390.3h3.1M630.5 388.8v3.1M630.6 397.0h3.1M632.1 395.4v3.1M632.2 396.8h3.1M633.7 395.3v3.1M633.7 390.5h3.1M635.3 388.9v3.1M635.3 392.8h3.1M636.9 391.3v3.1M636.9 392.4h3.1M638.5 390.9v3.1M638.5 393.8h3.1M640.1 392.3v3.1M640.1 394.6h3.1M641.7 393.1v3.1M641.7 394.9h3.1M643.2 393.3v3.1M643.3 390.3h3.1M644.8 388.7v3.1M644.9 393.7h3.1M646.4 392.1v3.1M646.4 389.5h3.1M648.0 388.0v3.1M648.0 396.6h3.1M649.6 395.0v3.1M649.6 394.1h3.1M651.2 392.6v3.1M651.2 393.6h3.1M652.8 392.0v3.1M652.8 395.4h3.1M654.3 393.9v3.1M654.4 393.0h3.1M655.9 391.4v3.1M656.0 397.1h3.1M657.5 395.5v3.1M657.6 390.1h3.1M659.1 388.5v3.1M659.1 399.6h3.1M660.7 398.1v3.1M660.7 397.8h3.1M662.3 396.3v3.1M662.3 393.6h3.1M663.9 392.1v3.1M663.9 397.9h3.1M665.5 396.3v3.1M665.5 399.2h3.1M667.0 397.6v3.1M667.1 397.1h3.1M668.6 395.5v3.1M668.7 396.8h3.1M670.2 395.2v3.1M670.2 400.9h3.1M671.8 399.4v3.1M671.8 405.1h3.1M673.4 403.6v3.1M673.4 400.0h3.1M675.0 398.4v3.1M675.0 394.3h3.1M676.6 392.8v3.1M676.6 399.2h3.1M678.2 397.6v3.1M678.2 403.2h3.1M679.7 401.6v3.1M679.8 399.0h3.1M681.3 397.5v3.1M681.4 401.4h3.1M682.9 399.8v3.1M682.9 400.8h3.1M684.5 399.2v3.1M684.5 396.1h3.1M686.1 394.5v3.1M686.1 399.7h3.1M687.7 398.1v3.1M687.7 397.8h3.1M689.3 396.3v3.1M689.3 394.0h3.1M690.9 392.5v3.1M690.9 398.2h3.1M692.4 396.7v3.1M692.5 398.6h3.1M694.0 397.1v3.1M694.1 397.3h3.1M695.6 395.8v3.1M695.6 397.9h3.1M697.2 396.3v3.1M697.2 395.5h3.1M698.8 394.0v3.1M698.8 399.7h3.1M700.4 398.1v3.1M700.4 395.9h3.1M702.0 394.4v3.1M702.0 397.9h3.1M703.6 396.4v3.1M703.6 397.6h3.1M705.1 396.0v3.1M705.2 396.3h3.1M706.7 394.7v3.1M706.8 394.9h3.1M708.3 393.4v3.1M708.3 397.0h3.1M709.9 395.4v3.1M709.9 398.9h3.1M711.5 397.3v3.1M711.5 392.9h3.1M713.1 391.3v3.1M713.1 396.9h3.1M714.7 395.4v3.1M714.7 396.5h3.1M716.2 395.0v3.1M716.3 399.9h3.1M717.8 398.4v3.1M717.9 400.3h3.1M719.4 398.8v3.1M719.5 397.6h3.1M721.0 396.1v3.1M721.0 393.8h3.1M722.6 392.2v3.1M722.6 402.4h3.1M724.2 400.9v3.1M724.2 402.0h3.1M725.8 400.5v3.1M725.8 402.3h3.1M727.4 400.7v3.1M727.4 402.6h3.1M728.9 401.1v3.1M729.0 403.3h3.1M730.5 401.7v3.1M730.6 399.7h3.1M732.1 398.1v3.1M732.1 398.0h3.1M733.7 396.4v3.1M733.7 398.9h3.1M735.3 397.3v3.1M735.3 398.5h3.1M736.9 397.0v3.1M736.9 397.5h3.1M738.5 395.9v3.1M738.5 400.2h3.1M740.1 398.6v3.1M740.1 404.1h3.1M741.6 402.5v3.1M741.7 403.1h3.1M743.2 401.6v3.1M743.3 402.2h3.1M744.8 400.7v3.1M744.8 410.7h3.1M746.4 409.1v3.1M746.4 410.5h3.1M748.0 409.0v3.1M748.0 406.7h3.1M749.6 405.1v3.1M749.6 406.8h3.1M751.2 405.2v3.1M751.2 406.8h3.1M752.8 405.2v3.1M752.8 410.5h3.1M754.3 408.9v3.1M754.4 407.1h3.1M755.9 405.5v3.1M756.0 414.3h3.1M757.5 412.8v3.1M757.5 406.3h3.1M759.1 404.7v3.1M759.1 406.1h3.1M760.7 404.5v3.1M760.7 411.2h3.1M762.3 409.6v3.1M762.3 407.4h3.1M763.9 405.8v3.1M763.9 410.2h3.1M765.5 408.6v3.1M765.5 411.6h3.1M767.0 410.0v3.1M767.1 407.0h3.1M768.6 405.4v3.1M768.7 412.2h3.1M770.2 410.6v3.1M770.2 408.8h3.1M771.8 407.3v3.1M771.8 410.2h3.1M773.4 408.6v3.1M773.4 406.5h3.1M775.0 404.9v3.1M775.0 406.7h3.1M776.6 405.1v3.1M776.6 411.7h3.1M778.1 410.1v3.1M778.2 404.7h3.1M779.7 403.1v3.1M779.8 407.1h3.1M781.3 405.6v3.1M781.3 407.3h3.1M782.9 405.8v3.1M782.9 409.1h3.1M784.5 407.6v3.1M784.5 406.8h3.1M786.1 405.2v3.1M786.1 412.5h3.1M787.7 410.9v3.1M787.7 412.7h3.1M789.3 411.1v3.1M789.3 410.7h3.1M790.8 409.1v3.1M790.9 411.2h3.1M792.4 409.6v3.1M792.5 406.9h3.1M794.0 405.4v3.1M794.0 407.7h3.1M795.6 406.2v3.1M795.6 411.9h3.1M797.2 410.3v3.1M797.2 405.9h3.1M798.8 404.4v3.1M798.8 409.2h3.1M800.4 407.6v3.1M800.4 407.2h3.1M802.0 405.7v3.1M802.0 410.5h3.1M803.5 409.0v3.1M803.6 410.6h3.1M805.1 409.0v3.1M805.2 409.4h3.1M806.7 407.8v3.1M806.7 417.7h3.1M808.3 416.2v3.1M808.3 415.9h3.1M809.9 414.3v3.1M809.9 412.5h3.1M811.5 411.0v3.1M811.5 421.2h3.1M813.1 419.6v3.1M813.1 414.8h3.1M814.7 413.2v3.1M814.7 413.5h3.1M816.2 412.0v3.1M816.3 411.7h3.1M817.8 410.2v3.1M817.9 419.1h3.1M819.4 417.5v3.1M819.4 422.1h3.1M821.0 420.6v3.1M821.0 412.7h3.1M822.6 411.1v3.1M822.6 420.5h3.1M824.2 418.9v3.1M824.2 412.4h3.1M825.8 410.8v3.1M825.8 404.6h3.1M827.4 403.0v3.1M827.4 408.0h3.1M828.9 406.4v3.1M829.0 416.0h3.1M830.5 414.5v3.1M830.6 410.9h3.1M832.1 409.4v3.1M832.1 408.8h3.1M833.7 407.3v3.1M833.7 411.5h3.1M835.3 409.9v3.1M835.3 412.3h3.1M836.9 410.7v3.1M836.9 399.4h3.1M838.5 397.9v3.1M838.5 406.2h3.1M840.0 404.6v3.1M840.1 411.3h3.1M841.6 409.7v3.1M841.7 412.7h3.1M843.2 411.2v3.1M843.2 409.1h3.1M844.8 407.6v3.1M844.8 415.1h3.1M846.4 413.5v3.1M846.4 411.8h3.1M848.0 410.3v3.1M848.0 410.8h3.1M849.6 409.2v3.1M849.6 410.7h3.1M851.2 409.1v3.1M851.2 416.2h3.1M852.7 414.6v3.1M852.8 418.6h3.1M854.3 417.1v3.1M854.4 421.4h3.1M855.9 419.8v3.1M855.9 405.8h3.1M857.5 404.2v3.1M857.5 411.7h3.1M859.1 410.1v3.1M859.1 407.8h3.1M860.7 406.2v3.1M860.7 411.6h3.1M862.3 410.0v3.1M862.3 408.3h3.1M863.9 406.7v3.1M863.9 414.3h3.1M865.4 412.7v3.1M865.5 410.8h3.1M867.0 409.3v3.1M867.1 412.3h3.1M868.6 410.7v3.1M868.6 396.5h3.1M870.2 395.0v3.1M870.2 419.5h3.1M871.8 417.9v3.1M871.8 416.3h3.1M873.4 414.7v3.1M873.4 408.3h3.1M875.0 406.7v3.1M875.0 407.6h3.1M876.6 406.0v3.1M876.6 406.1h3.1M878.1 404.6v3.1M878.2 392.2h3.1M879.7 390.6v3.1M879.8 407.6h3.1M881.3 406.1v3.1M881.3 390.4h3.1M882.9 388.9v3.1M882.9 396.5h3.1M884.5 394.9v3.1M884.5 401.4h3.1M886.1 399.9v3.1M886.1 401.0h3.1M887.7 399.4v3.1M887.7 394.1h3.1M889.3 392.5v3.1M889.3 389.4h3.1M890.8 387.8v3.1M890.9 390.0h3.1M892.4 388.5v3.1M892.5 389.9h3.1M894.0 388.4v3.1M894.0 395.6h3.1M895.6 394.0v3.1M895.6 391.0h3.1M897.2 389.5v3.1M897.2 388.0h3.1M898.8 386.4v3.1M898.8 394.6h3.1M900.4 393.1v3.1M900.4 408.4h3.1M901.9 406.8v3.1M902.0 398.2h3.1M903.5 396.6v3.1M903.6 398.5h3.1M905.1 396.9v3.1M905.1 400.7h3.1M906.7 399.1v3.1M906.7 416.7h3.1M908.3 415.1v3.1M908.3 404.5h3.1M909.9 402.9v3.1M909.9 399.4h3.1M911.5 397.9v3.1M911.5 405.1h3.1M913.1 403.5v3.1M913.1 397.4h3.1M914.6 395.8v3.1M914.7 419.4h3.1M916.2 417.8v3.1M916.3 409.7h3.1M917.8 408.1v3.1M917.8 419.2h3.1M919.4 417.7v3.1M919.4 401.7h3.1M921.0 400.1v3.1M921.0 406.6h3.1M922.6 405.1v3.1M922.6 417.8h3.1M924.2 416.2v3.1M924.2 419.6h3.1M925.8 418.0v3.1M925.8 413.8h3.1M927.3 412.3v3.1M927.4 406.5h3.1M928.9 404.9v3.1M929.0 417.1h3.1M930.5 415.5v3.1M930.5 422.4h3.1M932.1 420.8v3.1M932.1 411.3h3.1M933.7 409.8v3.1M933.7 419.5h3.1M935.3 418.0v3.1M935.3 427.2h3.1M936.9 425.7v3.1M936.9 412.6h3.1M938.5 411.0v3.1M938.5 424.6h3.1M940.0 423.1v3.1M940.1 430.3h3.1M941.6 428.8v3.1M941.7 418.1h3.1M943.2 416.6v3.1M943.2 423.3h3.1M944.8 421.8v3.1M944.8 421.0h3.1M946.4 419.5v3.1M946.4 414.5h3.1M948.0 412.9v3.1M948.0 421.3h3.1M949.6 419.7v3.1M949.6 414.0h3.1M951.1 412.5v3.1M951.2 416.1h3.1M952.7 414.5v3.1M952.8 413.5h3.1M954.3 411.9v3.1M954.4 422.4h3.1M955.9 420.8v3.1M955.9 425.5h3.1M957.5 423.9v3.1M957.5 416.4h3.1M959.1 414.9v3.1M959.1 400.5h3.1M960.7 398.9v3.1M960.7 408.5h3.1M962.3 406.9v3.1M962.3 415.8h3.1M963.8 414.3v3.1M963.9 420.7h3.1M965.4 419.1v3.1M965.5 413.3h3.1M967.0 411.8v3.1M967.0 416.6h3.1M968.6 415.0v3.1M968.6 412.9h3.1M970.2 411.4v3.1M970.2 410.2h3.1M971.8 408.7v3.1M971.8 412.5h3.1M973.4 410.9v3.1M973.4 403.6h3.1M975.0 402.0v3.1M975.0 408.4h3.1M976.5 406.9v3.1M976.6 396.8h3.1M978.1 395.3v3.1M978.2 412.7h3.1M979.7 411.2v3.1M979.7 414.9h3.1M981.3 413.3v3.1M981.3 408.3h3.1M982.9 406.8v3.1M982.9 413.6h3.1M984.5 412.0v3.1M984.5 405.1h3.1M986.1 403.5v3.1M986.1 412.3h3.1M987.7 410.7v3.1M987.7 415.1h3.1M989.2 413.6v3.1M989.3 419.5h3.1M990.8 417.9v3.1M990.9 420.5h3.1M992.4 418.9v3.1M992.4 406.8h3.1M994.0 405.2v3.1M994.0 409.3h3.1M995.6 407.7v3.1M995.6 409.9h3.1M997.2 408.4v3.1M997.2 418.9h3.1M998.8 417.3v3.1M998.8 399.4h3.1M1000.4 397.9v3.1M1000.4 408.2h3.1M1001.9 406.7v3.1M1002.0 405.2h3.1M1003.5 403.6v3.1M1003.6 420.0h3.1M1005.1 418.5v3.1M1005.1 410.2h3.1M1006.7 408.7v3.1M1006.7 409.4h3.1M1008.3 407.9v3.1M1008.3 394.0h3.1M1009.9 392.4v3.1M1009.9 410.1h3.1M1011.5 408.5v3.1M1011.5 411.1h3.1M1013.0 409.5v3.1M1013.1 428.1h3.1M1014.6 426.6v3.1M1014.7 407.4h3.1M1016.2 405.8v3.1M1016.3 410.5h3.1M1017.8 409.0v3.1M1017.8 416.2h3.1M1019.4 414.7v3.1M1019.4 403.9h3.1M1021.0 402.3v3.1M1021.0 419.6h3.1M1022.6 418.0v3.1M1022.6 414.1h3.1M1024.2 412.6v3.1M1024.2 414.0h3.1M1025.7 412.4v3.1M1025.8 412.1h3.1M1027.3 410.6v3.1M1027.4 413.4h3.1M1028.9 411.8v3.1M1028.9 418.5h3.1M1030.5 416.9v3.1M1030.5 413.7h3.1M1032.1 412.1v3.1M1032.1 415.3h3.1M1033.7 413.7v3.1M1033.7 403.6h3.1M1035.3 402.1v3.1M1035.3 414.7h3.1M1036.9 413.2v3.1M1036.9 416.4h3.1M1038.4 414.9v3.1M1038.5 421.3h3.1M1040.0 419.8v3.1M1040.1 419.8h3.1M1041.6 418.2v3.1M1041.6 422.3h3.1M1043.2 420.7v3.1M1043.2 416.3h3.1M1044.8 414.7v3.1M1044.8 424.7h3.1M1046.4 423.1v3.1M1046.4 413.6h3.1M1048.0 412.0v3.1M1048.0 412.3h3.1M1049.6 410.7v3.1M1049.6 417.8h3.1M1051.1 416.2v3.1M1051.2 423.4h3.1M1052.7 421.9v3.1M1052.8 409.9h3.1M1054.3 408.3v3.1M1054.3 409.1h3.1M1055.9 407.5v3.1M1055.9 425.4h3.1M1057.5 423.9v3.1M1057.5 401.7h3.1M1059.1 400.1v3.1M1059.1 418.7h3.1M1060.7 417.1v3.1M1060.7 419.4h3.1M1062.3 417.8v3.1M1062.3 409.4h3.1M1063.8 407.9v3.1M1063.9 424.8h3.1M1065.4 423.3v3.1M1065.5 411.4h3.1M1067.0 409.8v3.1M1067.0 416.3h3.1M1068.6 414.8v3.1M1068.6 407.0h3.1M1070.2 405.4v3.1M1070.2 415.6h3.1M1071.8 414.1v3.1M1071.8 410.7h3.1M1073.4 409.2v3.1M1073.4 417.4h3.1M1074.9 415.8v3.1M1075.0 415.7h3.1M1076.5 414.2v3.1M1076.6 432.2h3.1M1078.1 430.7v3.1M1078.2 416.0h3.1M1079.7 414.4v3.1M1079.7 421.0h3.1M1081.3 419.4v3.1M1081.3 424.7h3.1M1082.9 423.2v3.1M1082.9 424.3h3.1M1084.5 422.7v3.1M1084.5 419.7h3.1M1086.1 418.1v3.1M1086.1 427.0h3.1M1087.6 425.4v3.1M1087.7 422.4h3.1M1089.2 420.8v3.1M1089.3 422.0h3.1M1090.8 420.4v3.1M1090.8 420.0h3.1M1092.4 418.4v3.1M1092.4 409.5h3.1M1094.0 407.9v3.1M1094.0 420.8h3.1M1095.6 419.2v3.1M1095.6 420.7h3.1M1097.2 419.1v3.1M1097.2 422.4h3.1M1098.8 420.9v3.1M1098.8 404.9h3.1M1100.3 403.4v3.1M1100.4 418.1h3.1M1101.9 416.5v3.1M1102.0 423.1h3.1M1103.5 421.5v3.1M1103.5 404.2h3.1M1105.1 402.6v3.1M1105.1 415.6h3.1M1106.7 414.1v3.1M1106.7 413.5h3.1M1108.3 411.9v3.1M1108.3 417.8h3.1M1109.9 416.3v3.1M1109.9 412.2h3.1M1111.5 410.7v3.1M1111.5 427.2h3.1M1113.0 425.6v3.1M1113.1 405.7h3.1M1114.6 404.2v3.1M1114.7 405.3h3.1M1116.2 403.7v3.1M1116.2 423.7h3.1M1117.8 422.2v3.1M1117.8 421.1h3.1M1119.4 419.5v3.1M1119.4 425.3h3.1M1121.0 423.7v3.1M1121.0 424.9h3.1M1122.6 423.4v3.1M1122.6 422.8h3.1M1124.2 421.2v3.1M1124.2 418.0h3.1M1125.7 416.5v3.1M1125.8 436.9h3.1M1127.3 435.4v3.1M1127.4 422.3h3.1M1128.9 420.8v3.1M1128.9 425.0h3.1M1130.5 423.4v3.1M1130.5 427.6h3.1M1132.1 426.1v3.1M1132.1 423.5h3.1M1133.7 421.9v3.1M1133.7 429.0h3.1M1135.3 427.4v3.1M1135.3 424.1h3.1M1136.8 422.5v3.1M1136.9 423.6h3.1M1138.4 422.1v3.1M1138.5 422.7h3.1M1140.0 421.2v3.1M1140.0 416.4h3.1M1141.6 414.9v3.1M1141.6 407.4h3.1M1143.2 405.9v3.1M1143.2 418.6h3.1M1144.8 417.1v3.1M1144.8 422.3h3.1M1146.4 420.7v3.1M1146.4 423.9h3.1M1148.0 422.3v3.1M1148.0 424.1h3.1M1149.5 422.5v3.1M1149.6 421.5h3.1M1151.1 419.9v3.1M1151.2 418.2h3.1M1152.7 416.6v3.1M1152.7 422.4h3.1M1154.3 420.8v3.1M1154.3 422.8h3.1M1155.9 421.2v3.1M1155.9 428.3h3.1M1157.5 426.7v3.1M1157.5 424.7h3.1M1159.1 423.1v3.1M1159.1 425.0h3.1M1160.7 423.4v3.1M1160.7 406.4h3.1M1162.2 404.8v3.1M1162.3 414.9h3.1M1163.8 413.3v3.1M1163.9 416.9h3.1M1165.4 415.3v3.1M1165.4 430.1h3.1M1167.0 428.5v3.1M1167.0 427.0h3.1M1168.6 425.4v3.1M1168.6 426.7h3.1M1170.2 425.1v3.1M1170.2 426.1h3.1M1171.8 424.5v3.1M1171.8 424.8h3.1M1173.4 423.2v3.1M1173.4 424.4h3.1M1174.9 422.8v3.1M1175.0 415.0h3.1M1176.5 413.4v3.1M1176.6 432.1h3.1M1178.1 430.5v3.1M1178.1 426.2h3.1M1179.7 424.6v3.1M1179.7 421.3h3.1M1181.3 419.7v3.1M1181.3 426.8h3.1M1182.9 425.2v3.1M1182.9 432.3h3.1M1184.5 430.8v3.1M1184.5 422.2h3.1M1186.1 420.7v3.1M1186.1 420.5h3.1M1187.6 418.9v3.1M1187.7 424.3h3.1M1189.2 422.7v3.1M1189.3 414.7h3.1M1190.8 413.1v3.1M1190.8 419.3h3.1M1192.4 417.7v3.1M1192.4 420.1h3.1M1194.0 418.5v3.1M1194.0 415.4h3.1M1195.6 413.8v3.1M1195.6 419.8h3.1M1197.2 418.3v3.1M1197.2 418.9h3.1M1198.7 417.3v3.1M1198.8 428.8h3.1M1200.3 427.2v3.1M1200.4 430.7h3.1M1201.9 429.1v3.1M1201.9 420.1h3.1M1203.5 418.5v3.1M1203.5 423.1h3.1M1205.1 421.6v3.1M1205.1 425.8h3.1M1206.7 424.2v3.1M1206.7 424.7h3.1M1208.3 423.1v3.1M1208.3 427.5h3.1M1209.9 425.9v3.1M1209.9 421.9h3.1M1211.4 420.3v3.1M1211.5 414.3h3.1M1213.0 412.7v3.1M1213.1 420.9h3.1M1214.6 419.3v3.1M1214.6 426.7h3.1M1216.2 425.2v3.1M1216.2 420.3h3.1M1217.8 418.7v3.1M1217.8 421.4h3.1M1219.4 419.9v3.1M1219.4 417.5h3.1M1221.0 416.0v3.1M1221.0 416.3h3.1M1222.6 414.8v3.1M1222.6 426.3h3.1M1224.1 424.7v3.1M1224.2 425.2h3.1M1225.7 423.6v3.1M1225.8 422.1h3.1M1227.3 420.6v3.1M1227.3 429.6h3.1M1228.9 428.0v3.1M1228.9 421.7h3.1M1230.5 420.1v3.1M1230.5 418.0h3.1M1232.1 416.4v3.1M1232.1 430.1h3.1M1233.7 428.6v3.1M1233.7 418.4h3.1M1235.3 416.8v3.1M1235.3 422.1h3.1M1236.8 420.5v3.1M1236.9 410.4h3.1M1238.4 408.8v3.1M1238.5 424.8h3.1M1240.0 423.2v3.1M1240.0 404.4h3.1M1241.6 402.8v3.1M1241.6 426.7h3.1M1243.2 425.1v3.1M1243.2 420.0h3.1M1244.8 418.4v3.1M1244.8 429.9h3.1M1246.4 428.3v3.1M1246.4 417.5h3.1M1247.9 416.0v3.1M1248.0 409.9h3.1M1249.5 408.3v3.1M1249.6 424.4h3.1M1251.1 422.8v3.1M1251.2 410.4h3.1M1252.7 408.8v3.1M1252.7 425.6h3.1M1254.3 424.0v3.1M1254.3 418.3h3.1M1255.9 416.8v3.1M1255.9 420.8h3.1M1257.5 419.2v3.1M1257.5 410.5h3.1M1259.1 409.0v3.1M1259.1 424.5h3.1M1260.6 423.0v3.1M1260.7 423.4h3.1M1262.2 421.9v3.1M1262.3 412.3h3.1M1263.8 410.7v3.1M1263.8 427.2h3.1M1265.4 425.6v3.1M1265.4 409.9h3.1M1267.0 408.3v3.1M1267.0 432.8h3.1M1268.6 431.2v3.1M1268.6 424.7h3.1M1270.2 423.1v3.1M1270.2 433.0h3.1M1271.8 431.4v3.1M1271.8 427.4h3.1M1273.3 425.9v3.1M1273.4 421.3h3.1M1274.9 419.7v3.1M1275.0 412.0h3.1M1276.5 410.4v3.1M1276.5 424.1h3.1M1278.1 422.5v3.1M1278.1 420.5h3.1M1279.7 418.9v3.1M1279.7 421.8h3.1M1281.3 420.2v3.1M1281.3 423.0h3.1M1282.9 421.5v3.1M1282.9 426.0h3.1M1284.5 424.4v3.1M1284.5 419.4h3.1M1286.0 417.8v3.1M1286.1 431.5h3.1M1287.6 429.9v3.1M1287.7 436.2h3.1M1289.2 434.6v3.1M1289.2 427.7h3.1M1290.8 426.2v3.1M1290.8 424.6h3.1M1292.4 423.0v3.1M1292.4 440.2h3.1M1294.0 438.7v3.1M1294.0 426.4h3.1M1295.6 424.8v3.1M1295.6 434.3h3.1M1297.2 432.7v3.1M1297.2 427.5h3.1M1298.7 426.0v3.1M1298.8 434.1h3.1M1300.3 432.5v3.1M1300.4 434.7h3.1M1301.9 433.1v3.1M1301.9 432.1h3.1M1303.5 430.5v3.1M1303.5 429.1h3.1M1305.1 427.5v3.1M1305.1 425.4h3.1M1306.7 423.8v3.1M1306.7 431.2h3.1M1308.3 429.7v3.1M1308.3 416.7h3.1M1309.8 415.2v3.1M1309.9 426.5h3.1M1311.4 424.9v3.1M1311.5 421.1h3.1M1313.0 419.5v3.1M1313.1 434.2h3.1M1314.6 432.7v3.1M1314.6 425.8h3.1M1316.2 424.2v3.1M1316.2 423.9h3.1M1317.8 422.4v3.1M1317.8 432.1h3.1M1319.4 430.5v3.1M1319.4 428.5h3.1M1321.0 426.9v3.1M1321.0 418.2h3.1M1322.5 416.6v3.1M1322.6 420.9h3.1M1324.1 419.4v3.1M1324.2 427.5h3.1M1325.7 425.9v3.1M1325.7 433.7h3.1M1327.3 432.2v3.1M1327.3 443.9h3.1M1328.9 442.3v3.1M1328.9 425.1h3.1M1330.5 423.5v3.1M1330.5 418.6h3.1M1332.1 417.1v3.1M1332.1 427.3h3.1M1333.7 425.8v3.1M1333.7 436.4h3.1M1335.2 434.8v3.1M1335.3 436.0h3.1M1336.8 434.4v3.1M1336.9 436.4h3.1M1338.4 434.8v3.1M1338.4 431.3h3.1M1340.0 429.7v3.1M1340.0 433.0h3.1M1341.6 431.5v3.1M1341.6 429.8h3.1M1343.2 428.3v3.1M1343.2 418.1h3.1M1344.8 416.6v3.1M1344.8 430.4h3.1M1346.4 428.8v3.1M1346.4 430.1h3.1M1347.9 428.6v3.1M1348.0 426.2h3.1M1349.5 424.7v3.1M1349.6 428.5h3.1M1351.1 426.9v3.1M1351.1 425.7h3.1M1352.7 424.2v3.1M1352.7 431.0h3.1M1354.3 429.4v3.1M1354.3 433.0h3.1M1355.9 431.4v3.1M1355.9 417.8h3.1M1357.5 416.2v3.1M1357.5 419.0h3.1M1359.1 417.5v3.1M1359.1 428.4h3.1M1360.6 426.8v3.1M1360.7 409.0h3.1M1362.2 407.4v3.1M1362.3 428.0h3.1M1363.8 426.5v3.1M1363.8 439.7h3.1M1365.4 438.2v3.1M1365.4 424.4h3.1M1367.0 422.9v3.1M1367.0 420.8h3.1M1368.6 419.2v3.1M1368.6 432.0h3.1M1370.2 430.4v3.1M1370.2 418.2h3.1M1371.7 416.7v3.1M1371.8 414.3h3.1M1373.3 412.7v3.1M1373.4 428.6h3.1M1374.9 427.0v3.1M1375.0 415.9h3.1M1376.5 414.4v3.1M1376.5 423.2h3.1M1378.1 421.6v3.1M1378.1 409.8h3.1M1379.7 408.2v3.1M1379.7 416.9h3.1M1381.3 415.4v3.1M1381.3 415.7h3.1M1382.9 414.1v3.1M1382.9 418.0h3.1M1384.4 416.4v3.1M1384.5 417.1h3.1M1386.0 415.5v3.1M1386.1 417.4h3.1M1387.6 415.8v3.1M1387.6 421.7h3.1M1389.2 420.2v3.1M1389.2 409.8h3.1M1390.8 408.2v3.1M1390.8 423.1h3.1M1392.4 421.6v3.1M1392.4 424.6h3.1M1394.0 423.0v3.1M1394.0 418.6h3.1M1395.6 417.1v3.1M1395.6 416.0h3.1M1397.1 414.5v3.1M1397.2 432.0h3.1M1398.7 430.4v3.1M1398.8 418.7h3.1M1400.3 417.2v3.1M1400.3 417.6h3.1M1401.9 416.0v3.1M1401.9 422.6h3.1M1403.5 421.0v3.1M1403.5 420.1h3.1M1405.1 418.6v3.1M1405.1 422.6h3.1M1406.7 421.0v3.1M1406.7 431.8h3.1M1408.3 430.3v3.1M1408.3 419.4h3.1M1409.8 417.8v3.1M1409.9 416.2h3.1M1411.4 414.6v3.1M1411.5 415.4h3.1M1413.0 413.8v3.1M1413.0 410.0h3.1M1414.6 408.4v3.1M1414.6 420.2h3.1M1416.2 418.6v3.1M1416.2 409.3h3.1M1417.8 407.7v3.1M1417.8 421.7h3.1M1419.4 420.2v3.1M1419.4 425.1h3.1M1421.0 423.5v3.1M1421.0 420.2h3.1M1422.5 418.7v3.1M1422.6 430.3h3.1M1424.1 428.7v3.1M1424.2 431.5h3.1M1425.7 429.9v3.1M1425.7 431.1h3.1M1427.3 429.5v3.1M1427.3 430.1h3.1M1428.9 428.6v3.1M1428.9 429.3h3.1M1430.5 427.8v3.1M1430.5 424.9h3.1M1432.1 423.3v3.1M1432.1 424.1h3.1M1433.6 422.5v3.1M1433.7 434.3h3.1M1435.2 432.8v3.1M1435.3 428.2h3.1M1436.8 426.6v3.1M1436.8 433.6h3.1M1438.4 432.0v3.1M1438.4 428.7h3.1M1440.0 427.1v3.1M1440.0 430.1h3.1M1441.6 428.5v3.1M1441.6 434.4h3.1M1443.2 432.9v3.1M1443.2 435.9h3.1M1444.8 434.3v3.1M1444.8 429.2h3.1M1446.3 427.7v3.1M1446.4 428.7h3.1M1447.9 427.1v3.1M1448.0 431.6h3.1M1449.5 430.1v3.1M1449.5 426.7h3.1M1451.1 425.1v3.1M1451.1 424.8h3.1M1452.7 423.2v3.1M1452.7 440.0h3.1M1454.3 438.5v3.1M1454.3 429.1h3.1M1455.9 427.6v3.1M1455.9 441.5h3.1M1457.5 439.9v3.1M1457.5 422.6h3.1M1459.0 421.1v3.1M1459.1 428.8h3.1M1460.6 427.3v3.1M1460.7 435.1h3.1M1462.2 433.5v3.1M1462.2 429.3h3.1M1463.8 427.7v3.1M1463.8 421.0h3.1M1465.4 419.4v3.1M1465.4 438.6h3.1M1467.0 437.1v3.1M1467.0 435.0h3.1M1468.6 433.5v3.1M1468.6 420.3h3.1M1470.2 418.7v3.1M1470.2 430.2h3.1M1471.7 428.7v3.1M1471.8 442.2h3.1M1473.3 440.6v3.1M1473.4 433.2h3.1M1474.9 431.6v3.1M1474.9 420.1h3.1M1476.5 418.6v3.1M1476.5 428.3h3.1M1478.1 426.8v3.1M1478.1 418.5h3.1M1479.7 417.0v3.1M1479.7 428.0h3.1M1481.3 426.5v3.1M1481.3 425.8h3.1M1482.9 424.3v3.1M1482.9 430.1h3.1M1484.4 428.5v3.1M1484.5 429.5h3.1M1486.0 427.9v3.1M1486.1 425.3h3.1M1487.6 423.8v3.1M1487.6 433.3h3.1M1489.2 431.8v3.1M1489.2 426.3h3.1M1490.8 424.7v3.1M1490.8 429.1h3.1M1492.4 427.6v3.1M1492.4 428.8h3.1M1494.0 427.2v3.1M1494.0 421.5h3.1M1495.5 420.0v3.1M1495.6 439.1h3.1M1497.1 437.5v3.1M1497.2 401.0h3.1M1498.7 399.4v3.1M1498.7 428.6h3.1M1500.3 427.0v3.1M1500.3 431.2h3.1M1501.9 429.6v3.1M1501.9 428.8h3.1M1503.5 427.3v3.1M1503.5 433.8h3.1M1505.1 432.3v3.1M1505.1 430.2h3.1M1506.7 428.6v3.1M1506.7 424.6h3.1M1508.2 423.0v3.1M1508.3 426.5h3.1M1509.8 425.0v3.1M1509.9 411.7h3.1M1511.4 410.2v3.1M1511.4 429.0h3.1M1513.0 427.4v3.1M1513.0 425.2h3.1M1514.6 423.6v3.1M1514.6 430.7h3.1M1516.2 429.1v3.1M1516.2 435.5h3.1M1517.8 433.9v3.1M1517.8 434.5h3.1M1519.4 432.9v3.1M1519.4 415.0h3.1M1520.9 413.5v3.1M1521.0 431.0h3.1M1522.5 429.4v3.1M1522.6 427.9h3.1M1524.1 426.3v3.1M1524.1 428.0h3.1M1525.7 426.4v3.1M1525.7 435.3h3.1M1527.3 433.7v3.1M1527.3 428.7h3.1M1528.9 427.2v3.1M1528.9 427.2h3.1M1530.5 425.6v3.1M1530.5 420.2h3.1M1532.1 418.6v3.1M1532.1 424.3h3.1M1533.6 422.7v3.1M1533.7 428.7h3.1M1535.2 427.1v3.1M1535.3 430.1h3.1M1536.8 428.5v3.1M1536.8 432.1h3.1M1538.4 430.6v3.1M1538.4 429.3h3.1M1540.0 427.8v3.1M1540.0 432.4h3.1M1541.6 430.9v3.1M1541.6 424.9h3.1M1543.2 423.4v3.1M1543.2 422.0h3.1M1544.7 420.5v3.1M1544.8 424.7h3.1M1546.3 423.2v3.1M1546.4 436.4h3.1M1547.9 434.9v3.1M1548.0 427.4h3.1M1549.5 425.9v3.1M1549.5 430.3h3.1M1551.1 428.7v3.1M1551.1 439.4h3.1M1552.7 437.8v3.1M1552.7 432.2h3.1M1554.3 430.6v3.1M1554.3 432.2h3.1M1555.9 430.6v3.1M1555.9 434.3h3.1M1557.4 432.7v3.1M1557.5 432.2h3.1M1559.0 430.6v3.1M1559.1 434.0h3.1M1560.6 432.4v3.1M1560.6 434.4h3.1M1562.2 432.8v3.1M1562.2 429.2h3.1M1563.8 427.7v3.1M1563.8 432.7h3.1M1565.4 431.1v3.1M1565.4 432.2h3.1M1567.0 430.7v3.1M1567.0 434.1h3.1M1568.6 432.5v3.1M1568.6 416.0h3.1M1570.1 414.4v3.1M1570.2 428.2h3.1M1571.7 426.7v3.1M1571.8 431.4h3.1M1573.3 429.8v3.1M1573.3 439.4h3.1M1574.9 437.8v3.1M1574.9 426.5h3.1M1576.5 425.0v3.1M1576.5 429.8h3.1M1578.1 428.3v3.1M1578.1 441.3h3.1M1579.7 439.8v3.1M1579.7 436.0h3.1M1581.3 434.4v3.1M1581.3 426.8h3.1M1582.8 425.2v3.1M1582.9 412.7h3.1M1584.4 411.2v3.1M1584.5 430.2h3.1M1586.0 428.6v3.1M1586.0 427.5h3.1M1587.6 426.0v3.1M1587.6 433.2h3.1M1589.2 431.7v3.1M1589.2 426.9h3.1M1590.8 425.4v3.1M1590.8 429.3h3.1M1592.4 427.8v3.1M1592.4 426.0h3.1M1594.0 424.5v3.1M1594.0 429.1h3.1M1595.5 427.5v3.1M1595.6 433.0h3.1M1597.1 431.4v3.1M1597.2 428.7h3.1M1598.7 427.1v3.1M1598.7 429.7h3.1M1600.3 428.2v3.1M1600.3 430.8h3.1M1601.9 429.2v3.1M1601.9 433.3h3.1M1603.5 431.7v3.1M1603.5 432.1h3.1M1605.1 430.5v3.1M1605.1 429.5h3.1M1606.6 427.9v3.1M1606.7 425.4h3.1M1608.2 423.8v3.1M1608.3 431.5h3.1M1609.8 429.9v3.1M1609.9 405.0h3.1M1611.4 403.5v3.1M1611.4 424.1h3.1M1613.0 422.6v3.1M1613.0 426.6h3.1M1614.6 425.0v3.1M1614.6 421.0h3.1M1616.2 419.4v3.1M1616.2 438.2h3.1M1617.8 436.7v3.1M1617.8 434.7h3.1M1619.3 433.2v3.1M1619.4 434.6h3.1M1620.9 433.0v3.1M1621.0 433.6h3.1M1622.5 432.0v3.1M1622.5 422.4h3.1M1624.1 420.9v3.1M1624.1 430.2h3.1M1625.7 428.6v3.1M1625.7 434.0h3.1M1627.3 432.5v3.1M1627.3 424.1h3.1M1628.9 422.5v3.1M1628.9 430.3h3.1M1630.5 428.8v3.1M1630.5 428.3h3.1M1632.0 426.7v3.1M1632.1 422.7h3.1M1633.6 421.1v3.1M1633.7 422.7h3.1M1635.2 421.1v3.1M1635.2 414.3h3.1M1636.8 412.8v3.1M1636.8 430.3h3.1M1638.4 428.7v3.1M1638.4 425.1h3.1M1640.0 423.5v3.1M1640.0 422.9h3.1M1641.6 421.3v3.1M1641.6 425.2h3.1M1643.2 423.6v3.1M1643.2 417.8h3.1M1644.7 416.2v3.1M1644.8 433.8h3.1M1646.3 432.2v3.1M1646.4 427.9h3.1M1647.9 426.4v3.1M1647.9 414.2h3.1M1649.5 412.6v3.1M1649.5 428.0h3.1M1651.1 426.4v3.1M1651.1 421.5h3.1M1652.7 419.9v3.1M1652.7 426.7h3.1M1654.3 425.1v3.1M1654.3 440.1h3.1M1655.9 438.6v3.1M1655.9 425.0h3.1M1657.4 423.5v3.1M1657.5 417.2h3.1M1659.0 415.6v3.1M1659.1 429.4h3.1M1660.6 427.8v3.1M1660.6 429.0h3.1M1662.2 427.5v3.1M1662.2 414.9h3.1M1663.8 413.3v3.1M1663.8 432.3h3.1M1665.4 430.8v3.1M1665.4 435.4h3.1M1667.0 433.8v3.1M1667.0 435.5h3.1M1668.5 433.9v3.1M1668.6 422.5h3.1M1670.1 420.9v3.1M1670.2 434.9h3.1M1671.7 433.3v3.1M1671.8 436.0h3.1M1673.3 434.4v3.1M1673.3 439.0h3.1M1674.9 437.4v3.1M1674.9 424.8h3.1M1676.5 423.3v3.1M1676.5 423.4h3.1M1678.1 421.9v3.1M1678.1 431.8h3.1M1679.7 430.2v3.1M1679.7 431.5h3.1M1681.2 429.9v3.1M1681.3 443.3h3.1M1682.8 441.7v3.1M1682.9 429.8h3.1M1684.4 428.2v3.1M1684.4 425.9h3.1M1686.0 424.4v3.1M1686.0 435.8h3.1M1687.6 434.2v3.1M1687.6 420.7h3.1M1689.2 419.1v3.1M1689.2 441.9h3.1M1690.8 440.4v3.1M1690.8 434.0h3.1M1692.4 432.5v3.1M1692.4 433.8h3.1M1693.9 432.3v3.1M1694.0 435.4h3.1M1695.5 433.8v3.1M1695.6 423.8h3.1M1697.1 422.3v3.1M1697.1 424.0h3.1M1698.7 422.5v3.1M1698.7 418.6h3.1M1700.3 417.0v3.1M1700.3 409.5h3.1M1701.9 407.9v3.1M1701.9 427.0h3.1M1703.5 425.4v3.1M1703.5 415.6h3.1M1705.1 414.0v3.1M1705.1 420.9h3.1M1706.6 419.4v3.1M1706.7 414.4h3.1M1708.2 412.9v3.1M1708.3 412.5h3.1M1709.8 411.0v3.1M1709.8 420.7h3.1M1711.4 419.2v3.1M1711.4 420.2h3.1M1713.0 418.7v3.1M1713.0 425.4h3.1M1714.6 423.9v3.1M1714.6 393.7h3.1M1716.2 392.2v3.1M1716.2 412.0h3.1M1717.8 410.5v3.1M1717.8 417.3h3.1M1719.3 415.8v3.1M1719.4 424.5h3.1M1720.9 422.9v3.1M1721.0 415.7h3.1M1722.5 414.1v3.1M1722.5 424.4h3.1M1724.1 422.9v3.1M1724.1 416.6h3.1M1725.7 415.0v3.1M1725.7 421.1h3.1M1727.3 419.6v3.1M1727.3 432.7h3.1M1728.9 431.1v3.1M1728.9 432.7h3.1M1730.4 431.2v3.1M1730.5 435.0h3.1M1732.0 433.4v3.1M1732.1 424.3h3.1M1733.6 422.8v3.1M1733.6 423.9h3.1M1735.2 422.3v3.1M1735.2 423.5h3.1M1736.8 421.9v3.1M1736.8 430.9h3.1M1738.4 429.3v3.1M1738.4 427.6h3.1M1740.0 426.0v3.1M1740.0 417.5h3.1M1741.6 416.0v3.1M1741.6 430.2h3.1M1743.1 428.6v3.1M1743.2 410.0h3.1M1744.7 408.4v3.1M1744.8 426.5h3.1M1746.3 425.0v3.1M1746.3 422.8h3.1M1747.9 421.2v3.1M1747.9 425.9h3.1M1749.5 424.3v3.1M1749.5 423.1h3.1M1751.1 421.6v3.1M1751.1 427.4h3.1M1752.7 425.9v3.1M1752.7 420.2h3.1M1754.3 418.6v3.1M1754.3 416.8h3.1M1755.8 415.2v3.1M1755.9 425.5h3.1M1757.4 423.9v3.1M1757.5 431.9h3.1M1759.0 430.3v3.1M1759.0 425.5h3.1M1760.6 424.0v3.1M1760.6 420.9h3.1M1762.2 419.4v3.1M1762.2 422.8h3.1M1763.8 421.3v3.1M1763.8 420.1h3.1M1765.4 418.5v3.1M1765.4 413.3h3.1M1767.0 411.7v3.1M1767.0 422.6h3.1M1768.5 421.0v3.1M1768.6 421.7h3.1M1770.1 420.1v3.1M1770.2 417.7h3.1M1771.7 416.2v3.1M1771.7 417.3h3.1M1773.3 415.7v3.1M1773.3 419.7h3.1M1774.9 418.1v3.1M1774.9 416.4h3.1M1776.5 414.8v3.1M1776.5 419.2h3.1M1778.1 417.6v3.1M1778.1 423.8h3.1M1779.7 422.2v3.1M1779.7 422.9h3.1M1781.2 421.3v3.1M1781.3 420.1h3.1M1782.8 418.5v3.1M1782.9 414.9h3.1M1784.4 413.3v3.1M1784.4 421.8h3.1M1786.0 420.3v3.1M1786.0 426.6h3.1M1787.6 425.1v3.1M1787.6 422.2h3.1M1789.2 420.6v3.1M1789.2 427.5h3.1M1790.8 425.9v3.1M1790.8 421.6h3.1M1792.3 420.0v3.1M1792.4 414.4h3.1M1793.9 412.8v3.1M1794.0 413.3h3.1M1795.5 411.8v3.1M1795.5 420.4h3.1M1797.1 418.8v3.1M1797.1 415.2h3.1M1798.7 413.6v3.1M1798.7 421.0h3.1M1800.3 419.5v3.1M1800.3 410.3h3.1M1801.9 408.8v3.1M1801.9 416.7h3.1M1803.5 415.1v3.1M1803.5 416.2h3.1M1805.0 414.6v3.1M1805.1 415.0h3.1M1806.6 413.4v3.1M1806.7 412.3h3.1M1808.2 410.7v3.1M1808.2 417.6h3.1M1809.8 416.0v3.1M1809.8 416.9h3.1M1811.4 415.3v3.1M1811.4 418.3h3.1M1813.0 416.7v3.1M1813.0 414.3h3.1M1814.6 412.8v3.1M1814.6 414.8h3.1M1816.2 413.2v3.1M1816.2 418.4h3.1M1817.7 416.9v3.1M1817.8 416.1h3.1M1819.3 414.5v3.1M1819.4 421.6h3.1M1820.9 420.0v3.1M1820.9 414.9h3.1M1822.5 413.4v3.1M1822.5 424.1h3.1M1824.1 422.5v3.1M1824.1 415.7h3.1M1825.7 414.1v3.1M1825.7 413.3h3.1M1827.3 411.8v3.1M1827.3 420.1h3.1M1828.9 418.6v3.1M1828.9 416.4h3.1M1830.4 414.9v3.1M1830.5 421.0h3.1M1832.0 419.4v3.1M1832.1 418.2h3.1M1833.6 416.7v3.1M1833.6 415.4h3.1M1835.2 413.8v3.1M1835.2 418.3h3.1M1836.8 416.7v3.1M1836.8 419.8h3.1M1838.4 418.2v3.1M1838.4 422.5h3.1M1840.0 421.0v3.1M1840.0 417.8h3.1M1841.6 416.2v3.1M1841.6 419.6h3.1M1843.1 418.0v3.1M1843.2 422.9h3.1M1844.7 421.4v3.1M1844.8 413.7h3.1M1846.3 412.2v3.1M1846.3 416.9h3.1M1847.9 415.4v3.1M1847.9 422.3h3.1M1849.5 420.8v3.1M1849.5 422.3h3.1M1851.1 420.7v3.1M1851.1 416.4h3.1M1852.7 414.9v3.1M1852.7 419.2h3.1M1854.2 417.7v3.1M1854.3 420.1h3.1M1855.8 418.6v3.1M1855.9 415.8h3.1M1857.4 414.2v3.1M1857.4 416.5h3.1M1859.0 414.9v3.1M1859.0 425.4h3.1M1860.6 423.8v3.1M1860.6 421.5h3.1M1862.2 419.9v3.1M1862.2 421.2h3.1M1863.8 419.6v3.1M1863.8 419.3h3.1M1865.4 417.8v3.1M1865.4 416.4h3.1M1866.9 414.8v3.1M1867.0 412.6h3.1M1868.5 411.1v3.1M1868.6 412.1h3.1M1870.1 410.5v3.1M1870.1 418.1h3.1M1871.7 416.5v3.1M1871.7 413.9h3.1M1873.3 412.3v3.1M1873.3 415.0h3.1M1874.9 413.4v3.1M1874.9 414.9h3.1M1876.5 413.3v3.1M1876.5 411.0h3.1M1878.1 409.4v3.1M1878.1 414.9h3.1M1879.6 413.4v3.1M1879.7 413.6h3.1M1881.2 412.1v3.1M1881.3 412.9h3.1M1882.8 411.4v3.1M1882.8 412.6h3.1M1884.4 411.0v3.1M1884.4 410.7h3.1M1886.0 409.2v3.1M1886.0 412.3h3.1M1887.6 410.7v3.1M1887.6 412.6h3.1M1889.2 411.0v3.1M1889.2 410.7h3.1M1890.8 409.2v3.1M1890.8 408.0h3.1M1892.3 406.5v3.1M1892.4 407.1h3.1M1893.9 405.5v3.1M1894.0 412.8h3.1M1895.5 411.2v3.1M1895.5 411.6h3.1M1897.1 410.0v3.1M1897.1 409.1h3.1M1898.7 407.5v3.1M1898.7 408.4h3.1M1900.3 406.9v3.1M1900.3 406.2h3.1M1901.9 404.6v3.1M1901.9 405.2h3.1M1903.4 403.6v3.1M1903.5 409.4h3.1M1905.0 407.8v3.1M1905.1 409.0h3.1M1906.6 407.4v3.1M1906.7 408.1h3.1M1908.2 406.5v3.1M1908.2 409.0h3.1M1909.8 407.4v3.1M1909.8 411.6h3.1M1911.4 410.0v3.1M1911.4 410.2h3.1M1913.0 408.6v3.1M1913.0 407.7h3.1M1914.6 406.2v3.1M1914.6 409.8h3.1M1916.1 408.3v3.1M1916.2 410.3h3.1M1917.7 408.8v3.1M1917.8 410.8h3.1M1919.3 409.2v3.1M1919.3 411.6h3.1M1920.9 410.0v3.1M1920.9 412.6h3.1M1922.5 411.0v3.1M1922.5 412.5h3.1M1924.1 410.9v3.1M1924.1 418.8h3.1M1925.7 417.3v3.1M1925.7 412.7h3.1M1927.3 411.1v3.1M1927.3 415.5h3.1M1928.8 414.0v3.1M1928.9 413.0h3.1M1930.4 411.5v3.1M1930.5 407.4h3.1M1932.0 405.8v3.1M1932.0 413.5h3.1M1933.6 411.9v3.1M1933.6 410.2h3.1M1935.2 408.6v3.1M1935.2 406.1h3.1M1936.8 404.6v3.1M1936.8 412.3h3.1M1938.4 410.7v3.1M1938.4 407.8h3.1M1940.0 406.2v3.1M1940.0 407.5h3.1M1941.5 405.9v3.1M1941.6 408.7h3.1M1943.1 407.1v3.1M1943.2 411.6h3.1M1944.7 410.1v3.1M1944.7 411.5h3.1M1946.3 409.9v3.1M1946.3 408.6h3.1M1947.9 407.0v3.1M1947.9 409.9h3.1M1949.5 408.3v3.1M1949.5 409.7h3.1M1951.1 408.2v3.1M1951.1 410.4h3.1M1952.7 408.8v3.1M1952.7 414.8h3.1M1954.2 413.2v3.1M1954.3 412.1h3.1M1955.8 410.5v3.1M1955.9 411.1h3.1M1957.4 409.5v3.1M1957.4 408.4h3.1M1959.0 406.9v3.1M1959.0 411.6h3.1M1960.6 410.1v3.1M1960.6 411.2h3.1M1962.2 409.6v3.1M1962.2 404.9h3.1M1963.8 403.3v3.1M1963.8 402.9h3.1M1965.3 401.4v3.1M1965.4 409.2h3.1M1966.9 407.7v3.1M1967.0 411.0h3.1M1968.5 409.4v3.1M1968.6 406.5h3.1M1970.1 404.9v3.1M1970.1 409.9h3.1M1971.7 408.3v3.1M1971.7 409.6h3.1M1973.3 408.1v3.1M1973.3 408.7h3.1M1974.9 407.1v3.1M1974.9 406.2h3.1M1976.5 404.6v3.1M1976.5 407.9h3.1M1978.0 406.3v3.1M1978.1 408.2h3.1M1979.6 406.7v3.1M1979.7 406.9h3.1M1981.2 405.4v3.1M1981.2 411.3h3.1M1982.8 409.8v3.1M1982.8 406.6h3.1M1984.4 405.1v3.1M1984.4 408.6h3.1M1986.0 407.0v3.1M1986.0 404.9h3.1M1987.6 403.3v3.1M1987.6 410.3h3.1M1989.2 408.8v3.1M1989.2 406.3h3.1M1990.7 404.7v3.1M1990.8 406.0h3.1M1992.3 404.5v3.1M1992.4 406.2h3.1M1993.9 404.7v3.1M1993.9 405.3h3.1M1995.5 403.8v3.1M1995.5 410.2h3.1M1997.1 408.6v3.1M1997.1 409.5h3.1M1998.7 408.0v3.1M1998.7 410.0h3.1M2000.3 408.5v3.1M2000.3 407.2h3.1M2001.9 405.6v3.1M2001.9 409.6h3.1M2003.4 408.0v3.1M2003.5 411.9h3.1M2005.0 410.3v3.1M2005.1 418.2h3.1M2006.6 416.6v3.1M2006.6 415.0h3.1M2008.2 413.4v3.1M2008.2 413.3h3.1M2009.8 411.7v3.1M2009.8 414.9h3.1M2011.4 413.4v3.1M2011.4 413.1h3.1M2013.0 411.6v3.1M2013.0 410.1h3.1M2014.6 408.5v3.1M2014.6 410.1h3.1M2016.1 408.5v3.1M2016.2 412.9h3.1M2017.7 411.4v3.1M2017.8 409.4h3.1M2019.3 407.8v3.1M2019.3 411.2h3.1M2020.9 409.6v3.1M2020.9 416.5h3.1M2022.5 414.9v3.1M2022.5 419.8h3.1M2024.1 418.2v3.1M2024.1 415.9h3.1M2025.7 414.3v3.1M2025.7 416.9h3.1M2027.2 415.3v3.1M2027.3 418.2h3.1M2028.8 416.6v3.1M2028.9 423.3h3.1M2030.4 421.8v3.1M2030.5 417.7h3.1M2032.0 416.2v3.1M2032.0 412.3h3.1M2033.6 410.8v3.1M2033.6 414.2h3.1M2035.2 412.6v3.1M2035.2 412.8h3.1M2036.8 411.2v3.1M2036.8 418.2h3.1M2038.4 416.6v3.1M2038.4 420.3h3.1M2039.9 418.8v3.1M2040.0 415.7h3.1M2041.5 414.2v3.1M2041.6 414.3h3.1M2043.1 412.7v3.1M2043.1 416.3h3.1M2044.7 414.8v3.1M2044.7 416.2h3.1M2046.3 414.6v3.1M2046.3 412.3h3.1M2047.9 410.7v3.1M2047.9 414.9h3.1M2049.5 413.3v3.1M2049.5 417.0h3.1M2051.1 415.5v3.1M2051.1 411.1h3.1M2052.6 409.6v3.1M2052.7 413.2h3.1M2054.2 411.7v3.1M2054.3 408.7h3.1M2055.8 407.2v3.1M2055.8 414.1h3.1M2057.4 412.6v3.1M2057.4 409.9h3.1M2059.0 408.3v3.1M2059.0 407.8h3.1M2060.6 406.2v3.1M2060.6 412.4h3.1M2062.2 410.8v3.1M2062.2 412.8h3.1M2063.8 411.2v3.1M2063.8 413.1h3.1M2065.3 411.6v3.1M2065.4 408.6h3.1M2066.9 407.0v3.1M2067.0 409.1h3.1M2068.5 407.5v3.1M2068.5 408.4h3.1M2070.1 406.9v3.1M2070.1 406.1h3.1M2071.7 404.6v3.1M2071.7 403.8h3.1M2073.3 402.3v3.1M2073.3 405.7h3.1M2074.9 404.2v3.1M2074.9 404.1h3.1M2076.5 402.5v3.1M2076.5 405.9h3.1M2078.0 404.3v3.1M2078.1 399.8h3.1M2079.6 398.2v3.1M2079.7 408.4h3.1M2081.2 406.9v3.1M2081.2 405.3h3.1M2082.8 403.7v3.1M2082.8 411.2h3.1M2084.4 409.6v3.1M2084.4 410.0h3.1M2086.0 408.5v3.1M2086.0 410.2h3.1M2087.6 408.6v3.1M2087.6 408.5h3.1M2089.1 407.0v3.1M2089.2 411.0h3.1M2090.7 409.4v3.1M2090.8 407.8h3.1M2092.3 406.3v3.1M2092.3 409.0h3.1M2093.9 407.4v3.1M2093.9 406.1h3.1M2095.5 404.6v3.1M2095.5 406.5h3.1M2097.1 405.0v3.1M2097.1 405.8h3.1M2098.7 404.2v3.1M2098.7 414.5h3.1M2100.3 412.9v3.1M2100.3 407.3h3.1M2101.8 405.8v3.1M2101.9 404.9h3.1M2103.4 403.4v3.1M2103.5 409.4h3.1M2105.0 407.8v3.1M2105.0 408.6h3.1M2106.6 407.1v3.1M2106.6 406.6h3.1M2108.2 405.0v3.1M2108.2 411.5h3.1M2109.8 410.0v3.1M2109.8 406.0h3.1M2111.4 404.5v3.1M2111.4 410.4h3.1M2113.0 408.8v3.1M2113.0 405.5h3.1M2114.5 403.9v3.1M2114.6 407.1h3.1M2116.1 405.5v3.1M2116.2 403.1h3.1M2117.7 401.5v3.1M2117.7 412.7h3.1M2119.3 411.2v3.1M2119.3 409.1h3.1M2120.9 407.6v3.1M2120.9 410.1h3.1M2122.5 408.5v3.1M2122.5 411.9h3.1M2124.1 410.4v3.1M2124.1 410.2h3.1M2125.7 408.7v3.1M2125.7 408.8h3.1M2127.2 407.3v3.1M2127.3 408.0h3.1M2128.8 406.4v3.1M2128.9 407.9h3.1M2130.4 406.4v3.1M2130.4 414.5h3.1M2132.0 412.9v3.1M2132.0 412.6h3.1M2133.6 411.0v3.1M2133.6 411.8h3.1M2135.2 410.3v3.1M2135.2 414.4h3.1M2136.8 412.8v3.1M2136.8 409.7h3.1M2138.4 408.2v3.1M2138.4 414.0h3.1M2139.9 412.4v3.1M2140.0 407.1h3.1M2141.5 405.6v3.1M2141.6 412.1h3.1M2143.1 410.5v3.1M2143.1 415.1h3.1M2144.7 413.6v3.1M2144.7 412.8h3.1M2146.3 411.2v3.1M2146.3 412.5h3.1M2147.9 410.9v3.1M2147.9 408.9h3.1M2149.5 407.3v3.1M2149.5 410.9h3.1M2151.0 409.3v3.1M2151.1 412.9h3.1M2152.6 411.3v3.1M2152.7 412.8h3.1M2154.2 411.2v3.1M2154.2 402.6h3.1M2155.8 401.0v3.1M2155.8 410.0h3.1M2157.4 408.4v3.1M2157.4 417.5h3.1M2159.0 415.9v3.1M2159.0 410.2h3.1M2160.6 408.6v3.1M2160.6 407.6h3.1M2162.2 406.0v3.1M2162.2 408.1h3.1M2163.7 406.5v3.1M2163.8 410.7h3.1M2165.3 409.2v3.1M2165.4 409.8h3.1M2166.9 408.2v3.1M2166.9 411.0h3.1M2168.5 409.5v3.1M2168.5 412.0h3.1M2170.1 410.4v3.1M2170.1 409.7h3.1M2171.7 408.1v3.1M2171.7 406.3h3.1M2173.3 404.7v3.1M2173.3 407.5h3.1M2174.9 405.9v3.1M2174.9 408.6h3.1M2176.4 407.1v3.1M2176.5 405.3h3.1M2178.0 403.8v3.1M2178.1 408.1h3.1M2179.6 406.6v3.1M2179.6 407.0h3.1M2181.2 405.5v3.1M2181.2 407.0h3.1M2182.8 405.4v3.1M2182.8 406.2h3.1M2184.4 404.6v3.1M2184.4 406.8h3.1M2186.0 405.2v3.1M2186.0 408.7h3.1M2187.6 407.2v3.1M2187.6 405.6h3.1M2189.1 404.0v3.1M2189.2 411.2h3.1M2190.7 409.6v3.1M2190.8 407.8h3.1M2192.3 406.2v3.1M2192.3 408.9h3.1M2193.9 407.3v3.1M2193.9 413.0h3.1M2195.5 411.4v3.1M2195.5 411.6h3.1M2197.1 410.0v3.1M2197.1 411.0h3.1M2198.7 409.4v3.1M2198.7 413.9h3.1M2200.2 412.3v3.1M2200.3 412.8h3.1M2201.8 411.3v3.1M2201.9 411.0h3.1M2203.4 409.4v3.1M2203.5 406.7h3.1M2205.0 405.1v3.1M2205.0 413.4h3.1M2206.6 411.8v3.1M2206.6 411.6h3.1M2208.2 410.1v3.1M2208.2 407.8h3.1M2209.8 406.3v3.1M2209.8 412.1h3.1M2211.4 410.6v3.1M2211.4 412.1h3.1M2212.9 410.5v3.1M2213.0 407.7h3.1M2214.5 406.2v3.1M2214.6 411.8h3.1M2216.1 410.2v3.1M2216.1 412.8h3.1M2217.7 411.3v3.1M2217.7 410.6h3.1M2219.3 409.1v3.1M2219.3 408.0h3.1M2220.9 406.5v3.1M2220.9 406.6h3.1M2222.5 405.1v3.1M2222.5 406.3h3.1M2224.1 404.7v3.1M2224.1 409.3h3.1M2225.6 407.8v3.1M2225.7 404.8h3.1M2227.2 403.3v3.1M2227.3 401.8h3.1M2228.8 400.2v3.1M2228.8 403.6h3.1M2230.4 402.0v3.1M2230.4 404.2h3.1M2232.0 402.6v3.1M2232.0 403.3h3.1M2233.6 401.7v3.1M2233.6 411.2h3.1M2235.2 409.7v3.1M2235.2 403.1h3.1M2236.8 401.6v3.1M2236.8 410.1h3.1M2238.3 408.5v3.1M2238.4 408.2h3.1M2239.9 406.6v3.1M2240.0 407.3h3.1M2241.5 405.7v3.1M2241.5 407.5h3.1M2243.1 405.9v3.1M2243.1 406.0h3.1M2244.7 404.5v3.1M2244.7 402.4h3.1M2246.3 400.9v3.1M2246.3 405.4h3.1M2247.9 403.8v3.1M2247.9 407.0h3.1M2249.5 405.4v3.1M2249.5 409.2h3.1M2251.0 407.6v3.1M2251.1 407.6h3.1M2252.6 406.0v3.1M2252.7 410.0h3.1M2254.2 408.5v3.1M2254.2 409.4h3.1M2255.8 407.8v3.1M2255.8 407.3h3.1M2257.4 405.7v3.1M2257.4 407.6h3.1M2259.0 406.0v3.1M2259.0 405.9h3.1M2260.6 404.3v3.1M2260.6 403.8h3.1M2262.1 402.2v3.1M2262.2 405.5h3.1M2263.7 403.9v3.1M2263.8 403.4h3.1M2265.3 401.8v3.1M2265.4 407.8h3.1M2266.9 406.3v3.1M2266.9 408.5h3.1M2268.5 406.9v3.1M2268.5 411.0h3.1M2270.1 409.4v3.1M2270.1 402.6h3.1M2271.7 401.1v3.1M2271.7 408.3h3.1M2273.3 406.7v3.1M2273.3 401.0h3.1M2274.8 399.4v3.1M2274.9 402.3h3.1M2276.4 400.7v3.1M2276.5 399.1h3.1M2278.0 397.6v3.1M2278.0 403.9h3.1M2279.6 402.4v3.1M2279.6 406.6h3.1M2281.2 405.1v3.1M2281.2 399.0h3.1M2282.8 397.5v3.1M2282.8 405.7h3.1M2284.4 404.1v3.1M2284.4 405.2h3.1M2286.0 403.6v3.1M2286.0 400.4h3.1M2287.5 398.9v3.1M2287.6 409.4h3.1M2289.1 407.9v3.1M2289.2 408.7h3.1M2290.7 407.1v3.1M2290.7 408.6h3.1M2292.3 407.0v3.1M2292.3 406.5h3.1M2293.9 405.0v3.1M2293.9 407.7h3.1M2295.5 406.2v3.1M2295.5 413.7h3.1M2297.1 412.1v3.1M2071.4 214.4h3.1M2073.0 212.8v3.1M1901.8 324.4h3.1M1903.4 322.8v3.1M1904.8 325.4h3.1M1906.4 323.8v3.1M1903.8 328.4h3.1M1905.4 326.8v3.1M1957.9 364.4h3.1M1959.5 362.8v3.1M2136.8 353.4h3.1M2138.4 351.8v3.1M2138.8 335.4h3.1M2140.4 333.8v3.1M882.9 323.3h3.1M884.5 321.7v3.1M911.9 345.3h3.1M913.5 343.7v3.1M887.9 356.5h3.1M889.5 354.9v3.1M884.9 360.5h3.1M886.5 358.9v3.1M1020.7 331.3h3.1M1022.3 329.7v3.1M1019.9 349.5h3.1M1021.5 347.9v3.1M1060.4 355.5h3.1M1062.0 353.9v3.1M1085.9 380.3h3.1M1087.5 378.7v3.1M1052.9 387.3h3.1M1054.5 385.7v3.1M1133.4 386.3h3.1M1135.0 384.7v3.1M1417.8 244.4h3.1M1419.4 242.8v3.1M1371.8 263.4h3.1M1373.4 261.8v3.1M1311.9 305.4h3.1M1313.5 303.8v3.1M1214.8 314.6h3.1M1216.4 313.0v3.1M1443.0 304.4h3.1M1444.6 302.8v3.1M1222.9 335.5h3.1M1224.5 333.9v3.1M1249.8 335.5h3.1M1251.4 333.9v3.1M1252.8 344.5h3.1M1254.4 342.9v3.1M1288.7 345.4h3.1M1290.3 343.8v3.1M1301.9 339.4h3.1M1303.5 337.8v3.1M1422.8 338.5h3.1M1424.4 336.9v3.1M1159.0 356.5h3.1M1160.6 354.9v3.1M1274.8 356.4h3.1M1276.4 354.8v3.1M1309.9 353.4h3.1M1311.5 351.8v3.1M1427.7 355.5h3.1M1429.3 353.9v3.1M1446.8 350.4h3.1M1448.4 348.8v3.1M1160.9 370.4h3.1M1162.5 368.8v3.1M1355.8 370.4h3.1M1357.4 368.8v3.1M1361.9 372.5h3.1M1363.5 370.9v3.1M1219.9 379.5h3.1M1221.5 377.9v3.1M1258.8 378.5h3.1M1260.4 376.9v3.1M1333.8 382.5h3.1M1335.4 380.9v3.1M1423.8 372.5h3.1M1425.4 370.9v3.1M1425.8 377.5h3.1M1427.4 375.9v3.1M1157.7 386.5h3.1M1159.3 384.9v3.1M1190.9 386.4h3.1M1192.5 384.8v3.1M1192.9 389.4h3.1M1194.5 387.8v3.1M1265.8 386.4h3.1M1267.4 384.8v3.1M1268.8 386.4h3.1M1270.4 384.8v3.1M1365.8 386.4h3.1M1367.4 384.8v3.1M1444.8 364.4h3.1M1446.4 362.8v3.1M1458.4 315.4h3.1M1460.0 313.8v3.1M1461.9 325.4h3.1M1463.5 323.8v3.1M1476.7 371.4h3.1M1478.3 369.8v3.1M1460.4 372.4h3.1M1462.0 370.8v3.1M1455.9 376.5h3.1M1457.5 374.9v3.1M1469.9 379.4h3.1M1471.5 377.8v3.1M1431.8 384.4h3.1M1433.4 382.8v3.1M1519.9 382.4h3.1M1521.5 380.8v3.1M1523.4 379.4h3.1M1525.0 377.8v3.1M1528.8 382.4h3.1M1530.4 380.8v3.1M1542.4 385.4h3.1M1544.0 383.8v3.1M1544.9 384.4h3.1M1546.5 382.8v3.1M1627.8 287.5h3.1M1629.4 285.9v3.1M1628.8 350.5h3.1M1630.4 348.9v3.1M1617.8 362.5h3.1M1619.4 360.9v3.1M1638.8 371.5h3.1M1640.4 369.9v3.1M1646.7 372.5h3.1M1648.3 370.9v3.1M1652.8 386.4h3.1M1654.4 384.8v3.1M1688.8 386.4h3.1M1690.4 384.8v3.1M1719.9 349.4h3.1M1721.5 347.8v3.1M1715.9 368.4h3.1M1717.5 366.8v3.1M1707.8 390.4h3.1M1709.4 388.8v3.1M1770.9 377.4h3.1M1772.5 375.8v3.1M1772.9 377.4h3.1M1774.5 375.8v3.1M1811.9 393.4h3.1M1813.5 391.8v3.1M73.9 372.5h3.1M75.5 370.9v3.1M74.9 372.5h3.1M76.5 370.9v3.1M419.7 377.5h3.1M421.3 375.9v3.1M576.7 354.3h3.1M578.3 352.7v3.1M574.7 363.5h3.1M576.3 361.9v3.1M565.4 372.3h3.1M567.0 370.7v3.1" stroke="#1e90ff" stroke-width="0.95" fill="none"/>
<polyline points="60.0,505.0 62.5,511.7 64.8,514.2 67.0,513.0 69.0,511.9 71.0,506.7 73.0,493.0 76.0,471.7 78.0,496.7 80.2,492.4 82.5,488.0 84.3,488.4 86.2,489.5 88.0,492.5 90.0,496.0 92.0,498.1 94.0,503.0 96.0,499.2 98.0,499.6 100.0,497.5 101.7,496.7 103.3,496.3 105.0,493.3 106.7,493.6 108.3,492.6 110.0,491.7 112.0,488.0 114.0,487.4 116.0,491.8 118.0,492.5 120.0,495.4 122.0,500.8 124.0,500.0 125.8,498.9 127.7,497.0 129.5,497.6 131.3,494.7 133.2,494.4 135.0,491.7 137.0,481.7 139.0,486.2 141.0,491.7 142.8,491.7 144.7,492.6 146.5,491.8 148.3,490.7 150.2,488.8 152.0,490.0 155.0,503.0 156.7,502.0 158.3,499.8 160.0,498.0 162.5,505.0 164.8,499.4 167.0,491.7 170.0,502.5 171.7,501.2 173.3,500.9 175.0,497.7 176.7,496.4 178.3,495.5 180.0,493.0 182.0,494.6 184.0,498.8 186.0,502.5 188.0,500.6 190.0,502.9 192.0,499.0 195.0,505.0 196.6,501.9 198.2,499.9 199.8,496.9 201.4,492.6 203.0,490.0 204.8,486.4 206.6,488.6 208.4,485.2 210.2,485.4 212.0,483.0 213.8,481.0 215.5,482.1 217.2,484.4 219.0,482.5 221.0,487.3 223.0,488.0 225.2,483.7 227.5,483.0 229.4,482.9 231.3,486.4 233.2,489.2 235.1,490.2 237.0,491.7 239.0,492.6 241.0,491.2 243.0,493.0 244.8,492.6 246.5,492.1 248.2,488.6 250.0,488.0 251.6,486.4 253.2,487.7 254.8,490.3 256.4,487.2 258.0,490.0 261.0,497.5 263.0,494.9 265.0,491.1 267.0,490.0 268.8,494.1 270.7,498.3 272.5,503.0 274.4,501.9 276.3,502.9 278.2,500.3 280.1,500.5 282.0,497.5 283.7,499.8 285.3,501.8 287.0,505.0 288.6,504.3 290.2,498.6 291.8,501.3 293.4,500.4 295.0,499.0 297.0,503.0 299.0,497.9 301.0,497.0 303.0,493.0 304.8,491.4 306.5,488.0 308.2,490.3 310.0,488.5 311.8,488.3 313.5,488.1 315.2,489.2 317.0,486.7 320.0,495.0 321.7,495.1 323.4,495.0 325.1,495.5 326.8,492.5 328.5,496.7 330.2,493.5 331.9,495.6 333.6,493.4 335.3,493.6 337.0,495.0 339.0,495.4 341.0,499.7 343.0,498.0 345.0,504.0 348.0,500.0 349.8,502.7 351.5,502.5 353.2,504.6 355.0,506.7 356.7,505.8 358.3,508.1 360.0,508.0 361.7,510.6 363.3,508.4 365.0,511.0 366.7,514.8 368.3,518.4 370.0,522.8 371.7,529.1 373.3,532.6 375.0,536.7 378.0,526.7 379.8,529.1 381.5,531.5 383.2,533.0 385.0,533.0 387.0,539.0 390.0,511.7 393.0,535.0 394.8,533.7 396.5,537.0 398.2,534.4 400.0,537.5 401.8,534.7 403.5,534.8 405.2,529.1 407.0,526.7 408.7,525.5 410.3,525.5 412.0,524.6 413.7,523.9 415.3,522.1 417.0,522.5 419.0,508.6 421.0,491.7 422.0,523.0 424.0,513.0 427.0,532.5 428.7,532.5 430.3,529.7 432.0,529.2 433.7,528.4 435.3,527.7 437.0,525.0 440.0,530.0 441.8,531.2 443.5,532.2 445.2,531.5 447.0,532.5 450.0,513.3 452.0,528.3 453.7,524.9 455.3,523.7 457.0,522.5 460.0,525.8 461.8,527.5 463.5,527.6 465.2,526.7 467.0,526.7 469.0,529.2 471.0,533.8 473.0,536.7 474.8,531.5 476.5,523.6 478.2,513.2 480.0,506.7 481.7,502.4 483.3,496.2 485.0,494.0 486.8,494.3 488.5,498.1 490.2,499.8 492.0,501.7 495.0,488.3 498.0,510.0 499.8,514.9 501.5,518.8 503.2,521.7 505.0,524.0 506.7,522.8 508.3,517.2 510.0,515.0 512.0,520.9 514.0,530.0 515.8,528.7 517.6,529.8 519.4,524.5 521.2,520.4 523.0,520.0 524.7,517.3 526.3,515.9 528.0,510.8 529.8,509.6 531.5,512.4 533.2,510.6 535.0,511.7 536.7,508.7 538.3,503.3 540.0,497.5 541.8,500.2 543.5,504.9 545.2,503.8 547.0,506.7 549.0,507.9 551.0,513.7 553.0,513.3 554.8,510.2 556.6,512.7 558.4,507.7 560.2,504.4 562.0,504.0 563.7,502.5 565.3,501.2 567.0,499.8 568.7,497.7 570.3,498.0 572.0,495.0 575.0,492.5 576.7,494.0 578.3,501.2 580.0,506.7 581.7,504.8 583.3,506.2 585.0,499.3 586.7,500.1 588.3,497.4 590.0,497.5 591.8,497.8 593.5,500.9 595.2,501.8 597.0,502.5 598.7,499.9 600.3,492.5 602.0,489.1 603.7,485.8 605.3,480.8 607.0,475.0 610.0,497.5 611.8,500.4 613.5,505.7 615.2,506.2 617.0,510.8 618.6,513.8 620.2,512.1 621.9,512.2 623.5,513.3 625.1,514.6 626.8,516.4 628.4,514.3 630.0,515.0 631.8,511.4 633.5,509.6 635.2,504.4 637.0,502.5 638.0,515.8 639.8,510.9 641.6,512.0 643.4,507.8 645.2,507.4 647.0,503.3 649.0,504.7 651.0,504.8 653.0,511.7 655.0,507.1 657.0,501.7 658.8,502.8 660.7,505.6 662.5,504.9 664.3,505.5 666.2,506.7 668.0,506.7 670.0,491.7 671.6,493.8 673.2,497.1 674.8,497.8 676.4,503.1 678.0,505.0 679.8,508.2 681.5,513.1 683.2,519.1 685.0,522.5 686.8,523.6 688.5,520.7 690.2,524.7 692.0,521.7 694.0,517.0 696.0,515.1 698.0,510.0 699.8,510.7 701.6,509.0 703.4,508.3 705.2,509.9 707.0,506.7 708.7,506.3 710.3,504.0 712.0,501.7 713.6,495.5 715.2,493.3 716.8,492.3 718.4,487.3 720.0,483.3 723.0,501.7 725.0,497.4 727.0,495.8 729.0,501.9 731.0,509.3 733.0,516.7 734.7,514.9 736.3,511.6 738.0,508.3 739.8,510.2 741.6,508.2 743.4,511.2 745.2,509.6 747.0,510.8 748.7,513.3 750.3,519.1 752.0,519.7 753.7,522.3 755.3,525.1 757.0,528.3 758.7,527.1 760.3,529.2 762.0,528.3 763.7,526.7 765.3,525.3 767.0,525.9 768.7,523.7 770.3,523.8 772.0,522.5 775.0,535.0 776.6,533.9 778.2,531.8 779.8,532.3 781.4,530.8 783.0,526.7 785.0,526.9 787.0,523.3 788.0,543.3 789.7,537.9 791.3,540.3 793.0,535.0 794.8,538.5 796.5,539.4 798.2,542.5 800.0,545.0 801.7,546.1 803.4,545.7 805.1,544.8 806.9,543.3 808.6,542.7 810.3,543.3 812.0,541.7 813.6,541.9 815.2,541.1 816.8,541.8 818.4,542.8 820.0,543.3 822.0,520.8 825.0,546.7 826.7,548.3 828.3,552.1 830.0,550.0 831.9,543.1 833.9,540.7 835.8,535.0 837.9,542.8 840.0,550.8 841.9,542.3 843.8,534.8 845.6,525.7 847.5,515.0 850.0,546.7 851.7,545.1 853.3,543.1 855.0,542.5 857.5,551.7 859.1,543.4 860.8,539.0 862.9,545.3 865.0,551.7 867.0,543.4 869.0,531.7 871.0,543.0 873.0,555.0 874.8,546.8 876.5,537.6 878.2,528.0 880.0,518.3 881.7,528.6 883.4,535.6 885.0,543.4 886.7,553.3 889.0,530.0 890.8,541.7 892.5,556.7 894.4,556.3 896.2,552.8 898.1,551.2 900.0,550.0 901.7,550.3 903.3,547.2 905.0,550.0 906.7,547.6 908.3,545.1 910.0,545.0 911.7,546.2 913.4,550.7 915.0,549.6 916.7,553.3 918.4,552.3 920.0,553.0 921.7,553.2 923.4,552.8 925.0,553.2 926.7,552.5 928.4,540.3 930.0,529.2 933.0,553.3 934.7,545.9 936.3,540.7 938.0,531.7 939.8,538.4 941.5,542.7 943.2,551.6 945.0,555.0 947.0,539.7 949.0,530.0 950.7,537.4 952.3,545.4 954.0,551.7 955.8,553.6 957.7,553.0 959.5,552.8 961.3,554.7 963.2,554.2 965.0,555.0 968.0,543.3 969.7,543.5 971.4,538.4 973.1,542.4 974.9,540.3 976.6,542.3 978.3,541.5 980.0,540.0 981.7,543.1 983.4,543.6 985.0,546.8 986.7,548.3 988.8,545.6 990.9,544.2 993.0,541.7 994.8,542.3 996.5,542.1 998.2,546.9 1000.0,545.0 1003.0,538.3 1004.8,542.7 1006.5,542.1 1008.2,549.6 1010.0,551.7 1012.5,516.7 1014.3,522.5 1016.2,531.9 1018.0,540.0 1019.7,541.5 1021.5,543.9 1023.2,547.4 1025.0,548.9 1026.7,551.7 1028.8,541.9 1030.9,536.1 1033.0,528.3 1034.8,522.2 1036.7,515.0 1039.0,531.7 1041.0,520.0 1043.0,503.3 1044.8,516.9 1046.7,531.7 1048.3,531.7 1050.0,535.0 1051.7,539.5 1053.3,545.9 1055.0,550.0 1056.7,546.3 1058.3,544.0 1060.0,543.3 1061.7,540.0 1063.4,540.6 1065.0,541.6 1066.7,541.1 1068.3,541.5 1070.0,543.3 1071.7,544.2 1073.3,545.9 1075.0,547.0 1076.7,549.5 1078.3,551.1 1080.0,551.7 1082.0,532.9 1084.0,512.5 1086.0,540.0 1087.7,532.1 1089.3,521.6 1091.0,514.2 1092.9,515.1 1094.8,520.3 1096.7,521.7 1098.8,528.4 1100.9,535.2 1103.0,541.7 1104.7,539.5 1106.5,540.3 1108.2,539.2 1110.0,538.3 1111.7,539.0 1113.4,543.5 1115.0,547.6 1116.7,555.0 1118.4,553.7 1120.0,553.9 1121.7,549.9 1123.4,549.6 1125.0,546.6 1126.7,546.7 1128.4,542.1 1130.0,538.2 1131.7,530.0 1133.4,531.0 1135.0,535.2 1136.7,538.3 1138.4,536.4 1140.0,531.1 1141.7,526.7 1143.4,526.9 1145.0,523.8 1146.7,526.7 1148.4,535.4 1150.0,545.7 1151.7,553.3 1153.6,541.4 1155.6,526.5 1157.5,511.7 1159.6,528.4 1161.7,546.7 1163.4,547.1 1165.0,546.8 1166.7,549.2 1168.3,553.6 1170.0,553.3 1171.6,551.8 1173.2,548.8 1174.8,551.2 1176.4,545.7 1178.0,546.7 1179.7,548.7 1181.4,546.7 1183.1,547.9 1184.9,548.6 1186.6,548.2 1188.3,549.9 1190.0,548.3 1191.7,542.8 1193.3,536.8 1195.0,531.7 1196.7,537.2 1198.3,542.6 1200.0,550.1 1201.7,557.5 1203.4,553.0 1205.0,547.0 1206.7,541.9 1208.3,538.0 1210.0,528.3 1211.7,532.2 1213.3,534.9 1215.0,535.2 1216.7,540.0 1218.3,520.5 1220.0,501.7 1221.7,530.0 1223.8,533.6 1225.9,531.9 1228.0,531.7 1229.8,535.3 1231.5,539.6 1233.2,540.3 1235.0,546.7 1236.7,544.7 1238.3,543.2 1240.0,541.2 1241.7,543.3 1243.6,548.5 1245.6,553.0 1247.5,555.8 1249.2,535.2 1251.0,515.0 1253.0,546.7 1254.7,548.2 1256.5,547.3 1258.2,550.3 1260.0,551.8 1261.7,551.7 1263.4,553.2 1265.0,552.5 1266.7,550.3 1268.3,548.8 1270.0,548.3 1273.0,543.3 1276.0,485.0 1278.0,515.5 1280.0,548.3 1281.7,547.5 1283.3,549.2 1285.0,549.1 1286.7,548.3 1288.4,537.8 1290.0,529.6 1291.7,516.7 1293.3,535.9 1295.0,553.3 1296.7,553.6 1298.3,553.6 1300.0,554.3 1301.7,553.1 1303.3,553.3 1305.0,555.0 1306.7,551.3 1308.3,545.8 1310.0,542.1 1311.7,538.3 1313.4,541.7 1315.0,541.4 1316.7,545.2 1318.3,545.0 1320.0,546.7 1321.7,549.6 1323.3,549.0 1325.0,546.7 1326.7,550.0 1328.4,553.4 1330.0,553.0 1331.7,552.2 1333.3,556.8 1335.0,558.3 1336.6,555.9 1338.2,551.2 1339.8,549.5 1341.4,548.4 1343.0,545.0 1344.7,547.6 1346.5,547.9 1348.2,548.7 1350.0,549.2 1351.7,548.3 1353.3,542.5 1354.9,542.5 1356.5,541.4 1358.2,535.1 1359.8,537.5 1361.4,535.3 1363.0,531.7 1364.8,543.1 1366.7,556.7 1368.8,540.6 1370.9,524.3 1373.0,510.0 1375.0,551.7 1376.6,552.7 1378.2,553.6 1379.8,554.7 1381.4,554.3 1383.0,556.7 1384.7,553.2 1386.5,548.2 1388.2,546.0 1390.0,541.1 1391.7,536.7 1393.4,529.3 1395.0,524.0 1396.7,520.8 1398.3,514.7 1400.0,510.0 1401.7,519.0 1403.3,527.8 1405.0,535.0 1406.6,537.0 1408.2,536.6 1409.8,539.3 1411.4,543.8 1413.0,545.0 1415.0,521.7 1416.7,526.3 1418.3,535.5 1420.0,540.0 1421.7,520.0 1423.4,524.2 1425.0,529.4 1426.7,531.8 1428.3,537.2 1430.0,541.7 1431.7,538.4 1433.3,543.1 1435.0,545.0 1436.7,545.0 1438.4,537.4 1440.0,531.1 1441.7,525.8 1443.4,519.6 1445.0,512.0 1446.7,506.7 1448.4,517.1 1450.0,523.3 1451.7,535.0 1453.4,533.2 1455.0,526.4 1456.7,525.0 1458.4,528.8 1460.0,536.9 1461.7,540.0 1463.4,532.3 1465.0,525.0 1466.7,521.1 1468.3,513.4 1470.0,508.3 1473.0,511.7 1474.7,515.7 1476.3,521.8 1478.0,527.3 1479.7,532.5 1481.3,538.0 1483.0,545.0 1484.7,543.2 1486.4,536.0 1488.1,534.2 1489.9,526.9 1491.6,525.5 1493.3,519.0 1495.0,516.7 1496.6,520.1 1498.2,525.6 1499.8,528.0 1501.4,529.9 1503.0,536.7 1504.7,537.0 1506.3,538.7 1508.0,540.8 1509.7,539.7 1511.3,541.8 1513.0,543.3 1514.7,541.5 1516.4,537.2 1518.1,537.5 1519.9,534.5 1521.6,534.4 1523.3,531.7 1525.0,530.0 1526.7,533.5 1528.3,534.1 1530.0,541.1 1531.7,545.0 1533.4,540.8 1535.0,536.4 1536.7,533.3 1538.3,528.6 1540.0,526.7 1541.6,526.3 1543.2,526.3 1544.8,525.5 1546.4,523.3 1548.0,523.3 1549.7,528.7 1551.3,530.6 1553.0,531.2 1554.7,535.4 1556.3,536.4 1558.0,541.7 1559.7,534.9 1561.3,529.4 1563.0,521.7 1564.7,534.6 1566.3,543.3 1568.0,555.0 1569.8,547.9 1571.5,545.6 1573.2,543.2 1575.0,536.7 1576.7,539.8 1578.3,544.3 1580.0,546.6 1581.7,548.3 1583.8,546.6 1585.9,541.4 1588.0,536.7 1589.7,531.6 1591.3,529.0 1593.0,527.8 1594.7,519.3 1596.3,513.3 1598.0,511.7 1599.8,518.8 1601.5,520.6 1603.2,523.3 1605.0,528.3 1606.7,527.9 1608.3,527.0 1610.0,530.6 1611.7,530.0 1613.3,530.2 1615.0,530.0 1616.7,534.1 1618.3,539.4 1620.0,545.0 1621.7,542.7 1623.3,543.2 1625.0,540.0 1626.7,541.4 1628.3,545.3 1630.0,545.0 1631.7,532.2 1633.3,520.8 1635.0,510.0 1638.0,540.0 1641.0,551.7 1643.0,536.0 1645.0,521.7 1647.5,508.3 1649.2,525.0 1651.0,543.3 1653.0,534.4 1655.0,525.8 1656.7,529.2 1658.3,531.4 1660.0,531.7 1661.7,534.6 1663.3,542.4 1665.0,545.0 1666.7,545.6 1668.3,548.1 1670.0,546.0 1671.7,546.7 1673.8,542.2 1675.9,541.1 1678.0,536.7 1680.0,547.5 1681.7,540.9 1683.3,531.9 1685.0,525.0 1686.8,515.4 1688.7,505.8 1691.7,526.7 1693.4,527.9 1695.0,529.1 1696.7,527.3 1698.3,529.0 1700.0,531.7 1701.6,530.4 1703.2,529.4 1704.8,526.9 1706.4,523.9 1708.0,525.0 1709.7,527.2 1711.5,525.2 1713.2,524.6 1715.0,528.6 1716.7,526.7 1718.8,520.3 1721.0,510.8 1723.0,526.9 1725.0,540.0 1726.6,540.5 1728.2,539.5 1729.8,536.7 1731.4,537.4 1733.0,536.7 1734.8,538.0 1736.5,539.2 1738.2,539.8 1740.0,540.0 1743.0,524.2 1744.7,525.8 1746.3,529.4 1748.0,533.3 1749.7,531.2 1751.5,529.7 1753.2,527.1 1755.0,524.1 1756.7,525.0 1758.3,527.4 1760.0,533.3 1761.6,529.1 1763.2,524.0 1764.8,520.1 1766.4,512.0 1768.0,510.0 1771.0,526.7 1773.0,503.3 1774.8,509.0 1776.7,515.8 1778.8,512.0 1780.9,503.1 1783.0,500.8 1784.8,506.8 1786.7,515.8 1788.8,501.3 1790.9,493.1 1793.0,479.2 1796.0,508.3 1797.9,506.4 1799.8,503.6 1801.7,502.5 1803.4,503.8 1805.0,504.6 1806.7,505.8 1808.6,505.1 1810.6,503.6 1812.5,500.0 1814.6,506.3 1816.7,510.0 1818.4,511.1 1820.0,512.4 1821.7,513.1 1823.3,514.3 1825.0,513.3 1826.7,508.3 1828.4,508.8 1830.0,514.9 1831.7,517.6 1833.4,520.8 1835.0,523.3 1836.7,526.7 1838.5,520.7 1840.3,515.7 1842.2,509.4 1844.0,503.3 1846.0,511.0 1848.0,516.8 1850.0,525.8 1853.0,518.3 1854.8,512.4 1856.7,510.0 1858.8,503.4 1860.9,496.4 1863.0,493.3 1864.7,498.1 1866.3,503.2 1868.0,510.0 1870.2,501.6 1872.5,498.3 1874.1,489.3 1875.8,485.1 1877.4,478.7 1879.0,473.3 1881.0,492.2 1883.0,505.0 1884.7,505.5 1886.3,502.5 1888.0,502.2 1889.7,500.8 1891.3,500.4 1893.0,500.8 1894.8,501.4 1896.5,502.8 1898.2,503.1 1900.0,505.0 1903.0,458.3 1904.7,475.9 1906.3,492.0 1908.0,507.5 1909.7,510.1 1911.3,505.4 1913.0,508.0 1914.7,506.4 1916.3,504.6 1918.0,506.7 1919.8,508.8 1921.7,511.7 1923.4,507.3 1925.0,507.5 1926.7,509.3 1928.4,505.2 1930.0,503.8 1931.7,499.2 1933.4,502.8 1935.0,500.9 1936.7,505.0 1938.4,505.2 1940.0,504.5 1941.7,504.6 1943.3,502.2 1945.0,503.3 1946.7,501.7 1948.3,508.5 1950.0,506.7 1951.7,511.7 1953.8,498.4 1955.8,481.7 1958.0,506.7 1959.0,481.7 1961.7,506.7 1963.3,491.3 1965.0,475.0 1966.7,506.7 1968.3,500.6 1970.0,495.8 1971.7,498.0 1973.3,498.0 1975.0,501.7 1976.7,505.2 1978.3,506.3 1980.0,508.3 1981.7,508.9 1983.3,509.4 1985.0,510.7 1986.7,511.8 1988.3,511.9 1990.0,513.3 1991.7,513.0 1993.3,510.3 1995.0,508.2 1996.7,506.7 1998.8,503.0 2000.9,503.4 2003.0,499.2 2005.0,505.0 2006.7,505.6 2008.3,503.5 2010.0,498.7 2011.7,500.0 2013.8,504.2 2015.9,510.9 2018.0,514.2 2019.7,511.9 2021.3,511.3 2023.0,506.5 2024.7,505.8 2026.3,503.1 2028.0,500.0 2029.8,498.2 2031.5,502.8 2033.2,504.7 2035.0,506.7 2036.7,507.5 2038.3,508.7 2040.0,513.9 2041.7,513.3 2043.4,513.8 2045.0,515.7 2046.7,513.3 2048.3,512.9 2050.0,515.8 2051.7,517.6 2053.3,516.7 2055.0,518.3 2056.7,518.5 2058.3,518.3 2060.0,516.0 2061.7,516.0 2063.3,514.5 2065.0,515.0 2066.7,512.6 2068.3,509.7 2070.0,503.3 2072.5,355.2 2073.5,355.2 2075.0,501.7 2077.5,520.0 2079.3,520.0 2081.2,518.0 2083.0,517.0 2084.9,517.0 2086.7,516.7 2088.4,516.9 2090.0,513.6 2091.7,515.8 2093.3,511.0 2095.0,511.7 2096.6,509.7 2098.2,509.5 2099.8,508.2 2101.4,503.1 2103.0,501.7 2104.8,502.4 2106.5,504.4 2108.2,502.1 2110.0,500.0 2111.7,498.0 2113.3,502.6 2115.0,506.7 2116.7,502.8 2118.3,506.9 2120.0,506.7 2121.7,505.9 2123.3,513.1 2125.0,511.7 2126.7,515.0 2128.4,518.9 2130.0,521.8 2131.7,523.3 2133.3,514.0 2135.0,512.5 2138.0,466.7 2141.0,510.8 2143.0,491.7 2144.8,497.2 2146.7,506.7 2148.8,507.2 2150.9,504.6 2153.0,506.7 2154.7,505.0 2156.5,502.0 2158.2,503.5 2160.0,499.3 2161.7,498.3 2163.4,494.3 2165.0,493.7 2166.7,490.0 2168.4,490.9 2170.0,488.1 2171.7,487.5 2173.8,489.3 2175.9,491.0 2178.0,491.7 2179.8,494.8 2181.5,497.5 2183.2,503.7 2185.0,506.7 2186.7,480.0 2189.0,506.7 2191.0,508.1 2193.0,508.7 2195.0,512.5 2196.7,510.1 2198.3,506.0 2200.0,502.0 2201.7,498.3 2203.4,498.9 2205.0,501.3 2206.7,504.2 2208.3,505.7 2210.0,506.7 2211.7,508.9 2213.3,512.1 2215.0,516.7 2216.6,514.3 2218.2,511.3 2219.8,509.4 2221.4,503.7 2223.0,502.5 2224.8,501.9 2226.5,501.2 2228.2,498.2 2230.0,495.0 2231.7,492.3 2233.3,490.4 2235.0,484.4 2236.7,483.3 2238.4,485.9 2240.0,492.5 2241.7,490.6 2243.3,494.4 2245.0,499.2 2246.7,501.4 2248.3,500.3 2250.0,501.5 2251.7,503.3 2253.4,502.9 2255.0,508.0 2256.7,506.0 2258.3,507.6 2260.0,509.2 2261.6,506.5 2263.2,509.9 2264.8,508.6 2266.4,509.2 2268.0,508.3 2269.8,508.2 2271.5,504.0 2273.2,499.8 2275.0,499.2 2278.0,509.2 2279.7,495.8 2281.3,485.4 2283.0,473.3 2284.8,478.1 2286.5,477.5 2288.2,481.7 2290.0,485.0 2293.0,488.3 2294.7,490.9 2296.3,494.8 2298.0,496.7 2343.0,496.7" fill="none" stroke="#9acd32" stroke-width="1.25" stroke-linejoin="round"/>
<polyline points="60.0,413.0 61.8,416.5 63.5,414.6 65.2,416.8 67.0,417.5 68.8,415.6 70.6,414.3 72.4,410.1 74.2,409.1 76.0,407.5 77.5,418.0 79.2,417.7 80.9,417.7 82.7,418.4 84.4,419.1 86.1,419.8 87.8,419.6 89.6,421.3 91.3,420.7 93.0,421.7 94.7,417.8 96.4,421.6 98.1,419.3 99.8,418.3 101.5,418.6 103.2,417.9 104.9,417.1 106.6,415.5 108.3,415.9 110.0,415.0 111.7,414.7 113.3,418.9 115.0,417.5 116.7,419.8 118.3,421.3 120.0,422.5 121.7,421.9 123.4,420.6 125.1,420.4 126.8,415.5 128.5,418.0 130.2,417.1 131.9,416.0 133.6,417.1 135.3,413.7 137.0,414.0 138.6,414.6 140.2,413.4 141.8,416.5 143.5,415.3 145.1,416.1 146.7,420.9 148.3,420.0 149.9,420.0 151.5,421.0 153.2,420.1 154.8,421.3 156.4,423.5 158.0,424.0 159.7,421.4 161.4,423.5 163.1,421.1 164.9,422.7 166.6,421.1 168.3,423.7 170.0,421.7 171.7,422.3 173.3,420.4 175.0,418.7 176.7,419.4 178.3,419.8 180.0,418.6 181.7,419.5 183.3,419.9 185.0,418.5 186.7,417.8 188.3,418.7 190.0,417.3 191.7,418.1 193.3,416.6 195.0,416.7 196.7,417.6 198.3,415.1 200.0,413.6 201.7,414.2 203.3,412.8 205.0,413.0 206.7,411.7 208.4,412.4 210.1,413.1 211.9,409.9 213.6,411.9 215.3,411.6 217.0,411.7 218.7,412.0 220.3,413.5 222.0,411.9 223.7,414.4 225.3,414.1 227.0,415.0 228.6,415.2 230.2,415.0 231.8,415.1 233.5,415.1 235.1,416.3 236.7,418.2 238.3,417.3 239.9,417.3 241.5,417.2 243.2,416.3 244.8,417.6 246.4,419.3 248.0,417.5 249.8,416.2 251.6,418.4 253.4,418.7 255.2,418.1 257.0,418.0 258.6,417.3 260.2,416.5 261.8,416.0 263.4,413.6 265.0,411.0 266.7,413.9 268.3,413.8 270.0,415.6 271.7,416.2 273.3,417.6 275.0,418.1 276.7,420.6 278.3,422.6 280.0,422.5 281.6,421.7 283.3,421.5 284.9,421.3 286.6,420.1 288.2,420.5 289.9,419.2 291.5,417.1 293.2,416.7 294.8,417.9 296.5,417.2 298.1,417.1 299.8,415.7 301.4,415.0 303.1,412.6 304.7,415.0 306.4,412.1 308.0,412.5 309.7,414.0 311.4,412.3 313.1,413.3 314.9,414.6 316.6,414.5 318.3,414.8 320.0,416.0 321.7,417.4 323.4,417.7 325.1,417.9 326.8,417.6 328.5,417.6 330.2,418.5 331.9,418.9 333.6,419.9 335.3,421.2 337.0,421.0 338.7,421.0 340.3,420.6 342.0,421.0 343.7,423.2 345.3,422.3 347.0,422.6 348.7,422.8 350.3,423.4 352.0,423.0 354.0,420.8 356.0,419.5 358.0,416.0 360.0,420.8 362.0,424.0 363.7,420.4 365.3,422.4 367.0,424.8 368.7,419.8 370.3,420.5 372.0,420.7 373.7,418.9 375.3,419.6 377.0,417.5 378.7,418.4 380.3,420.6 382.0,424.0 383.6,423.8 385.2,423.3 386.8,422.9 388.4,424.6 390.0,424.3 391.6,424.0 393.2,423.6 394.8,424.3 396.4,423.9 398.0,424.0 399.7,422.4 401.3,422.8 403.0,421.9 404.7,420.7 406.3,420.5 408.0,419.0 409.6,416.5 411.2,416.1 412.9,414.3 414.5,414.8 416.1,412.6 417.8,412.9 419.4,410.9 421.0,408.0 423.0,420.0 424.7,419.5 426.4,418.6 428.1,420.0 429.8,419.0 431.5,419.0 433.2,417.9 434.9,419.4 436.6,418.8 438.3,418.9 440.0,418.3 441.7,418.3 443.4,416.7 445.1,415.1 446.8,416.7 448.5,416.0 450.2,415.8 451.9,416.9 453.6,415.6 455.3,416.8 457.0,415.0 458.7,416.3 460.3,417.9 462.0,418.9 463.7,420.3 465.3,419.3 467.0,421.7 468.7,422.0 470.3,420.1 472.0,418.2 473.7,419.0 475.3,417.9 477.0,416.7 478.8,414.6 480.5,410.7 482.2,407.0 484.0,403.3 486.0,402.2 488.0,406.1 490.0,405.0 491.8,408.2 493.5,409.1 495.2,410.5 497.0,411.7 498.7,413.5 500.3,412.0 502.0,414.2 503.7,414.2 505.3,413.7 507.0,415.7 508.7,416.3 510.3,418.3 512.0,418.1 513.7,416.2 515.3,416.4 517.0,419.0 518.6,418.3 520.2,417.5 521.9,416.2 523.5,415.0 525.1,415.7 526.8,414.1 528.4,413.9 530.0,414.0 531.8,414.3 533.5,413.1 535.2,411.5 537.0,411.7 538.6,411.2 540.2,412.8 541.8,415.4 543.4,413.8 545.0,415.0 546.7,416.5 548.3,413.8 550.0,414.2 551.7,414.9 553.3,413.3 555.0,413.9 556.7,412.3 558.3,414.2 560.0,413.3 561.8,412.6 563.5,408.9 565.2,407.9 567.0,405.8 568.7,405.0 570.3,402.8 572.0,407.3 573.7,404.8 575.3,404.5 577.0,403.3 579.0,406.5 581.0,409.1 583.0,411.7 584.8,412.1 586.5,406.0 588.2,405.6 590.0,404.0 591.7,403.4 593.4,403.5 595.1,404.2 596.8,402.7 598.5,401.9 600.2,402.0 601.9,403.4 603.6,403.8 605.3,403.5 607.0,402.5 609.0,404.4 611.0,402.5 613.0,403.3 614.8,405.8 616.6,407.0 618.4,407.6 620.2,408.5 622.0,410.8 623.6,413.0 625.2,412.8 626.8,414.5 628.4,415.2 630.0,417.5 631.7,418.8 633.3,416.6 635.0,415.7 636.7,415.6 638.3,415.2 640.0,415.0 641.7,414.7 643.3,412.6 645.0,412.7 646.7,414.0 648.3,414.2 650.0,411.8 651.7,412.5 653.3,411.5 655.0,411.7 657.0,417.5 658.6,415.5 660.2,417.8 661.9,417.4 663.5,419.6 665.1,418.9 666.8,419.3 668.4,418.2 670.0,420.1 671.6,418.4 673.2,420.8 674.9,422.3 676.5,420.0 678.1,422.4 679.8,423.3 681.4,422.0 683.0,422.5 684.7,423.2 686.4,421.7 688.1,420.7 689.8,418.8 691.5,419.3 693.2,418.5 694.9,421.9 696.6,419.4 698.3,418.5 700.0,418.3 701.7,416.4 703.3,418.9 705.0,415.5 706.7,417.6 708.3,416.6 710.0,415.0 711.7,418.1 713.3,420.3 715.0,424.0 716.7,421.0 718.3,416.7 720.0,415.0 723.0,421.0 724.7,422.3 726.3,424.0 728.0,423.9 729.7,424.7 731.3,423.6 733.0,425.0 734.7,425.8 736.4,425.0 738.1,426.0 739.8,427.7 741.5,430.0 743.2,428.1 744.9,428.5 746.6,427.1 748.3,429.7 750.0,430.0 751.7,429.2 753.3,428.9 755.0,428.9 756.7,430.7 758.3,430.3 760.0,430.8 761.7,431.3 763.3,430.3 765.0,430.4 766.7,431.7 768.3,430.9 770.0,430.0 771.8,432.6 773.5,435.2 775.2,435.8 777.0,437.5 779.0,434.0 781.0,431.7 783.0,430.0 784.7,428.9 786.4,431.3 788.1,431.0 789.9,432.4 791.6,433.2 793.3,432.0 795.0,433.3 796.7,435.2 798.3,437.9 800.0,438.3 801.7,439.0 803.3,440.4 805.0,439.8 806.7,439.6 808.3,440.9 810.0,441.7 811.8,438.1 813.5,439.1 815.2,436.2 817.0,435.0 818.7,438.0 820.3,437.1 822.0,440.0 824.0,437.9 826.0,435.9 828.0,433.3 829.7,433.6 831.5,434.7 833.2,434.0 835.0,434.2 836.7,435.8 838.4,435.8 840.0,438.0 841.7,440.0 843.4,436.9 845.0,435.8 846.7,433.3 848.8,435.4 850.9,437.6 853.0,440.8 854.7,439.9 856.3,438.6 858.0,440.0 859.7,440.7 861.3,438.8 863.0,440.0 864.8,437.2 866.5,435.7 868.2,431.8 870.0,430.0 871.6,428.2 873.2,425.6 874.8,426.5 876.4,423.4 878.0,420.0 879.8,417.9 881.5,412.7 883.2,410.7 885.0,406.7 887.5,427.5 890.0,410.0 891.7,416.9 893.4,424.5 895.0,430.6 896.7,438.3 898.4,435.7 900.0,432.0 901.7,430.0 903.8,426.6 905.9,424.4 908.0,419.0 909.7,419.0 911.3,420.5 913.0,423.3 914.9,432.6 916.7,440.8 918.4,441.7 920.0,440.6 921.7,441.7 923.4,441.7 925.0,441.9 926.7,442.9 928.3,440.9 930.0,441.7 931.7,441.5 933.4,440.2 935.0,438.5 936.7,438.3 938.4,441.8 940.0,444.2 941.6,442.9 943.3,442.7 944.9,445.3 946.5,443.1 948.2,445.9 949.8,445.3 951.5,443.7 953.1,443.3 954.7,441.9 956.4,444.1 958.0,444.2 959.9,436.7 961.7,432.5 963.4,438.7 965.0,441.7 966.7,437.8 968.3,437.3 970.0,435.0 971.7,434.3 973.4,438.8 975.0,442.6 976.7,443.3 978.9,436.2 981.0,430.0 983.0,435.4 985.0,442.5 986.6,441.9 988.2,442.7 989.9,443.1 991.5,441.9 993.1,439.9 994.8,442.2 996.4,442.8 998.0,441.7 1000.0,423.3 1003.0,416.7 1004.8,425.9 1006.5,430.6 1008.2,437.5 1010.0,444.2 1012.5,431.7 1014.6,436.9 1016.7,443.3 1018.8,442.4 1020.9,441.8 1023.0,438.3 1024.7,439.0 1026.5,441.7 1028.2,442.3 1030.0,444.3 1031.7,446.7 1033.3,445.2 1034.9,444.6 1036.5,441.9 1038.2,441.1 1039.8,441.5 1041.4,439.3 1043.0,437.5 1044.8,441.6 1046.7,444.2 1048.4,444.4 1050.0,443.6 1051.7,444.0 1053.3,443.9 1055.0,443.1 1056.7,444.0 1058.3,442.7 1060.0,442.5 1061.7,438.3 1063.4,441.2 1065.0,442.2 1066.7,444.2 1068.8,444.1 1070.9,441.8 1073.0,441.7 1074.7,441.9 1076.4,442.2 1078.1,445.4 1079.9,445.5 1081.6,446.1 1083.3,447.3 1085.0,447.5 1086.7,446.3 1088.3,446.9 1090.0,445.9 1091.7,444.2 1093.4,445.4 1095.0,444.5 1096.7,445.0 1098.4,445.3 1100.0,442.0 1101.7,441.0 1103.4,441.5 1105.0,439.4 1106.7,438.3 1108.4,439.3 1110.0,443.2 1111.7,444.5 1113.3,449.4 1115.0,450.0 1116.7,448.7 1118.3,448.9 1120.0,446.6 1121.7,448.5 1123.3,451.0 1125.0,448.7 1126.7,447.7 1128.3,448.8 1130.0,448.3 1131.7,447.7 1133.3,447.7 1135.0,450.0 1136.7,449.3 1138.3,448.6 1140.0,446.7 1141.6,448.9 1143.2,446.8 1144.9,446.2 1146.5,449.5 1148.1,449.7 1149.8,449.8 1151.4,450.2 1153.0,450.8 1155.2,447.0 1157.5,441.7 1159.3,443.8 1161.1,445.0 1162.9,446.8 1164.6,447.7 1166.4,449.0 1168.2,452.4 1170.0,452.5 1171.7,451.8 1173.3,453.7 1175.0,451.9 1176.7,450.9 1178.3,451.6 1180.0,450.0 1181.6,448.2 1183.2,447.3 1184.9,445.9 1186.5,445.0 1188.1,444.4 1189.8,444.6 1191.4,441.8 1193.0,440.0 1194.8,442.7 1196.5,446.7 1198.2,449.4 1200.0,455.0 1201.6,453.7 1203.2,451.9 1204.8,449.3 1206.4,447.4 1208.0,445.0 1209.7,444.2 1211.4,442.8 1213.1,441.7 1214.9,440.0 1216.6,437.4 1218.3,438.1 1220.0,435.8 1221.6,440.0 1223.2,439.8 1224.8,444.1 1226.4,446.0 1228.0,450.0 1229.7,451.1 1231.3,450.8 1233.0,451.7 1234.7,450.4 1236.3,447.2 1238.0,443.3 1239.7,443.9 1241.3,445.0 1243.0,446.0 1244.7,448.4 1246.3,447.9 1248.0,450.0 1251.0,411.7 1253.0,446.7 1254.7,448.8 1256.3,448.6 1258.0,452.8 1259.7,453.9 1261.3,453.8 1263.0,456.7 1264.8,455.6 1266.6,456.2 1268.4,456.0 1270.2,452.4 1272.0,455.0 1274.0,426.9 1276.0,398.3 1278.0,428.2 1280.0,455.0 1281.8,454.7 1283.5,454.0 1285.2,456.8 1287.0,455.8 1288.7,449.7 1290.3,443.3 1292.0,436.7 1293.7,442.6 1295.3,446.0 1297.0,452.5 1299.0,453.2 1301.0,454.1 1303.0,456.7 1304.8,452.5 1306.6,450.4 1308.4,446.6 1310.2,446.3 1312.0,441.7 1313.7,445.5 1315.3,449.2 1317.0,451.7 1318.6,450.3 1320.2,452.1 1321.8,452.5 1323.4,453.1 1325.0,453.3 1326.6,455.4 1328.2,455.8 1329.8,457.4 1331.4,461.0 1333.0,461.7 1334.8,462.3 1336.5,460.5 1338.2,456.4 1340.0,455.0 1341.6,451.9 1343.2,450.5 1344.8,448.5 1346.4,447.4 1348.0,443.3 1349.7,449.7 1351.3,455.9 1353.0,463.3 1354.8,461.0 1356.6,455.9 1358.4,452.5 1360.2,450.6 1362.0,446.7 1364.0,452.6 1366.0,457.8 1368.0,465.0 1369.7,450.3 1371.3,435.7 1373.0,421.7 1376.0,460.0 1377.6,454.1 1379.2,447.9 1380.8,443.6 1382.4,437.0 1384.0,431.7 1386.7,456.7 1388.4,454.1 1390.0,453.8 1391.7,449.7 1393.3,449.5 1395.0,446.7 1396.7,444.5 1398.3,440.8 1400.0,438.3 1401.7,441.6 1403.3,442.9 1405.0,447.7 1406.7,449.5 1408.3,452.7 1410.0,456.7 1411.8,450.0 1413.6,441.9 1415.4,435.8 1417.2,429.1 1419.0,421.7 1421.7,451.7 1423.4,454.4 1425.0,455.4 1426.7,457.7 1428.3,457.6 1430.0,460.0 1431.7,458.4 1433.3,458.2 1435.0,457.4 1436.7,455.0 1438.5,453.4 1440.3,450.3 1442.2,447.7 1444.0,446.7 1446.0,450.7 1448.0,457.8 1450.0,461.7 1451.7,458.7 1453.3,457.6 1455.0,456.5 1456.7,454.3 1458.3,451.2 1460.0,450.0 1461.7,449.9 1463.3,446.0 1465.0,444.1 1466.7,441.7 1468.8,448.6 1470.9,453.6 1473.0,460.0 1474.7,460.7 1476.3,459.9 1478.0,459.1 1479.7,459.0 1481.3,460.4 1483.0,460.0 1484.7,458.2 1486.4,456.0 1488.1,453.8 1489.9,452.1 1491.6,451.3 1493.3,449.7 1495.0,446.7 1496.6,448.1 1498.2,450.3 1499.8,449.8 1501.4,452.2 1503.0,455.0 1504.7,453.7 1506.4,452.8 1508.1,453.8 1509.8,450.4 1511.6,452.4 1513.3,451.9 1515.0,452.9 1516.7,450.0 1518.4,450.6 1520.0,452.8 1521.7,454.9 1523.3,455.5 1525.0,454.8 1526.7,456.5 1528.3,456.9 1530.0,459.2 1531.7,458.6 1533.3,458.5 1535.0,458.5 1536.7,457.0 1538.3,456.6 1540.0,455.0 1541.7,456.1 1543.3,454.2 1545.0,455.7 1546.7,456.0 1548.4,454.8 1550.0,454.0 1551.7,455.0 1553.8,457.4 1555.9,459.6 1558.0,461.7 1559.7,461.4 1561.5,457.9 1563.2,458.3 1565.0,459.7 1566.7,456.7 1568.4,457.0 1570.0,454.5 1571.7,453.4 1573.3,452.4 1575.0,451.7 1576.7,452.8 1578.3,455.4 1580.0,457.9 1581.7,460.0 1583.3,458.5 1584.9,459.4 1586.5,459.5 1588.2,457.7 1589.8,458.3 1591.4,457.0 1593.0,458.3 1594.8,457.1 1596.5,456.0 1598.2,454.0 1600.0,453.3 1601.7,454.2 1603.3,455.6 1605.0,456.5 1606.7,456.7 1608.4,454.8 1610.0,455.2 1611.7,453.6 1613.4,452.5 1615.0,454.9 1616.7,453.3 1618.3,454.9 1620.0,455.0 1621.7,460.0 1623.6,457.4 1625.6,453.0 1627.5,448.3 1629.2,453.6 1631.0,460.0 1633.0,451.9 1635.0,443.3 1637.0,448.6 1639.0,456.3 1641.0,460.8 1642.7,454.3 1644.3,452.9 1646.0,448.3 1648.0,415.0 1651.0,458.3 1652.8,453.8 1654.5,451.1 1656.2,447.7 1658.0,442.5 1659.7,445.7 1661.5,451.5 1663.2,455.1 1665.0,456.3 1666.7,461.7 1668.8,460.7 1670.9,454.9 1673.0,453.3 1674.8,454.0 1676.5,458.4 1678.2,458.9 1680.0,461.7 1681.7,458.2 1683.3,454.2 1685.0,449.4 1686.7,446.7 1688.8,451.1 1690.9,453.7 1693.0,455.0 1694.7,454.9 1696.3,456.3 1698.0,454.6 1699.7,454.7 1701.3,454.0 1703.0,454.2 1704.7,449.0 1706.3,446.1 1708.0,442.5 1709.7,442.2 1711.5,444.2 1713.2,444.6 1715.0,444.6 1716.7,445.8 1718.8,441.7 1721.0,435.0 1723.0,443.3 1725.0,450.8 1726.7,452.9 1728.3,450.9 1730.0,451.1 1731.7,451.0 1733.4,452.3 1735.0,452.1 1736.7,452.5 1738.3,454.6 1740.0,456.7 1743.0,443.3 1745.2,449.7 1747.5,452.5 1749.6,446.2 1751.7,438.3 1753.4,441.3 1755.0,446.0 1756.7,449.2 1758.8,447.3 1760.9,445.6 1763.0,444.2 1765.0,446.5 1767.0,449.3 1769.0,451.7 1771.0,441.9 1773.0,430.8 1774.8,440.2 1776.7,447.5 1778.8,446.1 1780.9,443.9 1783.0,443.3 1784.7,443.3 1786.5,443.1 1788.2,443.0 1790.0,442.1 1791.7,443.3 1793.0,437.5 1794.7,439.3 1796.3,439.5 1798.0,443.3 1799.7,443.4 1801.5,441.7 1803.2,440.6 1805.0,437.7 1806.7,437.5 1808.6,434.7 1810.6,432.7 1812.5,428.3 1814.3,431.7 1816.2,434.5 1818.0,439.2 1819.7,439.6 1821.4,438.0 1823.1,441.7 1824.8,441.7 1826.6,440.4 1828.3,443.0 1830.0,443.9 1831.7,443.3 1833.3,442.6 1834.9,441.4 1836.5,440.9 1838.2,438.3 1839.8,438.2 1841.4,435.3 1843.0,434.2 1844.7,435.0 1846.3,436.9 1848.0,437.7 1849.7,440.7 1851.3,441.1 1853.0,443.3 1854.7,443.2 1856.4,442.6 1858.1,443.4 1859.8,443.1 1861.5,440.3 1863.2,440.1 1864.9,439.6 1866.6,438.7 1868.3,440.6 1870.0,438.3 1871.6,437.9 1873.2,434.8 1874.8,431.9 1876.4,431.0 1878.0,430.0 1879.7,430.4 1881.5,432.3 1883.2,429.7 1885.0,432.8 1886.7,431.7 1888.3,430.0 1889.9,431.6 1891.5,429.8 1893.2,430.3 1894.8,428.1 1896.4,430.8 1898.0,430.0 1899.8,403.4 1901.7,376.7 1904.0,359.7 1906.0,362.0 1908.0,423.3 1909.7,424.6 1911.5,425.8 1913.2,430.2 1915.0,432.6 1916.7,435.0 1918.4,431.2 1920.0,430.8 1921.7,427.9 1923.3,424.5 1925.0,423.3 1926.7,425.0 1928.3,425.8 1930.0,431.5 1931.7,433.3 1933.3,433.9 1934.9,432.4 1936.5,431.0 1938.2,430.7 1939.8,431.2 1941.4,430.3 1943.0,430.8 1944.8,431.3 1946.5,430.4 1948.2,432.4 1950.0,431.7 1951.7,431.8 1953.3,429.0 1955.0,427.7 1956.7,427.5 1959.0,420.8 1961.7,430.0 1963.3,425.4 1965.0,426.7 1966.7,427.5 1968.3,428.7 1970.0,428.2 1971.7,430.0 1973.4,429.7 1975.0,426.5 1976.7,425.8 1978.8,426.6 1980.9,430.5 1983.0,431.7 1984.8,430.7 1986.5,426.7 1988.2,426.6 1990.0,425.8 1991.6,424.7 1993.2,425.9 1994.8,426.5 1996.4,426.0 1998.0,426.7 1999.7,428.0 2001.5,429.9 2003.2,429.8 2005.0,430.1 2006.7,432.5 2008.4,432.2 2010.0,434.7 2011.7,436.3 2013.4,435.1 2015.0,436.4 2016.7,436.7 2018.4,435.0 2020.0,434.4 2021.7,435.1 2023.4,432.8 2025.0,432.7 2026.7,431.7 2028.4,432.2 2030.0,433.7 2031.7,433.2 2033.4,433.3 2035.0,433.5 2036.7,434.2 2038.4,434.0 2040.0,435.8 2041.7,437.3 2043.3,433.9 2045.0,435.8 2046.7,436.2 2048.3,433.6 2050.0,433.4 2051.7,433.1 2053.4,432.4 2055.0,431.9 2056.7,431.7 2058.4,431.9 2060.0,435.1 2061.7,432.7 2063.3,434.3 2065.0,435.8 2066.7,429.2 2068.3,424.3 2070.0,418.3 2072.5,311.7 2073.5,311.7 2076.7,420.8 2078.8,422.6 2080.9,426.9 2083.0,430.0 2084.8,431.6 2086.5,434.8 2088.2,435.0 2090.0,435.8 2093.0,426.7 2094.8,428.1 2096.5,429.7 2098.2,432.9 2100.0,432.5 2101.7,429.7 2103.3,426.4 2105.0,423.8 2106.7,421.7 2108.4,424.1 2110.0,428.1 2111.7,430.0 2113.4,428.2 2115.0,427.7 2116.7,427.5 2118.4,428.6 2120.0,428.8 2121.7,431.5 2123.4,431.6 2125.0,433.6 2126.7,434.2 2128.8,434.4 2130.9,435.1 2133.0,433.3 2134.7,428.7 2136.3,419.7 2138.0,414.2 2139.8,422.4 2141.7,433.3 2143.3,431.9 2144.9,433.3 2146.5,433.1 2148.2,432.4 2149.8,432.1 2151.4,433.4 2153.0,431.7 2154.7,432.3 2156.4,431.4 2158.1,431.6 2159.9,429.2 2161.6,431.6 2163.3,432.3 2165.0,430.0 2166.7,429.9 2168.3,429.0 2170.0,430.4 2171.7,428.4 2173.3,428.7 2175.0,428.9 2176.7,427.9 2178.3,428.5 2180.0,427.5 2183.0,430.8 2184.8,423.9 2186.7,420.8 2188.3,423.8 2190.0,431.7 2191.6,432.6 2193.2,432.6 2194.9,432.5 2196.5,432.1 2198.1,432.7 2199.8,433.3 2201.4,432.0 2203.0,433.3 2204.7,433.1 2206.4,431.7 2208.1,434.1 2209.8,432.0 2211.6,431.5 2213.3,431.8 2215.0,431.3 2216.7,430.0 2218.4,430.7 2220.0,428.9 2221.7,429.5 2223.4,430.0 2225.0,429.2 2226.7,428.9 2228.4,428.0 2230.0,428.5 2231.7,429.5 2233.4,426.7 2235.0,426.4 2236.7,427.5 2238.4,426.3 2240.0,426.0 2241.7,428.8 2243.3,429.4 2245.0,428.0 2246.7,427.6 2248.3,428.9 2250.0,427.5 2251.6,428.5 2253.2,425.2 2254.9,427.4 2256.5,429.9 2258.1,427.1 2259.8,426.8 2261.4,426.9 2263.0,427.5 2264.7,428.2 2266.3,425.4 2268.0,425.4 2269.7,425.4 2271.3,423.5 2273.0,422.5 2274.7,423.4 2276.3,423.1 2278.0,425.0 2279.7,421.8 2281.3,422.2 2283.0,419.2 2284.7,419.2 2286.5,422.9 2288.2,424.4 2290.0,426.0 2291.7,425.8 2293.8,426.8 2295.9,427.2 2298.0,429.2 2343.0,429.2" fill="none" stroke="#da70d6" stroke-width="1.25" stroke-linejoin="round"/>
<polyline points="60.0,397.5 61.7,398.5 63.3,400.6 65.0,399.3 66.7,402.2 68.3,401.8 70.0,403.0 72.0,401.1 74.0,401.6 76.0,398.0 78.0,401.2 80.0,404.0 81.7,404.2 83.4,405.3 85.1,406.0 86.9,405.1 88.6,406.0 90.3,404.7 92.0,406.0 93.7,406.5 95.3,407.2 97.0,407.2 98.7,407.8 100.3,408.5 102.0,411.0 103.6,409.2 105.2,407.6 106.8,405.9 108.4,404.7 110.0,403.0 111.7,402.5 113.4,404.6 115.1,405.8 116.9,407.2 118.6,406.4 120.3,407.7 122.0,409.0 123.7,406.2 125.3,406.9 127.0,404.5 128.7,404.5 130.3,406.2 132.0,402.1 133.7,404.4 135.3,403.1 137.0,402.0 140.0,407.0 141.6,407.1 143.3,408.4 144.9,408.9 146.5,409.9 148.2,409.0 149.8,409.1 151.5,409.6 153.1,409.6 154.7,411.0 156.4,410.8 158.0,412.0 159.7,412.5 161.4,409.0 163.1,409.2 164.9,408.8 166.6,407.0 168.3,410.5 170.0,408.0 171.6,405.3 173.3,407.1 174.9,406.6 176.6,408.5 178.2,404.6 179.9,407.4 181.5,405.3 183.1,405.6 184.8,404.8 186.4,405.8 188.1,403.7 189.7,404.5 191.4,404.6 193.0,404.0 194.7,405.4 196.4,400.7 198.1,404.2 199.9,403.2 201.6,401.4 203.3,401.7 205.0,401.0 206.7,400.4 208.3,402.3 210.0,400.7 211.7,400.1 213.3,399.9 215.0,400.0 216.7,400.2 218.4,400.7 220.1,400.4 221.9,403.8 223.6,400.2 225.3,399.0 227.0,403.0 228.6,403.2 230.2,403.5 231.8,404.3 233.5,404.0 235.1,404.4 236.7,405.2 238.3,406.1 239.9,405.0 241.5,405.4 243.2,408.0 244.8,406.9 246.4,405.7 248.0,407.0 249.8,409.5 251.6,408.2 253.4,407.0 255.2,406.6 257.0,408.0 258.6,406.5 260.2,403.6 261.8,401.5 263.4,399.5 265.0,399.0 266.7,399.7 268.4,402.5 270.1,402.2 271.8,402.4 273.5,405.7 275.2,406.3 276.9,408.2 278.6,409.8 280.3,409.6 282.0,411.0 283.7,409.7 285.3,408.6 287.0,407.5 288.6,405.7 290.2,406.9 291.8,406.9 293.5,405.1 295.1,404.0 296.7,403.3 298.3,402.1 299.9,401.5 301.5,401.2 303.2,400.1 304.8,399.9 306.4,398.1 308.0,399.0 309.8,399.6 311.5,399.5 313.2,398.6 315.0,400.0 316.6,398.4 318.3,401.4 319.9,403.3 321.5,402.2 323.2,403.2 324.8,403.8 326.5,405.7 328.1,404.9 329.7,407.5 331.4,407.0 333.0,408.0 334.7,409.1 336.4,408.4 338.1,408.4 339.8,407.3 341.5,408.3 343.2,408.9 344.9,410.1 346.6,409.8 348.3,409.1 350.0,410.0 351.7,408.4 353.3,407.0 355.0,404.0 356.8,405.6 358.5,407.1 360.2,408.9 362.0,411.0 363.7,411.0 365.3,410.0 367.0,407.7 368.7,408.3 370.3,406.6 372.0,405.6 373.7,406.8 375.3,405.6 377.0,404.0 379.0,404.9 381.0,407.4 383.0,409.0 384.7,409.6 386.3,408.6 388.0,409.2 389.7,410.1 391.3,407.8 393.0,410.0 394.7,410.5 396.3,410.4 398.0,410.0 399.7,408.2 401.3,409.3 403.0,407.6 404.7,408.6 406.3,408.1 408.0,407.0 409.6,406.0 411.2,403.9 412.9,402.8 414.5,403.1 416.1,400.2 417.8,400.4 419.4,399.2 421.0,397.5 423.0,401.5 425.0,406.0 426.7,408.4 428.3,406.0 430.0,408.1 431.7,403.9 433.3,403.6 435.0,406.8 436.7,406.5 438.3,405.5 440.0,405.8 441.7,405.4 443.3,403.2 445.0,404.1 446.7,403.3 448.3,403.7 450.0,404.5 451.7,403.3 453.3,403.2 455.0,402.5 456.7,402.6 458.3,403.7 460.0,405.1 461.7,405.5 463.4,407.9 465.0,406.6 466.7,408.3 468.8,408.3 470.9,403.5 473.0,402.5 474.8,401.8 476.7,398.1 478.5,398.7 480.3,395.4 482.2,393.9 484.0,391.7 486.0,392.7 488.0,391.6 490.0,392.5 491.7,393.4 493.3,394.3 495.0,398.3 496.6,400.0 498.3,398.6 499.9,399.3 501.5,400.3 503.2,402.9 504.8,399.7 506.5,402.2 508.1,402.0 509.7,403.5 511.4,401.7 513.0,404.0 514.7,403.2 516.3,404.1 518.0,404.4 519.7,404.1 521.3,401.2 523.0,401.7 524.7,401.6 526.4,401.3 528.1,399.9 529.9,399.7 531.6,401.8 533.3,401.2 535.0,400.8 538.0,397.5 539.8,398.4 541.5,400.8 543.2,399.6 545.0,401.7 548.0,397.5 549.7,398.6 551.3,398.6 553.0,399.1 554.7,400.2 556.3,400.4 558.0,400.8 559.7,400.5 561.3,399.9 563.0,399.0 565.0,398.1 567.0,393.3 568.7,394.4 570.3,397.1 572.0,397.5 574.0,395.6 576.0,392.2 578.0,390.0 579.8,393.5 581.5,394.5 583.2,399.3 585.0,400.8 588.0,391.7 589.8,391.5 591.5,392.4 593.2,393.7 595.0,394.0 596.7,394.6 598.4,394.5 600.1,394.3 601.9,392.9 603.6,392.0 605.3,393.3 607.0,392.5 608.6,392.8 610.2,391.5 611.8,393.5 613.4,392.7 615.0,392.5 616.6,393.0 618.2,395.9 619.8,395.7 621.4,397.6 623.0,400.0 624.8,401.7 626.5,400.9 628.2,403.8 630.0,405.0 633.0,400.0 634.7,399.0 636.4,401.5 638.1,400.5 639.8,401.8 641.5,400.5 643.2,402.1 644.9,403.7 646.6,403.7 648.3,401.8 650.0,404.0 651.7,401.6 653.3,398.2 655.0,394.0 658.0,403.3 659.7,403.4 661.3,405.7 663.0,403.6 664.7,405.1 666.3,406.7 668.0,407.4 669.7,407.8 671.3,405.9 673.0,407.5 674.7,406.1 676.4,408.6 678.1,407.1 679.9,408.8 681.6,408.0 683.3,410.7 685.0,410.0 686.6,409.6 688.2,408.2 689.8,406.4 691.4,405.2 693.0,404.0 694.8,403.8 696.5,404.6 698.2,404.6 700.0,405.0 701.8,404.2 703.5,406.6 705.2,405.2 707.0,405.0 709.0,404.7 711.0,401.7 714.0,410.8 716.0,409.6 718.0,404.9 720.0,403.3 721.8,403.0 723.5,407.4 725.2,407.2 727.0,409.0 728.6,409.1 730.2,408.7 731.9,409.1 733.5,407.8 735.1,408.9 736.8,408.5 738.4,409.0 740.0,409.0 741.6,408.2 743.2,412.9 744.8,414.0 746.4,413.4 748.0,416.7 749.7,416.1 751.4,417.1 753.1,417.8 754.8,417.3 756.5,418.9 758.2,417.7 759.9,416.8 761.6,417.3 763.3,418.9 765.0,418.3 766.8,416.6 768.5,417.0 770.2,416.1 772.0,414.0 774.0,417.2 776.0,420.2 778.0,421.7 779.7,418.7 781.3,416.1 783.0,413.3 784.7,413.7 786.3,414.6 788.0,414.6 789.7,416.5 791.3,417.0 793.0,419.0 794.8,417.4 796.6,418.9 798.4,419.0 800.2,418.1 802.0,418.3 804.0,422.2 806.0,424.2 808.0,425.8 809.8,426.0 811.6,423.6 813.4,421.8 815.2,423.1 817.0,421.7 818.7,423.4 820.3,425.2 822.0,425.8 824.0,423.5 826.0,421.5 828.0,417.5 829.7,417.7 831.5,419.2 833.2,418.1 835.0,417.2 836.7,420.0 838.4,420.9 840.0,424.2 841.7,424.0 843.0,418.3 844.9,419.5 846.7,424.0 848.4,424.0 850.0,421.2 851.7,420.8 853.4,422.5 855.0,425.0 856.6,425.2 858.2,425.5 859.8,424.5 861.4,425.8 863.0,425.8 864.7,423.5 866.3,421.1 868.0,417.5 869.7,417.2 871.3,420.1 873.0,419.0 874.7,417.3 876.3,414.3 878.0,408.3 880.0,393.3 881.9,388.6 883.9,386.8 885.8,383.3 887.5,407.5 889.0,386.7 891.7,408.3 893.4,410.6 895.0,417.0 896.7,420.8 898.4,415.1 900.0,408.3 901.6,405.3 903.2,403.0 904.8,402.9 906.4,401.5 908.0,399.0 909.7,399.1 911.3,400.5 913.0,401.7 915.0,420.0 916.6,418.6 918.2,421.6 919.8,423.6 921.4,424.8 923.0,425.8 924.8,427.8 926.5,425.5 928.2,424.8 930.0,427.5 933.0,416.7 934.9,421.3 936.7,425.0 938.4,425.0 940.0,426.4 941.7,427.4 943.4,427.8 945.0,429.2 946.7,428.3 948.3,429.7 949.9,426.6 951.5,428.2 953.2,430.3 954.8,427.9 956.4,429.3 958.0,428.3 960.8,407.5 963.0,426.7 964.7,424.1 966.3,421.1 968.0,419.0 969.8,422.5 971.5,423.9 973.2,424.5 975.0,426.7 977.0,423.7 979.0,417.6 981.0,415.0 983.0,420.1 985.0,426.7 986.7,427.5 988.3,426.5 990.0,425.3 991.7,426.6 993.4,426.4 995.0,427.2 996.7,425.8 998.4,417.6 1000.0,407.5 1003.0,406.7 1004.9,412.2 1006.7,418.3 1008.4,422.4 1010.0,427.5 1013.0,419.0 1014.9,423.1 1016.7,427.5 1018.4,423.9 1020.0,422.3 1021.7,417.5 1023.4,422.2 1025.0,425.0 1026.7,426.7 1028.3,427.7 1029.9,427.6 1031.5,429.4 1033.2,428.7 1034.8,429.9 1036.4,428.5 1038.0,430.8 1039.7,428.7 1041.3,428.9 1043.0,425.8 1044.8,426.9 1046.7,430.0 1048.8,427.7 1050.9,428.2 1053.0,427.5 1054.7,427.7 1056.5,426.0 1058.2,422.6 1060.0,421.0 1061.7,420.0 1063.3,424.0 1065.0,428.3 1066.6,426.4 1068.2,426.3 1069.8,425.0 1071.4,422.8 1073.0,423.3 1074.7,423.7 1076.3,424.9 1078.0,425.3 1079.7,426.0 1081.3,429.0 1083.0,429.0 1084.7,430.9 1086.4,428.7 1088.1,428.6 1089.8,429.5 1091.6,428.8 1093.3,428.2 1095.0,430.4 1096.7,429.0 1098.4,427.0 1100.0,426.4 1101.7,425.5 1103.4,424.3 1105.0,424.0 1106.7,423.3 1108.4,426.0 1110.0,429.0 1111.7,430.4 1113.3,431.9 1115.0,434.0 1116.7,431.8 1118.3,432.0 1120.0,430.2 1121.7,430.1 1123.3,430.2 1125.0,428.3 1126.7,430.2 1128.3,431.4 1130.0,433.3 1131.7,432.3 1133.3,432.8 1135.0,432.7 1136.7,431.5 1138.4,431.7 1140.0,432.8 1141.7,431.7 1143.4,430.9 1145.0,432.9 1146.7,433.0 1148.4,436.6 1150.0,436.5 1151.7,436.7 1153.4,433.3 1155.0,429.3 1156.7,425.0 1158.4,425.6 1160.0,426.0 1161.7,424.4 1163.3,426.6 1165.0,426.7 1168.0,436.7 1169.7,436.6 1171.5,433.9 1173.2,435.5 1175.0,434.6 1176.7,433.3 1178.4,431.8 1180.0,432.8 1181.7,433.0 1183.4,432.8 1185.0,433.7 1186.7,433.3 1188.8,430.1 1190.9,429.2 1193.0,427.5 1194.8,430.2 1196.5,433.2 1198.2,435.0 1200.0,437.5 1201.6,435.4 1203.2,434.5 1204.8,430.0 1206.4,431.1 1208.0,428.3 1209.7,429.4 1211.3,429.8 1213.0,432.5 1215.8,417.5 1217.4,422.5 1219.0,428.3 1221.0,423.2 1223.0,421.7 1224.7,423.0 1226.3,428.0 1228.0,431.7 1229.7,432.0 1231.3,434.6 1233.0,435.0 1234.7,431.6 1236.3,428.7 1238.0,427.5 1239.7,426.8 1241.3,429.7 1243.0,428.3 1244.7,430.8 1246.3,432.7 1248.0,435.8 1251.0,404.0 1253.0,428.3 1254.8,427.7 1256.5,428.1 1258.2,429.4 1260.0,430.0 1263.0,438.3 1264.7,436.8 1266.3,435.6 1268.0,432.5 1270.0,436.1 1272.0,437.5 1274.0,415.3 1276.0,392.5 1278.0,431.7 1279.7,432.7 1281.3,434.2 1283.0,436.7 1284.8,430.8 1286.5,428.6 1288.2,426.5 1290.0,422.5 1292.0,430.1 1294.0,438.3 1295.6,438.8 1297.2,437.2 1298.8,439.6 1300.4,439.2 1302.0,439.0 1304.0,439.0 1306.0,439.4 1308.0,439.0 1310.2,422.3 1312.5,410.0 1315.0,430.0 1316.7,431.1 1318.3,432.4 1320.0,435.0 1321.7,436.2 1323.3,433.7 1325.0,433.3 1326.8,435.7 1328.5,440.0 1330.2,441.0 1332.0,445.0 1334.0,444.2 1336.0,439.8 1338.0,438.3 1339.8,438.7 1341.5,438.2 1343.2,440.4 1345.0,440.0 1347.0,430.7 1349.0,425.8 1351.0,437.7 1353.0,448.3 1354.8,443.7 1356.5,440.8 1358.2,435.9 1360.0,433.3 1363.0,426.7 1365.0,436.1 1367.0,445.0 1370.0,446.7 1373.0,409.2 1376.0,442.5 1378.0,438.9 1380.0,435.0 1382.0,427.7 1384.0,419.2 1386.7,440.0 1388.3,433.7 1390.0,426.7 1391.7,427.6 1393.3,428.2 1395.0,427.5 1396.7,425.4 1398.3,423.0 1400.0,422.5 1401.6,423.4 1403.2,427.5 1404.8,428.6 1406.4,432.2 1408.0,433.3 1409.8,436.2 1411.7,439.0 1413.4,435.6 1415.0,435.0 1416.7,431.7 1419.0,392.5 1421.7,438.3 1424.0,416.7 1426.0,425.8 1428.0,430.9 1430.0,438.3 1431.7,436.5 1433.3,435.8 1435.0,436.7 1436.7,435.0 1438.3,438.6 1440.0,443.3 1442.0,431.6 1444.0,420.8 1446.0,429.6 1448.0,436.9 1450.0,445.0 1451.7,444.3 1453.3,442.8 1455.0,441.9 1456.7,441.7 1458.8,431.0 1461.0,420.0 1464.0,438.3 1466.0,437.4 1468.0,436.7 1470.0,435.0 1471.7,435.3 1473.3,437.0 1475.0,438.0 1476.7,438.3 1478.4,440.0 1480.0,442.2 1481.7,443.3 1483.4,443.0 1485.0,440.9 1486.7,439.4 1488.3,437.1 1490.0,436.7 1491.7,435.4 1493.3,433.3 1495.0,431.7 1496.7,432.4 1498.3,432.9 1500.0,435.3 1501.7,435.8 1503.4,439.2 1505.0,437.9 1506.7,438.4 1508.3,439.6 1510.0,440.0 1511.7,438.2 1513.3,437.6 1515.0,435.6 1516.7,435.0 1518.4,432.5 1520.0,431.6 1521.7,429.7 1523.3,427.5 1525.0,425.8 1526.7,430.3 1528.3,436.7 1530.0,441.7 1531.7,438.9 1533.3,439.1 1535.0,436.3 1536.7,435.0 1538.8,437.5 1540.9,440.8 1543.0,442.5 1544.7,442.2 1546.5,439.5 1548.2,439.7 1550.0,439.5 1551.7,438.3 1553.8,439.4 1555.9,440.4 1558.0,445.0 1559.7,444.6 1561.5,444.3 1563.2,444.4 1565.0,443.7 1566.7,443.3 1568.4,442.1 1570.0,440.9 1571.7,440.7 1573.3,438.5 1575.0,436.7 1576.7,438.5 1578.3,438.8 1580.0,441.6 1581.7,441.7 1583.3,441.3 1584.9,442.0 1586.5,438.9 1588.2,441.0 1589.8,440.4 1591.4,439.8 1593.0,440.0 1594.7,439.9 1596.3,437.6 1598.0,435.8 1599.7,436.5 1601.3,436.9 1603.0,438.3 1604.8,440.6 1606.5,439.9 1608.2,440.2 1610.0,440.0 1611.6,438.9 1613.2,440.6 1614.8,439.5 1616.4,438.4 1618.0,438.3 1619.0,420.8 1621.0,443.3 1622.9,442.7 1624.8,440.6 1626.7,441.7 1628.0,420.8 1629.8,433.2 1631.7,444.2 1633.3,436.9 1635.0,431.7 1638.0,438.3 1641.0,435.8 1642.5,443.3 1644.2,433.6 1645.8,421.8 1647.5,411.7 1649.6,426.5 1651.7,442.5 1653.8,437.0 1655.9,431.0 1658.0,425.0 1659.8,428.0 1661.7,433.3 1663.4,437.1 1665.0,441.7 1666.7,445.0 1668.3,440.6 1670.0,436.7 1673.0,438.3 1674.8,438.6 1676.5,441.4 1678.2,442.4 1680.0,445.0 1681.7,443.9 1683.3,443.9 1685.0,443.3 1688.0,430.0 1689.7,432.7 1691.3,435.3 1693.0,438.3 1694.8,437.5 1696.7,440.0 1698.4,439.8 1700.0,438.7 1701.7,438.3 1703.4,433.2 1705.0,429.1 1706.7,424.2 1708.4,426.9 1710.0,424.6 1711.7,425.1 1713.3,428.2 1715.0,428.3 1716.7,424.2 1718.3,422.9 1720.0,418.3 1721.7,422.9 1723.3,429.0 1725.0,435.0 1726.7,436.3 1728.3,436.8 1730.0,436.7 1731.7,436.7 1733.3,434.7 1735.0,431.7 1736.7,434.9 1738.3,437.9 1740.0,441.7 1743.0,427.5 1744.8,432.3 1746.7,437.5 1748.8,432.5 1751.0,425.0 1753.0,429.9 1755.0,433.3 1756.7,432.5 1758.3,432.0 1760.0,431.7 1761.7,430.0 1763.8,433.1 1765.9,433.7 1768.0,435.8 1770.2,419.9 1772.5,404.2 1775.0,432.5 1776.7,431.4 1778.3,432.3 1780.0,428.3 1781.7,429.4 1783.3,431.3 1785.0,429.3 1786.7,431.7 1788.8,430.0 1790.9,425.3 1793.0,424.2 1794.7,424.5 1796.3,426.3 1798.0,428.3 1799.7,427.3 1801.3,426.8 1803.0,426.2 1804.7,425.2 1806.3,423.7 1808.0,423.3 1810.2,420.5 1812.5,412.5 1814.3,416.5 1816.2,420.4 1818.0,423.3 1819.7,425.9 1821.3,425.4 1823.0,425.5 1824.7,425.8 1826.3,427.9 1828.0,425.6 1829.7,426.2 1831.3,427.9 1833.0,428.3 1834.7,424.6 1836.3,424.2 1838.0,424.4 1839.7,421.2 1841.3,420.1 1843.0,418.3 1844.8,423.2 1846.7,426.7 1848.8,426.1 1850.9,428.0 1853.0,428.3 1854.7,427.2 1856.4,426.2 1858.1,426.5 1859.8,426.2 1861.5,425.4 1863.2,424.6 1864.9,425.7 1866.6,425.4 1868.3,424.4 1870.0,423.3 1871.7,422.0 1873.3,419.8 1875.0,418.7 1876.7,418.3 1878.8,418.3 1880.9,420.8 1883.0,421.7 1884.7,421.4 1886.3,420.1 1888.0,417.9 1889.7,416.3 1891.3,415.6 1893.0,414.2 1895.0,416.3 1897.0,418.7 1899.0,420.0 1901.5,365.0 1903.0,345.0 1904.3,342.5 1906.0,346.0 1907.5,365.0 1909.0,413.3 1910.9,416.9 1912.8,416.8 1914.8,421.7 1916.7,421.7 1918.8,420.2 1920.9,421.0 1923.0,423.3 1924.8,411.8 1926.7,403.3 1928.3,410.2 1930.0,419.2 1931.7,419.6 1933.3,422.5 1935.0,420.4 1936.7,421.7 1938.8,421.7 1940.9,419.1 1943.0,418.3 1944.7,418.6 1946.5,417.6 1948.2,421.1 1950.0,419.0 1951.7,419.2 1953.0,413.3 1955.2,410.6 1957.5,409.2 1958.0,409.2 1959.8,415.6 1961.7,417.5 1963.3,415.6 1965.0,413.3 1966.7,415.1 1968.3,416.0 1970.0,417.5 1971.7,415.6 1973.3,413.9 1975.0,414.2 1976.7,415.7 1978.3,419.1 1980.0,419.2 1981.7,417.1 1983.3,414.0 1985.0,411.7 1986.7,414.0 1988.3,413.3 1990.0,416.8 1991.7,416.7 1993.6,415.3 1995.6,413.1 1997.5,412.5 1999.4,415.0 2001.2,416.8 2003.1,417.8 2005.0,420.0 2006.6,420.6 2008.2,421.6 2009.8,422.4 2011.4,420.5 2013.0,421.7 2014.8,419.7 2016.5,425.0 2018.2,423.3 2020.0,424.2 2021.7,422.9 2023.3,422.9 2025.0,421.2 2026.7,420.8 2028.4,422.1 2030.0,420.1 2031.7,421.4 2033.4,420.7 2035.0,423.7 2036.7,422.5 2038.4,422.6 2040.0,424.3 2041.7,424.9 2043.3,422.7 2045.0,424.2 2046.6,423.3 2048.2,423.6 2049.8,422.2 2051.4,421.3 2053.0,420.8 2054.8,421.0 2056.5,420.5 2058.2,418.3 2060.0,418.3 2061.7,419.2 2063.3,421.0 2065.0,421.7 2066.7,422.5 2068.3,414.7 2070.0,406.7 2072.5,302.0 2073.5,302.0 2075.0,408.3 2078.0,418.3 2079.7,414.7 2081.3,415.0 2083.0,410.8 2084.7,411.4 2086.3,412.7 2088.0,413.3 2089.8,417.5 2091.7,421.7 2093.4,419.5 2095.0,417.4 2096.7,415.0 2098.3,416.7 2100.0,420.0 2101.7,417.0 2103.3,414.5 2105.0,410.0 2106.7,411.5 2108.3,412.9 2110.0,413.3 2111.7,415.7 2113.3,417.3 2115.0,419.2 2116.7,420.2 2118.3,416.9 2120.0,416.7 2121.6,417.7 2123.2,419.0 2124.8,419.0 2126.4,418.3 2128.0,420.0 2129.7,419.2 2131.3,422.1 2133.0,420.8 2134.7,414.3 2136.3,409.7 2138.0,404.2 2139.8,412.2 2141.7,419.2 2143.3,419.3 2144.9,417.4 2146.5,417.3 2148.2,419.1 2149.8,418.4 2151.4,418.9 2153.0,419.2 2154.7,419.0 2156.3,418.8 2158.0,417.0 2159.7,416.4 2161.3,418.7 2163.0,417.5 2164.7,416.5 2166.3,415.5 2168.0,414.3 2169.7,416.4 2171.3,414.2 2173.0,415.0 2174.8,413.1 2176.5,414.0 2178.2,412.8 2180.0,411.7 2183.0,416.7 2184.8,414.3 2186.7,410.8 2188.3,413.7 2190.0,419.2 2191.6,416.4 2193.2,418.2 2194.9,418.9 2196.5,418.5 2198.1,420.1 2199.8,419.6 2201.4,418.2 2203.0,419.2 2204.8,419.1 2206.5,417.8 2208.2,416.8 2210.0,416.7 2211.6,417.8 2213.2,415.0 2214.8,417.7 2216.4,417.8 2218.0,416.7 2219.7,413.8 2221.5,414.8 2223.2,414.0 2225.0,412.2 2226.7,412.5 2228.4,412.4 2230.0,412.7 2231.7,414.1 2233.3,413.9 2235.0,415.0 2238.0,411.7 2239.7,410.7 2241.3,415.1 2243.0,415.0 2244.7,416.0 2246.4,414.4 2248.1,416.2 2249.9,417.5 2251.6,414.0 2253.3,415.3 2255.0,415.8 2256.6,414.8 2258.2,415.4 2259.8,414.0 2261.4,412.4 2263.0,413.3 2264.7,414.0 2266.3,411.9 2268.0,412.4 2269.7,413.4 2271.3,409.8 2273.0,410.0 2274.8,410.0 2276.5,411.8 2278.2,411.2 2280.0,411.7 2283.0,405.0 2284.7,406.9 2286.3,407.8 2288.0,409.2 2289.7,413.4 2291.3,412.6 2293.0,413.3 2294.7,414.5 2296.3,415.1 2298.0,415.8 2343.0,415.8" fill="none" stroke="#4682b4" stroke-width="1.30" stroke-linejoin="round"/></g>
<rect x="59.5" y="84.5" width="2284.0" height="504.0" fill="none" stroke="#000" stroke-width="1.1"/>
<path d="M59.5 588.50h-7.0M2343.5 588.50h7.0M59.5 567.50h-3.5M2343.5 567.50h3.5M59.5 546.50h-3.5M2343.5 546.50h3.5M59.5 525.50h-3.5M2343.5 525.50h3.5M59.5 504.50h-7.0M2343.5 504.50h7.0M59.5 483.50h-3.5M2343.5 483.50h3.5M59.5 462.50h-3.5M2343.5 462.50h3.5M59.5 441.50h-3.5M2343.5 441.50h3.5M59.5 420.50h-7.0M2343.5 420.50h7.0M59.5 399.50h-3.5M2343.5 399.50h3.5M59.5 378.50h-3.5M2343.5 378.50h3.5M59.5 357.50h-3.5M2343.5 357.50h3.5M59.5 336.50h-7.0M2343.5 336.50h7.0M59.5 315.50h-3.5M2343.5 315.50h3.5M59.5 294.50h-3.5M2343.5 294.50h3.5M59.5 273.50h-3.5M2343.5 273.50h3.5M59.5 252.50h-7.0M2343.5 252.50h7.0M59.5 231.50h-3.5M2343.5 231.50h3.5M59.5 210.50h-3.5M2343.5 210.50h3.5M59.5 189.50h-3.5M2343.5 189.50h3.5M59.5 168.50h-7.0M2343.5 168.50h7.0M59.5 147.50h-3.5M2343.5 147.50h3.5M59.5 126.50h-3.5M2343.5 126.50h3.5M59.5 105.50h-3.5M2343.5 105.50h3.5M59.5 84.50h-7.0M2343.5 84.50h7.0M59.50 588.5v7.0M106.50 588.5v3.5M154.50 588.5v3.5M202.50 588.5v3.5M249.50 588.5v7.0M297.50 588.5v3.5M345.50 588.5v3.5M392.50 588.5v3.5M440.50 588.5v7.0M487.50 588.5v3.5M535.50 588.5v3.5M583.50 588.5v3.5M630.50 588.5v7.0M678.50 588.5v3.5M726.50 588.5v3.5M773.50 588.5v3.5M821.50 588.5v7.0M868.50 588.5v3.5M916.50 588.5v3.5M964.50 588.5v3.5M1011.50 588.5v7.0M1059.50 588.5v3.5M1107.50 588.5v3.5M1154.50 588.5v3.5M1202.50 588.5v7.0M1249.50 588.5v3.5M1297.50 588.5v3.5M1345.50 588.5v3.5M1392.50 588.5v7.0M1440.50 588.5v3.5M1488.50 588.5v3.5M1535.50 588.5v3.5M1583.50 588.5v7.0M1630.50 588.5v3.5M1678.50 588.5v3.5M1726.50 588.5v3.5M1773.50 588.5v7.0M1821.50 588.5v3.5M1869.50 588.5v3.5M1916.50 588.5v3.5M1964.50 588.5v7.0M2011.50 588.5v3.5M2059.50 588.5v3.5M2107.50 588.5v3.5M2154.50 588.5v7.0M2202.50 588.5v3.5M2250.50 588.5v3.5M2297.50 588.5v3.5" stroke="#000" stroke-width="0.85" fill="none"/>
<text x="46.50" y="591.10" font-size="10.60" text-anchor="end" textLength="9.40" lengthAdjust="spacingAndGlyphs">36</text>
<text x="2355.50" y="591.10" font-size="10.60" text-anchor="start" textLength="9.40" lengthAdjust="spacingAndGlyphs">36</text>
<text x="46.50" y="507.10" font-size="10.60" text-anchor="end" textLength="9.40" lengthAdjust="spacingAndGlyphs">48</text>
<text x="2355.50" y="507.10" font-size="10.60" text-anchor="start" textLength="9.40" lengthAdjust="spacingAndGlyphs">48</text>
<text x="46.50" y="423.10" font-size="10.60" text-anchor="end" textLength="9.40" lengthAdjust="spacingAndGlyphs">60</text>
<text x="2355.50" y="423.10" font-size="10.60" text-anchor="start" textLength="9.40" lengthAdjust="spacingAndGlyphs">60</text>
<text x="46.50" y="339.10" font-size="10.60" text-anchor="end" textLength="9.40" lengthAdjust="spacingAndGlyphs">72</text>
<text x="2355.50" y="339.10" font-size="10.60" text-anchor="start" textLength="9.40" lengthAdjust="spacingAndGlyphs">72</text>
<text x="46.50" y="255.10" font-size="10.60" text-anchor="end" textLength="9.40" lengthAdjust="spacingAndGlyphs">84</text>
<text x="2355.50" y="255.10" font-size="10.60" text-anchor="start" textLength="9.40" lengthAdjust="spacingAndGlyphs">84</text>
<text x="46.50" y="171.10" font-size="10.60" text-anchor="end" textLength="9.40" lengthAdjust="spacingAndGlyphs">96</text>
<text x="2355.50" y="171.10" font-size="10.60" text-anchor="start" textLength="9.40" lengthAdjust="spacingAndGlyphs">96</text>
<text x="46.50" y="87.10" font-size="10.60" text-anchor="end" textLength="14.00" lengthAdjust="spacingAndGlyphs">108</text>
<text x="2355.50" y="87.10" font-size="10.60" text-anchor="start" textLength="14.00" lengthAdjust="spacingAndGlyphs">108</text>
<text x="59.50" y="607.00" font-size="10.20" text-anchor="middle" textLength="23.00" lengthAdjust="spacingAndGlyphs">00:00</text>
<text x="249.50" y="607.00" font-size="10.20" text-anchor="middle" textLength="23.00" lengthAdjust="spacingAndGlyphs">02:00</text>
<text x="440.50" y="607.00" font-size="10.20" text-anchor="middle" textLength="23.00" lengthAdjust="spacingAndGlyphs">04:00</text>
<text x="630.50" y="607.00" font-size="10.20" text-anchor="middle" textLength="23.00" lengthAdjust="spacingAndGlyphs">06:00</text>
<text x="821.50" y="607.00" font-size="10.20" text-anchor="middle" textLength="23.00" lengthAdjust="spacingAndGlyphs">08:00</text>
<text x="1011.50" y="607.00" font-size="10.20" text-anchor="middle" textLength="23.00" lengthAdjust="spacingAndGlyphs">10:00</text>
<text x="1202.50" y="607.00" font-size="10.20" text-anchor="middle" textLength="23.00" lengthAdjust="spacingAndGlyphs">12:00</text>
<text x="1392.50" y="607.00" font-size="10.20" text-anchor="middle" textLength="23.00" lengthAdjust="spacingAndGlyphs">14:00</text>
<text x="1583.50" y="607.00" font-size="10.20" text-anchor="middle" textLength="23.00" lengthAdjust="spacingAndGlyphs">16:00</text>
<text x="1773.50" y="607.00" font-size="10.20" text-anchor="middle" textLength="23.00" lengthAdjust="spacingAndGlyphs">18:00</text>
<text x="1964.50" y="607.00" font-size="10.20" text-anchor="middle" textLength="23.00" lengthAdjust="spacingAndGlyphs">20:00</text>
<text x="2154.50" y="607.00" font-size="10.20" text-anchor="middle" textLength="23.00" lengthAdjust="spacingAndGlyphs">22:00</text>
<text x="1200.40" y="624.00" font-size="12.50" text-anchor="middle" textLength="24.50" lengthAdjust="spacingAndGlyphs">time</text>
<text x="0.00" y="0.00" font-size="14.40" text-anchor="middle" textLength="40.00" lengthAdjust="spacingAndGlyphs" transform="translate(22.0 336.5) rotate(-90)">dB SPL</text>
<text x="0.00" y="0.00" font-size="14.40" text-anchor="middle" textLength="40.00" lengthAdjust="spacingAndGlyphs" transform="translate(2385.2 336.5) rotate(-90)">dB SPL</text>
<rect x="59.5" y="645.5" width="2284.0" height="504.0" fill="#fff8dc"/>
<path d="M106.50 645.5V1149.5M154.50 645.5V1149.5M202.50 645.5V1149.5M297.50 645.5V1149.5M344.50 645.5V1149.5M392.50 645.5V1149.5M487.50 645.5V1149.5M535.50 645.5V1149.5M582.50 645.5V1149.5M677.50 645.5V1149.5M725.50 645.5V1149.5M773.50 645.5V1149.5M868.50 645.5V1149.5M915.50 645.5V1149.5M963.50 645.5V1149.5M1058.50 645.5V1149.5M1106.50 645.5V1149.5M1153.50 645.5V1149.5M1248.50 645.5V1149.5M1296.50 645.5V1149.5M1344.50 645.5V1149.5M1439.50 645.5V1149.5M1486.50 645.5V1149.5M1534.50 645.5V1149.5M1629.50 645.5V1149.5M1677.50 645.5V1149.5M1724.50 645.5V1149.5M1819.50 645.5V1149.5M1867.50 645.5V1149.5M1915.50 645.5V1149.5M2010.50 645.5V1149.5M2057.50 645.5V1149.5M2105.50 645.5V1149.5M2200.50 645.5V1149.5M2248.50 645.5V1149.5M2295.50 645.5V1149.5" stroke="#b0b0b0" stroke-opacity="0.72" stroke-width="1" stroke-dasharray="1 1.05" fill="none"/>
<path d="M59.5 1128.50H2343.5M59.5 1107.50H2343.5M59.5 1086.50H2343.5M59.5 1044.50H2343.5M59.5 1023.50H2343.5M59.5 1002.50H2343.5M59.5 960.50H2343.5M59.5 939.50H2343.5M59.5 918.50H2343.5M59.5 876.50H2343.5M59.5 855.50H2343.5M59.5 834.50H2343.5M59.5 792.50H2343.5M59.5 771.50H2343.5M59.5 750.50H2343.5M59.5 708.50H2343.5M59.5 687.50H2343.5M59.5 666.50H2343.5" stroke="#bdb9ad" stroke-width="0.9" stroke-dasharray="2.3 1.5" fill="none"/>
<path d="M59.5 1065.50H2343.5M59.5 981.50H2343.5M59.5 897.50H2343.5M59.5 813.50H2343.5M59.5 729.50H2343.5M249.50 645.5V1149.5M439.50 645.5V1149.5M630.50 645.5V1149.5M820.50 645.5V1149.5M1010.50 645.5V1149.5M1201.50 645.5V1149.5M1391.50 645.5V1149.5M1581.50 645.5V1149.5M1772.50 645.5V1149.5M1962.50 645.5V1149.5M2152.50 645.5V1149.5" stroke="#b0b0b0" stroke-width="1.05" fill="none"/>
<g id="data1"><polygon points="60.0,954.4 61.3,953.2 62.6,955.9 63.9,958.2 65.2,957.1 66.5,960.3 67.8,961.2 69.1,959.4 70.4,958.2 71.7,959.7 73.0,961.8 74.3,960.2 75.6,961.7 76.9,962.4 78.2,960.6 79.5,960.3 80.8,960.3 82.1,960.5 83.4,958.2 84.7,959.1 86.0,961.6 87.3,961.8 88.6,959.9 89.9,959.7 91.2,959.4 92.5,963.8 93.8,960.0 95.1,960.1 96.4,964.6 97.7,961.9 99.0,965.4 100.3,961.3 101.6,965.3 102.9,965.3 104.2,962.0 105.5,963.4 106.8,964.2 108.1,963.7 109.4,963.2 110.7,963.0 112.0,959.7 113.3,962.4 114.6,963.1 115.9,960.2 117.2,964.1 118.5,964.1 119.8,962.2 121.1,964.9 122.4,966.1 123.7,965.4 125.0,964.8 126.3,962.3 127.6,963.9 128.9,965.7 130.2,962.2 131.5,964.4 132.8,961.5 134.1,963.2 135.4,959.5 136.7,961.0 138.0,962.9 139.3,962.1 140.6,961.7 141.9,960.5 143.2,962.3 144.5,963.4 145.8,961.7 147.1,962.0 148.4,961.2 149.7,965.7 151.0,964.2 152.3,965.9 153.6,964.6 154.9,966.0 156.2,963.1 157.5,964.6 158.8,966.9 160.1,967.4 161.4,964.6 162.7,967.2 164.0,964.6 165.3,964.9 166.6,965.9 167.9,962.8 169.2,962.9 170.5,962.4 171.8,964.5 173.1,961.8 174.4,964.1 175.7,961.7 177.0,962.3 178.3,962.1 179.6,963.9 180.9,959.3 182.2,960.1 183.5,959.7 184.8,960.9 186.1,962.5 187.4,962.6 188.7,960.5 190.0,959.4 191.3,959.7 192.6,961.2 193.9,960.9 195.2,961.3 196.5,958.0 197.8,959.9 199.1,960.1 200.4,960.4 201.7,957.4 203.0,956.7 204.3,957.8 205.6,959.5 206.9,956.1 208.2,956.4 209.5,958.0 210.8,957.2 212.1,958.2 213.4,956.4 214.7,957.8 216.0,954.7 217.3,958.9 218.6,955.4 219.9,956.6 221.2,958.9 222.5,960.6 223.8,959.1 225.1,957.8 226.4,961.4 227.7,959.4 229.0,959.6 230.3,959.0 231.6,959.7 232.9,960.8 234.2,963.1 235.5,960.1 236.8,962.3 238.1,960.6 239.4,961.2 240.7,962.3 242.0,960.2 243.3,960.1 244.6,963.8 245.9,961.5 247.2,962.7 248.5,960.4 249.8,960.1 251.1,961.4 252.4,960.9 253.7,961.1 255.0,962.8 256.3,958.6 257.6,959.9 258.9,960.2 260.2,957.0 261.5,960.3 262.8,958.1 264.1,958.8 265.4,956.9 266.7,957.0 268.0,959.4 269.3,961.0 270.6,960.0 271.9,959.2 273.2,959.3 274.5,960.0 275.8,963.9 277.1,964.3 278.4,963.2 279.7,962.1 281.0,964.6 282.3,962.3 283.6,964.9 284.9,961.6 286.2,963.1 287.5,963.0 288.8,962.4 290.1,960.5 291.4,962.8 292.7,961.7 294.0,960.8 295.3,961.2 296.6,958.9 297.9,961.8 299.2,962.1 300.5,958.6 301.8,959.8 303.1,960.5 304.4,956.5 305.7,956.5 307.0,958.5 308.3,955.6 309.6,957.4 310.9,958.3 312.2,958.3 313.5,957.9 314.8,956.4 316.1,957.5 317.4,957.2 318.7,959.1 320.0,957.5 321.3,957.1 322.6,957.7 323.9,958.8 325.2,958.6 326.5,961.9 327.8,962.9 329.1,960.4 330.4,963.9 331.7,963.9 333.0,961.4 334.3,961.7 335.6,963.6 336.9,965.5 338.2,962.6 339.5,961.4 340.8,963.6 342.1,963.8 343.4,965.4 344.7,965.9 346.0,963.7 347.3,963.8 348.6,965.5 349.9,962.4 351.2,962.1 352.5,965.8 353.8,963.5 355.1,964.3 356.4,963.2 357.7,962.8 359.0,962.6 360.3,964.8 361.6,962.6 362.9,965.5 364.2,963.9 365.5,962.2 366.8,963.1 368.1,963.4 369.4,963.6 370.7,961.7 372.0,964.8 373.3,962.4 374.6,961.9 375.9,961.3 377.2,962.1 378.5,961.7 379.8,961.8 381.1,963.5 382.4,964.9 383.7,961.9 385.0,963.8 386.3,961.9 387.6,961.8 388.9,962.4 390.2,960.3 391.5,962.0 392.8,961.0 394.1,963.1 395.4,965.0 396.7,966.3 398.0,964.6 399.3,965.4 400.6,964.0 401.9,961.9 403.2,961.9 404.5,962.5 405.8,963.1 407.1,965.4 408.4,964.5 409.7,964.2 411.0,961.8 412.3,959.9 413.6,961.4 414.9,961.8 416.2,960.1 417.5,961.4 418.8,961.1 420.1,961.4 421.4,962.0 422.7,960.6 424.0,959.1 425.3,958.0 426.6,962.8 427.9,961.5 429.2,959.2 430.5,961.4 431.8,960.5 433.1,959.4 434.4,961.2 435.7,961.1 437.0,963.2 438.3,961.6 439.6,962.0 440.9,962.0 442.2,961.2 443.5,959.9 444.8,958.6 446.1,959.5 447.4,962.1 448.7,958.6 450.0,960.3 451.3,958.4 452.6,958.6 453.9,957.8 455.2,960.0 456.5,957.1 457.8,961.1 459.1,960.0 460.4,958.5 461.7,959.3 463.0,961.9 464.3,960.1 465.6,961.3 466.9,962.0 468.2,959.8 469.5,962.7 470.8,959.2 472.1,959.6 473.4,960.7 474.7,958.3 476.0,958.4 477.3,959.3 478.6,956.4 479.9,956.4 481.2,956.4 482.5,955.0 483.8,951.1 485.1,949.5 486.4,949.4 487.7,952.1 489.0,952.3 490.3,949.7 491.6,951.7 492.9,952.0 494.2,952.7 495.5,951.8 496.8,951.5 498.1,951.7 499.4,952.4 500.7,954.8 502.0,952.1 503.3,955.5 504.6,955.1 505.9,955.4 507.2,956.9 508.5,954.6 509.8,955.0 511.1,958.7 512.4,955.9 513.7,960.5 515.0,958.4 516.3,956.3 517.6,957.0 518.9,958.4 520.2,960.4 521.5,957.3 522.8,960.2 524.1,959.6 525.4,956.9 526.7,958.6 528.0,956.9 529.3,957.2 530.6,954.2 531.9,956.2 533.2,954.8 534.5,953.7 535.8,953.8 537.1,953.7 538.4,953.6 539.7,952.8 541.0,954.8 542.3,953.4 543.6,955.2 544.9,953.6 546.2,955.1 547.5,955.7 548.8,955.3 550.1,956.2 551.4,956.2 552.7,953.0 554.0,956.3 555.3,954.1 556.6,957.1 557.9,956.2 559.2,955.9 560.5,954.5 561.8,956.2 563.1,956.2 564.4,954.9 565.7,951.8 567.0,953.8 568.3,950.0 569.6,951.1 570.9,951.0 572.2,952.8 573.5,948.8 574.8,949.8 576.1,951.2 577.4,949.0 578.7,952.3 580.0,950.5 581.3,948.8 582.6,952.4 583.9,951.0 585.2,948.7 586.5,950.1 587.8,951.3 589.1,952.2 590.4,952.4 591.7,947.8 593.0,951.3 594.3,948.1 595.6,949.1 596.9,946.7 598.2,947.0 599.5,947.2 600.8,946.5 602.1,946.8 603.4,948.2 604.7,950.0 606.0,949.2 607.3,950.5 608.6,948.5 609.9,949.3 611.2,950.8 612.5,949.4 613.8,948.2 615.1,953.0 616.4,950.4 617.7,952.0 619.0,955.5 620.3,952.6 621.6,954.3 622.9,956.2 624.2,957.2 625.5,957.5 626.8,958.8 628.1,957.2 629.4,956.3 630.7,957.6 632.0,956.7 633.3,960.2 634.6,957.8 635.9,959.7 637.2,955.9 638.5,959.4 639.8,958.9 641.1,958.0 642.4,955.3 643.7,957.2 645.0,956.2 646.3,958.4 647.6,958.7 648.9,959.1 650.2,956.2 651.5,957.9 652.8,960.9 654.1,959.3 655.4,960.7 656.7,958.8 658.0,957.4 659.3,960.6 660.6,956.9 661.9,960.2 663.2,962.4 664.5,958.5 665.8,960.0 667.1,962.6 668.4,960.6 669.7,963.4 671.0,961.1 672.3,962.4 673.6,962.4 674.9,963.7 676.2,963.8 677.5,962.0 678.8,962.1 680.1,960.6 681.4,961.2 682.7,964.5 684.0,963.9 685.3,964.0 686.6,961.0 687.9,962.6 689.2,964.6 690.5,959.2 691.8,960.2 693.1,959.5 694.4,960.2 695.7,957.9 697.0,960.8 698.3,961.1 699.6,959.0 700.9,959.2 702.2,959.0 703.5,958.6 704.8,958.5 706.1,957.1 707.4,959.9 708.7,959.9 710.0,960.0 711.3,962.1 712.6,961.1 713.9,964.0 715.2,963.2 716.5,963.7 717.8,963.8 719.1,964.4 720.4,962.7 721.7,962.9 723.0,962.9 724.3,963.4 725.6,966.0 726.9,964.0 728.2,966.7 729.5,964.9 730.8,966.2 732.1,966.5 733.4,963.2 734.7,964.4 736.0,965.6 737.3,966.6 738.6,964.9 739.9,967.2 741.2,967.6 742.5,964.2 743.8,968.3 745.1,968.6 746.4,966.4 747.7,969.5 749.0,969.2 750.3,972.6 751.6,971.9 752.9,968.8 754.2,971.1 755.5,972.0 756.8,969.0 758.1,969.3 759.4,971.1 760.7,969.1 762.0,972.4 763.3,972.4 764.6,973.1 765.9,969.7 767.2,969.0 768.5,970.6 769.8,971.2 771.1,973.2 772.4,974.9 773.7,973.0 775.0,975.4 776.3,973.0 777.6,974.6 778.9,971.5 780.2,975.3 781.5,970.9 782.8,973.8 784.1,974.6 785.4,972.6 786.7,972.4 788.0,971.6 789.3,973.6 790.6,974.7 791.9,971.5 793.2,974.7 794.5,975.8 795.8,971.8 797.1,975.2 798.4,975.7 799.7,975.1 801.0,974.8 802.3,976.0 803.6,973.5 804.9,975.2 806.2,974.7 807.5,973.7 808.8,975.4 810.1,977.0 811.4,978.0 812.7,976.0 814.0,979.1 815.3,979.3 816.6,977.7 817.9,976.9 819.2,976.8 820.5,978.8 821.8,978.9 823.1,975.4 824.4,975.6 825.7,976.5 827.0,973.2 828.3,972.0 829.6,975.9 830.9,976.5 832.2,972.9 833.5,975.5 834.8,977.0 836.1,976.8 837.4,976.8 838.7,972.5 840.0,977.4 841.3,975.4 842.6,971.5 843.9,974.9 845.2,971.5 846.5,974.8 847.8,977.8 849.1,971.9 850.4,975.7 851.7,975.3 853.0,978.1 854.3,972.9 855.6,976.5 856.9,974.4 858.2,974.7 859.5,975.2 860.8,970.7 862.1,977.4 863.4,972.8 864.7,975.0 866.0,971.0 867.3,970.8 868.6,973.9 869.9,973.4 871.2,974.0 872.5,973.6 873.8,973.1 875.1,971.8 876.4,966.7 877.7,957.0 879.0,953.5 880.3,952.7 881.6,945.8 882.9,950.1 884.2,948.6 885.5,948.3 886.8,946.2 888.1,946.8 889.4,946.3 890.7,951.7 892.0,954.4 893.3,962.6 894.6,967.6 895.9,964.0 897.2,963.1 898.5,965.0 899.8,966.0 901.1,962.5 902.4,962.9 903.7,959.0 905.0,955.7 906.3,954.6 907.6,959.9 908.9,957.8 910.2,957.3 911.5,954.0 912.8,957.8 914.1,961.2 915.4,966.4 916.7,965.4 918.0,965.5 919.3,971.6 920.6,977.3 921.9,973.8 923.2,972.4 924.5,974.5 925.8,976.4 927.1,979.4 928.4,977.0 929.7,977.7 931.0,976.5 932.3,978.4 933.6,977.2 934.9,976.6 936.2,978.2 937.5,973.4 938.8,973.7 940.1,976.1 941.4,979.4 942.7,980.0 944.0,976.2 945.3,978.8 946.6,981.5 947.9,974.4 949.2,979.8 950.5,980.5 951.8,977.1 953.1,979.4 954.4,974.4 955.7,977.2 957.0,978.9 958.3,980.1 959.6,975.1 960.9,973.3 962.2,976.5 963.5,972.2 964.8,967.9 966.1,974.1 967.4,969.1 968.7,976.3 970.0,972.2 971.3,972.8 972.6,972.1 973.9,972.6 975.2,969.8 976.5,974.9 977.8,975.9 979.1,972.4 980.4,969.6 981.7,975.8 983.0,973.9 984.3,975.1 985.6,972.3 986.9,977.2 988.2,976.2 989.5,974.5 990.8,978.8 992.1,979.4 993.4,979.6 994.7,974.1 996.0,979.1 997.3,973.2 998.6,978.4 999.9,973.7 1001.2,974.3 1002.5,974.1 1003.8,976.4 1005.1,969.7 1006.4,969.6 1007.7,966.2 1009.0,966.3 1010.3,972.3 1011.6,966.6 1012.9,971.9 1014.2,968.2 1015.5,967.5 1016.8,972.3 1018.1,973.4 1019.4,971.5 1020.7,978.9 1022.0,978.5 1023.3,976.9 1024.6,971.2 1025.9,976.9 1027.2,975.2 1028.5,976.7 1029.8,973.2 1031.1,977.4 1032.4,975.0 1033.7,972.5 1035.0,975.8 1036.3,975.8 1037.6,981.9 1038.9,976.4 1040.2,980.0 1041.5,981.5 1042.8,979.4 1044.1,978.8 1045.4,982.3 1046.7,980.9 1048.0,983.4 1049.3,976.2 1050.6,983.2 1051.9,979.7 1053.2,982.1 1054.5,979.7 1055.8,976.9 1057.1,983.2 1058.4,977.7 1059.7,980.6 1061.0,975.2 1062.3,978.4 1063.6,975.6 1064.9,981.2 1066.2,980.1 1067.5,977.6 1068.8,978.3 1070.1,980.7 1071.4,972.5 1072.7,976.2 1074.0,973.8 1075.3,977.1 1076.6,973.4 1077.9,971.9 1079.2,972.4 1080.5,974.4 1081.8,972.5 1083.1,975.6 1084.4,977.1 1085.7,974.7 1087.0,977.5 1088.3,978.1 1089.6,973.8 1090.9,981.3 1092.2,976.2 1093.5,976.7 1094.8,977.7 1096.1,983.1 1097.4,981.5 1098.7,984.8 1100.0,981.2 1101.3,980.1 1102.6,983.1 1103.9,981.9 1105.2,983.8 1106.5,980.9 1107.8,982.5 1109.1,978.2 1110.4,981.7 1111.7,975.8 1113.0,982.2 1114.3,974.8 1115.6,977.4 1116.9,977.6 1118.2,977.4 1119.5,975.5 1120.8,978.7 1122.1,981.7 1123.4,977.5 1124.7,978.6 1126.0,981.9 1127.3,980.7 1128.6,981.2 1129.9,980.1 1131.2,980.8 1132.5,977.5 1133.8,981.6 1135.1,979.1 1136.4,979.0 1137.7,982.0 1139.0,984.3 1140.3,981.1 1141.6,978.2 1142.9,977.5 1144.2,978.8 1145.5,977.2 1146.8,978.4 1148.1,983.9 1149.4,982.3 1150.7,978.8 1152.0,984.0 1153.3,985.9 1154.6,980.0 1155.9,985.1 1157.2,980.1 1158.5,983.1 1159.8,980.8 1161.1,984.4 1162.4,987.6 1163.7,980.1 1165.0,986.5 1166.3,982.9 1167.6,979.7 1168.9,984.7 1170.2,983.2 1171.5,977.5 1172.8,983.5 1174.1,981.1 1175.4,982.6 1176.7,980.7 1178.0,981.6 1179.3,985.9 1180.6,982.1 1181.9,987.7 1183.2,981.0 1184.5,986.0 1185.8,980.4 1187.1,982.7 1188.4,986.4 1189.7,987.9 1191.0,985.4 1192.3,985.4 1193.6,984.5 1194.9,985.8 1196.2,986.7 1197.5,986.2 1198.8,986.1 1200.1,982.6 1201.4,979.7 1202.7,981.7 1204.0,984.3 1205.3,984.3 1206.6,984.4 1207.9,985.6 1209.2,983.2 1210.5,985.8 1211.8,981.6 1213.1,985.3 1214.4,982.3 1215.7,984.2 1217.0,988.2 1218.3,987.2 1219.6,983.6 1220.9,980.0 1222.2,977.2 1223.5,984.4 1224.8,980.0 1226.1,979.5 1227.4,977.2 1228.7,974.0 1230.0,973.1 1231.3,973.8 1232.6,975.3 1233.9,980.8 1235.2,977.6 1236.5,979.6 1237.8,979.5 1239.1,981.1 1240.4,976.8 1241.7,983.0 1243.0,980.0 1244.3,983.5 1245.6,979.5 1246.9,984.4 1248.2,985.6 1249.5,977.5 1250.8,985.2 1252.1,980.1 1253.4,983.3 1254.7,981.5 1256.0,983.0 1257.3,982.8 1258.6,979.2 1259.9,976.8 1261.2,979.0 1262.5,980.2 1263.8,976.9 1265.1,975.0 1266.4,974.4 1267.7,973.3 1269.0,978.9 1270.3,975.9 1271.6,981.0 1272.9,984.4 1274.2,980.3 1275.5,986.5 1276.8,988.7 1278.1,987.4 1279.4,983.7 1280.7,989.8 1282.0,989.3 1283.3,988.4 1284.6,987.3 1285.9,981.6 1287.2,975.1 1288.5,981.2 1289.8,981.3 1291.1,977.2 1292.4,982.7 1293.7,980.3 1295.0,984.6 1296.3,987.3 1297.6,987.7 1298.9,983.3 1300.2,985.8 1301.5,985.0 1302.8,983.0 1304.1,981.2 1305.4,987.5 1306.7,978.7 1308.0,982.6 1309.3,984.3 1310.6,985.1 1311.9,983.8 1313.2,987.3 1314.5,986.3 1315.8,990.7 1317.1,989.1 1318.4,983.8 1319.7,983.5 1321.0,988.7 1322.3,990.1 1323.6,982.5 1324.9,986.3 1326.2,981.2 1327.5,988.1 1328.8,987.9 1330.1,983.3 1331.4,982.8 1332.7,979.9 1334.0,983.5 1335.3,982.6 1336.6,983.5 1337.9,982.5 1339.2,984.8 1340.5,986.2 1341.8,990.1 1343.1,994.2 1344.4,989.8 1345.7,994.8 1347.0,990.2 1348.3,995.3 1349.6,993.1 1350.9,991.2 1352.2,993.7 1353.5,990.1 1354.8,993.1 1356.1,989.3 1357.4,989.0 1358.7,986.8 1360.0,988.1 1361.3,989.4 1362.6,991.8 1363.9,991.1 1365.2,991.4 1366.5,992.2 1367.8,988.3 1369.1,989.6 1370.4,986.2 1371.7,988.5 1373.0,985.7 1374.3,988.1 1375.6,992.5 1376.9,989.9 1378.2,993.7 1379.5,992.1 1380.8,991.1 1382.1,990.0 1383.4,987.4 1384.7,990.5 1386.0,988.3 1387.3,991.5 1388.6,992.9 1389.9,988.6 1391.2,989.7 1392.5,984.0 1393.8,984.7 1395.1,984.2 1396.4,989.6 1397.7,984.7 1399.0,982.1 1400.3,979.7 1401.6,980.4 1402.9,976.8 1404.2,982.0 1405.5,977.4 1406.8,981.1 1408.1,977.8 1409.4,979.7 1410.7,981.2 1412.0,980.2 1413.3,979.7 1414.6,974.5 1415.9,975.0 1417.2,978.7 1418.5,979.0 1419.8,981.1 1421.1,980.8 1422.4,987.2 1423.7,984.1 1425.0,985.8 1426.3,984.2 1427.6,978.8 1428.9,981.3 1430.2,983.4 1431.5,984.4 1432.8,979.5 1434.1,977.2 1435.4,980.3 1436.7,976.3 1438.0,977.5 1439.3,979.8 1440.6,986.7 1441.9,979.1 1443.2,981.3 1444.5,985.5 1445.8,986.5 1447.1,987.6 1448.4,988.9 1449.7,988.1 1451.0,990.3 1452.3,990.6 1453.6,985.5 1454.9,993.6 1456.2,991.9 1457.5,986.9 1458.8,986.2 1460.1,987.6 1461.4,995.3 1462.7,989.6 1464.0,988.7 1465.3,986.6 1466.6,990.0 1467.9,994.2 1469.2,987.3 1470.5,993.5 1471.8,984.5 1473.1,985.8 1474.4,982.1 1475.7,988.2 1477.0,980.8 1478.3,980.5 1479.6,985.0 1480.9,988.0 1482.2,985.7 1483.5,983.2 1484.8,982.3 1486.1,987.2 1487.4,988.7 1488.7,988.9 1490.0,984.9 1491.3,990.8 1492.6,991.5 1493.9,992.3 1495.2,992.6 1496.5,991.5 1497.8,988.0 1499.1,986.9 1500.4,993.6 1501.7,991.3 1503.0,988.9 1504.3,988.5 1505.6,982.7 1506.9,986.8 1508.2,982.2 1509.5,986.3 1510.8,985.9 1512.1,984.0 1513.4,985.0 1514.7,989.3 1516.0,985.9 1517.3,981.3 1518.6,988.3 1519.9,981.6 1521.2,987.7 1522.5,989.9 1523.8,982.9 1525.1,990.2 1526.4,983.5 1527.7,982.8 1529.0,988.0 1530.3,989.1 1531.6,990.7 1532.9,987.8 1534.2,987.9 1535.5,989.3 1536.8,985.2 1538.1,983.3 1539.4,981.4 1540.7,988.2 1542.0,987.5 1543.3,981.5 1544.6,989.4 1545.9,985.7 1547.2,983.8 1548.5,986.9 1549.8,983.6 1551.1,989.6 1552.4,982.7 1553.7,984.5 1555.0,991.1 1556.3,990.2 1557.6,990.3 1558.9,990.7 1560.2,988.5 1561.5,989.3 1562.8,993.9 1564.1,994.1 1565.4,989.2 1566.7,991.0 1568.0,992.9 1569.3,987.7 1570.6,992.1 1571.9,991.5 1573.2,987.4 1574.5,987.3 1575.8,987.5 1577.1,990.6 1578.4,992.2 1579.7,987.7 1581.0,988.6 1582.3,984.8 1583.6,992.3 1584.9,989.5 1586.2,987.7 1587.5,987.7 1588.8,992.3 1590.1,989.8 1591.4,986.7 1592.7,991.5 1594.0,988.4 1595.3,984.4 1596.6,989.8 1597.9,986.3 1599.2,986.1 1600.5,991.6 1601.8,989.0 1603.1,988.7 1604.4,989.1 1605.7,990.7 1607.0,988.5 1608.3,991.1 1609.6,985.0 1610.9,983.8 1612.2,986.4 1613.5,986.2 1614.8,985.5 1616.1,985.3 1617.4,990.7 1618.7,992.8 1620.0,990.1 1621.3,987.9 1622.6,984.9 1623.9,992.7 1625.2,992.4 1626.5,985.6 1627.8,991.4 1629.1,986.5 1630.4,987.2 1631.7,986.7 1633.0,985.6 1634.3,985.8 1635.6,988.7 1636.9,989.0 1638.2,991.4 1639.5,994.8 1640.8,987.8 1642.1,989.2 1643.4,989.0 1644.7,992.0 1646.0,992.8 1647.3,988.3 1648.6,991.4 1649.9,986.3 1651.2,986.0 1652.5,985.9 1653.8,991.2 1655.1,989.5 1656.4,991.9 1657.7,985.6 1659.0,984.1 1660.3,988.2 1661.6,988.3 1662.9,989.8 1664.2,986.5 1665.5,981.4 1666.8,985.3 1668.1,987.0 1669.4,981.4 1670.7,986.1 1672.0,982.9 1673.3,984.9 1674.6,982.2 1675.9,984.9 1677.2,986.2 1678.5,986.2 1679.8,993.1 1681.1,991.7 1682.4,988.5 1683.7,988.1 1685.0,989.4 1686.3,991.7 1687.6,991.7 1688.9,988.3 1690.2,995.2 1691.5,990.0 1692.8,994.0 1694.1,991.1 1695.4,992.3 1696.7,989.7 1698.0,995.4 1699.3,993.2 1700.6,989.1 1701.9,990.9 1703.2,988.4 1704.5,984.4 1705.8,987.7 1707.1,989.6 1708.4,990.8 1709.7,989.8 1711.0,987.9 1712.3,988.7 1713.6,989.5 1714.9,986.6 1716.2,987.5 1717.5,985.3 1718.8,982.4 1720.1,983.2 1721.4,980.4 1722.7,976.7 1724.0,980.3 1725.3,976.0 1726.6,979.7 1727.9,977.5 1729.2,977.5 1730.5,978.0 1731.8,979.9 1733.1,981.7 1734.4,979.7 1735.7,981.3 1737.0,985.1 1738.3,981.2 1739.6,983.7 1740.9,986.7 1742.2,989.1 1743.5,990.2 1744.8,984.9 1746.1,988.1 1747.4,986.0 1748.7,985.9 1750.0,989.5 1751.3,987.4 1752.6,984.8 1753.9,985.9 1755.2,986.4 1756.5,989.8 1757.8,987.5 1759.1,989.3 1760.4,983.6 1761.7,987.1 1763.0,985.5 1764.3,983.9 1765.6,984.5 1766.9,984.5 1768.2,985.7 1769.5,987.7 1770.8,983.7 1772.1,983.0 1773.4,986.8 1774.7,984.9 1776.0,986.1 1777.3,987.7 1778.6,982.7 1779.9,986.6 1781.2,987.2 1782.5,980.6 1783.8,980.7 1785.1,977.2 1786.4,976.0 1787.7,981.3 1789.0,977.0 1790.3,975.7 1791.6,980.1 1792.9,983.8 1794.2,984.1 1795.5,981.5 1796.8,986.4 1798.1,986.9 1799.4,985.7 1800.7,985.2 1802.0,982.2 1803.3,986.1 1804.6,982.0 1805.9,980.1 1807.2,983.5 1808.5,982.7 1809.8,983.1 1811.1,982.5 1812.4,979.2 1813.7,981.6 1815.0,979.6 1816.3,977.8 1817.6,980.7 1818.9,980.5 1820.2,979.1 1821.5,975.1 1822.8,976.2 1824.1,975.3 1825.4,975.5 1826.7,975.8 1828.0,975.7 1829.3,976.0 1830.6,975.6 1831.9,973.4 1833.2,976.6 1834.5,975.6 1835.8,978.4 1837.1,978.9 1838.4,980.8 1839.7,980.7 1841.0,980.9 1842.3,979.7 1843.6,983.3 1844.9,982.8 1846.2,980.3 1847.5,983.0 1848.8,979.8 1850.1,981.0 1851.4,980.3 1852.7,981.6 1854.0,978.4 1855.3,977.7 1856.6,982.6 1857.9,977.5 1859.2,980.0 1860.5,978.4 1861.8,977.5 1863.1,978.0 1864.4,983.1 1865.7,981.0 1867.0,981.2 1868.3,982.1 1869.6,981.3 1870.9,983.4 1872.2,979.8 1873.5,983.0 1874.8,981.0 1876.1,980.5 1877.4,983.2 1878.7,979.8 1880.0,982.7 1881.3,981.3 1882.6,980.1 1883.9,979.6 1885.2,978.5 1886.5,978.2 1887.8,981.1 1889.1,979.9 1890.4,979.8 1891.7,977.1 1893.0,977.7 1894.3,975.2 1895.6,976.1 1896.9,974.4 1898.2,976.3 1899.5,974.8 1900.8,975.5 1902.1,975.7 1903.4,976.0 1904.7,972.0 1906.0,975.0 1907.3,973.4 1908.6,969.9 1909.9,969.1 1911.2,970.4 1912.5,969.8 1913.8,962.9 1915.1,951.5 1916.4,945.4 1917.7,944.4 1919.0,948.0 1920.3,942.4 1921.6,948.7 1922.9,946.7 1924.2,954.2 1925.5,963.6 1926.8,971.3 1928.1,973.0 1929.4,972.6 1930.7,973.4 1932.0,973.1 1933.3,976.5 1934.6,975.4 1935.9,976.4 1937.2,973.1 1938.5,975.3 1939.8,971.2 1941.1,971.1 1942.4,975.1 1943.7,973.8 1945.0,974.2 1946.3,974.8 1947.6,975.4 1948.9,977.2 1950.2,975.9 1951.5,975.9 1952.8,975.4 1954.1,976.6 1955.4,974.3 1956.7,976.0 1958.0,973.8 1959.3,975.8 1960.6,975.4 1961.9,972.8 1963.2,974.6 1964.5,972.2 1965.8,971.8 1967.1,973.2 1968.4,970.1 1969.7,973.2 1971.0,970.5 1972.3,972.0 1973.6,969.9 1974.9,971.1 1976.2,970.0 1977.5,971.9 1978.8,974.1 1980.1,972.5 1981.4,971.6 1982.7,972.3 1984.0,973.6 1985.3,974.2 1986.6,971.8 1987.9,974.0 1989.2,972.3 1990.5,971.9 1991.8,972.8 1993.1,975.2 1994.4,975.1 1995.7,973.9 1997.0,972.8 1998.3,971.9 1999.6,972.3 2000.9,970.3 2002.2,971.5 2003.5,971.1 2004.8,969.7 2006.1,970.0 2007.4,969.6 2008.7,971.8 2010.0,972.0 2011.3,971.0 2012.6,970.6 2013.9,971.6 2015.2,974.8 2016.5,975.6 2017.8,973.4 2019.1,975.3 2020.4,976.7 2021.7,976.1 2023.0,978.1 2024.3,978.8 2025.6,977.8 2026.9,977.9 2028.2,979.4 2029.5,978.6 2030.8,978.0 2032.1,979.1 2033.4,978.6 2034.7,980.3 2036.0,978.9 2037.3,981.2 2038.6,979.7 2039.9,978.3 2041.2,979.6 2042.5,977.4 2043.8,975.8 2045.1,978.6 2046.4,977.7 2047.7,978.1 2049.0,977.9 2050.3,978.0 2051.6,976.2 2052.9,978.6 2054.2,977.7 2055.5,979.8 2056.8,978.2 2058.1,978.7 2059.4,979.1 2060.7,979.7 2062.0,977.0 2063.3,980.0 2064.6,976.8 2065.9,979.7 2067.2,978.8 2068.5,977.0 2069.8,975.5 2071.1,978.2 2072.4,978.1 2073.7,975.7 2075.0,974.5 2076.3,977.2 2077.6,975.6 2078.9,976.8 2080.2,977.1 2081.5,977.7 2082.8,965.3 2084.1,955.3 2085.4,956.4 2086.7,955.7 2088.0,956.3 2089.3,955.5 2090.6,954.6 2091.9,962.6 2093.2,970.7 2094.5,972.2 2095.8,971.1 2097.1,972.0 2098.4,973.6 2099.7,971.0 2101.0,971.8 2102.3,973.0 2103.6,971.3 2104.9,975.2 2106.2,974.0 2107.5,973.0 2108.8,972.5 2110.1,974.7 2111.4,974.5 2112.7,974.5 2114.0,973.8 2115.3,971.1 2116.6,971.0 2117.9,971.3 2119.2,971.8 2120.5,972.1 2121.8,969.3 2123.1,971.2 2124.4,972.0 2125.7,969.5 2127.0,972.4 2128.3,973.0 2129.6,973.0 2130.9,974.2 2132.2,973.9 2133.5,973.3 2134.8,974.2 2136.1,976.0 2137.4,977.4 2138.7,975.4 2140.0,978.6 2141.3,976.3 2142.6,978.5 2143.9,977.3 2145.2,977.3 2146.5,975.3 2147.8,978.2 2149.1,976.3 2150.4,972.9 2151.7,972.1 2153.0,969.5 2154.3,970.1 2155.6,970.6 2156.9,971.5 2158.2,972.0 2159.5,974.7 2160.8,974.9 2162.1,974.3 2163.4,973.8 2164.7,976.6 2166.0,976.8 2167.3,973.2 2168.6,975.1 2169.9,974.6 2171.2,973.7 2172.5,973.4 2173.8,976.6 2175.1,976.1 2176.4,976.2 2177.7,973.4 2179.0,973.5 2180.3,973.7 2181.6,973.5 2182.9,972.3 2184.2,974.0 2185.5,972.1 2186.8,973.7 2188.1,970.1 2189.4,972.7 2190.7,969.4 2192.0,970.5 2193.3,969.7 2194.6,972.7 2195.9,972.6 2197.2,970.3 2198.5,973.7 2199.8,973.7 2201.1,972.2 2202.4,973.7 2203.7,973.9 2205.0,974.0 2206.3,973.2 2207.6,973.8 2208.9,976.0 2210.2,974.9 2211.5,976.1 2212.8,972.9 2214.1,976.5 2215.4,975.3 2216.7,976.3 2218.0,973.5 2219.3,976.1 2220.6,976.8 2221.9,975.9 2223.2,973.8 2224.5,975.7 2225.8,973.1 2227.1,974.6 2228.4,974.0 2229.7,972.0 2231.0,971.6 2232.3,972.0 2233.6,970.4 2234.9,969.8 2236.2,970.2 2237.5,971.8 2238.8,969.3 2240.1,971.8 2241.4,969.2 2242.7,972.4 2244.0,971.5 2245.3,968.9 2246.6,969.5 2247.9,971.8 2249.2,971.5 2250.5,972.6 2251.8,971.4 2253.1,971.5 2254.4,972.0 2255.7,970.6 2257.0,971.4 2258.3,972.3 2259.6,972.3 2260.9,973.0 2262.2,971.7 2263.5,970.2 2264.8,972.0 2266.1,973.7 2267.4,970.7 2268.7,971.9 2270.0,970.9 2271.3,970.7 2272.6,970.3 2273.9,970.9 2275.2,971.0 2276.5,970.7 2277.8,969.0 2279.1,969.0 2280.4,969.3 2281.7,971.0 2283.0,969.3 2284.3,969.8 2285.6,969.5 2286.9,967.8 2288.2,968.3 2289.5,969.2 2290.8,966.1 2292.1,965.7 2293.4,968.2 2294.7,965.7 2296.0,965.1 2297.3,968.4 2298.6,967.3 2299.9,965.3 2301.2,968.8 2302.5,968.7 2303.8,969.9 2305.1,969.2 2306.4,969.7 2307.7,967.7 2309.0,967.9 2310.3,970.4 2311.6,969.5 2312.9,969.1 2312.9,980.2 2311.6,981.2 2310.3,979.7 2309.0,981.9 2307.7,982.2 2306.4,981.0 2305.1,980.1 2303.8,979.0 2302.5,979.7 2301.2,978.4 2299.9,979.6 2298.6,976.5 2297.3,977.8 2296.0,978.1 2294.7,976.3 2293.4,978.6 2292.1,977.2 2290.8,979.7 2289.5,977.6 2288.2,980.2 2286.9,979.9 2285.6,980.3 2284.3,980.0 2283.0,981.7 2281.7,980.4 2280.4,982.4 2279.1,981.7 2277.8,980.1 2276.5,983.2 2275.2,982.7 2273.9,982.7 2272.6,983.9 2271.3,984.3 2270.0,983.1 2268.7,982.6 2267.4,983.3 2266.1,981.7 2264.8,983.1 2263.5,982.5 2262.2,981.2 2260.9,981.1 2259.6,982.0 2258.3,981.1 2257.0,982.2 2255.7,982.0 2254.4,980.7 2253.1,982.6 2251.8,982.5 2250.5,980.6 2249.2,981.2 2247.9,982.9 2246.6,980.5 2245.3,982.3 2244.0,981.7 2242.7,981.2 2241.4,982.0 2240.1,983.4 2238.8,982.6 2237.5,982.1 2236.2,981.3 2234.9,981.9 2233.6,982.2 2232.3,985.3 2231.0,985.6 2229.7,983.5 2228.4,984.7 2227.1,984.9 2225.8,986.3 2224.5,985.1 2223.2,984.7 2221.9,986.9 2220.6,987.1 2219.3,984.7 2218.0,985.7 2216.7,986.5 2215.4,985.4 2214.1,985.3 2212.8,987.0 2211.5,985.4 2210.2,983.9 2208.9,985.1 2207.6,984.1 2206.3,984.6 2205.0,985.8 2203.7,984.6 2202.4,984.6 2201.1,985.3 2199.8,984.5 2198.5,983.1 2197.2,983.1 2195.9,984.3 2194.6,981.3 2193.3,981.6 2192.0,983.9 2190.7,981.4 2189.4,983.8 2188.1,982.3 2186.8,984.9 2185.5,983.8 2184.2,982.8 2182.9,982.8 2181.6,983.8 2180.3,984.0 2179.0,985.1 2177.7,986.0 2176.4,984.9 2175.1,987.2 2173.8,986.1 2172.5,987.1 2171.2,985.4 2169.9,985.3 2168.6,986.0 2167.3,985.5 2166.0,985.1 2164.7,985.0 2163.4,987.4 2162.1,986.5 2160.8,987.0 2159.5,985.8 2158.2,982.7 2156.9,983.6 2155.6,983.4 2154.3,984.5 2153.0,982.9 2151.7,981.8 2150.4,981.1 2149.1,986.2 2147.8,989.1 2146.5,988.3 2145.2,989.5 2143.9,989.7 2142.6,987.7 2141.3,987.3 2140.0,987.8 2138.7,988.1 2137.4,985.7 2136.1,985.5 2134.8,987.1 2133.5,983.8 2132.2,984.1 2130.9,983.5 2129.6,983.7 2128.3,984.6 2127.0,983.7 2125.7,980.8 2124.4,982.4 2123.1,980.7 2121.8,981.5 2120.5,982.9 2119.2,981.4 2117.9,982.7 2116.6,984.2 2115.3,984.8 2114.0,984.0 2112.7,985.8 2111.4,985.0 2110.1,986.2 2108.8,986.9 2107.5,985.7 2106.2,986.0 2104.9,985.8 2103.6,984.8 2102.3,982.6 2101.0,983.1 2099.7,983.5 2098.4,982.2 2097.1,981.8 2095.8,983.9 2094.5,982.6 2093.2,983.8 2091.9,971.9 2090.6,965.1 2089.3,969.8 2088.0,966.4 2086.7,965.2 2085.4,970.3 2084.1,966.7 2082.8,978.7 2081.5,988.8 2080.2,987.8 2078.9,988.8 2077.6,987.2 2076.3,985.7 2075.0,988.3 2073.7,987.5 2072.4,986.2 2071.1,989.2 2069.8,987.8 2068.5,987.1 2067.2,988.8 2065.9,989.9 2064.6,990.5 2063.3,988.5 2062.0,989.7 2060.7,988.1 2059.4,991.2 2058.1,989.1 2056.8,990.8 2055.5,989.5 2054.2,988.4 2052.9,988.0 2051.6,987.7 2050.3,988.7 2049.0,988.7 2047.7,990.5 2046.4,990.1 2045.1,989.0 2043.8,990.0 2042.5,989.7 2041.2,987.8 2039.9,989.6 2038.6,990.5 2037.3,990.5 2036.0,990.5 2034.7,991.8 2033.4,992.2 2032.1,992.0 2030.8,990.9 2029.5,991.3 2028.2,988.7 2026.9,990.8 2025.6,987.8 2024.3,987.2 2023.0,986.6 2021.7,986.2 2020.4,986.0 2019.1,988.0 2017.8,986.6 2016.5,985.0 2015.2,982.9 2013.9,985.2 2012.6,983.0 2011.3,980.8 2010.0,980.3 2008.7,982.3 2007.4,983.7 2006.1,980.7 2004.8,981.8 2003.5,981.3 2002.2,981.8 2000.9,984.6 1999.6,984.3 1998.3,983.1 1997.0,983.0 1995.7,986.1 1994.4,983.8 1993.1,982.7 1991.8,983.8 1990.5,983.4 1989.2,983.2 1987.9,983.9 1986.6,986.2 1985.3,984.1 1984.0,984.6 1982.7,983.3 1981.4,982.4 1980.1,982.7 1978.8,983.7 1977.5,985.4 1976.2,984.4 1974.9,984.0 1973.6,984.4 1972.3,983.1 1971.0,984.0 1969.7,984.7 1968.4,983.7 1967.1,982.9 1965.8,985.4 1964.5,985.5 1963.2,984.3 1961.9,984.0 1960.6,987.0 1959.3,987.3 1958.0,985.4 1956.7,987.0 1955.4,987.4 1954.1,985.4 1952.8,986.0 1951.5,985.4 1950.2,986.8 1948.9,987.4 1947.6,986.4 1946.3,983.7 1945.0,985.0 1943.7,982.6 1942.4,984.3 1941.1,982.7 1939.8,984.6 1938.5,983.6 1937.2,985.9 1935.9,984.5 1934.6,984.5 1933.3,987.7 1932.0,986.9 1930.7,986.8 1929.4,985.7 1928.1,981.8 1926.8,983.0 1925.5,975.2 1924.2,965.6 1922.9,959.9 1921.6,959.6 1920.3,956.7 1919.0,958.2 1917.7,958.4 1916.4,954.1 1915.1,963.6 1913.8,973.4 1912.5,983.3 1911.2,983.2 1909.9,984.5 1908.6,984.9 1907.3,984.1 1906.0,984.6 1904.7,987.4 1903.4,986.8 1902.1,990.4 1900.8,988.2 1899.5,988.3 1898.2,989.2 1896.9,987.7 1895.6,990.3 1894.3,988.7 1893.0,989.1 1891.7,992.0 1890.4,989.5 1889.1,990.4 1887.8,993.4 1886.5,991.1 1885.2,994.5 1883.9,992.8 1882.6,992.3 1881.3,995.9 1880.0,995.3 1878.7,993.2 1877.4,993.3 1876.1,995.3 1874.8,994.4 1873.5,995.2 1872.2,996.5 1870.9,995.5 1869.6,996.1 1868.3,996.9 1867.0,997.5 1865.7,994.3 1864.4,994.9 1863.1,992.9 1861.8,992.6 1860.5,994.8 1859.2,993.7 1857.9,994.7 1856.6,993.7 1855.3,995.9 1854.0,997.2 1852.7,995.9 1851.4,996.1 1850.1,997.5 1848.8,998.0 1847.5,995.2 1846.2,997.3 1844.9,994.6 1843.6,994.6 1842.3,998.0 1841.0,996.2 1839.7,995.6 1838.4,995.0 1837.1,995.1 1835.8,994.9 1834.5,994.2 1833.2,991.1 1831.9,990.6 1830.6,987.9 1829.3,990.7 1828.0,987.6 1826.7,988.8 1825.4,989.6 1824.1,989.9 1822.8,990.6 1821.5,992.7 1820.2,991.9 1818.9,994.3 1817.6,992.0 1816.3,995.9 1815.0,996.9 1813.7,993.0 1812.4,995.9 1811.1,997.5 1809.8,997.3 1808.5,998.2 1807.2,997.4 1805.9,1000.5 1804.6,998.3 1803.3,999.7 1802.0,1002.0 1800.7,1002.7 1799.4,1000.9 1798.1,1003.4 1796.8,1001.8 1795.5,1000.0 1794.2,1001.8 1792.9,1001.7 1791.6,995.9 1790.3,993.6 1789.0,994.4 1787.7,997.4 1786.4,996.8 1785.1,993.3 1783.8,996.2 1782.5,1000.8 1781.2,999.9 1779.9,1000.6 1778.6,1004.6 1777.3,1001.7 1776.0,1003.4 1774.7,1000.2 1773.4,1002.1 1772.1,1002.1 1770.8,1003.5 1769.5,1001.4 1768.2,1003.7 1766.9,1005.0 1765.6,1005.0 1764.3,1002.3 1763.0,1001.0 1761.7,1005.1 1760.4,1005.1 1759.1,1005.7 1757.8,1005.7 1756.5,1006.7 1755.2,1008.5 1753.9,1005.1 1752.6,1004.5 1751.3,1006.4 1750.0,1007.2 1748.7,1006.4 1747.4,1007.3 1746.1,1006.3 1744.8,1007.6 1743.5,1006.1 1742.2,1007.8 1740.9,1007.4 1739.6,1001.8 1738.3,1000.6 1737.0,1000.0 1735.7,1000.2 1734.4,1001.6 1733.1,1000.2 1731.8,999.3 1730.5,999.1 1729.2,1000.8 1727.9,997.3 1726.6,999.2 1725.3,1000.3 1724.0,1001.0 1722.7,998.7 1721.4,999.4 1720.1,1002.7 1718.8,1002.3 1717.5,1003.4 1716.2,1005.8 1714.9,1007.5 1713.6,1009.1 1712.3,1009.9 1711.0,1007.2 1709.7,1009.6 1708.4,1006.7 1707.1,1011.0 1705.8,1008.2 1704.5,1010.0 1703.2,1006.0 1701.9,1007.1 1700.6,1006.2 1699.3,1008.0 1698.0,1013.4 1696.7,1012.1 1695.4,1012.8 1694.1,1013.6 1692.8,1011.1 1691.5,1011.7 1690.2,1011.0 1688.9,1009.4 1687.6,1014.9 1686.3,1009.6 1685.0,1011.5 1683.7,1012.0 1682.4,1010.1 1681.1,1012.1 1679.8,1011.6 1678.5,1006.7 1677.2,1005.6 1675.9,1009.4 1674.6,1005.1 1673.3,1009.9 1672.0,1006.6 1670.7,1008.0 1669.4,1004.2 1668.1,1006.1 1666.8,1005.5 1665.5,1007.5 1664.2,1007.0 1662.9,1005.0 1661.6,1006.7 1660.3,1007.9 1659.0,1006.4 1657.7,1007.5 1656.4,1012.1 1655.1,1011.6 1653.8,1010.3 1652.5,1013.5 1651.2,1012.6 1649.9,1010.6 1648.6,1014.8 1647.3,1014.9 1646.0,1013.3 1644.7,1011.3 1643.4,1013.1 1642.1,1014.7 1640.8,1011.0 1639.5,1011.0 1638.2,1012.0 1636.9,1012.7 1635.6,1014.7 1634.3,1013.4 1633.0,1013.2 1631.7,1008.7 1630.4,1008.7 1629.1,1014.8 1627.8,1012.7 1626.5,1010.6 1625.2,1015.1 1623.9,1012.9 1622.6,1012.9 1621.3,1014.7 1620.0,1013.8 1618.7,1011.9 1617.4,1014.4 1616.1,1010.2 1614.8,1009.5 1613.5,1013.6 1612.2,1013.6 1610.9,1014.5 1609.6,1013.6 1608.3,1010.0 1607.0,1011.1 1605.7,1014.8 1604.4,1012.7 1603.1,1016.1 1601.8,1012.5 1600.5,1016.0 1599.2,1015.1 1597.9,1011.2 1596.6,1010.4 1595.3,1011.3 1594.0,1013.1 1592.7,1011.5 1591.4,1011.6 1590.1,1012.1 1588.8,1011.6 1587.5,1011.0 1586.2,1014.4 1584.9,1012.4 1583.6,1013.7 1582.3,1011.4 1581.0,1010.9 1579.7,1011.9 1578.4,1011.9 1577.1,1017.8 1575.8,1012.7 1574.5,1017.6 1573.2,1013.3 1571.9,1013.9 1570.6,1015.5 1569.3,1015.6 1568.0,1014.0 1566.7,1015.4 1565.4,1013.2 1564.1,1012.1 1562.8,1011.9 1561.5,1010.7 1560.2,1013.3 1558.9,1013.9 1557.6,1008.2 1556.3,1012.5 1555.0,1008.5 1553.7,1010.0 1552.4,1007.7 1551.1,1013.4 1549.8,1010.3 1548.5,1010.9 1547.2,1013.4 1545.9,1008.7 1544.6,1008.8 1543.3,1009.2 1542.0,1011.2 1540.7,1006.5 1539.4,1006.4 1538.1,1009.6 1536.8,1009.7 1535.5,1009.7 1534.2,1007.7 1532.9,1007.1 1531.6,1008.3 1530.3,1013.6 1529.0,1008.0 1527.7,1010.3 1526.4,1012.2 1525.1,1011.7 1523.8,1008.6 1522.5,1011.7 1521.2,1012.8 1519.9,1012.4 1518.6,1011.7 1517.3,1006.4 1516.0,1005.5 1514.7,1008.4 1513.4,1010.5 1512.1,1010.1 1510.8,1007.0 1509.5,1010.3 1508.2,1010.4 1506.9,1006.9 1505.6,1013.4 1504.3,1010.0 1503.0,1015.0 1501.7,1010.7 1500.4,1015.1 1499.1,1013.4 1497.8,1014.8 1496.5,1012.1 1495.2,1011.4 1493.9,1016.1 1492.6,1013.0 1491.3,1012.9 1490.0,1009.9 1488.7,1010.0 1487.4,1006.9 1486.1,1010.9 1484.8,1007.1 1483.5,1005.9 1482.2,1007.6 1480.9,1008.8 1479.6,1005.9 1478.3,1006.5 1477.0,1010.1 1475.7,1004.3 1474.4,1009.9 1473.1,1010.0 1471.8,1012.3 1470.5,1009.5 1469.2,1017.2 1467.9,1010.8 1466.6,1016.6 1465.3,1011.3 1464.0,1013.9 1462.7,1015.0 1461.4,1014.2 1460.1,1017.1 1458.8,1016.6 1457.5,1017.5 1456.2,1015.1 1454.9,1012.3 1453.6,1013.7 1452.3,1014.2 1451.0,1010.8 1449.7,1012.8 1448.4,1010.3 1447.1,1010.2 1445.8,1008.0 1444.5,1006.2 1443.2,1009.8 1441.9,1008.1 1440.6,1006.2 1439.3,1001.8 1438.0,1001.3 1436.7,1002.9 1435.4,1001.7 1434.1,1001.6 1432.8,1001.4 1431.5,1007.1 1430.2,1007.2 1428.9,1004.2 1427.6,1006.2 1426.3,1007.9 1425.0,1006.3 1423.7,1008.0 1422.4,1009.3 1421.1,1005.0 1419.8,1008.5 1418.5,1004.6 1417.2,1003.3 1415.9,1003.9 1414.6,998.9 1413.3,1001.0 1412.0,1000.0 1410.7,1001.0 1409.4,999.4 1408.1,999.7 1406.8,998.9 1405.5,1001.1 1404.2,1005.6 1402.9,1005.5 1401.6,1004.4 1400.3,1009.3 1399.0,1008.2 1397.7,1006.4 1396.4,1010.3 1395.1,1008.1 1393.8,1008.0 1392.5,1012.9 1391.2,1009.1 1389.9,1012.7 1388.6,1013.1 1387.3,1015.2 1386.0,1011.2 1384.7,1011.8 1383.4,1013.9 1382.1,1016.8 1380.8,1014.4 1379.5,1015.6 1378.2,1015.0 1376.9,1012.2 1375.6,1014.9 1374.3,1011.3 1373.0,1012.0 1371.7,1012.2 1370.4,1011.5 1369.1,1012.2 1367.8,1012.4 1366.5,1011.3 1365.2,1010.8 1363.9,1011.7 1362.6,1012.9 1361.3,1013.3 1360.0,1012.3 1358.7,1014.2 1357.4,1010.6 1356.1,1009.0 1354.8,1015.2 1353.5,1015.6 1352.2,1013.5 1350.9,1017.5 1349.6,1017.3 1348.3,1012.4 1347.0,1015.0 1345.7,1016.5 1344.4,1012.1 1343.1,1012.6 1341.8,1012.2 1340.5,1010.7 1339.2,1009.9 1337.9,1006.4 1336.6,1011.2 1335.3,1007.1 1334.0,1004.0 1332.7,1008.4 1331.4,1003.9 1330.1,1009.5 1328.8,1007.6 1327.5,1008.7 1326.2,1007.6 1324.9,1009.6 1323.6,1007.3 1322.3,1012.4 1321.0,1010.9 1319.7,1009.0 1318.4,1008.8 1317.1,1008.3 1315.8,1006.9 1314.5,1011.0 1313.2,1008.5 1311.9,1008.2 1310.6,1005.5 1309.3,1006.6 1308.0,1009.3 1306.7,1002.6 1305.4,1005.4 1304.1,1006.2 1302.8,1003.9 1301.5,1005.5 1300.2,1003.6 1298.9,1005.9 1297.6,1006.8 1296.3,1008.2 1295.0,1006.5 1293.7,1002.0 1292.4,1003.8 1291.1,1000.6 1289.8,1001.9 1288.5,1006.6 1287.2,1002.3 1285.9,1008.3 1284.6,1008.4 1283.3,1010.4 1282.0,1006.7 1280.7,1008.0 1279.4,1010.0 1278.1,1011.3 1276.8,1004.8 1275.5,1006.4 1274.2,1006.4 1272.9,1006.0 1271.6,999.8 1270.3,1004.8 1269.0,1001.5 1267.7,1000.3 1266.4,998.1 1265.1,998.3 1263.8,999.8 1262.5,1000.0 1261.2,998.1 1259.9,1000.3 1258.6,1000.6 1257.3,999.6 1256.0,1002.7 1254.7,1002.5 1253.4,1004.4 1252.1,1003.3 1250.8,1002.7 1249.5,1006.6 1248.2,1006.2 1246.9,1003.4 1245.6,1005.9 1244.3,1005.9 1243.0,1005.2 1241.7,1003.6 1240.4,998.9 1239.1,999.9 1237.8,998.7 1236.5,1002.8 1235.2,1000.3 1233.9,999.3 1232.6,1002.8 1231.3,1000.2 1230.0,999.3 1228.7,1003.7 1227.4,1001.9 1226.1,1000.6 1224.8,1001.3 1223.5,1003.6 1222.2,1006.0 1220.9,1003.0 1219.6,1006.5 1218.3,1005.2 1217.0,1009.6 1215.7,1007.8 1214.4,1009.8 1213.1,1006.1 1211.8,1006.0 1210.5,1005.2 1209.2,1005.5 1207.9,1007.5 1206.6,1009.2 1205.3,1004.6 1204.0,1003.5 1202.7,1006.9 1201.4,1005.2 1200.1,1006.3 1198.8,1008.9 1197.5,1009.1 1196.2,1007.3 1194.9,1008.2 1193.6,1009.8 1192.3,1006.8 1191.0,1009.1 1189.7,1008.0 1188.4,1006.6 1187.1,1006.3 1185.8,1008.4 1184.5,1005.2 1183.2,1007.9 1181.9,1004.4 1180.6,1005.9 1179.3,1003.1 1178.0,1006.0 1176.7,1002.8 1175.4,1002.4 1174.1,999.8 1172.8,1004.3 1171.5,1004.6 1170.2,1003.7 1168.9,1006.3 1167.6,1005.5 1166.3,1006.4 1165.0,1003.5 1163.7,1007.7 1162.4,1004.8 1161.1,1002.9 1159.8,1003.4 1158.5,1008.3 1157.2,1007.1 1155.9,1007.0 1154.6,1004.7 1153.3,1004.8 1152.0,1005.2 1150.7,1002.3 1149.4,1004.3 1148.1,1005.8 1146.8,1005.1 1145.5,1001.0 1144.2,1003.6 1142.9,1005.5 1141.6,1004.2 1140.3,1001.5 1139.0,1006.3 1137.7,1005.6 1136.4,1006.2 1135.1,1002.1 1133.8,1006.5 1132.5,1001.2 1131.2,1004.3 1129.9,1003.0 1128.6,1000.5 1127.3,1004.1 1126.0,1001.3 1124.7,1001.6 1123.4,1000.9 1122.1,1002.5 1120.8,1001.2 1119.5,1001.4 1118.2,1002.8 1116.9,999.1 1115.6,999.8 1114.3,998.9 1113.0,1000.6 1111.7,1000.5 1110.4,1002.9 1109.1,1000.0 1107.8,1001.5 1106.5,1005.1 1105.2,1005.4 1103.9,1003.9 1102.6,1004.9 1101.3,1005.2 1100.0,1001.3 1098.7,1002.5 1097.4,1001.7 1096.1,999.4 1094.8,999.2 1093.5,1000.9 1092.2,998.4 1090.9,998.7 1089.6,998.1 1088.3,997.4 1087.0,999.1 1085.7,999.9 1084.4,997.2 1083.1,996.5 1081.8,995.0 1080.5,996.5 1079.2,997.5 1077.9,995.5 1076.6,999.7 1075.3,999.9 1074.0,999.5 1072.7,1000.1 1071.4,995.3 1070.1,996.5 1068.8,998.5 1067.5,999.8 1066.2,996.0 1064.9,996.9 1063.6,997.4 1062.3,1001.7 1061.0,1003.1 1059.7,1003.1 1058.4,1001.5 1057.1,1001.5 1055.8,1000.6 1054.5,1000.8 1053.2,1003.5 1051.9,1004.3 1050.6,999.3 1049.3,1000.1 1048.0,998.7 1046.7,1000.0 1045.4,1001.6 1044.1,1000.2 1042.8,999.5 1041.5,998.7 1040.2,999.2 1038.9,1000.2 1037.6,998.4 1036.3,997.8 1035.0,999.3 1033.7,997.5 1032.4,999.2 1031.1,996.5 1029.8,999.4 1028.5,996.0 1027.2,997.1 1025.9,994.1 1024.6,994.7 1023.3,998.1 1022.0,994.0 1020.7,997.9 1019.4,999.7 1018.1,995.5 1016.8,994.9 1015.5,990.8 1014.2,993.1 1012.9,987.9 1011.6,987.9 1010.3,989.9 1009.0,992.4 1007.7,990.1 1006.4,991.2 1005.1,996.0 1003.8,998.0 1002.5,996.4 1001.2,996.1 999.9,997.0 998.6,997.8 997.3,995.0 996.0,999.8 994.7,997.7 993.4,997.4 992.1,998.7 990.8,993.9 989.5,993.7 988.2,994.2 986.9,994.9 985.6,995.9 984.3,994.1 983.0,995.6 981.7,995.1 980.4,996.8 979.1,996.5 977.8,997.0 976.5,997.2 975.2,994.1 973.9,996.4 972.6,994.6 971.3,994.9 970.0,991.1 968.7,993.7 967.4,990.4 966.1,991.2 964.8,991.1 963.5,991.1 962.2,994.7 960.9,995.2 959.6,998.8 958.3,1001.4 957.0,998.9 955.7,1000.2 954.4,1001.0 953.1,999.9 951.8,1002.0 950.5,998.9 949.2,1000.0 947.9,999.2 946.6,997.8 945.3,997.1 944.0,997.9 942.7,997.5 941.4,996.4 940.1,995.6 938.8,993.7 937.5,996.5 936.2,996.9 934.9,996.0 933.6,993.8 932.3,997.7 931.0,996.7 929.7,994.9 928.4,996.7 927.1,996.1 925.8,996.3 924.5,994.3 923.2,994.9 921.9,998.9 920.6,997.1 919.3,996.5 918.0,989.3 916.7,988.8 915.4,984.2 914.1,977.2 912.8,976.2 911.5,976.4 910.2,976.8 908.9,978.2 907.6,976.2 906.3,978.4 905.0,977.0 903.7,978.2 902.4,981.9 901.1,981.5 899.8,981.1 898.5,983.5 897.2,981.5 895.9,984.9 894.6,987.2 893.3,981.1 892.0,975.5 890.7,975.6 889.4,969.3 888.1,964.0 886.8,966.9 885.5,970.2 884.2,964.9 882.9,965.7 881.6,966.6 880.3,969.3 879.0,974.5 877.7,981.6 876.4,984.7 875.1,989.2 873.8,988.6 872.5,991.1 871.2,990.5 869.9,993.5 868.6,994.4 867.3,992.8 866.0,993.4 864.7,994.2 863.4,990.6 862.1,992.6 860.8,993.8 859.5,992.3 858.2,995.7 856.9,992.2 855.6,992.0 854.3,994.8 853.0,996.3 851.7,991.0 850.4,992.4 849.1,991.1 847.8,991.7 846.5,994.2 845.2,991.1 843.9,994.4 842.6,990.3 841.3,991.0 840.0,992.0 838.7,994.2 837.4,993.5 836.1,991.1 834.8,993.8 833.5,992.2 832.2,991.5 830.9,990.1 829.6,990.2 828.3,989.9 827.0,991.2 825.7,993.2 824.4,992.9 823.1,991.9 821.8,993.0 820.5,992.1 819.2,996.2 817.9,995.5 816.6,992.2 815.3,994.9 814.0,994.3 812.7,996.0 811.4,995.7 810.1,992.9 808.8,991.9 807.5,991.3 806.2,992.3 804.9,993.3 803.6,991.6 802.3,992.2 801.0,992.0 799.7,989.6 798.4,993.2 797.1,992.2 795.8,988.3 794.5,991.9 793.2,989.6 791.9,987.5 790.6,987.1 789.3,989.3 788.0,986.7 786.7,985.9 785.4,987.9 784.1,990.1 782.8,988.6 781.5,989.3 780.2,988.1 778.9,989.1 777.6,989.8 776.3,990.3 775.0,987.5 773.7,987.6 772.4,987.4 771.1,985.7 769.8,989.0 768.5,984.6 767.2,987.3 765.9,984.5 764.6,983.5 763.3,987.0 762.0,985.9 760.7,987.5 759.4,983.8 758.1,984.6 756.8,983.9 755.5,987.2 754.2,983.9 752.9,987.4 751.6,985.2 750.3,986.3 749.0,981.9 747.7,982.6 746.4,984.0 745.1,980.0 743.8,980.4 742.5,978.4 741.2,980.2 739.9,980.8 738.6,981.3 737.3,980.6 736.0,980.8 734.7,981.1 733.4,981.5 732.1,977.5 730.8,979.0 729.5,978.1 728.2,979.7 726.9,977.8 725.6,978.1 724.3,976.2 723.0,977.5 721.7,978.8 720.4,979.9 719.1,975.8 717.8,979.6 716.5,978.1 715.2,979.6 713.9,977.5 712.6,978.6 711.3,978.5 710.0,976.6 708.7,975.6 707.4,973.6 706.1,974.0 704.8,972.0 703.5,971.5 702.2,972.8 700.9,972.5 699.6,972.1 698.3,973.0 697.0,973.4 695.7,971.4 694.4,974.3 693.1,975.6 691.8,974.3 690.5,977.8 689.2,975.0 687.9,975.1 686.6,975.4 685.3,977.3 684.0,978.9 682.7,978.3 681.4,977.4 680.1,979.0 678.8,975.5 677.5,976.7 676.2,978.0 674.9,978.2 673.6,975.8 672.3,977.7 671.0,976.6 669.7,974.4 668.4,974.1 667.1,977.3 665.8,976.7 664.5,975.1 663.2,975.8 661.9,973.7 660.6,973.2 659.3,974.3 658.0,973.6 656.7,974.3 655.4,972.4 654.1,973.4 652.8,972.0 651.5,973.3 650.2,974.0 648.9,973.7 647.6,970.2 646.3,971.3 645.0,973.1 643.7,972.1 642.4,971.2 641.1,969.8 639.8,969.7 638.5,970.3 637.2,972.1 635.9,971.9 634.6,973.7 633.3,970.8 632.0,970.6 630.7,972.1 629.4,972.9 628.1,971.7 626.8,970.5 625.5,971.9 624.2,969.7 622.9,969.9 621.6,968.0 620.3,966.8 619.0,969.5 617.7,966.2 616.4,964.4 615.1,964.2 613.8,964.6 612.5,965.5 611.2,962.6 609.9,963.6 608.6,963.4 607.3,961.7 606.0,961.6 604.7,963.9 603.4,962.6 602.1,961.1 600.8,960.7 599.5,962.3 598.2,962.0 596.9,963.4 595.6,963.0 594.3,961.5 593.0,962.4 591.7,965.0 590.4,965.5 589.1,965.8 587.8,964.5 586.5,967.1 585.2,964.6 583.9,963.2 582.6,963.3 581.3,964.4 580.0,965.3 578.7,963.9 577.4,962.7 576.1,966.4 574.8,964.1 573.5,963.8 572.2,966.7 570.9,963.8 569.6,967.5 568.3,965.4 567.0,968.5 565.7,967.3 564.4,968.3 563.1,969.9 561.8,967.7 560.5,967.7 559.2,969.6 557.9,967.5 556.6,967.2 555.3,970.4 554.0,968.0 552.7,966.9 551.4,969.0 550.1,967.3 548.8,970.5 547.5,968.0 546.2,967.1 544.9,971.0 543.6,967.3 542.3,968.5 541.0,970.0 539.7,969.7 538.4,971.0 537.1,970.8 535.8,970.2 534.5,969.3 533.2,970.9 531.9,970.4 530.6,971.3 529.3,970.0 528.0,972.3 526.7,972.5 525.4,970.5 524.1,973.0 522.8,972.8 521.5,974.3 520.2,970.6 518.9,973.9 517.6,970.5 516.3,973.2 515.0,972.9 513.7,972.3 512.4,970.7 511.1,972.3 509.8,970.9 508.5,970.2 507.2,969.8 505.9,968.4 504.6,967.9 503.3,967.7 502.0,969.9 500.7,967.5 499.4,966.9 498.1,967.4 496.8,969.4 495.5,967.1 494.2,964.4 492.9,966.4 491.6,963.0 490.3,965.7 489.0,963.4 487.7,965.4 486.4,962.8 485.1,963.5 483.8,965.3 482.5,965.1 481.2,970.2 479.9,969.5 478.6,973.5 477.3,972.7 476.0,975.3 474.7,973.1 473.4,973.3 472.1,973.6 470.8,975.2 469.5,973.0 468.2,976.4 466.9,973.9 465.6,974.6 464.3,974.9 463.0,974.7 461.7,971.6 460.4,971.3 459.1,972.5 457.8,970.9 456.5,974.7 455.2,975.0 453.9,971.5 452.6,973.6 451.3,973.6 450.0,972.6 448.7,974.5 447.4,976.0 446.1,973.4 444.8,976.9 443.5,975.3 442.2,975.1 440.9,974.6 439.6,976.4 438.3,974.0 437.0,973.7 435.7,975.4 434.4,973.9 433.1,977.0 431.8,975.3 430.5,977.4 429.2,974.2 427.9,975.0 426.6,976.5 425.3,976.3 424.0,972.1 422.7,975.8 421.4,975.4 420.1,972.1 418.8,971.9 417.5,975.3 416.2,975.0 414.9,974.1 413.6,975.9 412.3,975.5 411.0,974.2 409.7,976.5 408.4,976.7 407.1,979.1 405.8,978.7 404.5,975.9 403.2,978.8 401.9,978.3 400.6,978.1 399.3,980.0 398.0,976.2 396.7,976.8 395.4,977.4 394.1,978.6 392.8,975.0 391.5,978.0 390.2,977.2 388.9,976.0 387.6,976.7 386.3,975.8 385.0,978.5 383.7,977.0 382.4,975.9 381.1,976.5 379.8,974.8 378.5,976.4 377.2,978.1 375.9,978.8 374.6,976.8 373.3,978.7 372.0,979.4 370.7,979.1 369.4,978.0 368.1,977.4 366.8,979.5 365.5,979.3 364.2,975.7 362.9,976.4 361.6,977.1 360.3,976.9 359.0,978.9 357.7,975.0 356.4,976.8 355.1,977.2 353.8,978.3 352.5,979.6 351.2,976.2 349.9,980.0 348.6,976.6 347.3,976.4 346.0,977.9 344.7,975.8 343.4,975.8 342.1,978.5 340.8,978.7 339.5,975.6 338.2,979.1 336.9,975.8 335.6,977.8 334.3,975.2 333.0,976.4 331.7,974.8 330.4,977.5 329.1,974.4 327.8,977.7 326.5,976.8 325.2,973.5 323.9,975.1 322.6,971.9 321.3,973.0 320.0,972.1 318.7,972.1 317.4,969.6 316.1,970.3 314.8,970.0 313.5,969.2 312.2,970.4 310.9,971.4 309.6,971.1 308.3,969.5 307.0,969.7 305.7,969.4 304.4,970.5 303.1,973.4 301.8,972.7 300.5,975.7 299.2,973.9 297.9,974.4 296.6,976.7 295.3,974.8 294.0,973.5 292.7,975.8 291.4,977.5 290.1,976.5 288.8,974.5 287.5,977.0 286.2,975.9 284.9,977.6 283.6,978.9 282.3,979.4 281.0,976.9 279.7,977.7 278.4,977.7 277.1,978.1 275.8,976.6 274.5,973.9 273.2,975.1 271.9,975.4 270.6,974.9 269.3,971.6 268.0,973.7 266.7,970.7 265.4,970.1 264.1,970.3 262.8,973.3 261.5,971.9 260.2,971.7 258.9,975.0 257.6,975.1 256.3,976.7 255.0,977.0 253.7,976.4 252.4,977.1 251.1,974.5 249.8,975.7 248.5,977.2 247.2,976.2 245.9,977.7 244.6,975.6 243.3,976.8 242.0,973.9 240.7,976.9 239.4,976.6 238.1,975.3 236.8,974.3 235.5,973.4 234.2,974.5 232.9,973.0 231.6,972.9 230.3,976.1 229.0,974.6 227.7,973.5 226.4,971.4 225.1,971.8 223.8,970.4 222.5,970.5 221.2,973.0 219.9,971.6 218.6,968.8 217.3,968.6 216.0,970.4 214.7,972.2 213.4,970.7 212.1,970.2 210.8,969.6 209.5,969.2 208.2,973.0 206.9,972.9 205.6,971.6 204.3,971.1 203.0,971.6 201.7,974.3 200.4,972.4 199.1,973.8 197.8,975.1 196.5,974.3 195.2,972.2 193.9,974.5 192.6,971.6 191.3,975.8 190.0,974.0 188.7,972.9 187.4,974.6 186.1,975.4 184.8,975.9 183.5,974.8 182.2,974.3 180.9,977.0 179.6,976.3 178.3,976.6 177.0,976.0 175.7,977.3 174.4,978.7 173.1,979.0 171.8,978.3 170.5,979.3 169.2,978.5 167.9,979.4 166.6,977.9 165.3,980.0 164.0,979.3 162.7,979.3 161.4,981.2 160.1,980.7 158.8,976.9 157.5,979.5 156.2,979.6 154.9,980.8 153.6,976.9 152.3,977.5 151.0,975.6 149.7,976.1 148.4,975.3 147.1,975.2 145.8,977.2 144.5,973.9 143.2,975.5 141.9,973.6 140.6,975.7 139.3,975.5 138.0,976.6 136.7,972.5 135.4,975.3 134.1,977.5 132.8,978.2 131.5,975.5 130.2,979.1 128.9,976.3 127.6,979.5 126.3,977.9 125.0,977.7 123.7,978.3 122.4,978.3 121.1,975.7 119.8,976.3 118.5,975.4 117.2,978.1 115.9,976.0 114.6,974.9 113.3,976.8 112.0,976.8 110.7,974.3 109.4,974.8 108.1,976.3 106.8,977.5 105.5,977.0 104.2,975.4 102.9,975.1 101.6,976.0 100.3,978.1 99.0,976.4 97.7,975.7 96.4,976.9 95.1,975.4 93.8,975.3 92.5,973.8 91.2,976.5 89.9,974.3 88.6,974.2 87.3,972.5 86.0,973.1 84.7,975.1 83.4,976.2 82.1,972.9 80.8,974.6 79.5,974.6 78.2,975.4 76.9,973.8 75.6,972.8 74.3,971.9 73.0,971.6 71.7,974.5 70.4,976.0 69.1,971.8 67.8,974.4 66.5,971.2 65.2,972.6 63.9,970.4 62.6,969.9 61.3,968.5 60.0,968.0" fill="#f2c4b2" fill-opacity="0.56"/>
<path d="M886.3 956.7V884.5M891.3 966.2V918.0M915.5 973.6V906.3M932.5 986.5V925.5M966.5 983.4V945.0M1012.5 980.6V892.5M1030.0 986.9V916.3M1055.0 990.8V949.0M1072.3 987.8V917.5M1074.3 987.5V930.5M1098.0 991.8V947.0M1147.5 993.2V947.0M1230.3 988.9V875.0M1237.0 988.5V896.5M1265.0 989.8V896.5M1267.5 989.5V905.3M1274.5 994.3V947.5M1280.5 997.5V947.5M1290.0 992.8V917.5M1305.0 994.7V900.0M1318.5 998.3V901.3M1325.0 996.4V914.5M1327.5 995.9V866.5M1349.5 1003.3V944.0M1371.0 1000.5V931.5M1378.0 1001.7V933.5M1387.5 1001.5V824.0M1433.8 992.9V805.0M1437.8 992.9V899.5M1443.5 996.9V916.0M1459.3 1002.9V865.0M1462.5 1002.6V910.0M1474.5 996.4V876.5M1477.5 995.6V886.3M1493.0 1001.7V932.0M1404.5 991.9V946.0M1410.0 990.1V945.5M1547.5 998.7V939.0M1560.5 1000.9V939.0M1584.5 1000.5V922.0M1593.5 1000.3V923.0M1634.0 1000.1V923.5M1643.8 1002.0V848.5M1645.0 1001.7V912.0M1655.0 1000.9V932.0M1663.0 997.2V934.0M1670.0 995.8V947.0M1705.0 998.2V947.0M1732.5 989.2V930.0M1736.5 990.5V910.0M1788.0 987.2V938.0M1974.0 976.7V926.0M1918.5 950.0V885.0M1920.0 950.0V885.0M1922.0 950.0V887.0M1931.0 979.8V937.0M1941.0 978.2V947.0M2087.6 964.0V775.4M2093.0 975.4V920.0M2153.5 976.5V897.5M2291.0 972.1V950.0M1805.0 991.3V958.0M1828.0 982.0V955.0M76.0 966.2V933.0M77.0 966.2V933.0M115.0 967.4V951.0M162.0 971.2V948.0M194.0 966.0V950.0M223.0 964.6V944.0M261.0 964.2V941.0M287.0 969.3V945.0M311.0 962.6V937.0M347.0 970.2V950.0M421.0 966.4V938.0M476.0 965.3V940.0M486.0 957.1V945.0M567.0 959.0V933.0M578.0 956.2V920.0M580.0 956.2V915.0M657.5 965.5V937.5M713.0 969.5V941.7M772.5 980.4V941.7M1220.0 993.9V926.0M1228.0 990.1V940.0M1250.0 993.1V930.0M1271.0 991.4V939.0M1293.0 991.4V945.0M1311.0 996.0V945.0M1340.0 999.9V943.0M1355.0 1001.5V945.0M1380.0 1002.6V944.0M1395.0 998.8V940.0M1420.0 994.7V935.0M1450.0 1002.3V930.0M1485.0 996.2V936.0M1510.0 997.0V944.0M1520.0 998.1V940.0M1535.0 998.2V938.0M1570.0 1003.4V944.0M1600.0 1001.4V943.0M1615.0 1000.3V937.0M1625.0 1000.7V940.0M1660.0 996.5V935.0M1680.0 1001.1V947.0M1720.0 991.6V937.0M1760.0 995.6V945.0M1800.0 993.1V945.0M1840.0 988.3V955.0M1870.0 988.7V952.0M1890.0 984.2V950.0M1960.0 980.3V945.0M1990.0 978.2V953.0M2010.0 975.8V950.0M2060.0 983.6V955.0M2120.0 975.9V958.0M2175.0 979.7V955.0M2220.0 979.9V958.0M2250.0 976.0V955.0M2270.0 976.9V952.0M62.0 961.3V955.7M64.0 962.7V956.5M70.0 966.2V959.9M72.0 966.2V956.8M76.0 966.2V960.3M92.0 967.3V959.9M96.0 968.4V960.3M98.0 969.1V954.9M100.0 969.2V962.9M116.0 967.7V958.8M122.0 970.2V964.4M140.0 966.7V958.6M142.0 966.7V955.4M150.0 969.5V962.3M156.0 971.2V965.5M158.0 971.2V964.8M160.0 971.2V964.9M162.0 971.2V962.6M168.0 969.8V959.1M176.0 969.1V962.4M178.0 968.4V960.1M180.0 967.8V959.3M198.0 965.5V957.4M206.0 963.8V958.0M226.0 965.6V959.8M228.0 966.0V959.2M232.0 966.6V960.0M236.0 967.2V960.5M238.0 967.5V961.4M246.0 968.1V952.9M248.0 968.1V960.4M250.0 968.1V962.3M252.0 968.0V956.6M254.0 967.7V960.2M258.0 965.9V958.2M260.0 964.8V957.9M262.0 964.7V954.7M274.0 967.8V961.6M284.0 969.8V961.9M290.0 968.7V954.2M294.0 967.7V952.0M296.0 967.2V961.2M300.0 966.2V959.8M302.0 965.7V957.5M304.0 964.7V956.1M314.0 962.7V952.5M316.0 962.9V954.9M318.0 963.6V957.4M322.0 965.1V956.1M326.0 966.9V957.1M328.0 967.8V956.5M336.0 969.3V960.4M338.0 969.5V961.7M344.0 970.1V961.0M348.0 970.1V960.5M352.0 970.1V962.3M354.0 969.3V962.6M358.0 969.3V959.7M360.0 969.3V962.9M362.0 969.9V955.6M370.0 970.1V963.8M372.0 969.8V961.5M378.0 969.1V962.5M380.0 968.9V962.6M382.0 968.8V961.1M384.0 968.7V961.6M388.0 968.7V958.3M392.0 969.2V963.2M398.0 970.2V961.2M400.0 970.2V961.3M406.0 969.7V963.3M416.0 967.0V959.9M420.0 966.4V959.6M422.0 966.4V955.0M424.0 966.4V960.2M426.0 966.7V960.2M434.0 967.9V960.0M436.0 967.9V960.4M440.0 967.9V957.5M442.0 967.8V960.5M446.0 966.8V958.8M456.0 965.2V958.7M460.0 965.2V957.1M462.0 965.8V956.8M464.0 966.5V960.3M466.0 967.1V954.0M472.0 967.1V950.3M474.0 966.3V957.0M478.0 964.3V958.3M480.0 962.2V955.9M488.0 957.1V948.4M490.0 957.1V950.7M500.0 960.1V953.2M502.0 960.4V952.6M504.0 960.7V949.4M520.0 964.6V957.5M522.0 964.6V954.8M528.0 963.3V955.8M540.0 961.3V952.8M542.0 961.2V952.2M548.0 960.5V952.2M550.0 960.5V952.8M552.0 960.5V953.0M564.0 960.5V950.3M568.0 958.5V952.0M572.0 957.0V950.5M574.0 956.5V948.9M576.0 956.2V945.5M584.0 956.5V949.5M594.0 955.6V948.8M604.0 954.7V948.4M608.0 954.7V941.5M610.0 955.0V948.2M612.0 955.5V949.3M618.0 958.9V952.7M622.0 961.5V952.8M628.0 964.7V956.1M630.0 964.7V954.8M632.0 964.7V953.1M638.0 963.6V949.3M642.0 963.6V954.7M644.0 963.6V957.1M646.0 964.2V955.5M648.0 964.8V958.3M652.0 965.0V955.0M654.0 965.0V957.6M672.0 968.0V960.5M676.0 968.4V959.5M682.0 969.3V963.0M684.0 969.3V961.6M702.0 965.8V959.2M710.0 967.7V959.2M716.0 970.1V959.7M718.0 970.1V963.2M720.0 970.2V963.3M722.0 970.5V964.0M726.0 970.5V961.4M736.0 971.7V963.7M740.0 971.7V961.9M752.0 977.5V970.0M760.0 977.5V962.9M770.0 979.1V972.3M772.0 980.1V971.0M794.0 981.3V970.6M804.0 982.9V973.2M806.0 983.5V975.4M810.0 985.5V973.8M812.0 985.5V975.5M816.0 985.5V971.2M818.0 985.5V965.0M828.0 982.2V972.5M834.0 982.7V971.7M844.0 983.6V963.7M848.0 983.6V972.0M852.0 983.9V971.1M856.0 983.9V974.3M858.0 983.8V972.6M864.0 983.4V970.3M872.0 981.3V956.4M876.0 976.6V965.7M884.0 956.1V929.4M886.0 956.1V928.6M890.0 962.1V944.5M902.0 972.8V922.6M904.0 969.8V958.8M908.0 967.6V956.8M910.0 967.6V950.9M914.0 969.5V957.4M916.0 975.0V963.9M918.0 980.4V963.7M932.0 986.7V971.9M936.0 986.1V952.1M940.0 986.1V969.4M944.0 987.9V969.2M946.0 988.4V975.3M948.0 988.6V971.6M952.0 989.1V967.8M960.0 989.3V927.4M966.0 982.4V970.9M970.0 982.4V971.4M972.0 983.6V965.8M974.0 984.3V970.8M980.0 984.6V963.5M996.0 987.3V962.7M998.0 987.3V975.3M1002.0 987.1V968.8M1004.0 985.7V948.5M1018.0 985.6V973.6M1026.0 986.6V969.0M1028.0 986.9V971.5M1032.0 987.1V970.2M1036.0 989.3V966.3M1038.0 990.7V975.0M1040.0 991.1V971.9M1052.0 990.8V973.6M1054.0 990.8V976.6M1062.0 989.3V969.1M1064.0 988.7V975.5M1066.0 988.1V977.0M1072.0 987.8V976.8M1078.0 987.4V962.9M1080.0 987.3V973.9M1086.0 987.3V969.7M1094.0 990.3V978.7M1096.0 991.0V973.1M1108.0 991.5V963.1M1124.0 991.0V978.9M1128.0 992.6V972.6M1136.0 992.6V978.1M1142.0 992.7V978.0M1166.0 993.8V965.8M1168.0 992.0V973.1M1172.0 992.0V980.8M1174.0 992.0V974.7M1178.0 994.0V960.6M1184.0 996.3V985.0M1188.0 996.3V981.8M1198.0 995.9V978.0M1200.0 995.8V980.0M1206.0 995.4V973.7M1208.0 995.4V981.4M1210.0 996.9V977.3M1216.0 996.9V959.0M1224.0 991.6V977.1M1234.0 988.7V949.6M1238.0 988.7V963.6M1246.0 993.1V975.7M1250.0 993.1V973.4M1252.0 992.2V978.1M1254.0 991.7V980.1M1260.0 991.0V957.1M1266.0 989.1V955.6M1268.0 989.1V959.7M1270.0 990.6V949.8M1274.0 993.9V969.8M1276.0 995.6V979.5M1278.0 997.3V982.0M1280.0 997.3V984.2M1282.0 997.3V985.0M1286.0 994.5V971.0M1302.0 995.3V975.1M1304.0 995.3V979.5M1306.0 995.3V974.4M1308.0 995.3V970.2M1310.0 995.3V978.6M1318.0 998.4V976.2M1320.0 998.4V977.6M1322.0 998.4V956.4M1326.0 995.7V980.7M1330.0 995.7V981.6M1338.0 998.1V982.8M1348.0 1003.4V991.5M1350.0 1003.4V988.4M1352.0 1003.0V988.3M1354.0 1002.0V990.3M1360.0 999.9V987.5M1364.0 999.9V987.0M1368.0 1001.2V974.6M1374.0 1001.7V989.9M1378.0 1001.7V972.9M1380.0 1002.6V985.5M1384.0 1002.6V990.3M1400.0 995.5V973.8M1406.0 991.1V976.1M1408.0 990.1V964.3M1412.0 990.1V963.5M1416.0 990.4V973.9M1418.0 992.6V980.4M1420.0 994.7V950.7M1432.0 992.9V975.6M1436.0 992.9V970.7M1438.0 992.9V970.7M1440.0 993.9V975.6M1446.0 998.9V984.5M1450.0 1002.3V984.2M1462.0 1003.0V986.3M1466.0 1001.8V983.8M1468.0 1001.8V982.0M1478.0 995.5V973.0M1488.0 998.2V984.5M1490.0 999.6V972.0M1494.0 1002.2V980.9M1500.0 1002.2V959.9M1502.0 1000.9V982.0M1506.0 998.4V983.6M1508.0 997.2V983.6M1510.0 997.0V974.8M1514.0 997.0V954.7M1530.0 999.2V986.7M1538.0 998.0V972.4M1540.0 998.0V970.0M1546.0 998.6V982.2M1550.0 999.0V986.8M1552.0 999.3V968.1M1556.0 999.3V986.6M1564.0 1002.1V976.1M1566.0 1002.8V989.0M1568.0 1003.4V959.7M1570.0 1003.4V989.8M1576.0 1003.3V990.6M1586.0 1000.0V974.4M1610.0 1000.2V965.7M1614.0 1000.2V988.3M1628.0 1000.1V978.1M1632.0 1000.1V985.8M1634.0 1000.1V976.2M1638.0 1002.0V990.3M1648.0 1001.2V987.3M1652.0 1000.9V974.0M1654.0 1000.9V990.0M1658.0 996.5V985.6M1666.0 995.8V977.9M1670.0 995.8V983.1M1672.0 995.8V979.5M1674.0 995.8V977.6M1678.0 998.2V979.8M1680.0 1001.1V978.9M1682.0 1001.1V983.0M1696.0 1002.1V989.6M1700.0 999.7V988.3M1702.0 997.8V979.2M1704.0 997.8V966.8M1710.0 997.8V985.0M1712.0 997.8V987.2M1716.0 996.6V987.0M1720.0 991.6V970.1M1726.0 989.0V974.6M1730.0 988.9V959.8M1732.0 989.0V970.8M1734.0 989.7V979.9M1736.0 990.0V968.6M1744.0 996.5V975.8M1754.0 997.0V987.0M1756.0 997.0V983.9M1758.0 996.7V964.7M1760.0 995.6V976.2M1762.0 994.5V985.0M1766.0 993.5V978.2M1770.0 993.5V981.8M1772.0 994.0V976.8M1774.0 994.0V978.8M1778.0 994.0V981.6M1780.0 993.6V965.9M1784.0 987.2V974.5M1786.0 987.2V973.8M1788.0 987.2V977.9M1794.0 993.0V978.8M1796.0 993.1V976.5M1798.0 993.1V972.3M1802.0 993.1V983.9M1806.0 990.7V974.5M1808.0 989.5V979.8M1810.0 988.3V978.4M1814.0 987.1V978.6M1820.0 985.3V976.8M1824.0 982.0V974.3M1834.0 985.1V976.5M1844.0 989.3V981.2M1846.0 989.3V981.9M1850.0 989.3V975.9M1854.0 987.7V970.7M1858.0 987.2V978.9M1860.0 987.2V979.3M1862.0 987.2V979.6M1864.0 988.0V979.5M1868.0 988.7V974.7M1876.0 987.7V977.3M1880.0 987.2V977.1M1882.0 987.0V980.1M1884.0 986.8V980.1M1888.0 985.2V977.1M1916.0 950.0V943.9M1920.0 950.0V941.5M1924.0 958.9V952.9M1928.0 976.4V968.4M1932.0 979.7V971.8M1936.0 979.7V972.4M1960.0 980.3V974.9M1962.0 979.4V970.9M1966.0 977.6V971.3M1978.0 977.8V965.8M1980.0 977.8V970.9M1984.0 978.0V972.3M1992.0 978.2V971.2M2000.0 977.2V972.0M2002.0 976.3V970.8M2006.0 975.8V970.5M2008.0 975.8V968.4M2012.0 976.1V969.7M2016.0 978.6V972.1M2020.0 981.1V971.9M2026.0 983.1V976.8M2030.0 984.5V979.4M2036.0 984.5V979.1M2046.0 982.8V977.4M2052.0 983.2V978.1M2054.0 983.4V977.4M2056.0 983.6V978.3M2058.0 983.6V976.5M2066.0 983.1V976.1M2068.0 982.6V973.8M2078.0 981.1V975.0M2080.0 981.1V974.5M2082.0 980.1V972.7M2084.0 960.0V955.1M2088.0 960.0V954.4M2092.0 967.7V959.7M2096.0 976.9V969.9M2098.0 977.2V970.7M2100.0 977.4V971.8M2110.0 979.4V973.6M2112.0 979.4V971.7M2114.0 978.3V972.9M2116.0 977.1V971.1M2128.0 976.9V970.9M2132.0 978.6V972.4M2134.0 979.5V973.9M2136.0 980.4V975.0M2140.0 981.8V976.3M2142.0 981.8V976.5M2150.0 977.4V972.1M2152.0 977.3V971.0M2160.0 980.1V975.1M2162.0 980.1V974.0M2164.0 980.1V974.3M2166.0 980.1V970.8M2168.0 980.0V974.3M2170.0 979.9V971.0M2172.0 979.8V973.7M2174.0 979.7V974.2M2182.0 978.3V965.5M2188.0 976.5V971.5M2200.0 977.8V964.2M2204.0 978.9V973.5M2214.0 979.7V969.0M2216.0 979.9V971.9M2228.0 978.7V969.7M2230.0 978.1V972.3M2232.0 977.6V972.6M2234.0 977.0V972.1M2242.0 975.8V970.2M2246.0 975.8V970.7M2252.0 976.1V970.2M2258.0 976.5V961.6M2260.0 976.6V968.8M2262.0 976.7V966.6M2266.0 976.9V968.5M2270.0 976.9V967.5M2274.0 976.6V968.4M2280.0 974.8V969.1M2288.0 972.7V966.0M2292.0 971.8V966.9M2300.0 971.9V965.8M2304.0 973.5V965.9" stroke="#f2c0ae" stroke-opacity="0.75" stroke-width="1.2" fill="none"/>
<polyline points="60.0,1068.3 60.8,1069.5 61.9,1071.1 63.2,1071.6 64.5,1072.6 65.8,1073.3 67.0,1073.0 68.3,1072.5 69.5,1070.5 70.7,1068.0 71.7,1066.7 72.2,1065.1 72.7,1063.9 73.1,1062.8 73.4,1060.7 73.8,1058.8 74.1,1057.4 74.5,1056.2 75.0,1055.0 76.6,1052.8 78.4,1052.1 80.0,1051.7 81.8,1052.5 83.3,1053.3 84.7,1053.3 86.7,1052.8 87.5,1053.6 88.4,1055.3 89.4,1056.0 90.4,1058.4 91.5,1059.7 92.7,1060.8 93.8,1062.0 95.0,1062.5 96.2,1062.8 97.4,1061.8 98.6,1061.5 99.9,1060.7 101.2,1059.6 102.5,1058.4 103.7,1056.1 105.0,1055.8 106.4,1055.1 107.8,1053.8 109.2,1053.6 110.6,1052.5 112.0,1052.0 113.5,1051.8 115.0,1051.7 116.2,1051.9 117.6,1053.1 118.9,1053.9 120.3,1056.5 121.6,1056.7 123.0,1058.2 124.3,1058.5 125.5,1059.4 126.7,1060.3 128.1,1059.6 129.4,1059.4 130.7,1058.1 131.9,1056.4 133.0,1054.5 134.0,1054.2 135.0,1052.5 136.7,1051.0 138.1,1050.8 140.0,1051.3 141.2,1051.7 142.5,1051.3 143.9,1052.2 145.5,1053.0 147.0,1053.1 148.5,1054.0 150.0,1054.7 151.1,1055.7 152.3,1056.5 153.5,1056.8 154.6,1059.1 155.8,1061.1 156.9,1061.7 158.0,1063.4 159.0,1064.6 160.0,1065.0 161.6,1065.5 162.9,1063.2 164.2,1062.1 165.4,1061.0 166.7,1060.0 168.3,1060.3 169.9,1060.0 171.5,1062.1 173.3,1061.3 174.6,1060.4 176.0,1060.4 177.5,1058.8 179.0,1058.1 180.4,1058.0 181.7,1057.0 183.1,1057.9 184.3,1058.9 185.5,1059.8 186.8,1061.4 188.3,1062.5 189.8,1062.3 191.4,1064.2 193.1,1062.8 194.8,1062.2 196.6,1063.7 198.3,1062.0 199.2,1061.8 200.1,1060.0 201.0,1059.3 201.9,1057.1 202.7,1055.8 203.6,1054.7 204.5,1053.2 205.5,1051.4 206.4,1051.0 207.3,1049.5 208.3,1048.3 209.9,1047.4 211.6,1046.3 213.3,1046.5 215.0,1046.2 216.7,1046.3 218.4,1046.7 220.0,1046.3 221.8,1046.0 223.6,1046.5 225.4,1046.9 227.1,1047.0 228.6,1048.2 230.0,1047.5 231.5,1047.5 232.6,1049.3 233.6,1049.8 235.0,1051.3 236.4,1052.0 238.0,1054.0 239.7,1052.9 241.5,1054.0 243.3,1054.2 244.7,1054.1 246.2,1053.1 247.7,1052.6 249.3,1050.4 250.8,1050.6 252.1,1049.1 253.3,1049.2 254.8,1049.1 255.9,1051.0 256.9,1052.4 258.3,1053.3 259.8,1053.5 261.4,1053.8 263.2,1054.3 265.0,1054.9 266.7,1055.8 267.8,1056.6 268.9,1057.4 270.0,1058.1 271.1,1061.1 272.1,1062.0 273.2,1062.6 274.1,1063.4 275.0,1064.7 276.7,1064.4 278.1,1063.2 280.0,1062.5 281.4,1061.5 283.1,1063.3 284.9,1063.1 286.7,1063.0 288.5,1063.4 290.0,1063.3 291.9,1063.2 293.7,1063.3 295.2,1062.4 296.7,1061.7 298.0,1061.3 299.0,1060.2 300.1,1058.2 301.7,1057.5 303.1,1057.0 304.8,1056.7 306.6,1057.0 308.4,1056.7 310.2,1057.0 311.7,1056.7 313.6,1056.0 315.2,1055.0 316.7,1053.2 318.3,1053.3 319.6,1054.1 320.9,1054.1 322.2,1055.1 323.6,1055.8 325.0,1056.7 326.6,1056.3 328.3,1057.7 330.0,1057.1 331.7,1058.6 333.3,1058.3 335.1,1058.3 336.6,1058.7 338.2,1058.2 340.0,1058.3 341.1,1059.3 342.3,1060.5 343.4,1060.9 344.7,1062.7 345.9,1063.1 347.1,1064.3 348.3,1065.0 349.7,1065.5 351.2,1066.6 352.7,1067.2 354.1,1067.2 355.5,1067.3 356.7,1068.3 358.6,1069.0 360.0,1069.8 361.7,1070.8 362.7,1071.6 363.8,1072.3 364.9,1073.5 366.0,1075.0 367.2,1075.4 368.3,1078.3 369.0,1079.3 369.6,1081.6 370.3,1082.0 371.0,1084.1 371.6,1086.7 372.3,1087.9 373.0,1089.5 373.7,1090.5 374.3,1091.1 375.0,1092.5 376.7,1094.5 378.5,1092.9 380.2,1092.0 381.7,1091.7 383.3,1093.8 384.6,1095.3 385.8,1095.8 386.7,1094.7 387.3,1092.1 388.3,1090.8 389.8,1089.6 391.7,1088.8 393.3,1089.2 394.1,1090.1 394.8,1091.8 395.4,1093.8 396.1,1096.1 396.7,1097.5 397.8,1099.0 400.0,1098.0 400.6,1097.4 401.4,1096.7 402.3,1095.2 403.2,1093.8 404.2,1093.0 405.2,1091.1 406.3,1088.6 407.3,1087.4 408.3,1086.3 409.3,1084.4 410.2,1083.9 411.0,1081.7 411.7,1081.7 413.9,1079.2 415.3,1080.5 416.7,1080.0 418.4,1079.2 420.2,1077.2 421.7,1078.0 422.3,1078.9 422.8,1080.8 423.2,1081.3 423.7,1083.0 424.3,1084.7 425.0,1086.7 425.9,1087.6 427.0,1088.6 428.1,1090.5 429.3,1091.2 430.5,1092.8 431.7,1093.3 433.4,1094.2 435.0,1091.9 436.6,1091.8 438.3,1090.8 439.9,1091.7 441.5,1090.9 443.2,1092.7 445.0,1092.5 446.1,1091.8 447.3,1090.6 448.5,1089.8 449.8,1087.9 451.0,1086.9 452.2,1085.5 453.3,1085.0 455.1,1084.6 456.9,1084.7 458.5,1086.7 460.0,1086.3 461.7,1086.7 463.2,1086.8 465.0,1088.3 466.2,1090.1 467.5,1091.3 468.9,1091.9 470.2,1093.0 471.5,1094.1 472.5,1095.0 473.7,1096.3 474.4,1095.3 475.8,1091.7 476.1,1090.5 476.4,1090.1 476.7,1088.4 477.1,1087.2 477.5,1086.6 477.8,1084.6 478.2,1083.1 478.7,1081.0 479.1,1079.7 479.5,1077.2 480.0,1075.9 480.4,1074.1 480.9,1071.7 481.3,1069.5 481.8,1068.6 482.2,1066.7 482.6,1065.4 483.1,1063.4 483.5,1062.5 483.9,1061.5 484.3,1061.0 484.6,1059.8 485.0,1058.3 486.5,1056.8 487.9,1057.7 489.2,1058.3 490.5,1061.0 491.7,1061.7 493.2,1062.3 494.5,1063.2 496.0,1063.4 497.5,1065.0 498.1,1065.9 498.8,1067.0 499.5,1069.3 500.2,1070.4 500.9,1072.4 501.7,1074.0 502.4,1074.5 503.1,1077.3 503.8,1078.3 504.4,1080.0 505.0,1080.8 506.4,1082.7 507.6,1082.3 508.8,1083.3 510.0,1084.2 511.0,1085.5 512.0,1087.5 513.1,1089.4 514.3,1089.8 515.8,1090.0 516.6,1089.3 517.5,1088.8 518.5,1086.5 519.5,1086.7 520.6,1083.9 521.7,1083.2 522.8,1081.1 523.8,1080.3 524.9,1078.5 525.8,1076.7 526.7,1075.8 528.4,1073.8 530.0,1074.1 531.4,1073.9 532.8,1073.7 534.2,1072.5 535.2,1070.7 536.1,1069.3 537.0,1067.6 538.0,1066.3 538.9,1064.1 539.8,1063.2 540.8,1062.5 542.2,1062.8 543.7,1062.8 545.3,1064.7 546.8,1065.6 548.3,1066.7 549.5,1067.8 550.7,1070.0 551.8,1071.3 553.0,1072.4 554.4,1073.2 555.8,1073.7 556.8,1073.3 557.8,1072.8 559.0,1072.2 560.1,1070.7 561.3,1069.0 562.5,1067.4 563.6,1066.7 564.7,1065.5 565.8,1064.7 566.7,1063.3 568.3,1061.4 569.5,1059.4 570.7,1059.0 571.9,1057.7 573.3,1057.5 574.5,1057.4 575.9,1059.7 577.3,1060.8 578.8,1061.9 580.2,1063.4 581.4,1064.1 582.5,1065.0 583.9,1064.9 584.8,1062.4 586.7,1061.3 588.0,1061.1 589.6,1061.4 591.4,1061.4 593.3,1062.8 595.2,1063.5 597.0,1063.3 598.7,1062.0 600.0,1062.5 601.2,1061.4 602.1,1059.7 602.8,1058.4 603.3,1055.3 603.9,1053.5 604.4,1052.6 605.0,1051.7 607.0,1050.3 609.2,1050.8 609.8,1051.6 610.5,1053.9 611.2,1054.1 611.9,1056.2 612.7,1057.9 613.4,1059.3 614.2,1061.7 615.0,1062.5 616.0,1063.3 617.0,1064.6 618.1,1066.0 619.2,1066.9 620.4,1068.7 621.7,1069.2 623.0,1070.0 624.4,1071.6 625.8,1072.3 627.4,1074.2 628.9,1074.5 630.3,1075.4 631.7,1075.8 633.6,1075.1 635.4,1075.7 637.2,1074.3 638.7,1074.4 640.0,1073.7 641.3,1075.5 642.5,1076.3 643.5,1075.9 644.7,1075.2 646.0,1073.5 647.4,1071.6 648.7,1070.9 650.0,1070.0 651.8,1069.5 653.6,1068.8 655.3,1069.7 656.7,1069.2 658.5,1068.6 660.0,1066.7 661.4,1066.8 663.0,1067.0 665.0,1066.7 666.2,1066.3 667.6,1065.5 669.0,1063.7 670.5,1063.3 672.0,1061.8 673.3,1062.0 674.5,1062.7 675.6,1063.4 676.6,1063.7 677.7,1066.0 678.8,1067.5 680.0,1069.2 680.7,1069.6 681.4,1071.6 682.2,1073.2 683.0,1074.8 683.8,1077.2 684.5,1078.4 685.3,1080.4 686.1,1081.5 686.9,1083.2 687.6,1085.1 688.3,1085.0 689.7,1085.6 691.0,1084.0 692.3,1082.9 693.6,1081.5 695.0,1080.0 695.9,1078.3 696.9,1078.3 697.8,1076.6 698.8,1075.3 699.9,1074.1 700.9,1072.5 702.1,1071.2 703.3,1070.8 704.7,1068.7 706.2,1068.7 707.9,1069.0 709.6,1068.8 711.2,1068.0 712.7,1066.9 714.0,1067.2 715.0,1067.0 716.7,1065.0 717.9,1064.2 719.5,1062.4 721.3,1062.5 722.9,1060.5 724.2,1060.8 725.1,1061.5 725.6,1062.5 726.0,1065.2 726.7,1066.7 727.5,1067.5 728.4,1069.3 729.4,1071.9 730.4,1072.4 731.5,1074.0 732.5,1075.0 733.9,1075.1 735.1,1073.9 736.6,1071.8 738.3,1072.0 739.5,1072.4 740.8,1072.2 742.2,1073.2 743.7,1072.4 745.2,1074.2 746.7,1074.9 748.3,1075.8 749.3,1076.5 750.3,1077.5 751.4,1079.1 752.5,1079.9 753.6,1081.4 754.7,1082.6 755.8,1084.4 756.9,1085.9 758.0,1086.0 759.0,1087.6 760.0,1088.3 761.8,1089.1 763.5,1089.7 765.1,1088.4 766.7,1089.0 768.4,1088.0 770.0,1088.3 771.4,1089.0 772.9,1089.5 774.3,1090.3 775.7,1090.9 777.1,1091.4 778.6,1093.3 780.0,1093.3 781.4,1094.5 782.8,1094.2 784.1,1094.5 785.5,1094.9 786.9,1094.8 788.4,1095.5 790.0,1096.7 791.2,1097.6 792.5,1098.6 793.8,1099.0 795.2,1099.6 796.5,1100.6 797.9,1101.8 799.3,1103.3 800.7,1103.8 802.0,1103.8 803.3,1105.0 805.1,1105.0 807.0,1105.9 808.8,1106.0 810.5,1106.6 812.2,1106.2 813.7,1105.4 815.0,1105.0 816.7,1103.6 817.8,1102.5 818.8,1100.4 820.0,1100.0 821.6,1099.4 823.5,1100.3 825.2,1100.6 826.7,1101.3 827.5,1103.1 828.1,1105.3 828.6,1106.4 829.2,1108.6 830.0,1109.2 831.1,1109.0 832.5,1108.1 834.0,1106.7 835.4,1105.7 836.7,1105.0 838.1,1105.4 839.3,1107.4 840.5,1109.8 841.7,1110.0 842.3,1109.4 843.0,1107.6 843.6,1105.9 844.3,1103.3 844.9,1102.3 845.5,1100.2 846.1,1099.2 846.7,1097.5 848.8,1096.8 850.8,1099.2 851.4,1100.3 851.9,1101.9 852.4,1104.2 852.9,1105.7 853.5,1107.3 854.2,1107.7 855.0,1109.2 856.4,1108.9 858.1,1107.9 859.9,1107.3 861.7,1106.7 863.3,1105.8 865.2,1106.0 867.0,1106.1 868.6,1108.3 870.0,1108.3 871.1,1110.3 871.8,1114.3 873.3,1113.3 873.8,1113.1 874.3,1111.6 874.8,1110.8 875.4,1108.2 876.1,1106.8 876.8,1105.1 877.5,1103.5 878.2,1101.3 878.9,1100.2 879.6,1097.4 880.3,1095.7 881.0,1093.7 881.6,1093.0 882.2,1091.9 882.8,1090.3 883.3,1090.0 884.4,1089.1 885.4,1090.0 886.2,1093.0 886.9,1095.2 887.6,1097.4 888.3,1099.2 888.9,1100.9 889.3,1102.3 889.8,1103.7 890.2,1104.3 890.7,1106.7 891.1,1108.2 891.7,1109.2 892.3,1111.4 892.9,1113.2 893.5,1114.2 894.2,1116.2 895.3,1116.5 896.7,1117.5 897.7,1117.9 898.9,1116.1 900.2,1116.1 901.6,1114.4 903.0,1113.2 904.5,1112.0 906.1,1111.1 907.6,1110.3 909.0,1109.7 910.4,1108.5 911.7,1108.3 913.3,1108.8 914.8,1109.6 916.2,1111.2 917.6,1111.2 919.0,1112.9 920.4,1114.2 921.8,1114.8 923.3,1115.0 924.7,1115.1 926.3,1113.9 927.8,1113.2 929.4,1112.0 931.0,1110.9 932.5,1109.8 934.0,1109.2 935.4,1108.1 936.7,1108.3 938.4,1108.3 939.9,1109.7 941.3,1109.9 942.5,1111.4 943.8,1112.7 945.0,1113.3 946.4,1112.4 947.7,1111.4 949.0,1111.4 950.3,1109.7 951.7,1109.2 953.0,1109.5 954.2,1110.5 955.5,1111.6 956.9,1113.2 958.4,1113.7 960.0,1115.3 961.3,1115.5 962.6,1114.7 964.0,1114.8 965.5,1113.8 967.0,1112.2 968.5,1113.1 970.1,1111.7 971.7,1110.8 973.0,1110.6 974.5,1109.3 976.0,1108.6 977.5,1108.0 979.0,1108.1 980.5,1106.1 982.0,1105.5 983.4,1105.7 984.6,1104.3 985.8,1105.0 987.7,1106.1 989.2,1106.1 990.6,1108.5 991.8,1109.1 993.3,1109.7 994.6,1109.2 996.0,1107.9 997.5,1107.9 998.9,1106.0 1000.3,1104.6 1001.7,1104.7 1003.4,1105.3 1005.0,1105.8 1006.7,1107.2 1008.3,1107.6 1010.0,1108.0 1011.4,1107.7 1012.8,1106.8 1014.2,1105.4 1015.7,1103.3 1017.0,1103.0 1018.3,1101.7 1019.7,1100.9 1021.0,1098.9 1022.3,1097.7 1023.6,1096.9 1025.0,1096.7 1025.8,1097.3 1026.6,1099.1 1027.4,1100.2 1028.2,1101.7 1029.0,1103.5 1029.9,1106.4 1030.8,1107.9 1031.6,1109.2 1032.5,1109.5 1033.3,1110.0 1034.0,1108.8 1034.7,1109.3 1035.4,1107.8 1036.1,1106.3 1036.8,1104.7 1037.5,1103.1 1038.2,1100.7 1038.9,1100.0 1039.6,1098.2 1040.3,1096.6 1041.0,1094.5 1041.7,1093.3 1042.6,1091.2 1043.4,1089.6 1044.4,1088.5 1045.3,1087.8 1046.2,1086.0 1047.0,1084.2 1047.9,1083.1 1048.7,1082.1 1049.4,1080.8 1050.0,1080.0 1051.3,1077.9 1053.3,1080.8 1053.8,1081.7 1054.3,1082.3 1054.8,1083.3 1055.4,1084.8 1056.1,1087.0 1056.8,1087.4 1057.5,1089.5 1058.3,1091.2 1059.0,1093.1 1059.8,1094.7 1060.6,1096.9 1061.3,1098.1 1062.1,1099.9 1062.9,1101.8 1063.6,1102.4 1064.3,1104.9 1065.0,1106.1 1065.6,1106.1 1066.2,1107.6 1066.7,1108.3 1068.3,1109.0 1069.4,1108.3 1070.4,1107.0 1071.6,1104.1 1073.3,1104.2 1074.5,1104.9 1075.8,1105.4 1077.2,1106.2 1078.7,1108.3 1080.3,1108.3 1081.9,1108.9 1083.5,1110.5 1085.2,1110.8 1086.8,1110.4 1088.3,1110.0 1089.1,1108.4 1089.9,1107.7 1090.7,1108.2 1091.5,1105.6 1092.3,1105.6 1093.2,1103.9 1094.0,1101.0 1094.9,1100.4 1095.7,1098.9 1096.5,1097.4 1097.3,1095.8 1098.1,1094.1 1098.9,1091.9 1099.7,1090.2 1100.4,1088.7 1101.0,1087.6 1101.7,1085.7 1102.3,1084.5 1102.8,1085.1 1103.3,1083.3 1105.3,1081.2 1106.7,1084.2 1107.2,1085.5 1107.7,1085.9 1108.2,1086.9 1108.8,1088.4 1109.4,1089.7 1110.1,1091.3 1110.7,1092.5 1111.4,1095.1 1112.1,1096.6 1112.9,1098.4 1113.6,1099.7 1114.4,1100.8 1115.2,1103.5 1115.9,1104.3 1116.7,1105.0 1117.8,1106.7 1119.0,1108.1 1120.2,1108.9 1121.5,1110.5 1122.8,1111.0 1124.1,1112.8 1125.4,1113.7 1126.6,1114.5 1127.8,1115.0 1129.0,1115.4 1130.0,1115.8 1131.9,1116.5 1133.4,1116.8 1134.9,1115.9 1136.4,1115.3 1138.3,1113.3 1139.1,1112.9 1139.9,1111.0 1140.8,1109.7 1141.7,1109.3 1142.7,1107.7 1143.7,1106.1 1144.7,1104.4 1145.7,1103.0 1146.6,1101.3 1147.6,1100.5 1148.5,1098.6 1149.4,1097.2 1150.3,1096.8 1151.0,1096.5 1151.7,1095.0 1153.6,1093.2 1155.0,1091.0 1156.1,1090.6 1157.5,1090.8 1158.4,1091.4 1159.3,1092.7 1160.3,1094.0 1161.3,1096.1 1162.3,1097.5 1163.3,1099.2 1164.2,1100.8 1165.0,1101.7 1166.8,1101.4 1168.3,1100.5 1170.0,1099.2 1170.7,1099.5 1171.4,1100.5 1172.2,1102.7 1172.9,1104.2 1173.8,1105.9 1174.6,1107.0 1175.6,1107.6 1176.7,1109.2 1178.1,1109.6 1179.7,1109.6 1181.3,1110.2 1183.1,1111.0 1184.8,1110.0 1186.6,1110.0 1188.3,1110.0 1190.0,1110.5 1191.6,1109.3 1193.3,1110.2 1195.0,1109.6 1196.7,1109.4 1198.3,1109.6 1200.0,1110.0 1201.5,1110.0 1202.9,1111.7 1204.4,1112.3 1205.9,1113.0 1207.3,1114.3 1208.8,1114.0 1210.2,1113.5 1211.7,1114.2 1212.5,1114.1 1213.4,1112.4 1214.3,1111.8 1215.2,1109.8 1216.1,1107.9 1216.9,1106.7 1217.8,1105.9 1218.7,1104.0 1219.5,1102.0 1220.3,1101.0 1221.1,1099.1 1221.9,1097.9 1222.6,1096.2 1223.3,1095.8 1225.0,1093.1 1226.3,1093.3 1227.6,1093.1 1228.7,1092.1 1230.0,1091.7 1231.1,1091.1 1232.1,1088.8 1233.1,1087.7 1234.2,1085.7 1235.4,1085.2 1236.7,1085.0 1237.3,1085.5 1238.0,1085.9 1238.7,1088.7 1239.4,1089.7 1240.2,1091.0 1240.9,1092.0 1241.7,1094.5 1242.5,1095.4 1243.2,1097.9 1244.0,1099.7 1244.7,1101.1 1245.4,1101.7 1246.1,1103.6 1246.7,1104.2 1248.6,1105.6 1250.3,1105.6 1251.8,1105.3 1253.3,1105.0 1254.3,1105.7 1255.3,1107.2 1256.2,1108.4 1257.1,1111.6 1258.1,1111.7 1259.2,1112.5 1260.2,1112.6 1261.3,1111.1 1262.5,1109.9 1263.7,1107.8 1264.8,1106.3 1265.8,1104.8 1266.7,1104.2 1267.9,1104.8 1268.7,1106.0 1270.0,1108.3 1271.1,1109.5 1272.5,1109.2 1273.9,1110.7 1275.5,1111.5 1277.0,1112.3 1278.3,1112.5 1279.8,1112.3 1281.3,1111.4 1282.6,1111.1 1283.9,1108.7 1285.0,1108.3 1285.5,1106.7 1285.9,1105.5 1286.3,1103.5 1286.7,1102.3 1287.0,1099.9 1287.3,1098.4 1287.6,1096.0 1287.9,1095.6 1288.3,1094.2 1290.4,1093.0 1292.5,1095.0 1292.8,1095.4 1293.2,1098.2 1293.4,1098.9 1293.7,1101.0 1293.9,1104.0 1294.2,1106.4 1294.5,1107.8 1294.9,1109.0 1295.3,1109.9 1295.8,1110.8 1296.6,1110.3 1297.4,1109.6 1298.4,1108.1 1299.4,1105.5 1300.5,1104.1 1301.5,1101.1 1302.5,1100.8 1303.3,1100.0 1304.4,1099.7 1305.4,1100.7 1306.3,1103.9 1307.2,1105.1 1308.3,1106.7 1309.1,1107.7 1309.9,1108.7 1310.8,1111.3 1311.6,1112.2 1312.5,1113.3 1313.4,1113.9 1314.2,1116.4 1315.0,1116.7 1316.7,1117.6 1318.3,1116.8 1320.0,1115.0 1320.7,1113.5 1321.5,1111.9 1322.2,1111.6 1323.0,1109.4 1323.9,1108.3 1324.8,1105.4 1325.7,1105.4 1326.7,1105.0 1328.0,1105.3 1329.3,1105.5 1330.8,1107.2 1332.2,1107.9 1333.7,1109.2 1335.2,1110.1 1336.7,1110.8 1338.1,1111.6 1339.5,1112.4 1340.9,1113.4 1342.3,1115.3 1343.7,1115.4 1345.2,1115.0 1346.7,1115.8 1347.8,1115.3 1349.0,1114.4 1350.2,1112.9 1351.4,1111.9 1352.6,1109.9 1353.8,1110.0 1355.0,1107.2 1356.2,1105.8 1357.3,1105.5 1358.3,1105.0 1359.7,1105.2 1360.9,1106.4 1362.1,1107.4 1363.3,1109.1 1364.4,1110.2 1365.5,1111.1 1366.7,1111.7 1368.1,1110.7 1369.5,1109.6 1370.9,1108.3 1372.3,1106.2 1373.7,1106.1 1375.0,1105.8 1375.8,1106.3 1376.5,1108.1 1377.3,1109.4 1378.0,1110.7 1378.7,1114.0 1379.4,1115.1 1380.2,1115.9 1380.9,1117.8 1381.7,1118.4 1382.5,1119.2 1383.6,1118.6 1384.7,1118.3 1385.9,1116.7 1387.1,1115.7 1388.2,1113.0 1389.4,1112.2 1390.6,1111.3 1391.7,1110.0 1393.5,1109.9 1395.2,1111.2 1397.0,1112.1 1398.6,1111.3 1400.0,1111.7 1401.0,1110.8 1401.8,1109.7 1402.5,1109.4 1403.2,1107.0 1404.0,1104.4 1405.0,1103.3 1405.5,1101.8 1406.1,1100.5 1406.7,1098.9 1407.3,1097.1 1407.9,1095.4 1408.5,1093.1 1409.2,1091.6 1409.8,1089.7 1410.5,1088.2 1411.2,1086.9 1411.9,1086.3 1412.6,1085.4 1413.3,1085.0 1414.1,1085.5 1414.9,1085.7 1415.7,1086.5 1416.6,1088.8 1417.4,1091.1 1418.3,1092.7 1419.2,1094.5 1420.0,1096.0 1420.9,1098.6 1421.7,1099.6 1422.5,1100.3 1423.3,1101.7 1424.6,1101.9 1425.9,1100.9 1427.2,1099.9 1428.4,1097.0 1429.6,1095.1 1430.7,1094.3 1431.7,1093.3 1433.4,1093.4 1434.8,1093.2 1436.7,1094.2 1437.9,1095.3 1439.1,1095.6 1440.6,1097.8 1442.0,1098.4 1443.6,1099.4 1445.1,1101.2 1446.7,1100.8 1447.6,1100.8 1448.6,1099.1 1449.6,1098.3 1450.6,1097.1 1451.6,1095.2 1452.6,1093.7 1453.6,1092.3 1454.6,1090.2 1455.6,1088.7 1456.5,1088.3 1457.4,1088.2 1458.3,1086.7 1459.7,1086.4 1461.1,1087.1 1462.4,1089.3 1463.6,1089.6 1464.8,1091.1 1465.8,1093.4 1466.7,1093.3 1468.6,1092.9 1470.0,1091.7 1471.0,1093.0 1472.1,1093.3 1473.4,1096.2 1475.0,1095.8 1475.9,1095.0 1477.0,1094.5 1478.1,1092.8 1479.4,1091.8 1480.6,1089.7 1481.9,1088.5 1483.0,1086.1 1484.1,1085.9 1485.0,1085.0 1486.1,1085.5 1486.9,1086.1 1487.6,1087.3 1488.3,1089.7 1489.0,1091.3 1490.0,1093.3 1491.0,1094.5 1492.1,1096.1 1493.2,1097.7 1494.5,1099.7 1495.7,1100.9 1497.0,1101.2 1498.3,1101.7 1499.1,1100.8 1500.0,1100.3 1500.9,1098.7 1501.8,1097.1 1502.7,1095.2 1503.7,1093.1 1504.6,1092.1 1505.5,1090.3 1506.5,1089.4 1507.4,1088.5 1508.3,1088.3 1509.3,1088.3 1510.3,1089.6 1511.2,1089.9 1512.2,1092.2 1513.2,1093.4 1514.2,1096.1 1515.2,1096.1 1516.2,1097.6 1517.2,1099.3 1518.3,1100.0 1519.9,1101.0 1521.7,1100.9 1523.5,1101.5 1525.2,1101.2 1527.0,1100.3 1528.6,1101.0 1530.0,1100.8 1531.9,1100.9 1533.5,1100.3 1534.9,1099.8 1536.7,1100.0 1537.9,1100.1 1539.1,1101.8 1540.3,1103.2 1541.7,1103.1 1543.1,1104.9 1544.8,1104.3 1546.7,1105.0 1547.8,1104.7 1549.0,1102.8 1550.3,1103.2 1551.6,1102.6 1553.0,1100.6 1554.5,1099.6 1556.0,1099.1 1557.4,1097.8 1558.9,1096.9 1560.3,1096.4 1561.6,1094.3 1562.8,1094.2 1564.0,1092.7 1565.0,1093.3 1566.7,1091.8 1568.1,1093.2 1569.2,1093.2 1570.2,1095.8 1571.2,1097.3 1572.2,1098.7 1573.3,1100.0 1574.1,1100.4 1574.9,1102.2 1575.7,1103.4 1576.6,1105.9 1577.4,1107.3 1578.3,1110.0 1579.1,1111.3 1580.0,1112.0 1580.8,1114.4 1581.7,1114.7 1582.5,1115.0 1583.5,1115.2 1584.5,1114.1 1585.5,1113.4 1586.5,1111.8 1587.4,1109.9 1588.5,1108.3 1589.5,1106.2 1590.6,1104.6 1591.7,1103.3 1593.1,1102.0 1594.5,1100.7 1596.1,1101.7 1597.7,1101.0 1599.2,1099.7 1600.7,1100.1 1602.1,1099.2 1603.3,1098.3 1604.4,1097.3 1605.3,1096.9 1606.2,1095.2 1607.0,1092.8 1607.7,1092.1 1608.4,1091.1 1609.2,1089.9 1610.0,1088.3 1611.1,1087.1 1612.3,1085.3 1613.5,1084.3 1614.6,1082.1 1615.7,1082.7 1616.7,1081.7 1618.1,1081.8 1619.3,1082.6 1620.5,1083.9 1621.7,1085.8 1622.4,1087.0 1623.1,1087.8 1623.7,1089.1 1624.4,1090.6 1625.4,1093.4 1626.7,1094.2 1627.6,1095.1 1628.7,1096.4 1630.0,1097.4 1631.3,1098.1 1632.7,1099.9 1634.0,1100.6 1635.4,1101.4 1636.7,1102.3 1638.0,1103.5 1639.1,1104.2 1640.0,1105.0 1642.4,1106.7 1643.8,1104.8 1645.0,1105.0 1645.7,1104.1 1646.2,1102.2 1646.8,1100.2 1647.5,1098.0 1649.1,1096.5 1650.9,1096.0 1652.5,1096.7 1653.2,1098.9 1653.7,1101.3 1654.2,1103.2 1655.0,1103.3 1655.4,1102.2 1655.8,1101.2 1656.3,1099.1 1656.8,1098.5 1657.4,1096.2 1657.9,1093.5 1658.5,1092.1 1659.1,1089.9 1659.6,1087.4 1660.2,1087.5 1660.8,1086.7 1661.6,1086.6 1662.4,1088.2 1663.3,1089.5 1664.2,1091.3 1665.0,1093.8 1665.9,1096.4 1666.7,1096.9 1667.5,1098.3 1668.7,1097.6 1669.7,1096.0 1670.7,1094.6 1671.9,1093.8 1673.3,1093.3 1674.1,1094.2 1675.0,1095.2 1675.9,1096.4 1676.9,1098.4 1677.9,1100.0 1679.0,1101.7 1680.0,1102.1 1681.1,1103.6 1682.2,1105.4 1683.3,1105.8 1684.9,1106.8 1686.6,1106.7 1688.4,1107.0 1690.1,1107.3 1691.9,1106.3 1693.5,1105.2 1695.0,1104.2 1695.7,1103.4 1696.4,1101.8 1697.0,1100.9 1697.7,1099.1 1698.3,1097.1 1698.9,1095.1 1699.5,1094.1 1700.0,1091.4 1700.6,1090.1 1701.1,1088.3 1701.7,1087.0 1702.2,1085.6 1702.8,1085.3 1703.3,1084.2 1704.4,1084.0 1705.3,1084.5 1706.1,1086.2 1707.1,1089.2 1708.3,1090.6 1710.0,1091.7 1711.2,1092.5 1712.6,1092.2 1714.1,1092.6 1715.8,1091.2 1717.5,1091.5 1719.2,1092.0 1721.0,1090.6 1722.6,1091.2 1724.1,1090.6 1725.5,1090.8 1726.7,1090.0 1728.6,1088.9 1729.9,1087.2 1730.9,1086.6 1731.9,1086.4 1733.3,1085.8 1734.0,1085.9 1734.8,1087.5 1735.6,1088.3 1736.4,1090.3 1737.2,1091.8 1738.1,1092.9 1739.0,1094.3 1739.8,1096.5 1740.7,1097.9 1741.6,1099.5 1742.5,1100.1 1743.3,1100.8 1744.7,1101.8 1746.1,1101.4 1747.4,1101.6 1748.8,1100.6 1750.2,1098.7 1751.7,1098.2 1753.3,1097.5 1754.5,1097.1 1755.9,1096.1 1757.3,1095.6 1758.7,1095.3 1760.2,1093.3 1761.7,1092.5 1763.1,1091.6 1764.4,1091.7 1765.6,1091.6 1766.7,1090.0 1768.9,1088.6 1770.5,1089.3 1771.9,1087.2 1773.3,1087.5 1775.0,1088.1 1776.4,1089.0 1778.3,1088.3 1779.0,1087.7 1779.7,1086.1 1780.4,1084.6 1781.2,1083.5 1782.0,1082.4 1782.8,1080.3 1783.7,1079.0 1784.7,1077.5 1785.6,1076.7 1786.7,1075.0 1788.0,1073.7 1789.5,1074.3 1791.1,1074.0 1792.7,1072.2 1794.4,1073.0 1796.0,1071.3 1797.5,1071.5 1798.9,1071.3 1800.0,1070.8 1801.3,1069.6 1802.3,1067.3 1803.0,1066.2 1803.6,1064.3 1804.3,1064.0 1805.0,1062.5 1806.7,1060.4 1808.3,1060.0 1810.0,1060.0 1810.8,1060.7 1811.5,1062.6 1812.2,1063.0 1813.0,1065.9 1813.9,1066.7 1815.0,1068.3 1816.4,1068.1 1817.9,1068.3 1819.6,1067.9 1821.4,1066.5 1823.2,1066.3 1825.0,1066.7 1826.3,1068.1 1827.6,1067.9 1829.0,1069.2 1830.4,1070.2 1831.8,1071.1 1833.1,1071.7 1834.4,1072.6 1835.6,1073.9 1836.7,1074.2 1838.6,1073.8 1840.1,1075.0 1841.5,1075.9 1843.3,1076.7 1844.3,1077.8 1845.4,1079.0 1846.6,1079.8 1847.8,1081.1 1849.0,1082.3 1850.2,1084.4 1851.3,1085.4 1852.4,1086.3 1853.3,1086.7 1854.6,1085.4 1855.5,1084.9 1856.3,1082.8 1857.2,1082.1 1858.3,1080.8 1859.5,1081.5 1860.8,1082.5 1862.2,1083.8 1863.7,1085.2 1865.2,1085.1 1866.7,1084.2 1867.3,1083.1 1867.9,1082.5 1868.5,1081.2 1869.1,1079.9 1869.8,1078.4 1870.4,1076.5 1871.1,1074.8 1871.7,1072.8 1872.4,1070.9 1873.0,1068.8 1873.6,1067.2 1874.3,1065.8 1874.9,1065.4 1875.5,1063.3 1876.1,1062.0 1876.7,1061.7 1878.2,1061.4 1879.7,1062.1 1881.1,1063.3 1882.4,1065.6 1883.7,1066.0 1885.0,1066.7 1885.9,1065.6 1886.8,1064.9 1887.7,1063.6 1888.6,1062.1 1889.4,1060.6 1890.2,1059.5 1891.0,1057.8 1891.7,1056.7 1893.1,1055.3 1894.4,1053.6 1895.6,1052.6 1896.7,1053.3 1897.3,1054.1 1897.7,1055.0 1898.1,1057.5 1898.5,1058.9 1899.0,1060.3 1899.8,1062.2 1900.8,1063.3 1902.0,1064.0 1903.5,1064.4 1905.1,1064.8 1906.9,1065.5 1908.7,1065.5 1910.4,1065.3 1912.0,1063.6 1913.3,1063.7 1913.9,1062.4 1914.4,1062.5 1914.9,1060.6 1915.3,1058.6 1915.8,1056.1 1916.2,1054.5 1916.5,1052.2 1916.9,1049.8 1917.3,1047.7 1917.6,1045.8 1918.0,1043.2 1918.3,1042.9 1918.7,1041.5 1919.1,1040.4 1919.5,1039.9 1920.0,1039.7 1920.4,1039.7 1920.7,1040.6 1921.1,1041.2 1921.4,1042.2 1921.8,1044.1 1922.2,1046.5 1922.5,1048.0 1922.9,1049.0 1923.3,1050.7 1923.6,1053.8 1924.0,1054.5 1924.4,1056.6 1924.8,1059.1 1925.2,1061.7 1925.6,1063.4 1926.1,1063.6 1926.5,1065.2 1926.9,1067.0 1927.4,1069.4 1927.8,1069.6 1928.3,1070.8 1929.9,1072.0 1931.6,1073.3 1933.5,1072.0 1935.4,1072.4 1937.2,1069.9 1938.7,1069.5 1940.0,1069.2 1941.5,1068.6 1942.1,1066.1 1943.3,1065.8 1944.7,1066.0 1946.3,1066.8 1948.1,1067.4 1949.9,1067.7 1951.7,1067.5 1953.1,1067.2 1954.6,1066.4 1956.1,1065.0 1957.5,1063.6 1958.8,1063.9 1960.0,1062.5 1961.8,1062.6 1963.3,1064.6 1965.0,1065.0 1966.0,1064.0 1967.2,1062.9 1968.3,1062.0 1969.5,1059.3 1970.7,1058.1 1971.7,1058.3 1973.0,1059.2 1974.2,1060.7 1975.4,1062.5 1976.7,1063.3 1977.9,1062.7 1979.3,1061.9 1980.7,1060.1 1982.1,1059.5 1983.3,1058.3 1985.2,1058.5 1986.9,1059.1 1988.3,1060.8 1990.0,1062.2 1990.8,1062.5 1991.7,1064.2 1992.8,1064.8 1993.9,1065.7 1995.1,1067.9 1996.3,1068.8 1997.5,1069.7 1999.1,1071.1 2000.7,1072.4 2002.3,1071.8 2003.9,1073.1 2005.7,1072.7 2006.9,1071.8 2008.1,1071.2 2009.3,1070.3 2010.6,1069.0 2011.8,1067.5 2013.1,1066.5 2014.3,1065.6 2015.5,1064.8 2017.0,1062.9 2018.6,1064.4 2020.0,1064.3 2021.5,1064.3 2023.0,1064.5 2024.5,1065.2 2025.6,1066.7 2026.7,1066.9 2027.8,1068.7 2028.9,1069.5 2030.0,1070.4 2031.1,1072.5 2032.3,1073.3 2033.5,1073.5 2034.6,1072.3 2035.8,1073.0 2037.0,1071.5 2038.2,1070.0 2039.5,1068.0 2040.8,1066.6 2042.1,1066.0 2043.4,1065.4 2044.7,1065.2 2045.8,1065.3 2047.0,1066.1 2048.3,1067.2 2049.6,1068.2 2050.9,1069.5 2052.2,1070.6 2053.4,1071.1 2054.6,1073.3 2055.7,1074.4 2056.6,1075.5 2057.5,1075.7 2059.5,1076.2 2060.5,1074.5 2062.0,1074.7 2063.2,1075.3 2064.6,1076.4 2066.1,1077.6 2067.5,1077.6 2069.0,1078.4 2070.2,1078.7 2072.1,1078.5 2073.7,1078.3 2075.5,1077.2 2076.9,1077.8 2078.6,1079.7 2080.2,1079.4 2081.8,1079.0 2083.0,1077.2 2083.3,1076.9 2083.5,1075.6 2083.7,1073.6 2083.9,1072.6 2084.1,1070.7 2084.2,1068.6 2084.4,1067.7 2084.5,1065.4 2084.6,1063.8 2084.7,1062.1 2084.9,1059.6 2085.0,1058.4 2085.1,1056.0 2085.2,1054.5 2085.3,1052.5 2085.4,1050.7 2085.6,1048.7 2085.7,1048.1 2085.8,1047.0 2086.0,1046.5 2087.8,1043.7 2089.7,1046.5 2089.9,1047.2 2090.1,1048.5 2090.2,1049.3 2090.4,1051.5 2090.6,1052.8 2090.7,1054.2 2090.9,1055.9 2091.1,1056.6 2091.2,1059.1 2091.4,1061.2 2091.6,1064.0 2091.8,1066.1 2091.9,1066.7 2092.1,1069.0 2092.3,1070.6 2092.6,1073.3 2092.8,1073.5 2093.0,1075.4 2093.3,1076.8 2093.6,1077.7 2093.9,1078.5 2094.2,1079.5 2095.5,1081.4 2097.0,1081.6 2098.6,1080.3 2100.4,1079.2 2102.2,1078.0 2104.0,1076.5 2105.1,1075.5 2106.3,1075.4 2107.5,1073.2 2108.8,1072.0 2110.1,1071.7 2111.3,1069.9 2112.6,1068.6 2113.8,1068.2 2114.9,1066.6 2116.0,1066.0 2117.7,1064.1 2119.2,1064.2 2120.7,1064.1 2122.1,1063.4 2123.5,1063.8 2125.0,1063.0 2126.5,1063.1 2127.9,1063.1 2129.4,1063.8 2130.9,1063.1 2132.4,1062.7 2134.0,1065.2 2134.9,1066.3 2135.9,1067.6 2136.9,1068.6 2138.0,1069.4 2139.1,1071.7 2140.1,1073.5 2141.1,1074.5 2142.1,1075.3 2143.0,1076.8 2143.8,1078.1 2144.5,1078.7 2146.8,1079.5 2148.2,1078.0 2148.5,1077.5 2148.8,1075.1 2149.0,1075.2 2149.3,1072.4 2149.6,1071.3 2149.8,1069.3 2150.1,1066.4 2150.3,1065.9 2150.6,1063.6 2150.9,1062.4 2151.2,1061.5 2152.1,1059.1 2153.1,1056.4 2154.0,1056.0 2155.0,1056.2 2155.5,1057.1 2156.0,1058.7 2156.5,1060.5 2157.0,1062.1 2157.5,1062.5 2158.1,1065.7 2158.7,1066.7 2160.0,1068.0 2161.6,1068.4 2164.0,1069.0 2165.0,1068.8 2166.3,1068.5 2167.6,1067.3 2169.1,1066.3 2170.6,1065.0 2172.1,1064.3 2173.6,1063.9 2175.1,1062.6 2176.4,1061.7 2177.5,1060.7 2178.9,1059.1 2180.2,1057.6 2181.3,1056.0 2182.3,1054.2 2183.3,1054.2 2184.1,1051.8 2185.0,1051.7 2186.6,1051.3 2187.9,1051.0 2189.5,1052.2 2190.1,1052.5 2190.9,1054.6 2191.7,1055.9 2192.5,1057.6 2193.3,1058.8 2194.2,1060.2 2195.0,1061.9 2195.7,1063.3 2196.4,1063.8 2197.0,1065.2 2198.6,1065.2 2200.0,1063.0 2201.4,1062.8 2203.1,1064.4 2204.7,1065.1 2206.0,1065.7 2206.5,1066.6 2206.6,1069.5 2206.8,1071.6 2207.5,1072.7 2208.2,1072.1 2209.0,1070.5 2210.0,1069.8 2211.1,1067.7 2212.2,1065.6 2213.4,1065.0 2214.6,1063.0 2215.7,1062.7 2217.1,1062.8 2218.5,1063.7 2220.1,1063.4 2221.6,1064.0 2223.0,1064.3 2224.4,1066.2 2225.5,1066.7 2227.1,1068.2 2228.1,1070.0 2230.0,1070.5 2231.0,1070.6 2232.2,1069.0 2233.6,1069.0 2235.0,1068.5 2236.5,1067.2 2237.9,1065.2 2239.4,1065.1 2240.8,1063.2 2242.0,1062.2 2243.0,1061.7 2244.1,1059.8 2245.1,1058.9 2246.0,1056.0 2247.0,1055.5 2247.9,1053.0 2248.7,1052.9 2249.5,1051.2 2250.3,1051.0 2251.0,1050.2 2252.8,1050.1 2254.2,1052.6 2255.5,1053.7 2256.2,1055.2 2256.9,1056.8 2257.7,1057.2 2258.4,1059.8 2259.2,1060.6 2260.0,1062.2 2261.3,1062.9 2262.6,1063.1 2264.1,1063.4 2266.0,1063.7 2267.3,1064.7 2268.8,1065.6 2270.3,1066.3 2272.0,1066.9 2273.6,1068.0 2275.1,1068.9 2276.5,1069.3 2278.2,1069.8 2279.7,1068.9 2281.1,1069.7 2282.5,1068.5 2284.0,1068.7 2285.5,1068.6 2287.0,1068.0 2288.4,1066.9 2290.0,1066.7 2291.5,1064.5 2292.0,1063.0 2292.6,1062.5 2293.1,1060.8 2293.7,1059.0 2294.3,1057.7 2294.9,1055.0 2295.4,1053.3 2296.0,1051.6 2296.6,1050.1 2297.2,1048.0 2297.7,1045.0 2298.2,1044.9 2298.7,1043.5 2299.2,1042.4 2299.7,1042.0 2300.9,1040.6 2301.9,1041.6 2302.8,1043.8 2303.7,1046.4 2305.0,1047.7 2306.1,1048.3 2307.4,1049.8 2308.8,1050.8 2310.3,1052.5 2311.6,1052.8 2312.9,1054.4 2314.0,1054.7 2315.1,1055.4 2315.7,1054.1 2318.5,1053.2 2319.5,1052.7 2320.7,1052.9 2322.1,1053.8 2323.7,1054.2 2325.4,1053.1 2327.1,1052.9 2328.9,1053.6 2330.8,1052.9 2332.6,1053.3 2334.4,1052.8 2336.1,1053.0 2337.7,1052.3 2339.2,1053.3 2340.5,1051.9 2341.6,1052.7 2342.5,1053.2" fill="none" stroke="#ffd700" stroke-width="1.55" stroke-linejoin="round"/>
<polyline points="60.0,975.8 60.9,976.7 62.3,977.3 63.8,980.0 65.5,979.7 67.2,980.6 68.7,981.5 70.0,981.7 72.0,981.0 73.5,979.5 75.0,978.7 76.7,978.5 78.5,977.8 80.0,978.0 81.3,979.1 83.3,979.7 84.6,979.9 86.1,979.5 87.9,980.1 89.7,980.7 91.6,980.5 93.3,981.7 95.0,982.0 96.7,982.3 98.4,983.2 100.1,982.6 101.7,983.0 103.3,983.0 104.8,982.7 106.1,981.9 107.4,980.0 108.7,980.1 110.1,978.3 111.7,978.3 113.0,979.0 114.5,978.8 116.0,979.4 117.6,979.8 119.2,981.2 120.7,983.1 122.1,982.3 123.3,983.0 125.3,983.9 126.8,983.7 128.3,982.4 130.0,982.0 131.4,982.0 132.8,981.3 134.3,979.6 135.9,978.7 137.5,978.8 139.2,978.0 140.7,978.2 142.2,979.3 143.8,978.9 145.5,978.6 147.0,979.7 148.6,979.7 150.0,980.8 151.5,981.8 152.9,982.6 154.3,982.9 155.6,983.5 156.9,984.9 158.3,984.7 160.0,984.3 161.7,984.4 163.5,982.5 165.1,982.1 166.7,981.7 168.4,981.4 169.9,981.4 171.5,983.5 173.3,982.2 174.7,982.7 176.3,981.2 177.9,981.4 179.6,979.6 181.4,980.6 183.3,979.7 184.8,980.1 186.4,979.4 188.1,979.4 189.8,979.7 191.5,979.8 193.3,979.4 195.0,979.1 196.7,979.2 198.2,978.7 199.8,978.1 201.3,978.1 202.9,977.1 204.4,976.4 205.9,974.9 207.4,974.9 208.7,974.4 210.0,974.2 211.9,973.6 213.4,973.6 214.7,973.5 216.3,973.1 218.3,974.2 219.5,974.9 220.8,975.2 222.3,975.0 223.7,976.0 225.3,975.7 226.9,976.1 228.5,977.0 230.1,978.3 231.7,977.9 233.3,978.3 234.8,977.8 236.4,978.9 238.0,978.7 239.7,978.8 241.3,979.5 243.0,978.6 244.6,978.7 246.1,978.9 247.5,980.2 248.9,979.7 250.0,979.7 252.4,979.3 253.9,979.0 255.2,979.2 256.7,978.3 258.1,978.2 259.6,976.3 261.2,975.8 262.7,976.1 264.2,974.7 265.7,975.4 267.2,975.8 268.6,977.2 270.1,978.3 271.7,979.2 273.0,980.3 274.3,981.0 275.6,981.4 277.0,982.3 278.4,983.2 280.0,983.3 281.5,983.1 283.1,983.4 284.9,982.7 286.6,983.4 288.4,983.2 290.1,981.7 291.7,981.7 293.2,981.7 294.7,981.0 296.2,980.5 297.6,979.8 299.0,979.5 300.3,979.3 301.7,978.3 303.3,977.0 304.8,977.2 306.3,975.8 307.8,974.6 309.3,974.5 310.8,974.2 312.3,974.5 313.8,974.5 315.3,975.1 316.9,975.4 318.4,975.9 320.0,976.7 321.4,977.7 322.7,977.3 324.1,978.8 325.4,979.0 326.9,979.3 328.4,979.8 330.0,980.3 331.5,980.5 333.2,980.8 335.0,981.0 336.9,981.1 338.7,980.3 340.4,980.4 341.9,981.7 343.3,981.7 345.4,982.0 347.1,982.7 348.5,983.5 350.0,983.7 351.6,982.7 353.2,983.0 354.9,981.3 356.7,980.8 358.1,981.0 359.4,981.1 360.9,982.8 362.7,983.3 365.0,983.3 366.2,984.0 367.6,983.7 369.1,982.8 370.8,982.4 372.5,983.5 374.2,982.3 376.0,982.4 377.7,982.2 379.3,982.3 380.8,982.2 382.1,981.3 383.3,981.7 385.7,981.3 387.2,980.8 388.4,982.0 390.0,982.0 391.4,982.4 393.0,982.3 394.6,984.2 396.3,984.4 398.1,984.4 400.0,985.0 401.4,984.7 402.8,984.4 404.4,984.4 406.0,984.1 407.5,983.3 409.1,983.3 410.6,981.4 412.0,982.0 413.3,981.7 415.0,981.4 416.5,980.8 417.9,980.0 419.2,978.5 420.5,977.8 421.7,978.3 423.4,978.4 424.8,980.4 426.3,980.4 428.3,980.8 429.7,980.6 431.1,980.3 432.7,981.2 434.4,981.0 436.1,981.4 438.0,981.1 440.0,980.8 441.3,979.5 442.8,980.3 444.3,980.3 445.9,979.3 447.5,978.6 449.2,978.2 450.8,977.7 452.4,979.0 453.9,978.4 455.4,977.3 456.7,977.5 458.4,978.3 460.0,977.7 461.5,978.5 462.9,979.1 464.3,980.1 465.6,981.0 467.0,982.1 468.3,981.3 469.8,981.6 471.3,981.0 472.8,980.7 474.2,980.0 475.6,979.5 477.0,978.1 478.3,977.5 479.3,976.6 480.2,975.4 481.2,974.1 482.1,971.7 482.9,970.7 483.8,969.1 484.8,967.4 485.7,965.9 486.7,966.3 487.9,966.1 489.1,967.3 490.4,967.6 491.7,969.9 493.0,970.3 494.3,970.9 495.5,972.3 496.7,973.0 498.4,973.8 500.0,974.1 501.5,973.9 503.1,974.5 505.0,974.7 506.3,976.6 507.7,976.3 509.1,976.7 510.6,977.2 512.2,977.4 513.7,978.9 515.2,979.1 516.7,979.5 518.2,979.5 519.6,979.0 521.1,979.2 522.6,978.8 524.1,977.4 525.5,976.5 526.9,976.8 528.3,976.2 530.1,976.3 531.9,975.4 533.6,974.9 535.3,973.6 536.8,973.7 538.3,973.7 540.2,974.1 541.9,974.4 543.4,974.6 545.0,974.7 546.7,974.5 548.4,973.9 550.0,972.9 551.7,972.5 553.2,972.7 554.7,973.3 556.3,975.0 558.3,975.0 559.6,974.6 561.0,974.0 562.5,973.8 564.1,972.1 565.8,971.3 567.3,970.9 568.7,969.4 570.0,969.2 572.1,967.5 573.8,967.7 575.3,968.0 576.7,967.5 578.6,967.2 580.3,967.7 581.7,968.3 582.2,969.3 583.3,971.3 584.3,971.7 585.4,969.9 586.8,969.8 588.3,969.3 590.0,969.6 591.6,968.1 593.3,967.5 594.7,966.8 596.2,966.1 597.8,966.2 599.4,965.4 601.0,965.4 602.6,965.3 604.1,965.6 605.5,964.3 606.7,964.7 608.8,965.2 610.3,963.8 611.7,966.0 613.3,965.8 614.6,966.2 615.9,967.2 617.3,968.2 618.7,969.6 620.2,970.6 621.7,971.7 623.1,972.6 624.5,973.5 626.0,974.8 627.4,976.2 628.9,976.9 630.3,977.6 631.7,978.3 633.1,977.6 634.5,977.6 635.7,976.9 637.0,975.3 638.4,975.5 640.0,974.7 641.3,974.8 642.8,975.3 644.3,975.0 645.9,976.6 647.4,977.5 648.9,978.4 650.4,977.7 651.7,978.3 653.6,978.4 655.4,978.5 657.1,978.1 658.6,977.3 660.0,977.5 661.7,978.1 663.0,979.4 665.0,979.7 666.3,980.2 667.9,980.1 669.6,980.7 671.5,979.6 673.3,980.6 675.1,980.3 676.7,980.8 678.5,981.0 680.3,982.0 682.0,983.0 683.7,982.8 685.2,983.0 686.7,983.0 688.4,983.3 689.7,982.0 691.1,979.7 693.3,980.0 694.5,979.5 695.9,979.3 697.4,979.1 699.0,978.5 700.7,979.4 702.4,979.0 704.0,979.7 705.6,978.8 707.0,979.1 708.3,979.2 710.1,979.6 711.7,981.5 713.0,982.8 714.3,984.3 715.5,985.0 716.7,985.0 718.5,984.4 720.1,984.0 721.7,981.8 723.3,981.7 724.6,981.9 725.8,982.9 727.1,985.1 728.4,984.8 730.0,985.8 731.5,985.5 733.0,986.0 734.7,986.2 736.4,985.8 738.2,985.8 740.0,985.8 741.4,985.9 742.7,986.8 744.1,988.4 745.5,988.8 747.0,989.3 748.5,990.3 750.1,991.8 751.7,991.7 753.1,992.8 754.6,992.4 756.1,991.9 757.7,993.1 759.3,992.1 760.9,992.4 762.5,992.6 764.0,992.5 765.4,992.5 766.7,992.8 768.4,994.1 769.9,994.3 771.3,994.4 772.7,995.7 774.0,997.4 775.3,997.2 776.7,997.5 778.1,996.8 779.6,997.0 781.0,995.9 782.4,994.7 783.8,994.0 785.3,992.9 786.7,992.8 788.1,993.1 789.6,993.9 791.1,994.1 792.5,995.9 794.0,995.7 795.4,997.9 796.7,997.5 798.5,997.9 800.1,998.2 801.8,997.5 803.4,998.4 805.0,998.3 806.7,998.6 808.4,1000.0 810.1,1000.6 811.7,1001.0 813.3,1001.7 815.1,1002.5 816.8,1001.4 818.4,1000.5 820.0,1000.0 821.2,999.1 822.4,998.5 823.5,997.4 824.9,997.0 826.7,996.3 827.9,996.2 829.4,996.8 830.9,996.9 832.6,997.4 834.2,998.6 835.9,998.4 837.4,998.5 838.8,999.9 840.0,999.7 841.9,999.2 843.3,998.9 844.4,998.1 845.8,997.5 847.2,998.2 848.7,998.8 850.3,1000.3 851.8,1000.0 853.3,1000.8 855.0,1001.2 856.6,1000.0 858.2,999.5 860.0,998.7 861.6,998.2 863.3,998.4 865.0,997.9 866.7,997.1 868.3,997.0 870.0,997.2 871.6,998.0 873.2,997.6 875.0,995.8 875.5,996.0 876.0,994.1 876.5,992.3 877.1,991.4 877.6,989.4 878.2,987.3 878.7,985.6 879.3,983.2 879.9,982.4 880.4,981.0 881.0,978.6 881.5,976.7 882.0,974.8 882.4,973.8 882.9,973.3 883.3,972.5 884.8,970.7 885.9,972.4 887.5,975.8 888.0,976.4 888.4,978.0 888.9,979.4 889.4,981.2 890.0,982.9 890.5,984.7 891.1,986.1 891.7,988.2 892.4,989.6 893.0,991.6 893.7,993.3 894.4,994.9 895.1,995.2 895.9,996.1 896.7,997.0 897.8,996.9 898.9,996.0 900.2,995.5 901.5,994.2 902.9,992.4 904.3,991.8 905.6,989.2 907.0,988.0 908.3,985.7 909.5,985.8 910.7,985.0 911.7,984.7 912.6,985.3 913.3,985.0 914.0,987.1 914.7,988.3 915.3,990.4 915.9,991.9 916.4,993.5 917.0,995.4 917.5,997.9 918.1,999.5 918.7,999.7 919.3,1001.5 920.0,1002.5 921.6,1003.9 923.3,1003.9 925.0,1004.2 926.8,1003.6 928.5,1004.0 930.0,1003.0 931.7,1003.0 933.2,1002.0 934.6,1002.0 936.0,1001.2 937.5,1000.8 938.9,1002.0 940.1,1001.9 941.5,1002.5 943.0,1004.4 945.0,1004.7 946.2,1005.0 947.7,1004.4 949.3,1003.6 951.0,1005.5 952.8,1005.6 954.5,1005.3 956.1,1005.4 957.6,1005.6 958.9,1004.9 960.0,1005.3 961.8,1004.6 962.3,1001.7 963.3,1000.8 964.6,1000.5 966.1,1000.3 967.7,1000.0 969.3,999.8 970.8,1000.0 972.4,1000.0 973.9,998.3 975.3,998.7 976.7,998.7 978.0,1000.3 979.2,1000.7 980.4,1001.7 981.7,1003.0 983.3,1002.3 985.0,1000.1 986.7,999.8 988.3,999.7 989.5,999.9 990.6,1001.5 991.7,1003.0 993.3,1004.2 994.7,1004.7 996.4,1004.6 998.1,1004.1 1000.0,1004.8 1001.7,1003.2 1003.3,1002.5 1004.2,1002.1 1005.0,999.8 1005.8,997.9 1006.6,996.2 1007.3,995.1 1008.0,992.7 1008.7,990.9 1009.4,988.9 1010.1,988.7 1010.8,988.3 1011.5,988.5 1012.1,989.5 1012.7,990.9 1013.3,992.4 1013.9,995.7 1014.5,996.7 1015.1,999.3 1015.9,1000.9 1016.7,1001.7 1018.2,1002.6 1019.9,1002.9 1021.7,1003.1 1023.5,1002.5 1025.2,1002.4 1026.7,1002.5 1028.5,1003.0 1030.1,1003.3 1031.6,1003.5 1033.3,1004.2 1034.6,1003.6 1036.0,1005.5 1037.4,1005.7 1038.8,1007.4 1040.3,1007.9 1041.7,1007.5 1043.1,1007.3 1044.5,1006.6 1046.0,1004.6 1047.4,1004.5 1048.7,1003.4 1050.0,1003.3 1051.6,1004.3 1053.0,1003.5 1054.6,1005.9 1056.7,1005.3 1058.0,1005.2 1059.6,1004.3 1061.2,1005.9 1062.9,1004.9 1064.7,1004.9 1066.5,1005.0 1068.3,1003.7 1070.0,1004.2 1071.6,1003.8 1073.2,1003.9 1074.8,1004.1 1076.4,1003.3 1078.1,1003.4 1079.7,1002.3 1081.5,1003.3 1083.3,1003.3 1084.7,1003.2 1086.1,1004.0 1087.6,1004.8 1089.1,1005.8 1090.6,1005.8 1092.1,1007.1 1093.7,1007.4 1095.2,1008.5 1096.8,1008.5 1098.4,1009.7 1100.0,1009.2 1101.5,1008.7 1103.1,1008.5 1104.7,1009.1 1106.3,1007.8 1107.9,1007.8 1109.6,1007.3 1111.2,1005.6 1112.8,1005.7 1114.3,1005.1 1115.7,1004.9 1117.1,1004.1 1118.3,1004.7 1120.2,1005.2 1121.9,1006.0 1123.3,1006.5 1124.7,1008.2 1125.9,1009.4 1127.1,1009.5 1128.3,1010.8 1130.0,1011.0 1131.3,1011.0 1132.8,1010.3 1135.0,1009.7 1136.2,1009.3 1137.5,1009.5 1138.9,1010.0 1140.5,1010.4 1142.1,1010.8 1143.7,1010.7 1145.4,1011.2 1147.0,1010.7 1148.5,1012.0 1150.0,1011.3 1151.8,1011.4 1153.6,1011.2 1155.5,1011.5 1157.3,1011.1 1159.0,1011.6 1160.6,1011.8 1162.0,1012.1 1163.3,1011.7 1164.9,1011.3 1165.7,1008.9 1166.5,1007.7 1168.3,1007.5 1169.4,1008.0 1170.6,1008.5 1172.0,1008.9 1173.4,1009.2 1175.0,1009.3 1176.6,1010.2 1178.2,1010.4 1179.9,1011.4 1181.6,1012.8 1183.3,1012.5 1184.8,1013.3 1186.3,1012.6 1188.0,1013.0 1189.7,1013.3 1191.5,1012.1 1193.2,1011.9 1194.9,1012.1 1196.6,1011.3 1198.1,1012.4 1199.5,1011.9 1200.7,1011.7 1201.7,1011.7 1204.0,1010.5 1205.0,1010.0 1206.1,1010.9 1207.4,1011.9 1208.8,1012.8 1210.3,1014.9 1211.9,1015.3 1213.3,1015.8 1214.5,1015.4 1215.5,1014.0 1216.6,1012.9 1217.8,1010.7 1218.9,1009.9 1220.2,1008.4 1221.7,1007.5 1223.0,1007.4 1224.4,1006.0 1225.9,1005.5 1227.4,1005.8 1229.0,1004.2 1230.6,1005.2 1232.1,1004.7 1233.6,1004.6 1235.0,1005.0 1236.5,1005.5 1237.8,1006.2 1239.2,1007.0 1240.5,1008.9 1241.7,1009.3 1243.0,1010.8 1244.4,1011.4 1245.8,1012.0 1247.3,1011.7 1249.0,1011.6 1250.7,1011.7 1252.5,1010.9 1254.1,1011.1 1255.7,1010.3 1257.1,1009.1 1258.3,1008.7 1259.9,1007.7 1260.8,1004.6 1261.5,1004.9 1262.5,1003.3 1263.7,1002.6 1265.0,1003.0 1266.5,1004.9 1268.3,1005.8 1269.2,1005.9 1270.3,1007.4 1271.4,1009.1 1272.6,1009.3 1273.9,1011.5 1275.1,1013.3 1276.2,1013.8 1277.3,1015.7 1278.3,1015.8 1280.3,1016.4 1282.1,1017.9 1283.6,1017.2 1285.0,1015.8 1285.5,1014.8 1285.9,1013.2 1286.3,1011.2 1286.7,1010.2 1287.0,1007.2 1287.3,1005.9 1287.6,1004.5 1287.9,1002.9 1288.3,1001.7 1290.3,999.9 1292.5,1001.3 1292.9,1002.0 1293.2,1003.1 1293.5,1005.5 1293.8,1007.3 1294.1,1009.8 1294.5,1010.4 1294.9,1013.1 1295.4,1014.9 1296.0,1015.7 1296.7,1016.7 1297.8,1016.1 1299.1,1016.4 1300.5,1015.9 1302.0,1014.0 1303.6,1012.6 1305.2,1011.4 1306.8,1010.6 1308.3,1010.8 1309.8,1010.3 1311.3,1013.3 1312.8,1012.8 1314.4,1014.7 1315.9,1015.9 1317.3,1016.1 1318.7,1017.4 1320.0,1017.5 1321.6,1018.0 1323.0,1016.8 1324.4,1015.3 1325.7,1013.2 1327.0,1012.1 1328.3,1011.7 1330.0,1011.5 1331.7,1012.3 1333.3,1011.7 1335.0,1013.0 1336.7,1013.7 1337.7,1015.1 1338.6,1016.2 1339.5,1017.2 1340.3,1018.4 1341.3,1020.5 1342.3,1021.2 1343.6,1022.3 1345.0,1022.5 1346.1,1022.1 1347.4,1021.7 1348.8,1021.1 1350.3,1020.0 1351.8,1019.9 1353.4,1017.9 1354.9,1017.6 1356.4,1016.3 1357.9,1015.8 1359.3,1014.2 1360.6,1014.4 1361.7,1014.2 1363.4,1014.5 1364.8,1016.0 1366.0,1017.1 1367.1,1018.2 1368.1,1019.4 1369.1,1020.4 1370.0,1020.8 1371.2,1020.7 1372.2,1019.3 1373.0,1017.2 1373.9,1016.0 1375.0,1015.0 1375.8,1014.9 1376.7,1017.2 1377.6,1019.3 1378.5,1020.2 1379.5,1021.4 1380.6,1023.4 1381.7,1023.3 1382.8,1022.2 1384.2,1022.8 1385.6,1020.6 1387.0,1020.1 1388.4,1018.0 1389.7,1018.0 1390.8,1016.4 1391.7,1015.8 1392.5,1017.4 1393.3,1019.2 1394.0,1018.7 1395.0,1018.5 1396.0,1017.6 1397.2,1015.9 1398.4,1014.4 1399.7,1013.9 1400.9,1012.1 1402.1,1010.7 1403.3,1010.0 1404.7,1009.8 1406.2,1007.1 1407.6,1006.9 1409.0,1006.6 1410.4,1005.4 1411.9,1005.0 1413.3,1005.0 1414.4,1006.0 1415.5,1006.1 1416.6,1007.7 1417.7,1009.2 1418.9,1011.1 1420.0,1012.3 1421.1,1013.5 1422.2,1015.0 1423.3,1015.0 1424.8,1015.9 1426.3,1014.5 1427.9,1015.6 1429.5,1013.9 1430.9,1012.7 1432.2,1013.0 1433.3,1011.7 1434.6,1009.3 1436.7,1010.8 1437.6,1010.8 1438.6,1012.2 1439.8,1012.6 1441.2,1013.3 1442.6,1014.7 1444.0,1016.6 1445.5,1017.0 1447.0,1018.4 1448.5,1019.4 1449.9,1020.0 1451.2,1020.8 1452.3,1021.1 1453.3,1021.7 1455.3,1022.0 1456.7,1021.4 1457.8,1019.7 1458.8,1018.7 1460.0,1018.3 1461.3,1019.2 1462.5,1020.2 1463.8,1021.7 1465.1,1021.9 1466.7,1023.0 1468.0,1022.9 1469.4,1021.3 1470.9,1021.4 1472.5,1019.9 1474.0,1018.7 1475.4,1017.2 1476.7,1016.7 1478.3,1015.8 1479.7,1013.7 1481.1,1012.3 1482.2,1010.6 1483.3,1010.8 1484.4,1012.2 1485.2,1013.0 1486.7,1015.0 1487.8,1015.5 1489.0,1017.3 1490.4,1018.1 1491.8,1017.7 1493.4,1019.5 1495.0,1020.7 1496.7,1020.0 1497.9,1019.6 1499.2,1018.8 1500.6,1018.6 1501.9,1017.5 1503.4,1015.6 1504.8,1014.6 1506.1,1013.6 1507.5,1012.8 1508.8,1011.8 1510.0,1012.0 1511.6,1011.9 1513.1,1013.2 1514.6,1013.2 1516.0,1015.5 1517.4,1016.4 1518.7,1017.4 1520.0,1017.5 1521.7,1017.8 1523.1,1016.4 1524.6,1015.2 1526.2,1015.6 1528.3,1014.7 1529.6,1014.8 1531.0,1015.2 1532.5,1015.6 1534.1,1015.0 1535.7,1015.8 1537.3,1016.2 1539.0,1016.1 1540.5,1016.4 1542.0,1017.0 1543.3,1017.0 1545.3,1017.0 1547.1,1017.0 1548.7,1016.3 1550.3,1015.9 1551.8,1014.7 1553.3,1014.7 1555.0,1015.1 1556.5,1015.5 1558.1,1016.0 1559.7,1016.7 1561.7,1017.5 1563.0,1018.5 1564.3,1019.0 1565.7,1018.8 1567.2,1018.0 1568.7,1019.1 1570.3,1019.6 1571.8,1021.0 1573.4,1020.8 1575.0,1020.3 1576.5,1020.0 1578.0,1020.1 1579.6,1019.4 1581.2,1018.6 1582.8,1017.9 1584.4,1016.9 1585.9,1016.3 1587.4,1016.2 1588.8,1015.5 1590.0,1015.8 1591.7,1016.3 1593.0,1016.9 1594.2,1017.7 1595.3,1019.3 1596.6,1019.6 1598.3,1020.3 1599.5,1020.1 1600.9,1019.6 1602.4,1019.9 1603.9,1019.2 1605.5,1018.5 1607.1,1017.9 1608.7,1017.6 1610.3,1016.7 1611.8,1015.8 1613.3,1016.3 1615.1,1017.0 1616.8,1016.3 1618.5,1016.7 1620.2,1016.1 1621.9,1016.0 1623.5,1016.5 1625.1,1017.5 1626.7,1017.5 1628.5,1017.7 1630.2,1018.3 1631.9,1018.7 1633.5,1018.8 1635.2,1020.7 1636.7,1019.8 1638.3,1020.3 1639.8,1019.7 1641.4,1019.1 1642.9,1019.1 1644.3,1018.8 1645.7,1017.6 1647.1,1017.2 1648.3,1016.7 1650.2,1017.0 1651.9,1018.7 1653.4,1018.9 1655.0,1018.3 1655.7,1017.6 1656.5,1015.6 1657.3,1014.9 1658.0,1012.8 1658.8,1010.4 1659.5,1008.6 1660.3,1007.6 1661.0,1005.8 1661.7,1005.8 1662.6,1006.2 1663.4,1007.1 1664.2,1008.8 1665.1,1011.8 1665.9,1012.7 1666.7,1013.9 1667.5,1015.3 1668.4,1015.5 1669.3,1013.1 1670.2,1012.0 1671.2,1009.6 1672.2,1007.9 1673.3,1008.0 1674.1,1007.9 1675.0,1009.7 1676.0,1011.4 1677.0,1012.8 1677.9,1014.7 1678.9,1016.4 1679.9,1018.3 1680.8,1019.6 1681.7,1020.3 1683.1,1020.3 1684.5,1018.6 1685.7,1017.7 1687.0,1016.6 1688.3,1016.3 1689.6,1016.8 1690.9,1017.8 1692.2,1020.0 1693.6,1020.8 1695.0,1021.7 1695.8,1020.4 1696.7,1020.2 1697.6,1018.2 1698.5,1017.5 1699.4,1015.9 1700.3,1013.0 1701.3,1012.5 1702.3,1010.7 1703.3,1010.8 1704.6,1011.2 1706.0,1012.2 1707.5,1013.7 1708.9,1015.1 1710.4,1015.2 1711.9,1016.7 1713.3,1016.7 1714.3,1015.5 1715.3,1015.5 1716.3,1014.5 1717.3,1012.7 1718.2,1011.6 1719.2,1009.4 1720.2,1008.0 1721.2,1006.4 1722.3,1005.0 1723.3,1005.0 1724.8,1004.3 1726.4,1003.7 1728.1,1002.9 1729.7,1002.9 1731.3,1002.7 1732.8,1004.0 1734.2,1004.2 1735.4,1005.3 1736.5,1006.1 1737.5,1007.6 1738.5,1009.2 1739.5,1010.6 1740.5,1012.5 1741.7,1013.3 1743.2,1014.5 1744.7,1013.8 1746.2,1015.4 1747.9,1014.8 1749.7,1014.9 1751.7,1014.7 1752.9,1013.6 1754.2,1013.4 1755.7,1012.8 1757.1,1011.8 1758.7,1012.1 1760.2,1009.9 1761.7,1009.0 1763.1,1008.1 1764.4,1007.7 1765.6,1007.3 1766.7,1006.7 1768.5,1007.2 1769.8,1007.8 1770.8,1009.3 1771.9,1009.3 1773.3,1010.8 1774.6,1010.7 1776.0,1009.8 1777.5,1009.7 1779.1,1008.6 1780.6,1008.3 1782.0,1007.2 1783.3,1006.7 1784.9,1006.1 1786.4,1004.0 1787.7,1004.5 1788.9,1002.9 1790.0,1003.3 1791.2,1004.9 1791.9,1005.4 1793.3,1007.5 1794.6,1008.1 1796.2,1008.3 1798.0,1009.3 1799.8,1009.9 1801.7,1009.2 1803.0,1008.3 1804.2,1008.1 1805.5,1007.4 1806.8,1005.6 1808.2,1005.3 1809.8,1003.6 1811.5,1002.9 1812.7,1002.5 1814.1,1001.0 1815.6,1002.0 1817.1,999.8 1818.7,998.2 1820.3,998.5 1821.9,997.4 1823.5,996.2 1824.9,996.3 1826.3,995.6 1827.5,996.0 1829.1,996.3 1830.5,996.6 1831.7,997.6 1832.8,999.3 1833.9,1000.6 1835.2,1001.6 1836.7,1002.4 1838.0,1003.0 1839.5,1003.3 1841.1,1003.8 1842.7,1004.6 1844.4,1004.8 1846.0,1004.8 1847.6,1005.4 1849.1,1004.0 1850.4,1004.7 1852.2,1004.7 1853.8,1002.5 1855.3,1002.0 1856.7,1000.8 1858.1,1000.7 1859.6,1000.1 1861.0,1001.0 1862.3,1000.8 1863.6,1001.2 1865.0,1003.4 1866.6,1003.7 1868.7,1004.0 1869.9,1003.3 1871.3,1004.7 1872.9,1003.6 1874.5,1003.1 1876.2,1002.7 1877.9,1002.1 1879.6,1002.0 1881.3,1001.3 1882.9,1001.3 1884.5,999.6 1885.9,999.9 1887.1,999.5 1889.1,999.3 1890.6,997.8 1891.8,998.1 1893.0,996.8 1894.4,997.0 1896.2,996.0 1897.5,996.3 1899.1,995.8 1900.7,995.5 1902.5,995.1 1904.3,995.0 1906.0,995.2 1907.7,994.6 1909.2,993.6 1910.6,993.1 1911.7,991.7 1912.2,990.2 1912.7,990.1 1913.1,988.6 1913.4,986.9 1913.7,985.9 1913.9,983.7 1914.1,982.7 1914.3,980.4 1914.4,978.0 1914.5,976.0 1914.6,975.9 1914.7,972.5 1914.9,971.4 1915.0,970.2 1915.1,968.0 1915.3,966.1 1915.5,965.0 1915.7,963.2 1916.0,961.5 1916.2,959.6 1916.5,957.7 1916.7,955.0 1917.0,954.0 1917.2,951.6 1917.5,950.0 1917.7,948.3 1918.0,946.6 1918.2,944.5 1918.5,943.6 1918.7,942.7 1919.0,942.0 1919.2,942.3 1919.5,942.2 1919.7,942.3 1920.0,943.9 1920.2,945.0 1920.5,946.8 1920.7,947.7 1921.0,950.5 1921.2,951.5 1921.5,953.4 1921.7,955.5 1922.0,958.2 1922.2,960.0 1922.5,961.6 1922.7,963.3 1923.0,965.0 1923.2,966.3 1923.4,967.4 1923.6,969.6 1923.8,971.2 1924.0,973.7 1924.1,974.5 1924.3,977.1 1924.5,978.2 1924.7,979.7 1924.9,981.8 1925.1,982.2 1925.3,983.9 1925.5,987.0 1925.8,987.7 1926.1,989.0 1926.4,989.9 1926.7,991.0 1927.8,993.4 1929.1,994.9 1930.6,996.0 1932.1,996.7 1933.6,997.1 1935.0,997.0 1936.4,996.8 1937.8,995.0 1939.2,993.9 1940.7,993.3 1942.0,991.3 1943.3,990.8 1944.7,991.1 1945.9,991.8 1947.2,992.6 1948.5,994.5 1950.0,994.2 1951.5,994.5 1953.1,993.3 1954.8,994.3 1956.5,992.9 1958.3,992.2 1960.0,992.5 1961.4,991.6 1962.9,991.5 1964.4,989.6 1965.8,989.9 1967.3,988.4 1968.7,988.8 1970.0,988.0 1971.4,988.6 1972.6,988.6 1973.8,988.7 1975.1,990.7 1976.5,990.6 1978.3,992.0 1979.5,992.4 1980.8,991.9 1982.2,992.6 1983.7,991.7 1985.2,991.3 1986.8,991.8 1988.4,990.9 1990.0,991.2 1991.7,990.9 1993.3,990.8 1994.8,990.3 1996.3,989.8 1997.7,990.4 1999.3,990.5 2000.8,989.4 2002.3,988.8 2003.9,988.9 2005.6,988.3 2007.3,988.0 2009.0,989.4 2010.8,989.2 2012.1,989.5 2013.5,989.7 2015.0,991.2 2016.5,991.0 2018.0,991.6 2019.6,992.7 2021.2,992.8 2022.8,994.0 2024.3,994.8 2025.9,995.6 2027.4,996.2 2028.8,997.3 2030.2,997.6 2031.5,998.0 2032.6,998.4 2033.7,998.3 2035.9,998.1 2037.4,997.5 2038.6,997.0 2039.7,996.6 2041.0,994.8 2042.9,994.9 2044.1,995.0 2045.4,994.5 2046.8,994.7 2048.3,994.7 2049.9,994.4 2051.5,996.0 2053.1,995.4 2054.8,995.7 2056.4,995.9 2058.0,994.7 2059.6,996.6 2061.2,996.0 2062.8,996.7 2064.4,996.0 2066.1,996.2 2067.8,996.5 2069.6,996.5 2071.3,996.7 2072.9,996.5 2074.5,995.9 2076.0,995.9 2077.3,994.7 2078.6,994.5 2079.6,993.7 2080.3,993.2 2081.0,992.1 2081.5,990.3 2081.9,988.9 2082.2,986.6 2082.5,985.5 2082.7,983.2 2082.9,981.0 2083.1,980.2 2083.2,977.9 2083.4,976.3 2083.5,974.1 2083.7,973.2 2084.0,972.0 2084.6,969.7 2085.3,967.6 2085.9,965.7 2086.4,964.2 2087.0,963.5 2087.6,962.8 2088.2,963.7 2088.7,964.6 2089.2,965.2 2089.8,967.5 2090.4,970.2 2091.0,972.0 2091.3,973.6 2091.6,974.4 2091.9,976.1 2092.2,977.7 2092.5,979.6 2092.8,980.5 2093.1,982.2 2093.4,984.7 2093.7,986.0 2094.1,987.8 2094.4,989.2 2094.8,990.9 2095.2,991.8 2095.6,992.6 2096.8,993.7 2098.2,992.1 2099.6,990.3 2101.1,988.7 2102.5,988.0 2103.8,988.4 2105.0,989.2 2106.3,990.5 2107.7,992.8 2109.4,992.6 2110.6,992.0 2111.8,991.2 2113.1,990.1 2114.5,989.2 2116.0,987.9 2117.5,987.2 2119.1,986.2 2120.8,986.9 2122.1,986.5 2123.5,988.5 2125.0,988.4 2126.5,989.3 2128.0,990.6 2129.6,991.2 2131.1,992.1 2132.6,992.7 2134.1,994.1 2135.5,994.1 2136.8,994.9 2138.8,995.2 2140.7,995.4 2142.5,996.3 2144.3,995.7 2145.8,995.6 2147.2,995.9 2148.3,994.9 2149.4,994.3 2149.7,992.0 2149.9,990.1 2150.6,988.7 2152.1,988.0 2154.0,988.0 2156.0,988.6 2157.5,988.7 2158.0,990.4 2158.0,992.9 2159.8,993.7 2160.8,994.0 2162.0,993.4 2163.4,993.6 2164.9,993.0 2166.5,994.0 2168.2,993.3 2170.0,993.8 2171.7,993.2 2173.5,993.3 2175.1,992.8 2176.7,992.7 2178.1,992.6 2179.8,992.4 2181.5,991.6 2183.0,991.2 2184.5,990.5 2186.0,989.9 2187.4,989.3 2188.8,988.7 2190.3,988.7 2191.8,988.7 2193.3,989.0 2194.7,989.0 2196.1,989.0 2197.6,989.3 2199.0,991.1 2200.5,991.3 2202.1,990.7 2203.8,991.1 2205.6,991.9 2207.0,991.4 2208.5,992.6 2210.0,991.6 2211.7,992.5 2213.3,992.1 2215.0,992.7 2216.8,992.3 2218.5,992.7 2220.1,992.8 2221.8,993.2 2223.3,993.3 2224.8,992.9 2226.2,992.6 2228.0,992.5 2229.6,992.7 2231.1,990.8 2232.6,991.8 2233.9,990.3 2235.3,989.7 2236.8,990.0 2238.3,988.8 2240.0,988.7 2241.4,988.5 2242.8,988.7 2244.2,988.8 2245.7,987.6 2247.2,988.4 2248.7,988.2 2250.3,987.9 2251.9,988.7 2253.5,989.0 2255.1,988.3 2256.7,988.3 2258.3,988.0 2259.8,987.7 2261.4,988.0 2262.9,988.1 2264.5,988.6 2266.2,988.8 2267.8,988.5 2269.4,988.9 2271.0,988.7 2272.7,989.1 2274.3,989.4 2275.8,989.4 2277.4,989.3 2278.9,989.2 2280.5,989.0 2282.2,988.4 2283.8,987.6 2285.4,987.7 2287.0,986.4 2288.6,985.8 2290.2,985.8 2291.7,984.8 2293.2,984.4 2294.6,984.5 2295.9,983.2 2297.2,983.4 2299.0,983.1 2300.6,985.0 2302.1,984.6 2303.5,985.5 2304.9,987.6 2306.1,987.7 2307.4,988.2 2308.7,988.7 2310.2,987.9 2311.3,988.5 2312.4,987.8 2313.7,987.9 2315.5,986.3 2317.9,986.9 2319.1,986.9 2320.4,987.5 2322.0,986.8 2323.6,986.5 2325.4,985.7 2327.3,986.6 2329.1,986.5 2331.0,986.4 2332.9,986.2 2334.7,987.4 2336.5,987.4 2338.1,986.4 2339.6,986.5 2341.0,986.5 2342.1,986.4 2343.0,986.9" fill="none" stroke="#ff8c00" stroke-width="1.55" stroke-linejoin="round"/>
<polyline points="60.0,960.0 60.8,961.7 61.8,960.8 63.0,962.5 64.4,963.3 65.8,964.0 67.3,965.1 68.7,965.9 70.0,966.7 71.6,966.9 73.2,967.1 74.8,967.1 76.4,966.3 78.1,966.4 80.0,965.8 81.5,966.1 83.2,966.0 84.9,966.0 86.7,965.9 88.4,965.8 90.1,966.8 91.8,967.1 93.3,967.5 94.9,968.1 96.4,968.7 97.9,968.6 99.3,969.5 100.7,969.8 102.0,971.2 103.3,970.8 104.8,970.2 106.1,969.4 107.4,967.7 108.7,966.4 110.1,965.8 111.7,965.8 113.0,965.9 114.5,966.7 116.0,966.4 117.6,968.2 119.2,968.5 120.7,969.4 122.1,970.2 123.3,970.8 125.3,970.9 126.8,971.2 128.3,971.0 130.0,970.0 131.4,969.4 132.9,968.0 134.6,967.4 136.2,966.4 137.7,965.8 139.2,965.0 140.7,965.2 142.1,964.8 143.5,966.1 145.0,967.2 146.7,968.3 148.0,969.3 149.4,969.4 150.9,970.5 152.4,970.9 154.0,970.8 155.5,971.9 157.0,972.6 158.3,972.5 160.2,972.5 162.0,970.9 163.6,971.0 165.2,969.7 166.7,969.5 168.4,968.4 169.9,969.5 171.5,969.1 173.3,970.0 174.5,969.0 175.8,969.9 177.2,969.9 178.6,968.6 180.1,967.8 181.7,968.0 183.3,966.7 184.8,966.6 186.4,965.8 188.0,965.0 189.7,966.7 191.4,965.1 193.2,964.7 194.9,965.7 196.7,965.8 198.2,965.5 199.7,964.8 201.3,965.3 203.0,964.4 204.6,964.1 206.2,963.8 207.8,963.0 209.2,963.0 210.5,963.8 211.7,962.5 213.9,961.8 215.4,962.4 216.7,962.9 218.3,963.0 219.8,963.1 221.2,963.9 222.8,963.7 224.6,965.0 226.7,965.8 228.0,966.0 229.4,966.8 230.9,967.0 232.5,966.5 234.2,966.5 235.9,968.2 237.5,967.9 239.0,966.7 240.4,967.7 241.7,968.0 243.8,967.7 245.7,968.0 247.2,967.5 248.7,968.1 250.0,968.3 251.8,968.0 253.1,968.0 255.0,967.5 256.3,967.3 257.9,965.9 259.5,964.1 261.2,962.8 262.8,962.6 264.2,962.5 265.8,963.3 267.0,964.0 268.3,964.3 270.0,965.8 271.2,967.0 272.5,967.5 273.9,967.9 275.4,969.3 276.9,969.8 278.4,969.9 280.0,970.8 281.6,970.6 283.3,970.7 285.0,970.9 286.7,969.2 288.4,969.3 290.1,968.7 291.7,968.3 293.5,967.9 295.2,966.9 296.9,967.8 298.5,967.4 300.1,967.1 301.7,965.8 303.3,965.3 304.8,964.9 306.3,963.5 307.8,962.8 309.3,961.5 310.8,961.3 312.3,961.4 313.8,961.5 315.3,961.6 316.9,962.6 318.4,963.0 320.0,964.2 321.4,964.2 322.7,965.3 324.1,965.9 325.4,967.9 326.9,968.5 328.4,968.7 330.0,968.7 331.5,969.4 333.2,968.8 335.0,969.6 336.9,968.8 338.7,969.4 340.4,969.5 341.9,969.7 343.3,970.0 345.4,970.7 347.1,970.2 348.5,972.0 350.0,970.8 351.6,970.0 353.2,969.9 354.9,967.8 356.7,968.3 358.2,969.0 359.7,968.5 361.4,969.9 363.1,970.5 365.0,970.8 366.5,971.2 368.1,970.9 369.8,970.6 371.5,970.0 373.3,970.7 375.0,969.2 376.7,969.2 378.4,969.0 380.0,968.5 381.7,968.6 383.3,967.9 385.0,968.0 386.6,968.5 388.3,968.3 389.8,968.2 391.2,969.1 392.7,969.1 394.1,970.6 395.6,970.3 397.1,971.7 398.5,971.3 400.0,971.2 401.5,971.0 403.0,971.4 404.5,971.1 406.0,970.9 407.4,970.3 408.9,969.6 410.3,968.1 411.7,968.3 413.5,968.2 415.3,967.1 417.0,966.7 418.7,966.5 420.2,965.1 421.7,965.3 423.5,966.2 424.9,967.4 426.4,967.2 428.3,967.5 429.7,967.6 431.1,968.7 432.7,968.3 434.4,968.9 436.1,969.1 438.0,967.7 440.0,968.3 441.3,968.2 442.8,967.0 444.3,966.9 445.8,967.1 447.4,965.7 449.1,965.4 450.7,965.1 452.3,965.0 453.8,964.7 455.3,964.5 456.7,964.2 458.4,964.1 460.0,964.3 461.6,965.5 463.1,965.5 464.6,966.2 466.1,967.6 467.4,967.4 468.8,967.7 470.0,968.3 471.7,968.7 473.1,967.7 474.5,966.0 475.7,965.9 477.0,966.3 478.3,964.2 479.3,964.5 480.4,961.6 481.4,960.5 482.4,959.0 483.4,957.2 484.5,954.8 485.6,955.2 486.7,954.2 488.1,954.3 489.5,954.6 491.0,954.9 492.4,956.5 493.9,957.9 495.3,958.9 496.7,959.7 498.4,960.2 500.0,960.1 501.5,960.8 503.1,960.7 505.0,960.8 506.3,960.7 507.6,961.6 509.0,962.9 510.4,963.3 511.9,965.0 513.5,964.8 515.1,965.6 516.7,965.8 518.1,966.1 519.6,965.1 521.2,966.0 522.8,964.9 524.4,964.2 526.0,963.7 527.6,962.8 529.1,962.5 530.5,963.5 531.7,962.5 533.9,961.9 535.7,961.4 537.4,961.3 538.8,961.2 540.0,960.8 541.6,960.9 543.3,961.7 544.7,961.2 546.3,960.9 548.1,960.6 549.9,959.8 551.7,959.5 553.3,960.7 554.9,960.6 556.6,961.4 558.2,961.6 560.0,962.5 561.4,962.1 562.8,961.9 564.3,960.6 565.9,959.7 567.3,958.4 568.7,957.8 570.0,957.5 571.9,956.6 573.7,956.3 575.2,956.6 576.7,955.8 578.6,955.7 580.3,955.7 581.7,955.5 582.3,958.1 583.3,959.2 584.2,958.8 585.4,959.2 586.7,957.8 588.2,956.4 589.8,956.0 591.7,955.8 593.0,955.5 594.4,954.5 596.0,956.2 597.6,954.8 599.3,955.1 601.0,953.9 602.6,954.4 604.1,954.4 605.5,953.8 606.7,954.2 608.9,954.4 610.4,954.5 611.7,955.2 613.3,955.8 614.6,955.9 615.9,957.6 617.3,958.1 618.7,958.9 620.2,959.2 621.7,961.3 623.1,962.0 624.5,962.9 626.0,965.3 627.4,964.4 628.9,966.6 630.3,967.0 631.7,966.7 633.1,966.6 634.5,965.8 635.7,965.0 637.0,962.9 638.4,963.6 640.0,962.5 641.3,962.4 642.8,962.5 644.3,963.4 645.9,962.6 647.4,963.9 648.9,964.5 650.4,964.8 651.7,965.8 653.7,966.0 655.5,966.1 657.2,964.7 658.7,964.1 660.0,964.2 661.4,965.7 663.3,967.2 664.5,967.2 666.0,967.7 667.7,967.9 669.5,967.7 671.4,967.8 673.3,968.1 675.0,968.3 676.7,968.6 678.4,969.2 680.2,968.5 681.9,969.1 683.6,969.7 685.2,970.3 686.7,970.0 688.2,968.9 689.6,969.5 690.9,968.7 692.1,966.7 693.5,966.9 695.0,965.8 696.5,964.4 698.1,965.2 699.9,964.4 701.6,965.7 703.4,965.6 705.1,965.7 706.7,965.8 708.2,966.1 709.8,966.7 711.3,968.5 712.7,969.2 714.1,970.8 715.5,970.4 716.7,971.7 718.6,971.7 720.2,970.9 721.7,968.5 723.3,969.2 724.9,968.9 726.4,969.9 728.1,970.8 730.0,971.7 731.5,970.9 733.0,971.6 734.7,970.9 736.4,971.3 738.2,970.4 740.0,971.7 741.4,971.5 742.7,973.2 744.1,972.8 745.5,974.5 747.0,976.2 748.5,976.7 750.1,976.3 751.7,977.5 753.1,978.8 754.6,977.5 756.1,978.2 757.7,978.1 759.3,977.3 760.9,977.7 762.5,975.9 764.0,977.3 765.4,977.3 766.7,977.5 768.4,977.8 769.9,978.8 771.3,980.3 772.7,981.2 774.0,981.3 775.3,982.6 776.7,982.5 778.1,982.8 779.6,981.6 781.0,980.9 782.4,978.5 783.8,978.1 785.3,978.4 786.7,978.0 788.1,977.4 789.6,979.1 791.1,980.0 792.5,979.8 794.0,980.6 795.4,981.8 796.7,982.5 798.5,982.9 800.2,983.2 801.9,982.6 803.5,982.7 805.0,983.0 806.8,983.2 808.4,984.8 810.0,985.3 811.7,986.3 813.3,986.9 815.0,986.7 816.7,985.3 818.4,985.9 820.0,985.3 821.3,983.9 822.5,983.8 823.6,981.6 825.0,981.8 826.7,980.8 827.9,981.3 829.4,982.0 830.9,981.6 832.6,982.0 834.2,983.2 835.9,982.5 837.4,983.6 838.8,983.8 840.0,984.2 841.9,983.9 843.3,982.6 844.4,981.8 845.8,982.5 847.2,981.9 848.7,984.1 850.3,983.9 851.8,984.9 853.3,985.0 855.0,984.7 856.7,984.1 858.3,984.3 860.0,983.3 861.6,982.1 863.3,983.4 864.9,983.4 866.7,983.7 868.0,983.1 869.3,982.8 870.8,982.8 872.2,982.5 873.6,982.6 875.0,980.0 875.4,978.6 875.9,977.6 876.4,976.4 876.8,975.4 877.3,974.0 877.8,971.9 878.2,970.0 878.7,968.4 879.2,965.9 879.6,964.6 880.1,963.5 880.5,960.5 881.0,958.7 881.4,956.7 881.8,956.0 882.2,954.9 882.6,953.2 883.0,952.3 883.3,951.7 885.0,950.4 886.3,951.4 887.5,954.2 888.0,955.5 888.4,956.2 888.9,958.4 889.3,959.8 889.8,960.9 890.2,962.3 890.7,965.5 891.2,965.4 891.7,967.5 892.2,968.6 892.7,969.6 893.2,973.2 893.7,974.8 894.2,976.6 894.8,977.5 895.4,979.5 896.0,980.0 896.7,980.8 897.4,979.9 898.2,979.7 899.0,978.8 899.9,977.2 900.7,975.4 901.6,974.3 902.5,972.4 903.4,970.5 904.2,969.6 905.0,968.3 906.4,966.5 907.7,964.8 909.0,963.3 910.3,962.7 911.7,963.3 912.2,963.7 912.7,965.7 913.2,966.8 913.8,967.5 914.3,970.1 914.8,971.3 915.4,972.6 915.9,975.0 916.5,976.3 917.0,979.3 917.6,979.9 918.2,982.9 918.8,983.1 919.4,984.7 920.0,985.8 921.6,987.9 923.3,988.2 925.1,987.4 926.8,987.9 928.5,986.8 930.0,987.5 931.9,987.2 933.5,985.4 935.0,985.0 936.7,984.7 937.9,984.8 939.1,984.7 940.3,986.3 941.7,987.8 943.2,987.2 945.0,988.3 946.3,988.3 947.8,989.1 949.4,989.8 951.1,989.1 952.8,989.9 954.5,990.3 956.1,990.8 957.6,989.9 958.9,991.4 960.0,990.0 961.4,989.8 962.0,986.3 962.4,984.5 962.7,983.2 963.3,981.7 965.2,980.3 967.4,980.1 969.2,980.8 970.2,982.3 970.8,984.1 971.7,985.8 973.2,984.9 974.9,984.0 976.7,983.3 978.0,983.7 979.2,985.4 980.5,986.9 981.7,987.0 982.9,986.9 984.1,985.1 985.3,984.8 986.7,983.3 987.9,983.6 989.1,985.3 990.3,987.0 991.7,987.3 993.3,988.0 994.8,988.7 996.5,988.3 998.2,988.3 1000.0,988.5 1001.7,988.2 1003.3,987.0 1004.2,986.2 1005.0,985.0 1005.8,983.1 1006.6,981.1 1007.3,979.0 1008.0,977.5 1008.7,975.9 1009.4,974.6 1010.1,973.1 1010.8,973.3 1011.6,974.2 1012.4,975.2 1013.2,976.3 1013.9,977.9 1014.6,980.7 1015.3,982.0 1016.0,983.7 1016.7,985.0 1018.4,986.9 1019.9,987.0 1021.7,987.5 1023.3,987.3 1025.0,986.4 1026.7,986.4 1028.3,985.8 1030.0,986.2 1031.6,986.9 1033.3,987.5 1034.5,988.5 1035.8,989.5 1037.1,990.6 1038.5,991.8 1040.0,992.0 1041.6,991.6 1043.2,991.3 1044.9,991.5 1046.6,991.1 1048.3,990.8 1049.9,990.6 1051.4,991.6 1053.0,991.2 1054.7,991.6 1056.7,990.8 1058.0,990.5 1059.5,989.4 1061.0,988.9 1062.6,989.6 1064.3,988.5 1065.9,987.8 1067.4,988.2 1068.8,988.0 1070.0,987.0 1072.1,987.2 1073.8,988.1 1075.2,987.9 1076.7,988.3 1078.1,987.4 1079.4,986.2 1080.9,986.8 1083.3,986.3 1084.5,985.8 1085.8,986.8 1087.2,987.6 1088.8,988.5 1090.4,988.1 1092.1,989.6 1093.8,990.1 1095.4,991.8 1097.0,991.6 1098.6,991.9 1100.0,992.5 1101.9,993.5 1103.7,992.7 1105.5,992.8 1107.3,992.3 1108.9,991.7 1110.5,991.8 1112.0,990.7 1113.3,990.8 1115.4,989.3 1116.9,988.7 1118.2,988.6 1120.0,988.3 1121.1,988.6 1122.4,990.1 1123.7,990.9 1125.1,991.8 1126.5,993.3 1127.8,994.0 1129.0,994.7 1130.0,995.0 1131.5,994.4 1132.5,992.9 1135.0,992.0 1136.1,991.9 1137.4,992.5 1138.8,992.8 1140.4,992.7 1142.1,992.4 1143.8,992.4 1145.6,992.8 1147.3,992.6 1149.0,993.1 1150.6,993.1 1152.0,993.5 1153.3,993.7 1155.5,993.0 1157.4,994.8 1159.0,995.8 1160.5,995.5 1161.9,997.2 1163.3,996.3 1164.5,995.7 1165.5,994.1 1166.4,993.6 1167.4,991.0 1168.5,991.7 1170.0,990.0 1171.2,989.9 1172.4,991.2 1173.8,992.2 1175.3,992.8 1176.8,993.6 1178.4,994.2 1180.0,995.4 1181.6,996.3 1183.3,996.7 1184.7,997.4 1186.3,995.9 1187.9,997.3 1189.6,996.4 1191.3,996.6 1193.0,996.7 1194.6,996.2 1196.2,996.6 1197.6,995.4 1198.9,996.2 1200.0,995.8 1202.4,994.3 1203.5,993.4 1205.0,993.3 1206.2,993.9 1207.5,994.4 1208.9,996.7 1210.4,998.9 1211.9,998.5 1213.3,999.2 1214.5,998.4 1215.7,998.8 1217.0,997.8 1218.2,994.7 1219.4,994.3 1220.6,992.9 1221.7,992.5 1223.5,991.7 1225.1,991.0 1226.7,990.1 1228.3,990.0 1229.6,988.9 1230.8,988.5 1232.0,986.5 1233.4,986.4 1235.0,986.3 1236.0,987.1 1237.2,988.5 1238.4,988.9 1239.6,990.1 1240.9,990.9 1242.2,992.7 1243.4,994.3 1244.6,994.7 1245.8,995.0 1247.5,995.6 1249.1,994.1 1250.8,993.8 1252.3,992.2 1253.7,991.0 1255.0,990.8 1257.1,990.6 1258.7,992.1 1260.0,991.7 1261.2,990.1 1262.5,988.0 1264.0,987.7 1265.9,988.0 1268.3,989.2 1269.4,990.3 1270.6,990.7 1271.9,992.7 1273.2,993.6 1274.6,994.4 1275.9,995.7 1277.2,996.3 1278.3,997.5 1280.3,997.8 1282.1,998.4 1283.6,998.1 1285.0,997.5 1285.6,996.3 1286.2,994.8 1286.6,993.1 1287.1,991.9 1287.4,989.4 1287.9,987.3 1288.3,987.5 1290.0,986.2 1291.7,985.8 1292.2,986.7 1292.7,988.1 1293.1,990.2 1293.6,992.0 1294.1,993.8 1294.5,995.1 1295.0,995.8 1296.5,998.3 1298.3,998.3 1299.4,997.9 1300.7,996.3 1302.0,995.0 1303.3,994.2 1304.8,991.9 1306.3,994.3 1308.3,994.2 1309.5,994.8 1310.8,995.5 1312.2,997.8 1313.8,998.2 1315.3,999.9 1316.8,1000.1 1318.3,1000.8 1319.7,999.9 1321.2,1000.1 1322.7,998.5 1324.1,996.3 1325.6,996.1 1327.0,995.2 1328.3,994.2 1330.1,993.9 1331.7,994.7 1333.3,995.6 1334.9,996.5 1336.7,997.0 1337.8,998.2 1339.0,999.5 1340.1,1001.4 1341.3,1002.2 1342.5,1003.3 1343.8,1004.5 1345.2,1007.0 1346.7,1005.8 1347.9,1005.2 1349.2,1005.2 1350.6,1003.6 1352.1,1003.6 1353.6,1002.5 1355.1,1001.5 1356.5,1000.9 1358.0,1000.3 1359.3,998.9 1360.6,997.8 1361.7,998.0 1363.5,998.1 1365.1,999.5 1366.5,1000.6 1367.7,1002.5 1368.9,1004.0 1370.0,1004.2 1371.2,1003.6 1372.2,1002.9 1373.0,999.3 1373.9,998.6 1375.0,998.0 1376.0,999.2 1377.0,999.6 1378.0,1001.1 1379.2,1004.8 1380.4,1005.7 1381.7,1005.8 1382.8,1005.8 1384.2,1005.3 1385.6,1003.1 1387.0,1001.8 1388.4,1001.7 1389.7,999.8 1390.8,998.0 1391.7,998.3 1392.5,1000.0 1393.3,1001.7 1394.0,1002.0 1395.0,999.9 1396.0,998.6 1397.2,997.1 1398.4,996.9 1399.7,995.7 1400.9,994.2 1402.1,993.1 1403.3,992.5 1404.7,991.3 1406.2,990.0 1407.6,988.9 1409.0,988.8 1410.4,987.6 1411.9,987.6 1413.3,987.5 1414.4,987.2 1415.6,988.7 1416.8,991.0 1417.9,992.2 1419.1,994.2 1420.2,994.6 1421.3,997.0 1422.3,997.4 1423.3,998.3 1424.8,998.2 1426.1,996.8 1427.4,995.1 1428.6,993.5 1430.0,993.0 1431.6,992.4 1433.4,992.7 1435.1,991.6 1436.8,991.9 1438.3,992.5 1439.7,992.6 1440.7,993.6 1441.8,995.6 1443.3,996.7 1444.3,997.4 1445.5,998.3 1446.8,1000.4 1448.2,1001.6 1449.6,1002.8 1450.9,1003.8 1452.2,1004.3 1453.3,1005.0 1454.9,1005.1 1456.2,1003.1 1457.5,1002.0 1458.7,1000.6 1460.0,1000.0 1461.3,1001.3 1462.6,1002.2 1463.9,1004.5 1465.3,1004.6 1466.7,1005.8 1467.7,1005.3 1468.7,1004.3 1469.7,1002.8 1470.8,1000.2 1471.8,999.9 1472.9,997.7 1474.0,996.4 1475.0,995.8 1476.6,995.6 1478.1,994.2 1479.6,994.6 1481.3,993.5 1483.3,995.0 1484.4,995.9 1485.7,996.5 1487.0,997.7 1488.4,998.3 1489.8,1000.2 1491.2,1001.1 1492.7,1003.0 1494.1,1003.0 1495.4,1003.1 1496.7,1004.2 1498.1,1004.6 1499.5,1003.0 1500.9,1002.6 1502.2,1002.1 1503.6,1001.4 1504.9,999.8 1506.1,998.8 1507.2,997.7 1508.3,997.0 1510.2,996.4 1511.6,996.1 1513.1,996.5 1515.0,996.7 1516.2,996.5 1517.5,997.5 1518.9,998.5 1520.3,998.6 1521.9,999.0 1523.4,999.9 1525.0,999.4 1526.7,1000.0 1528.1,999.8 1529.6,1000.8 1531.3,999.7 1532.9,999.2 1534.6,998.3 1536.3,997.5 1537.8,996.9 1539.3,997.1 1540.6,997.4 1541.7,996.7 1544.0,997.4 1545.3,999.2 1546.7,999.7 1548.2,999.4 1549.8,999.0 1551.5,998.6 1553.3,998.3 1554.8,1000.0 1556.5,999.2 1558.1,999.4 1559.9,1001.1 1561.7,1001.3 1563.0,1001.8 1564.2,1002.8 1565.4,1002.9 1566.7,1004.3 1568.2,1004.1 1569.8,1004.9 1571.7,1004.7 1573.0,1004.3 1574.4,1003.8 1575.9,1003.9 1577.6,1003.2 1579.2,1001.4 1581.0,1002.0 1582.7,1001.4 1584.3,1000.4 1585.9,999.9 1587.4,999.4 1588.8,999.0 1590.0,998.7 1591.9,998.7 1593.3,1000.0 1594.5,1001.0 1595.5,1000.9 1596.7,1002.2 1598.3,1002.5 1599.6,1002.0 1600.9,1002.0 1602.3,1002.4 1603.8,1001.5 1605.4,1001.1 1606.9,1000.4 1608.5,1001.3 1610.1,1000.4 1611.7,999.7 1613.2,999.9 1614.8,999.9 1616.4,1000.9 1618.1,1000.9 1619.8,1000.7 1621.4,1000.8 1623.0,1000.5 1624.4,1001.9 1625.6,1002.2 1626.7,1001.3 1628.7,1001.2 1629.5,998.4 1630.8,997.5 1631.9,998.4 1633.3,998.1 1634.7,1000.6 1636.2,1001.3 1637.7,1002.3 1639.2,1003.3 1640.7,1002.9 1642.3,1002.5 1643.9,1002.1 1645.4,1002.0 1646.9,1000.8 1648.3,1000.8 1650.2,1000.7 1651.9,1001.3 1653.5,1002.7 1655.0,1001.3 1655.9,1000.7 1656.7,998.4 1657.5,997.3 1658.2,996.0 1659.0,993.9 1660.0,993.3 1661.1,994.0 1662.4,995.3 1663.7,995.6 1665.0,997.8 1666.3,998.8 1667.5,999.2 1668.5,998.8 1669.5,997.5 1670.3,994.6 1671.2,992.2 1672.2,991.4 1673.3,991.3 1674.1,991.9 1675.0,992.7 1676.0,994.7 1677.0,995.8 1677.9,998.5 1678.9,1000.4 1679.9,1002.6 1680.8,1002.9 1681.7,1003.7 1683.1,1004.3 1684.4,1002.5 1685.7,1001.1 1687.0,999.8 1688.3,999.7 1689.5,1000.1 1690.7,1000.6 1692.0,1001.6 1693.3,1004.8 1694.5,1004.4 1695.8,1004.7 1696.8,1004.0 1697.9,1002.9 1698.9,1001.0 1699.9,999.3 1701.0,998.3 1702.1,996.6 1703.3,995.8 1704.6,996.4 1706.0,996.0 1707.4,997.8 1708.9,998.2 1710.4,999.0 1711.8,1000.5 1713.3,1000.0 1714.3,999.5 1715.4,998.7 1716.4,997.3 1717.5,994.6 1718.5,994.1 1719.5,993.2 1720.5,990.8 1721.5,989.8 1722.4,988.9 1723.3,987.5 1725.3,988.0 1727.0,986.7 1728.6,988.9 1730.0,989.7 1731.5,989.0 1732.6,987.8 1734.2,988.0 1735.1,989.2 1736.1,989.3 1737.1,990.1 1738.3,992.9 1739.4,994.1 1740.6,995.9 1741.7,996.3 1743.4,997.4 1745.2,997.2 1747.0,997.6 1748.6,996.3 1750.0,997.0 1751.3,998.6 1753.3,999.2 1754.3,998.2 1755.4,999.1 1756.8,997.3 1758.3,997.0 1759.8,995.8 1761.3,994.9 1762.9,994.2 1764.3,993.5 1765.6,992.7 1766.7,992.0 1768.8,992.2 1770.3,993.5 1771.7,993.4 1773.3,995.0 1775.0,994.6 1776.8,995.6 1778.7,994.8 1780.4,993.4 1781.7,993.3 1782.7,991.3 1783.1,989.5 1783.5,988.0 1784.2,986.7 1785.5,985.9 1787.1,984.5 1788.6,984.3 1790.0,984.2 1790.6,984.5 1791.1,986.6 1791.5,988.5 1791.9,990.5 1792.5,992.2 1793.3,993.0 1794.7,993.7 1796.3,994.4 1798.1,994.5 1799.9,993.9 1801.7,993.3 1803.1,992.2 1804.4,991.6 1805.8,990.6 1807.1,990.8 1808.5,989.5 1810.0,988.3 1811.6,987.7 1813.3,987.0 1815.0,986.6 1816.8,987.2 1818.5,985.9 1820.0,985.3 1821.4,984.0 1822.6,982.6 1823.8,981.9 1825.0,979.4 1826.2,979.2 1827.5,979.2 1828.6,979.9 1829.6,980.8 1830.7,981.8 1831.8,982.6 1833.0,984.5 1834.2,986.3 1835.4,986.2 1836.7,987.5 1838.2,987.9 1839.9,988.7 1841.6,989.5 1843.3,989.7 1845.0,989.9 1846.7,989.3 1848.3,990.3 1849.8,990.4 1851.3,988.8 1852.7,988.5 1854.1,987.3 1855.5,987.0 1856.9,985.5 1858.3,985.8 1859.7,985.4 1861.2,986.5 1862.7,987.2 1864.1,987.8 1865.6,989.0 1867.0,989.1 1868.3,989.7 1870.1,989.5 1871.8,988.6 1873.4,988.6 1875.1,988.4 1876.7,987.5 1878.4,987.2 1880.0,987.2 1881.7,987.7 1883.3,986.9 1885.0,986.7 1886.4,985.8 1887.8,985.4 1889.2,985.3 1890.7,983.5 1892.0,982.9 1893.3,982.5 1895.0,982.7 1896.7,982.8 1898.2,983.3 1900.0,983.3 1901.3,983.3 1902.8,980.8 1904.3,980.7 1905.8,979.7 1907.1,978.8 1908.3,977.5 1910.7,978.5 1912.5,976.7 1912.7,976.0 1912.9,974.5 1913.2,972.7 1913.4,972.2 1913.6,970.8 1913.8,969.3 1914.0,968.0 1914.2,966.9 1914.4,964.2 1914.6,962.9 1914.8,960.4 1915.0,958.6 1915.2,956.2 1915.4,955.0 1915.6,952.9 1915.8,951.6 1916.0,950.0 1916.2,947.7 1916.4,947.1 1916.6,943.9 1916.8,942.9 1917.0,939.7 1917.2,938.6 1917.4,936.8 1917.6,935.1 1917.8,933.6 1918.0,930.6 1918.2,929.6 1918.4,928.3 1918.6,927.3 1918.8,927.1 1919.0,925.7 1919.2,925.8 1919.4,925.5 1919.6,926.2 1919.8,927.8 1920.0,928.1 1920.2,928.9 1920.4,931.1 1920.6,933.6 1920.8,935.6 1921.0,936.4 1921.2,938.4 1921.4,941.1 1921.6,943.2 1921.8,944.7 1922.0,946.6 1922.3,948.8 1922.5,950.0 1922.7,950.8 1923.0,953.9 1923.2,954.4 1923.4,955.6 1923.6,958.9 1923.8,960.0 1924.1,962.1 1924.3,962.7 1924.5,965.3 1924.8,966.9 1925.1,968.4 1925.3,969.9 1925.6,971.2 1926.0,972.6 1926.3,973.3 1926.7,975.0 1927.6,978.0 1928.6,978.6 1929.7,979.7 1930.8,981.8 1931.9,982.5 1933.1,983.1 1934.1,985.5 1935.0,984.2 1936.0,984.0 1936.9,981.8 1937.7,980.8 1938.5,979.1 1939.2,977.7 1940.0,976.7 1941.7,976.3 1943.5,976.3 1945.0,976.7 1945.9,979.1 1946.6,980.1 1948.3,981.7 1949.5,981.7 1951.0,982.4 1952.7,982.3 1954.5,981.4 1956.4,980.9 1958.3,981.3 1960.0,980.3 1961.5,980.1 1963.0,979.6 1964.5,978.7 1966.1,977.6 1967.6,976.6 1969.0,975.9 1970.4,975.3 1971.7,975.0 1973.3,974.6 1974.8,976.0 1976.2,977.0 1977.5,977.9 1978.7,978.0 1980.0,978.7 1981.8,978.6 1983.4,978.8 1984.9,978.3 1986.7,977.5 1988.3,977.3 1989.9,977.5 1991.6,978.9 1993.3,978.4 1995.0,979.2 1996.7,979.7 1998.4,978.0 2000.0,977.5 2001.7,975.5 2003.3,975.8 2004.8,975.5 2006.3,975.2 2007.7,974.2 2009.2,975.9 2010.8,975.4 2012.0,975.9 2013.2,976.8 2014.4,977.3 2015.7,978.5 2017.0,979.7 2018.4,980.5 2020.0,981.1 2021.3,981.9 2022.8,981.6 2024.4,983.0 2026.0,983.1 2027.7,984.4 2029.3,984.4 2030.9,984.4 2032.4,986.3 2033.7,985.7 2035.4,985.4 2036.8,984.8 2038.0,984.2 2039.3,983.3 2040.9,983.0 2042.9,982.3 2044.1,983.1 2045.5,982.2 2046.9,982.8 2048.5,983.0 2050.1,982.3 2051.8,983.5 2053.4,983.9 2055.1,983.6 2056.7,983.7 2058.3,983.5 2059.8,984.6 2061.2,984.1 2063.0,983.6 2064.7,983.8 2066.4,982.7 2068.0,982.8 2069.6,981.7 2071.1,981.6 2072.5,982.0 2073.8,980.8 2075.0,981.1 2077.3,980.8 2079.2,981.8 2080.7,982.3 2081.9,981.1 2082.2,979.6 2082.4,979.1 2082.6,977.5 2082.8,976.6 2082.9,974.9 2083.1,973.1 2083.2,971.4 2083.2,969.6 2083.3,966.7 2083.4,966.9 2083.5,963.3 2083.7,963.3 2083.8,960.8 2084.0,960.0 2084.4,956.6 2084.9,954.8 2085.4,952.4 2086.0,951.7 2086.5,950.1 2087.1,950.6 2087.6,949.0 2088.1,949.4 2088.6,950.0 2089.1,952.4 2089.6,955.1 2090.1,955.3 2090.6,957.4 2091.0,960.0 2091.2,961.4 2091.4,962.4 2091.6,964.4 2091.7,967.5 2091.9,969.2 2092.0,971.1 2092.2,972.4 2092.4,974.6 2092.6,974.7 2092.9,977.4 2093.3,977.7 2094.6,977.8 2096.3,977.4 2098.2,977.0 2100.2,976.5 2101.6,976.5 2103.0,978.1 2104.5,979.3 2106.1,980.7 2107.7,980.8 2109.4,981.1 2110.7,980.7 2112.1,979.8 2113.6,978.8 2115.1,977.6 2116.6,976.5 2118.1,975.7 2119.5,975.2 2120.8,974.2 2122.5,974.3 2124.0,973.1 2125.5,975.4 2127.0,975.2 2128.5,976.4 2130.0,977.7 2131.5,978.6 2133.1,977.9 2134.6,979.6 2136.1,980.8 2137.7,981.3 2139.2,981.8 2140.8,981.8 2142.5,981.6 2144.2,983.3 2145.8,981.7 2147.2,981.8 2148.3,981.8 2149.2,980.9 2149.6,978.8 2149.9,977.4 2150.6,975.9 2152.1,976.1 2154.0,975.0 2156.0,976.2 2157.5,976.5 2158.0,977.3 2158.0,979.3 2159.8,980.4 2160.8,980.4 2162.0,980.1 2163.4,980.6 2164.9,980.1 2166.5,982.0 2168.2,981.7 2170.0,980.4 2171.7,979.4 2173.5,978.7 2175.1,979.0 2176.7,980.3 2178.1,979.5 2179.8,978.5 2181.5,978.5 2183.1,977.8 2184.6,977.2 2186.1,976.6 2187.6,976.1 2189.0,976.7 2190.4,975.7 2191.8,975.4 2193.5,976.6 2195.0,976.1 2196.5,976.6 2198.0,978.2 2199.6,977.5 2201.3,979.1 2203.3,978.8 2204.6,978.6 2206.0,979.9 2207.4,979.6 2208.9,980.0 2210.4,979.8 2212.0,981.5 2213.6,980.7 2215.2,980.1 2216.9,981.6 2218.5,980.2 2220.0,980.9 2221.6,980.4 2223.1,980.7 2224.7,980.0 2226.2,979.9 2227.7,978.9 2229.3,978.8 2230.8,977.6 2232.3,977.2 2233.9,976.7 2235.4,976.6 2236.9,975.9 2238.5,976.5 2240.0,975.4 2241.5,975.0 2243.1,976.5 2244.7,975.3 2246.3,975.4 2247.9,975.4 2249.4,976.2 2251.0,975.6 2252.5,976.4 2254.1,976.1 2255.5,975.5 2256.9,976.5 2258.3,976.5 2260.0,977.6 2261.7,976.4 2263.2,977.4 2264.7,976.6 2266.2,977.9 2267.6,976.8 2269.0,977.1 2270.5,977.4 2272.0,977.2 2273.5,977.1 2275.1,976.5 2276.7,977.1 2278.3,976.1 2279.8,974.8 2281.4,974.8 2282.9,974.1 2284.4,973.7 2285.8,973.1 2287.6,972.5 2289.2,971.9 2290.8,971.7 2292.4,970.7 2294.0,970.9 2295.6,972.2 2297.2,970.8 2298.6,970.9 2300.1,970.7 2301.6,972.3 2303.1,972.8 2304.6,973.3 2306.0,974.6 2307.4,975.0 2308.7,975.4 2310.2,975.9 2311.3,976.0 2312.4,974.0 2313.7,974.2 2315.5,973.1 2317.9,973.6 2319.1,973.0 2320.4,973.5 2322.0,973.8 2323.6,973.2 2325.4,974.4 2327.3,972.6 2329.1,973.5 2331.0,973.6 2332.9,973.0 2334.7,973.4 2336.5,972.7 2338.1,972.9 2339.6,973.5 2341.0,973.0 2342.1,973.7 2343.0,973.6" fill="none" stroke="#dc143c" stroke-width="1.60" stroke-linejoin="round"/></g>
<rect x="59.5" y="645.5" width="2284.0" height="504.0" fill="none" stroke="#000" stroke-width="1.1"/>
<path d="M59.5 1149.50h-7.0M2343.5 1149.50h7.0M59.5 1128.50h-3.5M2343.5 1128.50h3.5M59.5 1107.50h-3.5M2343.5 1107.50h3.5M59.5 1086.50h-3.5M2343.5 1086.50h3.5M59.5 1065.50h-7.0M2343.5 1065.50h7.0M59.5 1044.50h-3.5M2343.5 1044.50h3.5M59.5 1023.50h-3.5M2343.5 1023.50h3.5M59.5 1002.50h-3.5M2343.5 1002.50h3.5M59.5 981.50h-7.0M2343.5 981.50h7.0M59.5 960.50h-3.5M2343.5 960.50h3.5M59.5 939.50h-3.5M2343.5 939.50h3.5M59.5 918.50h-3.5M2343.5 918.50h3.5M59.5 897.50h-7.0M2343.5 897.50h7.0M59.5 876.50h-3.5M2343.5 876.50h3.5M59.5 855.50h-3.5M2343.5 855.50h3.5M59.5 834.50h-3.5M2343.5 834.50h3.5M59.5 813.50h-7.0M2343.5 813.50h7.0M59.5 792.50h-3.5M2343.5 792.50h3.5M59.5 771.50h-3.5M2343.5 771.50h3.5M59.5 750.50h-3.5M2343.5 750.50h3.5M59.5 729.50h-7.0M2343.5 729.50h7.0M59.5 708.50h-3.5M2343.5 708.50h3.5M59.5 687.50h-3.5M2343.5 687.50h3.5M59.5 666.50h-3.5M2343.5 666.50h3.5M59.5 645.50h-7.0M2343.5 645.50h7.0M59.50 1149.5v7.0M106.50 1149.5v3.5M154.50 1149.5v3.5M202.50 1149.5v3.5M249.50 1149.5v7.0M297.50 1149.5v3.5M344.50 1149.5v3.5M392.50 1149.5v3.5M439.50 1149.5v7.0M487.50 1149.5v3.5M535.50 1149.5v3.5M582.50 1149.5v3.5M630.50 1149.5v7.0M677.50 1149.5v3.5M725.50 1149.5v3.5M773.50 1149.5v3.5M820.50 1149.5v7.0M868.50 1149.5v3.5M915.50 1149.5v3.5M963.50 1149.5v3.5M1010.50 1149.5v7.0M1058.50 1149.5v3.5M1106.50 1149.5v3.5M1153.50 1149.5v3.5M1201.50 1149.5v7.0M1248.50 1149.5v3.5M1296.50 1149.5v3.5M1344.50 1149.5v3.5M1391.50 1149.5v7.0M1439.50 1149.5v3.5M1486.50 1149.5v3.5M1534.50 1149.5v3.5M1581.50 1149.5v7.0M1629.50 1149.5v3.5M1677.50 1149.5v3.5M1724.50 1149.5v3.5M1772.50 1149.5v7.0M1819.50 1149.5v3.5M1867.50 1149.5v3.5M1915.50 1149.5v3.5M1962.50 1149.5v7.0M2010.50 1149.5v3.5M2057.50 1149.5v3.5M2105.50 1149.5v3.5M2152.50 1149.5v7.0M2200.50 1149.5v3.5M2248.50 1149.5v3.5M2295.50 1149.5v3.5" stroke="#000" stroke-width="0.85" fill="none"/>
<text x="46.50" y="1152.10" font-size="10.60" text-anchor="end" textLength="9.40" lengthAdjust="spacingAndGlyphs">36</text>
<text x="2355.50" y="1152.10" font-size="10.60" text-anchor="start" textLength="9.40" lengthAdjust="spacingAndGlyphs">36</text>
<text x="46.50" y="1068.10" font-size="10.60" text-anchor="end" textLength="9.40" lengthAdjust="spacingAndGlyphs">48</text>
<text x="2355.50" y="1068.10" font-size="10.60" text-anchor="start" textLength="9.40" lengthAdjust="spacingAndGlyphs">48</text>
<text x="46.50" y="984.10" font-size="10.60" text-anchor="end" textLength="9.40" lengthAdjust="spacingAndGlyphs">60</text>
<text x="2355.50" y="984.10" font-size="10.60" text-anchor="start" textLength="9.40" lengthAdjust="spacingAndGlyphs">60</text>
<text x="46.50" y="900.10" font-size="10.60" text-anchor="end" textLength="9.40" lengthAdjust="spacingAndGlyphs">72</text>
<text x="2355.50" y="900.10" font-size="10.60" text-anchor="start" textLength="9.40" lengthAdjust="spacingAndGlyphs">72</text>
<text x="46.50" y="816.10" font-size="10.60" text-anchor="end" textLength="9.40" lengthAdjust="spacingAndGlyphs">84</text>
<text x="2355.50" y="816.10" font-size="10.60" text-anchor="start" textLength="9.40" lengthAdjust="spacingAndGlyphs">84</text>
<text x="46.50" y="732.10" font-size="10.60" text-anchor="end" textLength="9.40" lengthAdjust="spacingAndGlyphs">96</text>
<text x="2355.50" y="732.10" font-size="10.60" text-anchor="start" textLength="9.40" lengthAdjust="spacingAndGlyphs">96</text>
<text x="46.50" y="648.10" font-size="10.60" text-anchor="end" textLength="14.00" lengthAdjust="spacingAndGlyphs">108</text>
<text x="2355.50" y="648.10" font-size="10.60" text-anchor="start" textLength="14.00" lengthAdjust="spacingAndGlyphs">108</text>
<text x="59.50" y="1168.00" font-size="10.20" text-anchor="middle" textLength="35.80" lengthAdjust="spacingAndGlyphs">00:00:00</text>
<text x="249.50" y="1168.00" font-size="10.20" text-anchor="middle" textLength="35.80" lengthAdjust="spacingAndGlyphs">02:00:00</text>
<text x="439.50" y="1168.00" font-size="10.20" text-anchor="middle" textLength="35.80" lengthAdjust="spacingAndGlyphs">04:00:00</text>
<text x="630.50" y="1168.00" font-size="10.20" text-anchor="middle" textLength="35.80" lengthAdjust="spacingAndGlyphs">06:00:00</text>
<text x="820.50" y="1168.00" font-size="10.20" text-anchor="middle" textLength="35.80" lengthAdjust="spacingAndGlyphs">08:00:00</text>
<text x="1010.50" y="1168.00" font-size="10.20" text-anchor="middle" textLength="35.80" lengthAdjust="spacingAndGlyphs">10:00:00</text>
<text x="1201.50" y="1168.00" font-size="10.20" text-anchor="middle" textLength="35.80" lengthAdjust="spacingAndGlyphs">12:00:00</text>
<text x="1391.50" y="1168.00" font-size="10.20" text-anchor="middle" textLength="35.80" lengthAdjust="spacingAndGlyphs">14:00:00</text>
<text x="1581.50" y="1168.00" font-size="10.20" text-anchor="middle" textLength="35.80" lengthAdjust="spacingAndGlyphs">16:00:00</text>
<text x="1772.50" y="1168.00" font-size="10.20" text-anchor="middle" textLength="35.80" lengthAdjust="spacingAndGlyphs">18:00:00</text>
<text x="1962.50" y="1168.00" font-size="10.20" text-anchor="middle" textLength="35.80" lengthAdjust="spacingAndGlyphs">20:00:00</text>
<text x="2152.50" y="1168.00" font-size="10.20" text-anchor="middle" textLength="35.80" lengthAdjust="spacingAndGlyphs">22:00:00</text>
<text x="1200.40" y="1185.90" font-size="12.50" text-anchor="middle" textLength="24.50" lengthAdjust="spacingAndGlyphs">time</text>
<text x="0.00" y="0.00" font-size="14.40" text-anchor="middle" textLength="40.00" lengthAdjust="spacingAndGlyphs" transform="translate(22.0 897.5) rotate(-90)">dB SPL</text>
<text x="0.00" y="0.00" font-size="14.40" text-anchor="middle" textLength="40.00" lengthAdjust="spacingAndGlyphs" transform="translate(2385.2 897.5) rotate(-90)">dB SPL</text>
<g id="legends"><rect x="2155.5" y="542.5" width="183" height="41" rx="2" fill="#fff8dc" fill-opacity="0.8" stroke="#d2b48c" stroke-opacity="0.8" stroke-width="1"/>
<circle cx="2169.5" cy="550.5" r="2.6" fill="#1e90ff"/>
<text x="2186.5" y="552.9" font-size="10.8" textLength="53" lengthAdjust="spacingAndGlyphs">peak dB(Z)</text>
<path d="M2257.8 550.5H2280" stroke="#4682b4" stroke-width="3"/>
<text x="2286" y="552.9" font-size="10.8" textLength="47.5" lengthAdjust="spacingAndGlyphs">avg dB(Z)</text>
<circle cx="2169.5" cy="562.5" r="2.6" fill="#ff00ff"/>
<text x="2186.5" y="564.9" font-size="10.8" textLength="53" lengthAdjust="spacingAndGlyphs">peak dB(C)</text>
<path d="M2257.8 562.5H2280" stroke="#da70d6" stroke-width="3"/>
<text x="2286" y="564.9" font-size="10.8" textLength="47.5" lengthAdjust="spacingAndGlyphs">avg dB(C)</text>
<circle cx="2169.5" cy="574.5" r="2.6" fill="#2e8b57"/>
<text x="2186.5" y="576.9" font-size="10.8" textLength="53" lengthAdjust="spacingAndGlyphs">peak dB(A)</text>
<path d="M2257.8 574.5H2280" stroke="#9acd32" stroke-width="3"/>
<text x="2286" y="576.9" font-size="10.8" textLength="47.5" lengthAdjust="spacingAndGlyphs">avg dB(A)</text>
<rect x="2276.5" y="1103.5" width="62" height="41" rx="2" fill="#fff8dc" fill-opacity="0.8" stroke="#d2b48c" stroke-opacity="0.8" stroke-width="1"/>
<path d="M2279 1111.5H2301" stroke="#dc143c" stroke-width="3"/>
<text x="2308" y="1114.9" font-size="10.8" textLength="25.5" lengthAdjust="spacingAndGlyphs">dB(Z)</text>
<path d="M2279 1123.5H2301" stroke="#ff8c00" stroke-width="3"/>
<text x="2308" y="1126.9" font-size="10.8" textLength="25.5" lengthAdjust="spacingAndGlyphs">dB(C)</text>
<path d="M2279 1135.5H2301" stroke="#ffd700" stroke-width="3"/>
<text x="2308" y="1138.9" font-size="10.8" textLength="25.5" lengthAdjust="spacingAndGlyphs">dB(A)</text></g>
</svg>
</body></html>
